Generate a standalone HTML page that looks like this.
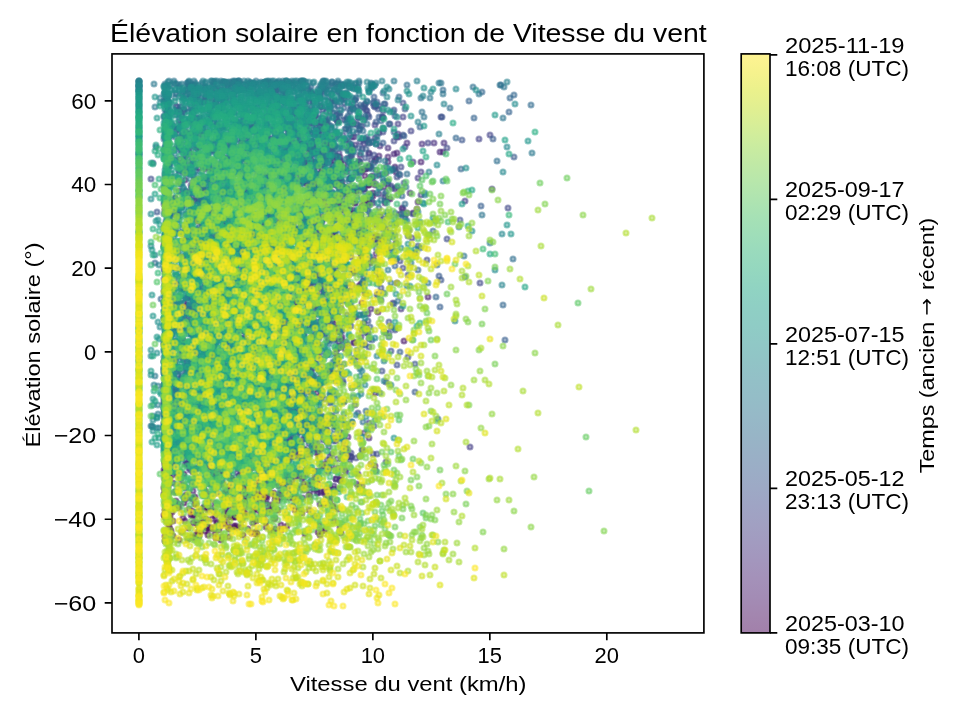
<!DOCTYPE html>
<html><head><meta charset="utf-8"><style>
html,body{margin:0;padding:0;background:#fff;overflow:hidden}
svg{display:block;will-change:transform}
text{font-family:"Liberation Sans",sans-serif;fill:#000}
#sc circle{r:2.5px}
</style></head><body>
<svg width="960" height="720" viewBox="0 0 960 720">
<defs><linearGradient id="cbg" x1="0" y1="1" x2="0" y2="0"><stop offset="0.0000" stop-color="#a280aa"/><stop offset="0.0312" stop-color="#a386af"/><stop offset="0.0625" stop-color="#a38cb5"/><stop offset="0.0938" stop-color="#a491b9"/><stop offset="0.1250" stop-color="#a396bd"/><stop offset="0.1562" stop-color="#a29bc0"/><stop offset="0.1875" stop-color="#a1a0c2"/><stop offset="0.2188" stop-color="#9fa4c4"/><stop offset="0.2500" stop-color="#9da9c5"/><stop offset="0.2812" stop-color="#9badc6"/><stop offset="0.3125" stop-color="#99b1c6"/><stop offset="0.3438" stop-color="#97b5c6"/><stop offset="0.3750" stop-color="#96b9c7"/><stop offset="0.4062" stop-color="#94bdc7"/><stop offset="0.4375" stop-color="#93c0c7"/><stop offset="0.4688" stop-color="#91c4c6"/><stop offset="0.5000" stop-color="#90c8c6"/><stop offset="0.5312" stop-color="#8fccc5"/><stop offset="0.5625" stop-color="#8fcfc4"/><stop offset="0.5938" stop-color="#90d3c2"/><stop offset="0.6250" stop-color="#94d7bf"/><stop offset="0.6562" stop-color="#99dabd"/><stop offset="0.6875" stop-color="#9fdeb9"/><stop offset="0.7188" stop-color="#a6e1b5"/><stop offset="0.7500" stop-color="#afe4b0"/><stop offset="0.7812" stop-color="#b8e7ab"/><stop offset="0.8125" stop-color="#c1e9a5"/><stop offset="0.8438" stop-color="#cbec9f"/><stop offset="0.8750" stop-color="#d6ee98"/><stop offset="0.9062" stop-color="#e1ef91"/><stop offset="0.9375" stop-color="#ebf18c"/><stop offset="0.9688" stop-color="#f6f28d"/><stop offset="1.0000" stop-color="#fef392"/></linearGradient><clipPath id="axc"><rect x="112.0" y="53.9" width="591.90" height="579.00"/></clipPath></defs>
<rect width="960" height="720" fill="#fff"/>
<g id="sc" clip-path="url(#axc)" fill-opacity="0.5" stroke-opacity="0.5" stroke-width="2.1">
<g fill="#450457" stroke="#450457"><circle cx="207" cy="204"/><circle cx="183" cy="247"/><circle cx="206" cy="258"/><circle cx="266" cy="496"/><circle cx="255" cy="519"/><circle cx="200" cy="532"/><circle cx="196" cy="535"/><circle cx="179" cy="540"/><circle cx="170" cy="541"/><circle cx="165" cy="541"/><circle cx="173" cy="536"/><circle cx="215" cy="534"/><circle cx="205" cy="531"/><circle cx="169" cy="520"/><circle cx="169" cy="516"/><circle cx="172" cy="512"/><circle cx="184" cy="474"/><circle cx="238" cy="468"/><circle cx="315" cy="275"/><circle cx="363" cy="269"/><circle cx="370" cy="263"/><circle cx="362" cy="257"/><circle cx="333" cy="236"/><circle cx="368" cy="205"/><circle cx="355" cy="203"/><circle cx="323" cy="241"/><circle cx="304" cy="484"/><circle cx="314" cy="489"/><circle cx="319" cy="525"/><circle cx="322" cy="531"/><circle cx="341" cy="533"/><circle cx="320" cy="535"/><circle cx="188" cy="539"/><circle cx="221" cy="540"/><circle cx="216" cy="538"/><circle cx="192" cy="537"/><circle cx="182" cy="532"/><circle cx="203" cy="519"/><circle cx="263" cy="500"/><circle cx="298" cy="305"/><circle cx="240" cy="225"/><circle cx="362" cy="206"/><circle cx="317" cy="393"/><circle cx="165" cy="465"/><circle cx="164" cy="488"/><circle cx="164" cy="494"/><circle cx="184" cy="503"/><circle cx="204" cy="508"/><circle cx="210" cy="529"/><circle cx="229" cy="537"/><circle cx="194" cy="538"/><circle cx="222" cy="537"/><circle cx="208" cy="535"/><circle cx="237" cy="528"/><circle cx="232" cy="517"/><circle cx="303" cy="477"/><circle cx="318" cy="344"/><circle cx="307" cy="297"/><circle cx="239" cy="249"/><circle cx="265" cy="224"/><circle cx="356" cy="191"/><circle cx="343" cy="193"/><circle cx="362" cy="272"/><circle cx="361" cy="284"/><circle cx="350" cy="291"/><circle cx="312" cy="324"/><circle cx="295" cy="446"/><circle cx="178" cy="507"/><circle cx="192" cy="511"/><circle cx="194" cy="515"/><circle cx="206" cy="519"/><circle cx="198" cy="525"/><circle cx="213" cy="528"/><circle cx="243" cy="535"/><circle cx="165" cy="536"/><circle cx="199" cy="536"/><circle cx="171" cy="531"/><circle cx="170" cy="529"/><circle cx="169" cy="526"/><circle cx="169" cy="523"/><circle cx="164" cy="515"/><circle cx="195" cy="497"/><circle cx="182" cy="289"/></g>
<g fill="#460a5d" stroke="#460a5d"><circle cx="191" cy="200"/><circle cx="175" cy="198"/><circle cx="204" cy="190"/><circle cx="328" cy="496"/><circle cx="330" cy="501"/><circle cx="257" cy="510"/><circle cx="232" cy="517"/><circle cx="275" cy="529"/><circle cx="271" cy="531"/><circle cx="256" cy="534"/><circle cx="257" cy="534"/><circle cx="305" cy="534"/><circle cx="252" cy="533"/><circle cx="198" cy="532"/><circle cx="200" cy="514"/><circle cx="164" cy="404"/><circle cx="202" cy="328"/><circle cx="299" cy="212"/><circle cx="347" cy="208"/><circle cx="344" cy="192"/><circle cx="347" cy="188"/><circle cx="373" cy="196"/><circle cx="369" cy="199"/><circle cx="340" cy="205"/><circle cx="317" cy="213"/><circle cx="186" cy="495"/><circle cx="255" cy="508"/><circle cx="266" cy="522"/><circle cx="241" cy="527"/><circle cx="248" cy="529"/><circle cx="256" cy="532"/><circle cx="318" cy="532"/><circle cx="325" cy="530"/><circle cx="314" cy="516"/><circle cx="334" cy="489"/><circle cx="262" cy="472"/><circle cx="183" cy="340"/><circle cx="178" cy="214"/><circle cx="165" cy="210"/><circle cx="193" cy="472"/><circle cx="230" cy="478"/><circle cx="266" cy="483"/><circle cx="235" cy="507"/><circle cx="252" cy="514"/><circle cx="256" cy="521"/><circle cx="340" cy="527"/><circle cx="281" cy="530"/><circle cx="273" cy="531"/><circle cx="287" cy="526"/><circle cx="334" cy="521"/><circle cx="278" cy="510"/><circle cx="245" cy="502"/><circle cx="245" cy="497"/><circle cx="289" cy="482"/><circle cx="319" cy="421"/><circle cx="315" cy="232"/><circle cx="335" cy="185"/><circle cx="369" cy="185"/><circle cx="344" cy="187"/><circle cx="364" cy="189"/><circle cx="354" cy="191"/><circle cx="373" cy="193"/><circle cx="390" cy="199"/><circle cx="350" cy="210"/><circle cx="314" cy="306"/><circle cx="306" cy="471"/><circle cx="267" cy="497"/><circle cx="271" cy="505"/><circle cx="266" cy="527"/><circle cx="216" cy="529"/><circle cx="219" cy="530"/><circle cx="229" cy="529"/><circle cx="281" cy="525"/><circle cx="173" cy="464"/><circle cx="332" cy="392"/></g>
<g fill="#471063" stroke="#471063"><circle cx="228" cy="217"/><circle cx="225" cy="222"/><circle cx="361" cy="254"/><circle cx="374" cy="260"/><circle cx="378" cy="312"/><circle cx="279" cy="486"/><circle cx="228" cy="500"/><circle cx="195" cy="504"/><circle cx="191" cy="515"/><circle cx="183" cy="518"/><circle cx="196" cy="522"/><circle cx="220" cy="526"/><circle cx="209" cy="527"/><circle cx="207" cy="528"/><circle cx="234" cy="528"/><circle cx="229" cy="528"/><circle cx="207" cy="527"/><circle cx="188" cy="528"/><circle cx="253" cy="523"/><circle cx="261" cy="514"/><circle cx="182" cy="450"/><circle cx="183" cy="257"/><circle cx="164" cy="245"/><circle cx="342" cy="182"/><circle cx="307" cy="184"/><circle cx="353" cy="271"/><circle cx="380" cy="278"/><circle cx="244" cy="331"/><circle cx="307" cy="469"/><circle cx="336" cy="479"/><circle cx="285" cy="489"/><circle cx="281" cy="494"/><circle cx="293" cy="498"/><circle cx="273" cy="506"/><circle cx="264" cy="513"/><circle cx="173" cy="521"/><circle cx="228" cy="524"/><circle cx="234" cy="526"/><circle cx="236" cy="526"/><circle cx="203" cy="523"/><circle cx="185" cy="521"/><circle cx="165" cy="516"/><circle cx="166" cy="513"/><circle cx="176" cy="501"/><circle cx="206" cy="492"/><circle cx="173" cy="483"/><circle cx="165" cy="472"/><circle cx="333" cy="320"/><circle cx="345" cy="261"/><circle cx="396" cy="243"/><circle cx="363" cy="238"/><circle cx="362" cy="232"/><circle cx="353" cy="222"/><circle cx="330" cy="212"/><circle cx="368" cy="185"/><circle cx="186" cy="240"/><circle cx="362" cy="303"/><circle cx="258" cy="478"/><circle cx="283" cy="483"/><circle cx="244" cy="501"/><circle cx="273" cy="508"/><circle cx="235" cy="517"/><circle cx="193" cy="523"/><circle cx="198" cy="524"/><circle cx="220" cy="524"/><circle cx="224" cy="524"/><circle cx="203" cy="525"/><circle cx="200" cy="523"/><circle cx="264" cy="519"/><circle cx="235" cy="517"/><circle cx="214" cy="511"/><circle cx="208" cy="508"/><circle cx="196" cy="504"/><circle cx="292" cy="495"/><circle cx="230" cy="486"/><circle cx="322" cy="282"/><circle cx="337" cy="288"/><circle cx="321" cy="449"/><circle cx="375" cy="466"/><circle cx="341" cy="477"/><circle cx="324" cy="491"/><circle cx="296" cy="500"/><circle cx="309" cy="510"/><circle cx="227" cy="518"/><circle cx="242" cy="520"/><circle cx="217" cy="522"/><circle cx="217" cy="523"/><circle cx="302" cy="513"/><circle cx="293" cy="506"/><circle cx="280" cy="498"/><circle cx="297" cy="304"/></g>
<g fill="#481668" stroke="#481668"><circle cx="218" cy="224"/><circle cx="366" cy="203"/><circle cx="317" cy="256"/><circle cx="345" cy="287"/><circle cx="287" cy="321"/><circle cx="217" cy="470"/><circle cx="284" cy="494"/><circle cx="224" cy="514"/><circle cx="212" cy="519"/><circle cx="167" cy="521"/><circle cx="201" cy="514"/><circle cx="275" cy="496"/><circle cx="320" cy="378"/><circle cx="317" cy="191"/><circle cx="375" cy="185"/><circle cx="365" cy="176"/><circle cx="351" cy="178"/><circle cx="195" cy="201"/><circle cx="198" cy="220"/><circle cx="216" cy="237"/><circle cx="404" cy="341"/><circle cx="196" cy="469"/><circle cx="274" cy="519"/><circle cx="275" cy="518"/><circle cx="226" cy="509"/><circle cx="291" cy="476"/><circle cx="259" cy="471"/><circle cx="285" cy="328"/><circle cx="369" cy="201"/><circle cx="200" cy="230"/><circle cx="297" cy="292"/><circle cx="368" cy="333"/><circle cx="329" cy="340"/><circle cx="341" cy="347"/><circle cx="344" cy="433"/><circle cx="300" cy="457"/><circle cx="223" cy="473"/><circle cx="229" cy="487"/><circle cx="176" cy="492"/><circle cx="165" cy="503"/><circle cx="189" cy="509"/><circle cx="170" cy="516"/><circle cx="165" cy="517"/><circle cx="169" cy="518"/><circle cx="204" cy="489"/><circle cx="377" cy="236"/><circle cx="335" cy="219"/><circle cx="350" cy="179"/><circle cx="262" cy="175"/><circle cx="307" cy="218"/><circle cx="302" cy="223"/><circle cx="307" cy="284"/><circle cx="338" cy="332"/><circle cx="341" cy="339"/><circle cx="331" cy="373"/><circle cx="324" cy="504"/><circle cx="254" cy="509"/><circle cx="233" cy="513"/><circle cx="245" cy="516"/><circle cx="215" cy="516"/><circle cx="193" cy="516"/><circle cx="227" cy="515"/><circle cx="252" cy="513"/><circle cx="200" cy="511"/><circle cx="209" cy="499"/><circle cx="168" cy="492"/><circle cx="168" cy="487"/><circle cx="194" cy="468"/></g>
<g fill="#481b6d" stroke="#481b6d"><circle cx="362" cy="228"/><circle cx="385" cy="203"/><circle cx="418" cy="202"/><circle cx="348" cy="283"/><circle cx="164" cy="470"/><circle cx="165" cy="510"/><circle cx="232" cy="490"/><circle cx="298" cy="476"/><circle cx="314" cy="471"/><circle cx="375" cy="393"/><circle cx="428" cy="297"/><circle cx="397" cy="283"/><circle cx="318" cy="185"/><circle cx="362" cy="171"/><circle cx="310" cy="184"/><circle cx="315" cy="188"/><circle cx="196" cy="221"/><circle cx="180" cy="269"/><circle cx="283" cy="323"/><circle cx="317" cy="453"/><circle cx="320" cy="504"/><circle cx="333" cy="506"/><circle cx="301" cy="510"/><circle cx="270" cy="511"/><circle cx="235" cy="512"/><circle cx="267" cy="513"/><circle cx="245" cy="513"/><circle cx="197" cy="512"/><circle cx="208" cy="510"/><circle cx="248" cy="492"/><circle cx="242" cy="488"/><circle cx="210" cy="470"/><circle cx="164" cy="385"/><circle cx="321" cy="288"/><circle cx="233" cy="243"/><circle cx="208" cy="167"/><circle cx="207" cy="167"/><circle cx="199" cy="168"/><circle cx="185" cy="180"/><circle cx="344" cy="209"/><circle cx="400" cy="214"/><circle cx="384" cy="237"/><circle cx="361" cy="249"/><circle cx="328" cy="288"/><circle cx="251" cy="468"/><circle cx="333" cy="507"/><circle cx="338" cy="509"/><circle cx="276" cy="510"/><circle cx="243" cy="511"/><circle cx="225" cy="510"/><circle cx="241" cy="508"/><circle cx="251" cy="506"/><circle cx="192" cy="498"/><circle cx="231" cy="487"/><circle cx="232" cy="478"/><circle cx="224" cy="473"/><circle cx="164" cy="370"/><circle cx="379" cy="175"/><circle cx="396" cy="172"/><circle cx="395" cy="167"/><circle cx="369" cy="166"/><circle cx="333" cy="165"/><circle cx="314" cy="181"/><circle cx="413" cy="213"/><circle cx="202" cy="224"/><circle cx="324" cy="293"/><circle cx="183" cy="342"/><circle cx="232" cy="480"/><circle cx="263" cy="492"/><circle cx="268" cy="510"/><circle cx="299" cy="510"/><circle cx="295" cy="510"/><circle cx="266" cy="504"/><circle cx="260" cy="502"/><circle cx="317" cy="489"/><circle cx="308" cy="485"/></g>
<g fill="#482071" stroke="#482071"><circle cx="326" cy="206"/><circle cx="384" cy="187"/><circle cx="308" cy="201"/><circle cx="322" cy="217"/><circle cx="307" cy="240"/><circle cx="330" cy="266"/><circle cx="287" cy="341"/><circle cx="268" cy="460"/><circle cx="193" cy="491"/><circle cx="175" cy="504"/><circle cx="170" cy="505"/><circle cx="166" cy="508"/><circle cx="211" cy="508"/><circle cx="179" cy="508"/><circle cx="204" cy="507"/><circle cx="235" cy="505"/><circle cx="295" cy="494"/><circle cx="266" cy="483"/><circle cx="286" cy="475"/><circle cx="293" cy="449"/><circle cx="309" cy="400"/><circle cx="335" cy="325"/><circle cx="192" cy="251"/><circle cx="176" cy="232"/><circle cx="365" cy="169"/><circle cx="357" cy="164"/><circle cx="421" cy="162"/><circle cx="388" cy="162"/><circle cx="340" cy="162"/><circle cx="370" cy="167"/><circle cx="366" cy="169"/><circle cx="347" cy="172"/><circle cx="215" cy="353"/><circle cx="175" cy="459"/><circle cx="234" cy="493"/><circle cx="178" cy="504"/><circle cx="245" cy="507"/><circle cx="229" cy="506"/><circle cx="169" cy="493"/><circle cx="267" cy="468"/><circle cx="260" cy="463"/><circle cx="267" cy="372"/><circle cx="315" cy="180"/><circle cx="229" cy="244"/><circle cx="174" cy="290"/><circle cx="335" cy="339"/><circle cx="262" cy="373"/><circle cx="223" cy="472"/><circle cx="223" cy="484"/><circle cx="211" cy="494"/><circle cx="169" cy="504"/><circle cx="215" cy="503"/><circle cx="185" cy="499"/><circle cx="184" cy="497"/><circle cx="284" cy="480"/><circle cx="214" cy="476"/><circle cx="164" cy="440"/><circle cx="324" cy="201"/><circle cx="376" cy="159"/><circle cx="375" cy="161"/><circle cx="339" cy="188"/><circle cx="385" cy="197"/><circle cx="402" cy="208"/><circle cx="407" cy="213"/><circle cx="266" cy="225"/><circle cx="184" cy="303"/><circle cx="259" cy="462"/><circle cx="168" cy="475"/><circle cx="280" cy="493"/><circle cx="260" cy="495"/><circle cx="285" cy="497"/><circle cx="240" cy="502"/><circle cx="208" cy="503"/><circle cx="256" cy="500"/><circle cx="224" cy="493"/><circle cx="317" cy="355"/><circle cx="337" cy="349"/><circle cx="339" cy="342"/></g>
<g fill="#482576" stroke="#482576"><circle cx="368" cy="314"/><circle cx="365" cy="293"/><circle cx="359" cy="286"/><circle cx="364" cy="253"/><circle cx="344" cy="164"/><circle cx="326" cy="158"/><circle cx="226" cy="158"/><circle cx="315" cy="174"/><circle cx="343" cy="187"/><circle cx="364" cy="201"/><circle cx="332" cy="295"/><circle cx="371" cy="309"/><circle cx="362" cy="330"/><circle cx="328" cy="337"/><circle cx="354" cy="343"/><circle cx="337" cy="364"/><circle cx="330" cy="371"/><circle cx="188" cy="498"/><circle cx="193" cy="499"/><circle cx="266" cy="501"/><circle cx="278" cy="501"/><circle cx="238" cy="500"/><circle cx="226" cy="494"/><circle cx="186" cy="488"/><circle cx="195" cy="485"/><circle cx="229" cy="473"/><circle cx="335" cy="232"/><circle cx="308" cy="165"/><circle cx="307" cy="163"/><circle cx="340" cy="157"/><circle cx="334" cy="161"/><circle cx="386" cy="173"/><circle cx="371" cy="177"/><circle cx="341" cy="185"/><circle cx="199" cy="281"/><circle cx="192" cy="308"/><circle cx="354" cy="342"/><circle cx="337" cy="356"/><circle cx="311" cy="370"/><circle cx="242" cy="494"/><circle cx="257" cy="496"/><circle cx="253" cy="499"/><circle cx="275" cy="500"/><circle cx="330" cy="497"/><circle cx="309" cy="495"/><circle cx="321" cy="492"/><circle cx="240" cy="475"/><circle cx="217" cy="467"/><circle cx="201" cy="191"/><circle cx="360" cy="155"/><circle cx="379" cy="156"/><circle cx="324" cy="165"/><circle cx="374" cy="240"/><circle cx="310" cy="286"/><circle cx="364" cy="328"/><circle cx="176" cy="448"/><circle cx="213" cy="475"/><circle cx="260" cy="482"/><circle cx="324" cy="493"/><circle cx="310" cy="497"/><circle cx="303" cy="498"/><circle cx="289" cy="498"/><circle cx="298" cy="498"/><circle cx="326" cy="495"/><circle cx="309" cy="485"/><circle cx="292" cy="481"/><circle cx="280" cy="456"/><circle cx="196" cy="445"/><circle cx="240" cy="269"/><circle cx="373" cy="176"/><circle cx="388" cy="157"/><circle cx="394" cy="154"/><circle cx="397" cy="153"/><circle cx="443" cy="152"/><circle cx="440" cy="152"/><circle cx="369" cy="153"/><circle cx="359" cy="161"/><circle cx="352" cy="164"/><circle cx="361" cy="170"/><circle cx="361" cy="214"/><circle cx="335" cy="327"/><circle cx="200" cy="461"/><circle cx="259" cy="484"/><circle cx="287" cy="487"/><circle cx="217" cy="493"/><circle cx="251" cy="497"/><circle cx="233" cy="496"/><circle cx="274" cy="493"/><circle cx="288" cy="476"/><circle cx="322" cy="464"/><circle cx="299" cy="454"/><circle cx="317" cy="449"/></g>
<g fill="#472a7a" stroke="#472a7a"><circle cx="376" cy="254"/><circle cx="342" cy="204"/><circle cx="335" cy="199"/><circle cx="180" cy="159"/><circle cx="179" cy="191"/><circle cx="187" cy="305"/><circle cx="257" cy="495"/><circle cx="237" cy="494"/><circle cx="244" cy="495"/><circle cx="250" cy="494"/><circle cx="286" cy="490"/><circle cx="302" cy="487"/><circle cx="341" cy="481"/><circle cx="319" cy="478"/><circle cx="297" cy="471"/><circle cx="332" cy="466"/><circle cx="351" cy="457"/><circle cx="346" cy="448"/><circle cx="348" cy="437"/><circle cx="266" cy="227"/><circle cx="165" cy="154"/><circle cx="213" cy="151"/><circle cx="309" cy="149"/><circle cx="293" cy="158"/><circle cx="225" cy="168"/><circle cx="293" cy="176"/><circle cx="337" cy="206"/><circle cx="192" cy="318"/><circle cx="319" cy="454"/><circle cx="283" cy="459"/><circle cx="357" cy="484"/><circle cx="362" cy="486"/><circle cx="310" cy="492"/><circle cx="271" cy="493"/><circle cx="318" cy="493"/><circle cx="317" cy="493"/><circle cx="253" cy="490"/><circle cx="256" cy="486"/><circle cx="222" cy="480"/><circle cx="316" cy="306"/><circle cx="342" cy="292"/><circle cx="327" cy="152"/><circle cx="364" cy="189"/><circle cx="375" cy="236"/><circle cx="320" cy="276"/><circle cx="299" cy="415"/><circle cx="369" cy="438"/><circle cx="264" cy="473"/><circle cx="260" cy="480"/><circle cx="232" cy="482"/><circle cx="247" cy="485"/><circle cx="226" cy="491"/><circle cx="233" cy="492"/><circle cx="175" cy="492"/><circle cx="165" cy="492"/><circle cx="244" cy="489"/><circle cx="271" cy="486"/><circle cx="272" cy="481"/><circle cx="273" cy="478"/><circle cx="268" cy="475"/><circle cx="200" cy="467"/><circle cx="190" cy="463"/><circle cx="187" cy="311"/><circle cx="314" cy="236"/><circle cx="320" cy="174"/><circle cx="189" cy="149"/><circle cx="285" cy="146"/><circle cx="333" cy="169"/><circle cx="322" cy="173"/><circle cx="358" cy="188"/><circle cx="410" cy="193"/><circle cx="351" cy="222"/><circle cx="355" cy="228"/><circle cx="330" cy="235"/><circle cx="379" cy="275"/><circle cx="344" cy="288"/><circle cx="306" cy="302"/><circle cx="328" cy="323"/><circle cx="305" cy="330"/><circle cx="342" cy="337"/><circle cx="358" cy="357"/><circle cx="313" cy="377"/><circle cx="316" cy="483"/><circle cx="329" cy="489"/><circle cx="258" cy="490"/><circle cx="288" cy="491"/><circle cx="304" cy="490"/><circle cx="170" cy="477"/></g>
<g fill="#472f7d" stroke="#472f7d"><circle cx="298" cy="296"/><circle cx="379" cy="242"/><circle cx="357" cy="235"/><circle cx="386" cy="229"/><circle cx="380" cy="216"/><circle cx="353" cy="210"/><circle cx="283" cy="187"/><circle cx="303" cy="182"/><circle cx="301" cy="157"/><circle cx="324" cy="145"/><circle cx="227" cy="144"/><circle cx="241" cy="146"/><circle cx="282" cy="157"/><circle cx="165" cy="203"/><circle cx="274" cy="247"/><circle cx="358" cy="474"/><circle cx="340" cy="480"/><circle cx="318" cy="484"/><circle cx="334" cy="486"/><circle cx="330" cy="488"/><circle cx="340" cy="489"/><circle cx="297" cy="488"/><circle cx="216" cy="478"/><circle cx="173" cy="475"/><circle cx="315" cy="363"/><circle cx="248" cy="329"/><circle cx="300" cy="176"/><circle cx="300" cy="156"/><circle cx="388" cy="148"/><circle cx="422" cy="144"/><circle cx="434" cy="143"/><circle cx="407" cy="143"/><circle cx="444" cy="143"/><circle cx="380" cy="146"/><circle cx="352" cy="147"/><circle cx="309" cy="152"/><circle cx="247" cy="191"/><circle cx="223" cy="220"/><circle cx="310" cy="454"/><circle cx="300" cy="458"/><circle cx="323" cy="466"/><circle cx="277" cy="483"/><circle cx="293" cy="487"/><circle cx="291" cy="487"/><circle cx="196" cy="459"/><circle cx="279" cy="328"/><circle cx="287" cy="321"/><circle cx="198" cy="307"/><circle cx="366" cy="252"/><circle cx="333" cy="239"/><circle cx="354" cy="213"/><circle cx="302" cy="207"/><circle cx="340" cy="179"/><circle cx="331" cy="170"/><circle cx="196" cy="148"/><circle cx="369" cy="143"/><circle cx="388" cy="184"/><circle cx="350" cy="190"/><circle cx="336" cy="279"/><circle cx="301" cy="393"/><circle cx="364" cy="433"/><circle cx="335" cy="438"/><circle cx="288" cy="461"/><circle cx="295" cy="477"/><circle cx="302" cy="479"/><circle cx="311" cy="481"/><circle cx="242" cy="484"/><circle cx="261" cy="486"/><circle cx="237" cy="486"/><circle cx="246" cy="486"/><circle cx="359" cy="486"/><circle cx="220" cy="485"/><circle cx="257" cy="484"/><circle cx="218" cy="482"/><circle cx="224" cy="475"/><circle cx="165" cy="469"/><circle cx="189" cy="461"/><circle cx="325" cy="327"/><circle cx="322" cy="320"/><circle cx="331" cy="278"/><circle cx="318" cy="271"/><circle cx="227" cy="225"/><circle cx="369" cy="168"/><circle cx="182" cy="206"/><circle cx="333" cy="212"/><circle cx="197" cy="244"/><circle cx="315" cy="264"/><circle cx="309" cy="326"/><circle cx="213" cy="470"/><circle cx="184" cy="485"/><circle cx="181" cy="485"/><circle cx="210" cy="484"/><circle cx="211" cy="484"/><circle cx="217" cy="476"/><circle cx="327" cy="464"/></g>
<g fill="#463480" stroke="#463480"><circle cx="301" cy="223"/><circle cx="212" cy="172"/><circle cx="221" cy="167"/><circle cx="247" cy="162"/><circle cx="198" cy="148"/><circle cx="231" cy="143"/><circle cx="272" cy="139"/><circle cx="165" cy="177"/><circle cx="164" cy="187"/><circle cx="209" cy="211"/><circle cx="246" cy="482"/><circle cx="269" cy="483"/><circle cx="242" cy="483"/><circle cx="244" cy="338"/><circle cx="340" cy="331"/><circle cx="300" cy="324"/><circle cx="297" cy="303"/><circle cx="371" cy="215"/><circle cx="417" cy="209"/><circle cx="373" cy="203"/><circle cx="318" cy="170"/><circle cx="354" cy="137"/><circle cx="397" cy="137"/><circle cx="352" cy="137"/><circle cx="165" cy="297"/><circle cx="354" cy="310"/><circle cx="279" cy="331"/><circle cx="275" cy="464"/><circle cx="255" cy="467"/><circle cx="299" cy="473"/><circle cx="306" cy="475"/><circle cx="315" cy="479"/><circle cx="268" cy="480"/><circle cx="192" cy="482"/><circle cx="181" cy="479"/><circle cx="173" cy="464"/><circle cx="164" cy="343"/><circle cx="185" cy="316"/><circle cx="191" cy="202"/><circle cx="227" cy="190"/><circle cx="322" cy="169"/><circle cx="139" cy="155"/><circle cx="355" cy="145"/><circle cx="346" cy="140"/><circle cx="285" cy="152"/><circle cx="340" cy="197"/><circle cx="403" cy="209"/><circle cx="351" cy="268"/><circle cx="393" cy="303"/><circle cx="401" cy="309"/><circle cx="335" cy="316"/><circle cx="364" cy="323"/><circle cx="361" cy="337"/><circle cx="165" cy="480"/><circle cx="165" cy="478"/><circle cx="165" cy="472"/><circle cx="165" cy="463"/><circle cx="203" cy="321"/><circle cx="270" cy="246"/><circle cx="319" cy="200"/><circle cx="379" cy="194"/><circle cx="395" cy="189"/><circle cx="370" cy="167"/><circle cx="297" cy="154"/><circle cx="179" cy="134"/><circle cx="233" cy="144"/><circle cx="302" cy="163"/><circle cx="179" cy="369"/><circle cx="342" cy="437"/><circle cx="290" cy="467"/><circle cx="315" cy="477"/><circle cx="336" cy="479"/><circle cx="176" cy="473"/></g>
<g fill="#443983" stroke="#443983"><circle cx="164" cy="361"/><circle cx="183" cy="354"/><circle cx="339" cy="193"/><circle cx="366" cy="139"/><circle cx="398" cy="134"/><circle cx="165" cy="137"/><circle cx="339" cy="153"/><circle cx="413" cy="162"/><circle cx="421" cy="172"/><circle cx="421" cy="195"/><circle cx="364" cy="226"/><circle cx="378" cy="239"/><circle cx="364" cy="259"/><circle cx="353" cy="273"/><circle cx="325" cy="294"/><circle cx="176" cy="328"/><circle cx="165" cy="342"/><circle cx="263" cy="457"/><circle cx="196" cy="477"/><circle cx="206" cy="477"/><circle cx="262" cy="476"/><circle cx="291" cy="440"/><circle cx="337" cy="359"/><circle cx="164" cy="291"/><circle cx="165" cy="284"/><circle cx="206" cy="169"/><circle cx="180" cy="164"/><circle cx="207" cy="132"/><circle cx="289" cy="145"/><circle cx="337" cy="156"/><circle cx="341" cy="161"/><circle cx="269" cy="176"/><circle cx="405" cy="218"/><circle cx="320" cy="386"/><circle cx="237" cy="473"/><circle cx="217" cy="474"/><circle cx="239" cy="476"/><circle cx="243" cy="475"/><circle cx="297" cy="474"/><circle cx="293" cy="407"/><circle cx="295" cy="262"/><circle cx="280" cy="222"/><circle cx="355" cy="203"/><circle cx="323" cy="173"/><circle cx="348" cy="150"/><circle cx="289" cy="131"/><circle cx="319" cy="130"/><circle cx="307" cy="160"/><circle cx="373" cy="181"/><circle cx="397" cy="187"/><circle cx="388" cy="199"/><circle cx="352" cy="285"/><circle cx="254" cy="463"/><circle cx="212" cy="468"/><circle cx="345" cy="470"/><circle cx="289" cy="460"/><circle cx="319" cy="457"/><circle cx="265" cy="227"/><circle cx="298" cy="214"/><circle cx="492" cy="189"/><circle cx="303" cy="183"/><circle cx="418" cy="178"/><circle cx="203" cy="135"/><circle cx="165" cy="133"/><circle cx="240" cy="164"/><circle cx="200" cy="204"/><circle cx="197" cy="250"/><circle cx="204" cy="332"/><circle cx="202" cy="378"/><circle cx="273" cy="459"/><circle cx="242" cy="472"/><circle cx="376" cy="471"/><circle cx="208" cy="469"/></g>
<g fill="#433e85" stroke="#433e85"><circle cx="311" cy="393"/><circle cx="319" cy="356"/><circle cx="345" cy="349"/><circle cx="346" cy="342"/><circle cx="308" cy="308"/><circle cx="326" cy="302"/><circle cx="313" cy="194"/><circle cx="317" cy="176"/><circle cx="166" cy="197"/><circle cx="214" cy="209"/><circle cx="294" cy="222"/><circle cx="185" cy="249"/><circle cx="241" cy="338"/><circle cx="184" cy="452"/><circle cx="178" cy="461"/><circle cx="311" cy="470"/><circle cx="328" cy="472"/><circle cx="346" cy="472"/><circle cx="318" cy="471"/><circle cx="300" cy="469"/><circle cx="281" cy="457"/><circle cx="329" cy="447"/><circle cx="202" cy="380"/><circle cx="339" cy="266"/><circle cx="368" cy="245"/><circle cx="345" cy="238"/><circle cx="306" cy="225"/><circle cx="375" cy="138"/><circle cx="254" cy="127"/><circle cx="178" cy="215"/><circle cx="211" cy="221"/><circle cx="356" cy="317"/><circle cx="303" cy="439"/><circle cx="470" cy="447"/><circle cx="207" cy="464"/><circle cx="169" cy="466"/><circle cx="189" cy="468"/><circle cx="174" cy="469"/><circle cx="190" cy="470"/><circle cx="224" cy="470"/><circle cx="210" cy="469"/><circle cx="386" cy="333"/><circle cx="204" cy="327"/><circle cx="176" cy="306"/><circle cx="165" cy="292"/><circle cx="205" cy="285"/><circle cx="206" cy="278"/><circle cx="358" cy="237"/><circle cx="300" cy="180"/><circle cx="293" cy="174"/><circle cx="326" cy="163"/><circle cx="348" cy="158"/><circle cx="315" cy="153"/><circle cx="323" cy="148"/><circle cx="364" cy="144"/><circle cx="399" cy="137"/><circle cx="379" cy="133"/><circle cx="375" cy="125"/><circle cx="398" cy="124"/><circle cx="362" cy="126"/><circle cx="192" cy="188"/><circle cx="465" cy="201"/><circle cx="334" cy="234"/><circle cx="300" cy="247"/><circle cx="216" cy="343"/><circle cx="221" cy="467"/><circle cx="250" cy="469"/><circle cx="266" cy="468"/><circle cx="251" cy="460"/><circle cx="348" cy="345"/><circle cx="317" cy="325"/><circle cx="291" cy="291"/><circle cx="328" cy="284"/><circle cx="297" cy="270"/><circle cx="248" cy="190"/><circle cx="285" cy="178"/><circle cx="360" cy="162"/><circle cx="310" cy="124"/><circle cx="324" cy="125"/><circle cx="309" cy="200"/><circle cx="322" cy="219"/><circle cx="198" cy="288"/><circle cx="369" cy="423"/><circle cx="336" cy="441"/><circle cx="332" cy="454"/><circle cx="302" cy="457"/><circle cx="273" cy="465"/><circle cx="322" cy="467"/><circle cx="338" cy="468"/><circle cx="329" cy="468"/><circle cx="256" cy="456"/></g>
<g fill="#414287" stroke="#414287"><circle cx="281" cy="324"/><circle cx="325" cy="208"/><circle cx="234" cy="146"/><circle cx="312" cy="121"/><circle cx="325" cy="122"/><circle cx="253" cy="127"/><circle cx="191" cy="133"/><circle cx="192" cy="218"/><circle cx="210" cy="239"/><circle cx="178" cy="252"/><circle cx="235" cy="266"/><circle cx="173" cy="328"/><circle cx="183" cy="360"/><circle cx="186" cy="366"/><circle cx="164" cy="402"/><circle cx="187" cy="464"/><circle cx="236" cy="466"/><circle cx="170" cy="466"/><circle cx="296" cy="452"/><circle cx="304" cy="449"/><circle cx="232" cy="316"/><circle cx="309" cy="303"/><circle cx="354" cy="188"/><circle cx="338" cy="122"/><circle cx="390" cy="124"/><circle cx="411" cy="131"/><circle cx="490" cy="135"/><circle cx="479" cy="139"/><circle cx="428" cy="143"/><circle cx="405" cy="147"/><circle cx="336" cy="157"/><circle cx="314" cy="286"/><circle cx="311" cy="306"/><circle cx="301" cy="327"/><circle cx="293" cy="434"/><circle cx="240" cy="461"/><circle cx="187" cy="464"/><circle cx="200" cy="465"/><circle cx="176" cy="465"/><circle cx="209" cy="465"/><circle cx="204" cy="464"/><circle cx="185" cy="464"/><circle cx="263" cy="462"/><circle cx="250" cy="461"/><circle cx="289" cy="456"/><circle cx="175" cy="361"/><circle cx="193" cy="302"/><circle cx="339" cy="240"/><circle cx="331" cy="233"/><circle cx="327" cy="143"/><circle cx="362" cy="139"/><circle cx="343" cy="135"/><circle cx="336" cy="119"/><circle cx="318" cy="119"/><circle cx="321" cy="130"/><circle cx="244" cy="151"/><circle cx="191" cy="185"/><circle cx="296" cy="299"/><circle cx="164" cy="388"/><circle cx="371" cy="464"/><circle cx="386" cy="462"/><circle cx="342" cy="459"/><circle cx="308" cy="455"/><circle cx="252" cy="452"/><circle cx="297" cy="412"/><circle cx="323" cy="334"/><circle cx="279" cy="301"/><circle cx="412" cy="238"/><circle cx="376" cy="225"/><circle cx="315" cy="180"/><circle cx="351" cy="168"/><circle cx="231" cy="157"/><circle cx="327" cy="122"/><circle cx="403" cy="117"/><circle cx="382" cy="117"/><circle cx="358" cy="118"/><circle cx="246" cy="166"/><circle cx="165" cy="270"/><circle cx="186" cy="298"/><circle cx="315" cy="345"/><circle cx="315" cy="364"/><circle cx="313" cy="376"/><circle cx="386" cy="382"/><circle cx="303" cy="388"/><circle cx="303" cy="393"/><circle cx="175" cy="452"/><circle cx="165" cy="462"/><circle cx="165" cy="462"/><circle cx="186" cy="460"/></g>
<g fill="#3f4788" stroke="#3f4788"><circle cx="306" cy="340"/><circle cx="290" cy="320"/><circle cx="338" cy="313"/><circle cx="335" cy="306"/><circle cx="319" cy="279"/><circle cx="334" cy="272"/><circle cx="289" cy="258"/><circle cx="296" cy="237"/><circle cx="396" cy="224"/><circle cx="401" cy="167"/><circle cx="394" cy="141"/><circle cx="383" cy="132"/><circle cx="323" cy="118"/><circle cx="301" cy="215"/><circle cx="322" cy="222"/><circle cx="320" cy="235"/><circle cx="189" cy="297"/><circle cx="193" cy="324"/><circle cx="336" cy="381"/><circle cx="288" cy="398"/><circle cx="355" cy="405"/><circle cx="175" cy="388"/><circle cx="351" cy="257"/><circle cx="384" cy="236"/><circle cx="409" cy="230"/><circle cx="346" cy="223"/><circle cx="326" cy="177"/><circle cx="371" cy="160"/><circle cx="369" cy="154"/><circle cx="376" cy="144"/><circle cx="253" cy="124"/><circle cx="441" cy="117"/><circle cx="182" cy="116"/><circle cx="182" cy="124"/><circle cx="222" cy="127"/><circle cx="447" cy="148"/><circle cx="313" cy="170"/><circle cx="325" cy="182"/><circle cx="355" cy="188"/><circle cx="345" cy="194"/><circle cx="343" cy="214"/><circle cx="316" cy="228"/><circle cx="322" cy="234"/><circle cx="395" cy="330"/><circle cx="314" cy="368"/><circle cx="330" cy="374"/><circle cx="302" cy="397"/><circle cx="294" cy="412"/><circle cx="327" cy="430"/><circle cx="315" cy="447"/><circle cx="343" cy="454"/><circle cx="360" cy="456"/><circle cx="351" cy="457"/><circle cx="356" cy="458"/><circle cx="337" cy="459"/><circle cx="350" cy="460"/><circle cx="327" cy="460"/><circle cx="330" cy="460"/><circle cx="164" cy="369"/><circle cx="342" cy="331"/><circle cx="300" cy="325"/><circle cx="314" cy="311"/><circle cx="332" cy="304"/><circle cx="304" cy="277"/><circle cx="298" cy="229"/><circle cx="508" cy="208"/><circle cx="335" cy="202"/><circle cx="316" cy="164"/><circle cx="334" cy="159"/><circle cx="245" cy="134"/><circle cx="315" cy="115"/><circle cx="312" cy="152"/><circle cx="284" cy="163"/><circle cx="400" cy="261"/><circle cx="403" cy="268"/><circle cx="344" cy="289"/><circle cx="289" cy="342"/><circle cx="267" cy="373"/><circle cx="317" cy="443"/><circle cx="291" cy="446"/><circle cx="299" cy="451"/><circle cx="351" cy="453"/><circle cx="291" cy="457"/><circle cx="303" cy="459"/><circle cx="294" cy="457"/><circle cx="320" cy="457"/><circle cx="330" cy="456"/><circle cx="290" cy="452"/><circle cx="305" cy="450"/><circle cx="321" cy="447"/><circle cx="309" cy="444"/><circle cx="215" cy="356"/><circle cx="354" cy="317"/><circle cx="480" cy="283"/><circle cx="296" cy="276"/><circle cx="317" cy="255"/><circle cx="323" cy="228"/><circle cx="227" cy="188"/><circle cx="333" cy="152"/><circle cx="360" cy="142"/><circle cx="346" cy="129"/><circle cx="368" cy="115"/><circle cx="315" cy="116"/><circle cx="353" cy="124"/><circle cx="324" cy="128"/><circle cx="391" cy="186"/><circle cx="340" cy="199"/><circle cx="391" cy="233"/><circle cx="382" cy="240"/><circle cx="427" cy="260"/><circle cx="360" cy="288"/><circle cx="317" cy="295"/><circle cx="305" cy="439"/><circle cx="327" cy="442"/><circle cx="344" cy="447"/><circle cx="363" cy="450"/><circle cx="349" cy="455"/><circle cx="250" cy="457"/><circle cx="236" cy="458"/><circle cx="206" cy="457"/></g>
<g fill="#3e4c8a" stroke="#3e4c8a"><circle cx="296" cy="451"/><circle cx="300" cy="367"/><circle cx="313" cy="282"/><circle cx="332" cy="268"/><circle cx="328" cy="261"/><circle cx="348" cy="193"/><circle cx="297" cy="162"/><circle cx="349" cy="146"/><circle cx="250" cy="128"/><circle cx="383" cy="111"/><circle cx="367" cy="111"/><circle cx="247" cy="127"/><circle cx="151" cy="179"/><circle cx="186" cy="192"/><circle cx="192" cy="198"/><circle cx="303" cy="280"/><circle cx="323" cy="301"/><circle cx="316" cy="334"/><circle cx="164" cy="414"/><circle cx="164" cy="449"/><circle cx="169" cy="451"/><circle cx="183" cy="454"/><circle cx="203" cy="456"/><circle cx="175" cy="456"/><circle cx="169" cy="450"/><circle cx="181" cy="447"/><circle cx="191" cy="260"/><circle cx="447" cy="239"/><circle cx="202" cy="233"/><circle cx="225" cy="226"/><circle cx="300" cy="205"/><circle cx="371" cy="179"/><circle cx="289" cy="150"/><circle cx="300" cy="140"/><circle cx="319" cy="135"/><circle cx="338" cy="114"/><circle cx="366" cy="110"/><circle cx="311" cy="149"/><circle cx="306" cy="160"/><circle cx="313" cy="191"/><circle cx="315" cy="197"/><circle cx="271" cy="245"/><circle cx="165" cy="272"/><circle cx="164" cy="279"/><circle cx="165" cy="286"/><circle cx="330" cy="403"/><circle cx="358" cy="413"/><circle cx="335" cy="426"/><circle cx="267" cy="455"/><circle cx="187" cy="455"/><circle cx="262" cy="454"/><circle cx="233" cy="452"/><circle cx="286" cy="441"/><circle cx="299" cy="353"/><circle cx="320" cy="232"/><circle cx="374" cy="155"/><circle cx="362" cy="149"/><circle cx="296" cy="139"/><circle cx="308" cy="130"/><circle cx="242" cy="138"/><circle cx="211" cy="143"/><circle cx="254" cy="197"/><circle cx="173" cy="285"/><circle cx="408" cy="357"/><circle cx="291" cy="446"/><circle cx="342" cy="453"/><circle cx="377" cy="454"/><circle cx="373" cy="454"/><circle cx="286" cy="453"/><circle cx="297" cy="443"/><circle cx="293" cy="440"/><circle cx="325" cy="382"/><circle cx="317" cy="333"/><circle cx="313" cy="326"/><circle cx="355" cy="272"/><circle cx="401" cy="190"/><circle cx="227" cy="159"/><circle cx="315" cy="143"/><circle cx="285" cy="128"/><circle cx="394" cy="110"/><circle cx="383" cy="117"/><circle cx="344" cy="120"/><circle cx="357" cy="124"/><circle cx="316" cy="128"/><circle cx="331" cy="147"/><circle cx="397" cy="177"/><circle cx="241" cy="243"/><circle cx="210" cy="257"/><circle cx="323" cy="440"/><circle cx="345" cy="443"/><circle cx="218" cy="452"/><circle cx="294" cy="453"/><circle cx="238" cy="453"/></g>
<g fill="#3c508b" stroke="#3c508b"><circle cx="391" cy="351"/><circle cx="327" cy="278"/><circle cx="404" cy="183"/><circle cx="365" cy="158"/><circle cx="309" cy="147"/><circle cx="267" cy="137"/><circle cx="254" cy="132"/><circle cx="349" cy="163"/><circle cx="346" cy="169"/><circle cx="316" cy="222"/><circle cx="322" cy="236"/><circle cx="172" cy="297"/><circle cx="164" cy="311"/><circle cx="185" cy="449"/><circle cx="173" cy="450"/><circle cx="310" cy="451"/><circle cx="164" cy="385"/><circle cx="164" cy="325"/><circle cx="164" cy="318"/><circle cx="164" cy="305"/><circle cx="321" cy="222"/><circle cx="285" cy="152"/><circle cx="366" cy="141"/><circle cx="182" cy="136"/><circle cx="184" cy="110"/><circle cx="338" cy="106"/><circle cx="365" cy="105"/><circle cx="351" cy="106"/><circle cx="311" cy="110"/><circle cx="347" cy="118"/><circle cx="353" cy="122"/><circle cx="403" cy="135"/><circle cx="368" cy="140"/><circle cx="327" cy="145"/><circle cx="331" cy="151"/><circle cx="351" cy="157"/><circle cx="153" cy="163"/><circle cx="363" cy="169"/><circle cx="400" cy="175"/><circle cx="384" cy="181"/><circle cx="392" cy="188"/><circle cx="351" cy="201"/><circle cx="365" cy="207"/><circle cx="413" cy="214"/><circle cx="383" cy="221"/><circle cx="334" cy="228"/><circle cx="360" cy="235"/><circle cx="387" cy="249"/><circle cx="320" cy="303"/><circle cx="338" cy="373"/><circle cx="286" cy="443"/><circle cx="362" cy="450"/><circle cx="317" cy="450"/><circle cx="308" cy="451"/><circle cx="347" cy="449"/><circle cx="312" cy="449"/><circle cx="301" cy="442"/><circle cx="342" cy="283"/><circle cx="314" cy="270"/><circle cx="186" cy="214"/><circle cx="219" cy="201"/><circle cx="380" cy="188"/><circle cx="341" cy="169"/><circle cx="311" cy="156"/><circle cx="249" cy="151"/><circle cx="288" cy="130"/><circle cx="307" cy="125"/><circle cx="378" cy="109"/><circle cx="200" cy="134"/><circle cx="232" cy="156"/><circle cx="245" cy="168"/><circle cx="249" cy="193"/><circle cx="301" cy="227"/><circle cx="324" cy="262"/><circle cx="344" cy="269"/><circle cx="311" cy="296"/><circle cx="323" cy="303"/><circle cx="216" cy="449"/><circle cx="192" cy="449"/><circle cx="165" cy="448"/><circle cx="168" cy="448"/><circle cx="185" cy="367"/><circle cx="337" cy="289"/><circle cx="315" cy="255"/><circle cx="460" cy="220"/><circle cx="364" cy="108"/><circle cx="373" cy="103"/><circle cx="403" cy="103"/><circle cx="385" cy="104"/><circle cx="374" cy="106"/><circle cx="375" cy="107"/><circle cx="323" cy="110"/><circle cx="337" cy="120"/><circle cx="289" cy="124"/><circle cx="302" cy="144"/><circle cx="243" cy="193"/><circle cx="277" cy="220"/><circle cx="377" cy="268"/><circle cx="408" cy="275"/><circle cx="363" cy="281"/><circle cx="381" cy="288"/><circle cx="341" cy="308"/><circle cx="347" cy="315"/><circle cx="389" cy="322"/><circle cx="366" cy="328"/><circle cx="369" cy="347"/><circle cx="336" cy="353"/><circle cx="397" cy="365"/><circle cx="382" cy="371"/><circle cx="314" cy="387"/><circle cx="344" cy="402"/><circle cx="332" cy="416"/><circle cx="287" cy="448"/></g>
<g fill="#3a548c" stroke="#3a548c"><circle cx="286" cy="448"/><circle cx="172" cy="447"/><circle cx="321" cy="398"/><circle cx="310" cy="366"/><circle cx="278" cy="329"/><circle cx="317" cy="322"/><circle cx="337" cy="316"/><circle cx="207" cy="213"/><circle cx="198" cy="199"/><circle cx="352" cy="155"/><circle cx="349" cy="143"/><circle cx="331" cy="138"/><circle cx="327" cy="133"/><circle cx="383" cy="128"/><circle cx="319" cy="123"/><circle cx="330" cy="112"/><circle cx="305" cy="105"/><circle cx="321" cy="123"/><circle cx="314" cy="148"/><circle cx="311" cy="160"/><circle cx="304" cy="166"/><circle cx="157" cy="212"/><circle cx="176" cy="358"/><circle cx="321" cy="429"/><circle cx="305" cy="435"/><circle cx="329" cy="438"/><circle cx="286" cy="442"/><circle cx="285" cy="447"/><circle cx="267" cy="447"/><circle cx="312" cy="445"/><circle cx="290" cy="439"/><circle cx="245" cy="341"/><circle cx="178" cy="301"/><circle cx="377" cy="295"/><circle cx="178" cy="281"/><circle cx="324" cy="199"/><circle cx="287" cy="192"/><circle cx="248" cy="137"/><circle cx="297" cy="115"/><circle cx="176" cy="106"/><circle cx="164" cy="101"/><circle cx="208" cy="102"/><circle cx="197" cy="118"/><circle cx="241" cy="142"/><circle cx="186" cy="191"/><circle cx="189" cy="307"/><circle cx="198" cy="333"/><circle cx="165" cy="375"/><circle cx="176" cy="444"/><circle cx="290" cy="444"/><circle cx="293" cy="396"/><circle cx="343" cy="381"/><circle cx="415" cy="364"/><circle cx="327" cy="352"/><circle cx="301" cy="346"/><circle cx="389" cy="333"/><circle cx="391" cy="327"/><circle cx="368" cy="321"/><circle cx="378" cy="294"/><circle cx="441" cy="280"/><circle cx="415" cy="253"/><circle cx="418" cy="246"/><circle cx="360" cy="232"/><circle cx="335" cy="218"/><circle cx="369" cy="205"/><circle cx="335" cy="198"/><circle cx="313" cy="142"/><circle cx="308" cy="131"/><circle cx="326" cy="122"/><circle cx="369" cy="117"/><circle cx="362" cy="107"/><circle cx="177" cy="107"/><circle cx="442" cy="117"/><circle cx="165" cy="131"/><circle cx="191" cy="165"/><circle cx="179" cy="171"/><circle cx="352" cy="177"/><circle cx="308" cy="279"/><circle cx="321" cy="293"/><circle cx="305" cy="319"/><circle cx="351" cy="326"/><circle cx="331" cy="332"/><circle cx="319" cy="338"/><circle cx="301" cy="445"/><circle cx="178" cy="443"/><circle cx="178" cy="375"/><circle cx="322" cy="333"/><circle cx="332" cy="326"/><circle cx="321" cy="313"/><circle cx="381" cy="300"/><circle cx="312" cy="280"/><circle cx="396" cy="259"/><circle cx="280" cy="224"/><circle cx="192" cy="217"/><circle cx="179" cy="211"/><circle cx="164" cy="204"/><circle cx="168" cy="190"/><circle cx="181" cy="184"/><circle cx="208" cy="177"/><circle cx="196" cy="171"/><circle cx="188" cy="158"/><circle cx="209" cy="146"/><circle cx="242" cy="141"/><circle cx="199" cy="130"/><circle cx="359" cy="117"/><circle cx="313" cy="102"/><circle cx="332" cy="100"/><circle cx="377" cy="102"/><circle cx="344" cy="103"/><circle cx="379" cy="106"/><circle cx="405" cy="109"/><circle cx="364" cy="120"/><circle cx="319" cy="135"/><circle cx="462" cy="140"/><circle cx="313" cy="146"/><circle cx="376" cy="170"/><circle cx="368" cy="183"/><circle cx="253" cy="237"/><circle cx="313" cy="272"/><circle cx="243" cy="331"/><circle cx="258" cy="344"/><circle cx="165" cy="373"/></g>
<g fill="#38598c" stroke="#38598c"><circle cx="271" cy="443"/><circle cx="315" cy="442"/><circle cx="294" cy="440"/><circle cx="164" cy="424"/><circle cx="331" cy="279"/><circle cx="269" cy="177"/><circle cx="311" cy="108"/><circle cx="493" cy="139"/><circle cx="514" cy="157"/><circle cx="306" cy="182"/><circle cx="347" cy="189"/><circle cx="192" cy="250"/><circle cx="308" cy="305"/><circle cx="311" cy="372"/><circle cx="365" cy="378"/><circle cx="343" cy="383"/><circle cx="164" cy="434"/><circle cx="198" cy="251"/><circle cx="345" cy="237"/><circle cx="282" cy="189"/><circle cx="246" cy="139"/><circle cx="281" cy="134"/><circle cx="286" cy="124"/><circle cx="357" cy="107"/><circle cx="365" cy="104"/><circle cx="367" cy="102"/><circle cx="355" cy="100"/><circle cx="356" cy="98"/><circle cx="298" cy="97"/><circle cx="348" cy="97"/><circle cx="310" cy="102"/><circle cx="311" cy="123"/><circle cx="357" cy="133"/><circle cx="291" cy="139"/><circle cx="350" cy="150"/><circle cx="314" cy="162"/><circle cx="348" cy="195"/><circle cx="337" cy="208"/><circle cx="384" cy="215"/><circle cx="408" cy="236"/><circle cx="375" cy="243"/><circle cx="325" cy="304"/><circle cx="330" cy="366"/><circle cx="311" cy="392"/><circle cx="312" cy="402"/><circle cx="320" cy="406"/><circle cx="317" cy="414"/><circle cx="297" cy="435"/><circle cx="284" cy="437"/><circle cx="344" cy="442"/><circle cx="310" cy="436"/><circle cx="172" cy="398"/><circle cx="260" cy="388"/><circle cx="266" cy="367"/><circle cx="314" cy="337"/><circle cx="274" cy="250"/><circle cx="230" cy="236"/><circle cx="216" cy="229"/><circle cx="349" cy="202"/><circle cx="345" cy="188"/><circle cx="332" cy="182"/><circle cx="395" cy="169"/><circle cx="275" cy="133"/><circle cx="180" cy="110"/><circle cx="204" cy="101"/><circle cx="198" cy="96"/><circle cx="229" cy="96"/><circle cx="340" cy="113"/><circle cx="383" cy="118"/><circle cx="376" cy="122"/><circle cx="330" cy="228"/><circle cx="304" cy="249"/><circle cx="164" cy="303"/><circle cx="304" cy="335"/><circle cx="259" cy="348"/><circle cx="415" cy="392"/><circle cx="348" cy="427"/><circle cx="368" cy="430"/><circle cx="308" cy="438"/><circle cx="287" cy="310"/><circle cx="310" cy="284"/><circle cx="364" cy="277"/><circle cx="332" cy="270"/><circle cx="346" cy="236"/><circle cx="368" cy="229"/><circle cx="379" cy="208"/><circle cx="372" cy="201"/><circle cx="385" cy="194"/><circle cx="334" cy="181"/><circle cx="315" cy="162"/><circle cx="366" cy="149"/><circle cx="316" cy="132"/><circle cx="288" cy="127"/><circle cx="338" cy="122"/><circle cx="298" cy="100"/><circle cx="376" cy="105"/><circle cx="179" cy="121"/><circle cx="246" cy="126"/><circle cx="245" cy="143"/><circle cx="386" cy="167"/><circle cx="201" cy="200"/><circle cx="182" cy="207"/><circle cx="173" cy="214"/><circle cx="165" cy="269"/><circle cx="439" cy="276"/><circle cx="194" cy="303"/><circle cx="177" cy="328"/><circle cx="289" cy="409"/></g>
<g fill="#365d8d" stroke="#365d8d"><circle cx="296" cy="435"/><circle cx="311" cy="438"/><circle cx="333" cy="441"/><circle cx="240" cy="256"/><circle cx="254" cy="235"/><circle cx="317" cy="221"/><circle cx="165" cy="174"/><circle cx="192" cy="161"/><circle cx="383" cy="143"/><circle cx="175" cy="137"/><circle cx="394" cy="132"/><circle cx="348" cy="126"/><circle cx="297" cy="121"/><circle cx="379" cy="117"/><circle cx="332" cy="102"/><circle cx="374" cy="97"/><circle cx="282" cy="94"/><circle cx="320" cy="96"/><circle cx="352" cy="108"/><circle cx="255" cy="131"/><circle cx="275" cy="136"/><circle cx="240" cy="160"/><circle cx="224" cy="166"/><circle cx="213" cy="186"/><circle cx="198" cy="200"/><circle cx="191" cy="206"/><circle cx="268" cy="227"/><circle cx="301" cy="289"/><circle cx="352" cy="309"/><circle cx="330" cy="315"/><circle cx="350" cy="321"/><circle cx="224" cy="340"/><circle cx="400" cy="352"/><circle cx="181" cy="380"/><circle cx="292" cy="436"/><circle cx="177" cy="391"/><circle cx="196" cy="353"/><circle cx="308" cy="309"/><circle cx="300" cy="276"/><circle cx="392" cy="248"/><circle cx="307" cy="221"/><circle cx="336" cy="180"/><circle cx="337" cy="173"/><circle cx="309" cy="160"/><circle cx="319" cy="154"/><circle cx="359" cy="148"/><circle cx="372" cy="142"/><circle cx="404" cy="136"/><circle cx="349" cy="131"/><circle cx="331" cy="126"/><circle cx="395" cy="116"/><circle cx="326" cy="112"/><circle cx="344" cy="108"/><circle cx="353" cy="104"/><circle cx="211" cy="98"/><circle cx="268" cy="136"/><circle cx="311" cy="141"/><circle cx="314" cy="153"/><circle cx="481" cy="206"/><circle cx="186" cy="240"/><circle cx="202" cy="261"/><circle cx="306" cy="288"/><circle cx="334" cy="308"/><circle cx="364" cy="314"/><circle cx="370" cy="327"/><circle cx="366" cy="333"/><circle cx="369" cy="339"/><circle cx="223" cy="363"/><circle cx="292" cy="394"/><circle cx="271" cy="375"/><circle cx="339" cy="346"/><circle cx="372" cy="340"/><circle cx="314" cy="328"/><circle cx="312" cy="322"/><circle cx="176" cy="227"/><circle cx="181" cy="206"/><circle cx="341" cy="179"/><circle cx="327" cy="148"/><circle cx="357" cy="125"/><circle cx="346" cy="120"/><circle cx="336" cy="115"/><circle cx="321" cy="107"/><circle cx="182" cy="97"/><circle cx="169" cy="103"/><circle cx="184" cy="110"/><circle cx="176" cy="115"/><circle cx="251" cy="129"/><circle cx="279" cy="159"/><circle cx="308" cy="219"/><circle cx="350" cy="226"/><circle cx="222" cy="294"/><circle cx="440" cy="307"/><circle cx="179" cy="345"/><circle cx="164" cy="373"/><circle cx="164" cy="388"/><circle cx="374" cy="426"/><circle cx="336" cy="411"/><circle cx="305" cy="403"/><circle cx="169" cy="358"/><circle cx="195" cy="352"/><circle cx="505" cy="340"/><circle cx="348" cy="240"/><circle cx="354" cy="233"/><circle cx="320" cy="220"/><circle cx="325" cy="213"/><circle cx="332" cy="192"/><circle cx="292" cy="172"/><circle cx="287" cy="159"/><circle cx="176" cy="130"/><circle cx="192" cy="124"/><circle cx="350" cy="110"/><circle cx="321" cy="106"/><circle cx="205" cy="97"/><circle cx="177" cy="146"/><circle cx="250" cy="164"/><circle cx="326" cy="177"/><circle cx="376" cy="184"/><circle cx="360" cy="191"/><circle cx="317" cy="198"/><circle cx="335" cy="204"/><circle cx="349" cy="218"/><circle cx="316" cy="225"/><circle cx="303" cy="239"/><circle cx="337" cy="273"/><circle cx="198" cy="372"/><circle cx="181" cy="378"/><circle cx="164" cy="388"/></g>
<g fill="#34618d" stroke="#34618d"><circle cx="332" cy="423"/><circle cx="307" cy="418"/><circle cx="173" cy="384"/><circle cx="164" cy="345"/><circle cx="292" cy="301"/><circle cx="299" cy="219"/><circle cx="305" cy="205"/><circle cx="365" cy="192"/><circle cx="350" cy="178"/><circle cx="339" cy="159"/><circle cx="339" cy="135"/><circle cx="360" cy="129"/><circle cx="265" cy="119"/><circle cx="288" cy="106"/><circle cx="220" cy="102"/><circle cx="311" cy="92"/><circle cx="276" cy="91"/><circle cx="223" cy="105"/><circle cx="474" cy="118"/><circle cx="186" cy="170"/><circle cx="174" cy="177"/><circle cx="169" cy="218"/><circle cx="193" cy="231"/><circle cx="165" cy="245"/><circle cx="230" cy="344"/><circle cx="185" cy="372"/><circle cx="365" cy="345"/><circle cx="242" cy="339"/><circle cx="377" cy="267"/><circle cx="187" cy="253"/><circle cx="188" cy="239"/><circle cx="206" cy="232"/><circle cx="369" cy="219"/><circle cx="185" cy="165"/><circle cx="189" cy="152"/><circle cx="201" cy="146"/><circle cx="289" cy="129"/><circle cx="304" cy="123"/><circle cx="333" cy="113"/><circle cx="354" cy="109"/><circle cx="360" cy="105"/><circle cx="320" cy="98"/><circle cx="324" cy="92"/><circle cx="272" cy="90"/><circle cx="346" cy="93"/><circle cx="226" cy="98"/><circle cx="187" cy="108"/><circle cx="167" cy="112"/><circle cx="169" cy="117"/><circle cx="164" cy="139"/><circle cx="166" cy="144"/><circle cx="190" cy="170"/><circle cx="194" cy="176"/><circle cx="207" cy="183"/><circle cx="193" cy="265"/><circle cx="225" cy="285"/><circle cx="164" cy="362"/><circle cx="171" cy="344"/><circle cx="193" cy="338"/><circle cx="197" cy="332"/><circle cx="285" cy="313"/><circle cx="313" cy="266"/><circle cx="177" cy="246"/><circle cx="211" cy="184"/><circle cx="218" cy="164"/><circle cx="244" cy="158"/><circle cx="181" cy="151"/><circle cx="252" cy="139"/><circle cx="269" cy="128"/><circle cx="469" cy="101"/><circle cx="320" cy="95"/><circle cx="276" cy="94"/><circle cx="181" cy="107"/><circle cx="164" cy="116"/><circle cx="420" cy="127"/><circle cx="215" cy="150"/><circle cx="208" cy="156"/><circle cx="183" cy="163"/><circle cx="238" cy="169"/><circle cx="179" cy="182"/><circle cx="192" cy="189"/><circle cx="402" cy="196"/><circle cx="389" cy="216"/><circle cx="261" cy="223"/><circle cx="304" cy="230"/><circle cx="319" cy="237"/><circle cx="274" cy="244"/><circle cx="191" cy="298"/><circle cx="194" cy="324"/><circle cx="319" cy="370"/><circle cx="306" cy="376"/><circle cx="310" cy="381"/><circle cx="310" cy="390"/><circle cx="322" cy="395"/><circle cx="325" cy="399"/><circle cx="309" cy="414"/><circle cx="340" cy="432"/><circle cx="287" cy="435"/><circle cx="288" cy="435"/><circle cx="321" cy="433"/><circle cx="438" cy="419"/><circle cx="265" cy="396"/><circle cx="290" cy="377"/><circle cx="316" cy="313"/><circle cx="384" cy="293"/><circle cx="381" cy="280"/><circle cx="395" cy="266"/><circle cx="364" cy="259"/><circle cx="334" cy="239"/><circle cx="363" cy="232"/><circle cx="361" cy="225"/><circle cx="344" cy="204"/><circle cx="357" cy="197"/><circle cx="313" cy="190"/><circle cx="220" cy="170"/><circle cx="187" cy="164"/><circle cx="311" cy="145"/><circle cx="335" cy="139"/><circle cx="321" cy="122"/><circle cx="329" cy="117"/><circle cx="509" cy="112"/><circle cx="306" cy="108"/><circle cx="279" cy="97"/><circle cx="273" cy="92"/><circle cx="185" cy="137"/><circle cx="175" cy="149"/><circle cx="185" cy="156"/><circle cx="266" cy="216"/><circle cx="200" cy="278"/><circle cx="244" cy="304"/><circle cx="358" cy="385"/></g>
<g fill="#32658e" stroke="#32658e"><circle cx="271" cy="407"/><circle cx="297" cy="410"/><circle cx="161" cy="299"/><circle cx="239" cy="252"/><circle cx="433" cy="231"/><circle cx="229" cy="217"/><circle cx="197" cy="204"/><circle cx="203" cy="190"/><circle cx="200" cy="183"/><circle cx="184" cy="170"/><circle cx="193" cy="163"/><circle cx="231" cy="133"/><circle cx="348" cy="116"/><circle cx="350" cy="112"/><circle cx="278" cy="89"/><circle cx="279" cy="88"/><circle cx="312" cy="93"/><circle cx="225" cy="99"/><circle cx="216" cy="106"/><circle cx="178" cy="110"/><circle cx="182" cy="115"/><circle cx="212" cy="149"/><circle cx="184" cy="161"/><circle cx="228" cy="222"/><circle cx="209" cy="236"/><circle cx="370" cy="257"/><circle cx="307" cy="290"/><circle cx="436" cy="297"/><circle cx="394" cy="304"/><circle cx="328" cy="316"/><circle cx="298" cy="329"/><circle cx="304" cy="335"/><circle cx="343" cy="374"/><circle cx="322" cy="379"/><circle cx="172" cy="434"/><circle cx="165" cy="434"/><circle cx="176" cy="411"/><circle cx="389" cy="337"/><circle cx="302" cy="331"/><circle cx="347" cy="324"/><circle cx="503" cy="305"/><circle cx="300" cy="272"/><circle cx="317" cy="231"/><circle cx="307" cy="190"/><circle cx="300" cy="169"/><circle cx="186" cy="156"/><circle cx="181" cy="150"/><circle cx="179" cy="144"/><circle cx="199" cy="138"/><circle cx="186" cy="132"/><circle cx="174" cy="126"/><circle cx="211" cy="116"/><circle cx="196" cy="111"/><circle cx="383" cy="93"/><circle cx="356" cy="89"/><circle cx="325" cy="90"/><circle cx="514" cy="95"/><circle cx="510" cy="98"/><circle cx="335" cy="101"/><circle cx="351" cy="125"/><circle cx="359" cy="130"/><circle cx="353" cy="148"/><circle cx="322" cy="154"/><circle cx="367" cy="167"/><circle cx="265" cy="181"/><circle cx="331" cy="208"/><circle cx="271" cy="215"/><circle cx="298" cy="229"/><circle cx="155" cy="263"/><circle cx="418" cy="270"/><circle cx="228" cy="340"/><circle cx="255" cy="352"/><circle cx="326" cy="430"/><circle cx="301" cy="431"/><circle cx="176" cy="399"/><circle cx="182" cy="376"/><circle cx="194" cy="311"/><circle cx="187" cy="298"/><circle cx="172" cy="292"/><circle cx="271" cy="217"/><circle cx="461" cy="169"/><circle cx="170" cy="163"/><circle cx="194" cy="156"/><circle cx="351" cy="144"/><circle cx="456" cy="138"/><circle cx="360" cy="126"/><circle cx="381" cy="121"/><circle cx="340" cy="116"/><circle cx="321" cy="106"/><circle cx="374" cy="102"/><circle cx="372" cy="88"/><circle cx="358" cy="87"/><circle cx="311" cy="87"/><circle cx="307" cy="90"/><circle cx="338" cy="92"/><circle cx="313" cy="94"/><circle cx="335" cy="101"/><circle cx="319" cy="114"/><circle cx="301" cy="119"/><circle cx="228" cy="148"/><circle cx="192" cy="154"/><circle cx="195" cy="167"/><circle cx="342" cy="173"/><circle cx="201" cy="200"/><circle cx="277" cy="221"/><circle cx="182" cy="276"/><circle cx="183" cy="289"/><circle cx="263" cy="315"/><circle cx="165" cy="357"/><circle cx="172" cy="388"/><circle cx="164" cy="423"/><circle cx="165" cy="432"/><circle cx="165" cy="402"/><circle cx="178" cy="390"/><circle cx="376" cy="271"/><circle cx="204" cy="258"/><circle cx="238" cy="244"/><circle cx="333" cy="175"/><circle cx="343" cy="169"/><circle cx="285" cy="156"/><circle cx="332" cy="149"/><circle cx="367" cy="137"/><circle cx="308" cy="131"/><circle cx="316" cy="126"/><circle cx="326" cy="120"/><circle cx="274" cy="110"/><circle cx="482" cy="92"/><circle cx="326" cy="89"/><circle cx="324" cy="91"/><circle cx="342" cy="94"/><circle cx="399" cy="97"/><circle cx="355" cy="100"/><circle cx="384" cy="104"/><circle cx="290" cy="141"/><circle cx="351" cy="153"/><circle cx="329" cy="160"/><circle cx="371" cy="166"/><circle cx="360" cy="173"/><circle cx="298" cy="186"/><circle cx="272" cy="221"/><circle cx="199" cy="227"/><circle cx="183" cy="234"/><circle cx="376" cy="248"/><circle cx="164" cy="269"/><circle cx="224" cy="282"/></g>
<g fill="#30698e" stroke="#30698e"><circle cx="165" cy="383"/><circle cx="164" cy="411"/><circle cx="164" cy="428"/><circle cx="299" cy="432"/><circle cx="293" cy="432"/><circle cx="316" cy="431"/><circle cx="323" cy="429"/><circle cx="174" cy="394"/><circle cx="188" cy="370"/><circle cx="175" cy="364"/><circle cx="219" cy="353"/><circle cx="241" cy="271"/><circle cx="332" cy="230"/><circle cx="332" cy="209"/><circle cx="346" cy="202"/><circle cx="206" cy="189"/><circle cx="387" cy="182"/><circle cx="281" cy="162"/><circle cx="316" cy="155"/><circle cx="319" cy="149"/><circle cx="288" cy="143"/><circle cx="284" cy="137"/><circle cx="318" cy="131"/><circle cx="311" cy="94"/><circle cx="309" cy="89"/><circle cx="199" cy="93"/><circle cx="233" cy="96"/><circle cx="139" cy="100"/><circle cx="349" cy="123"/><circle cx="325" cy="129"/><circle cx="299" cy="134"/><circle cx="156" cy="147"/><circle cx="323" cy="166"/><circle cx="351" cy="179"/><circle cx="420" cy="248"/><circle cx="203" cy="288"/><circle cx="398" cy="301"/><circle cx="187" cy="372"/><circle cx="165" cy="382"/><circle cx="366" cy="411"/><circle cx="352" cy="422"/><circle cx="303" cy="424"/><circle cx="271" cy="412"/><circle cx="311" cy="389"/><circle cx="338" cy="379"/><circle cx="288" cy="374"/><circle cx="308" cy="369"/><circle cx="282" cy="323"/><circle cx="188" cy="243"/><circle cx="193" cy="236"/><circle cx="231" cy="223"/><circle cx="322" cy="188"/><circle cx="304" cy="168"/><circle cx="304" cy="155"/><circle cx="318" cy="136"/><circle cx="269" cy="131"/><circle cx="306" cy="119"/><circle cx="294" cy="114"/><circle cx="531" cy="105"/><circle cx="280" cy="101"/><circle cx="341" cy="97"/><circle cx="317" cy="94"/><circle cx="339" cy="91"/><circle cx="501" cy="85"/><circle cx="204" cy="90"/><circle cx="169" cy="95"/><circle cx="302" cy="123"/><circle cx="321" cy="128"/><circle cx="313" cy="134"/><circle cx="278" cy="140"/><circle cx="139" cy="140"/><circle cx="336" cy="146"/><circle cx="319" cy="152"/><circle cx="323" cy="159"/><circle cx="289" cy="165"/><circle cx="280" cy="179"/><circle cx="395" cy="213"/><circle cx="262" cy="261"/><circle cx="277" cy="268"/><circle cx="296" cy="281"/><circle cx="366" cy="294"/><circle cx="344" cy="301"/><circle cx="301" cy="361"/><circle cx="202" cy="395"/><circle cx="201" cy="407"/><circle cx="261" cy="388"/><circle cx="292" cy="384"/><circle cx="324" cy="352"/><circle cx="320" cy="347"/><circle cx="334" cy="341"/><circle cx="320" cy="335"/><circle cx="323" cy="329"/><circle cx="331" cy="323"/><circle cx="292" cy="304"/><circle cx="330" cy="264"/><circle cx="238" cy="243"/><circle cx="251" cy="236"/><circle cx="286" cy="222"/><circle cx="310" cy="155"/><circle cx="286" cy="136"/><circle cx="209" cy="114"/><circle cx="183" cy="92"/><circle cx="191" cy="95"/><circle cx="222" cy="99"/><circle cx="284" cy="103"/><circle cx="294" cy="122"/><circle cx="315" cy="139"/><circle cx="327" cy="146"/><circle cx="354" cy="152"/><circle cx="350" cy="158"/><circle cx="356" cy="171"/><circle cx="311" cy="178"/><circle cx="386" cy="192"/><circle cx="369" cy="212"/><circle cx="362" cy="219"/><circle cx="357" cy="233"/><circle cx="311" cy="254"/><circle cx="337" cy="267"/><circle cx="334" cy="274"/><circle cx="322" cy="281"/><circle cx="287" cy="300"/><circle cx="278" cy="326"/><circle cx="334" cy="430"/><circle cx="177" cy="401"/><circle cx="187" cy="363"/><circle cx="221" cy="322"/><circle cx="212" cy="316"/><circle cx="172" cy="303"/><circle cx="169" cy="277"/><circle cx="166" cy="270"/><circle cx="179" cy="257"/><circle cx="230" cy="229"/><circle cx="209" cy="208"/><circle cx="186" cy="174"/><circle cx="214" cy="161"/><circle cx="165" cy="148"/><circle cx="389" cy="124"/><circle cx="293" cy="109"/><circle cx="342" cy="100"/><circle cx="274" cy="96"/><circle cx="443" cy="90"/><circle cx="209" cy="88"/><circle cx="199" cy="85"/><circle cx="175" cy="84"/><circle cx="188" cy="85"/><circle cx="194" cy="85"/><circle cx="275" cy="87"/><circle cx="303" cy="91"/><circle cx="281" cy="98"/><circle cx="313" cy="102"/><circle cx="311" cy="133"/><circle cx="268" cy="139"/><circle cx="279" cy="145"/><circle cx="318" cy="164"/><circle cx="295" cy="184"/><circle cx="267" cy="212"/><circle cx="247" cy="246"/><circle cx="195" cy="306"/><circle cx="188" cy="313"/><circle cx="190" cy="319"/><circle cx="186" cy="331"/><circle cx="206" cy="343"/></g>
<g fill="#2e6d8e" stroke="#2e6d8e"><circle cx="164" cy="408"/><circle cx="164" cy="400"/><circle cx="191" cy="334"/><circle cx="183" cy="322"/><circle cx="224" cy="297"/><circle cx="257" cy="290"/><circle cx="238" cy="243"/><circle cx="203" cy="181"/><circle cx="407" cy="174"/><circle cx="226" cy="167"/><circle cx="224" cy="142"/><circle cx="242" cy="124"/><circle cx="249" cy="108"/><circle cx="214" cy="104"/><circle cx="198" cy="96"/><circle cx="139" cy="87"/><circle cx="329" cy="86"/><circle cx="341" cy="84"/><circle cx="224" cy="88"/><circle cx="166" cy="98"/><circle cx="365" cy="116"/><circle cx="247" cy="127"/><circle cx="335" cy="132"/><circle cx="265" cy="145"/><circle cx="205" cy="177"/><circle cx="231" cy="293"/><circle cx="207" cy="300"/><circle cx="180" cy="354"/><circle cx="325" cy="370"/><circle cx="329" cy="375"/><circle cx="316" cy="380"/><circle cx="315" cy="418"/><circle cx="347" cy="427"/><circle cx="175" cy="404"/><circle cx="184" cy="383"/><circle cx="173" cy="378"/><circle cx="276" cy="368"/><circle cx="210" cy="357"/><circle cx="191" cy="334"/><circle cx="177" cy="328"/><circle cx="185" cy="322"/><circle cx="170" cy="303"/><circle cx="181" cy="290"/><circle cx="465" cy="277"/><circle cx="232" cy="263"/><circle cx="242" cy="249"/><circle cx="405" cy="215"/><circle cx="298" cy="208"/><circle cx="385" cy="201"/><circle cx="497" cy="161"/><circle cx="317" cy="148"/><circle cx="312" cy="141"/><circle cx="276" cy="113"/><circle cx="330" cy="108"/><circle cx="288" cy="103"/><circle cx="206" cy="95"/><circle cx="342" cy="85"/><circle cx="331" cy="84"/><circle cx="337" cy="84"/><circle cx="349" cy="84"/><circle cx="307" cy="86"/><circle cx="350" cy="88"/><circle cx="139" cy="88"/><circle cx="332" cy="93"/><circle cx="279" cy="110"/><circle cx="283" cy="138"/><circle cx="297" cy="144"/><circle cx="374" cy="163"/><circle cx="393" cy="170"/><circle cx="330" cy="177"/><circle cx="334" cy="183"/><circle cx="348" cy="190"/><circle cx="346" cy="197"/><circle cx="405" cy="204"/><circle cx="356" cy="211"/><circle cx="285" cy="245"/><circle cx="291" cy="259"/><circle cx="215" cy="273"/><circle cx="265" cy="312"/><circle cx="283" cy="318"/><circle cx="259" cy="324"/><circle cx="284" cy="384"/><circle cx="299" cy="389"/><circle cx="287" cy="408"/><circle cx="329" cy="420"/><circle cx="363" cy="422"/><circle cx="346" cy="424"/><circle cx="336" cy="426"/><circle cx="318" cy="428"/><circle cx="324" cy="429"/><circle cx="283" cy="419"/><circle cx="259" cy="368"/><circle cx="286" cy="351"/><circle cx="226" cy="340"/><circle cx="282" cy="322"/><circle cx="236" cy="296"/><circle cx="174" cy="215"/><circle cx="166" cy="208"/><circle cx="175" cy="201"/><circle cx="185" cy="194"/><circle cx="200" cy="187"/><circle cx="166" cy="174"/><circle cx="169" cy="167"/><circle cx="167" cy="141"/><circle cx="365" cy="118"/><circle cx="450" cy="108"/><circle cx="196" cy="99"/><circle cx="186" cy="95"/><circle cx="216" cy="89"/><circle cx="473" cy="87"/><circle cx="407" cy="85"/><circle cx="254" cy="83"/><circle cx="165" cy="110"/><circle cx="218" cy="126"/><circle cx="200" cy="132"/><circle cx="210" cy="150"/><circle cx="267" cy="176"/><circle cx="246" cy="190"/><circle cx="207" cy="224"/><circle cx="513" cy="259"/><circle cx="437" cy="265"/><circle cx="222" cy="279"/><circle cx="198" cy="286"/><circle cx="214" cy="299"/><circle cx="189" cy="305"/><circle cx="252" cy="324"/><circle cx="243" cy="330"/><circle cx="338" cy="348"/><circle cx="329" cy="353"/><circle cx="321" cy="359"/><circle cx="344" cy="364"/><circle cx="291" cy="374"/><circle cx="352" cy="388"/><circle cx="380" cy="393"/><circle cx="353" cy="397"/><circle cx="344" cy="401"/><circle cx="285" cy="414"/><circle cx="322" cy="417"/><circle cx="159" cy="428"/><circle cx="174" cy="377"/><circle cx="362" cy="345"/><circle cx="282" cy="322"/><circle cx="315" cy="315"/><circle cx="329" cy="309"/><circle cx="270" cy="290"/><circle cx="210" cy="256"/><circle cx="257" cy="249"/><circle cx="188" cy="215"/><circle cx="230" cy="194"/><circle cx="192" cy="187"/><circle cx="209" cy="180"/><circle cx="399" cy="174"/><circle cx="342" cy="167"/><circle cx="197" cy="160"/><circle cx="190" cy="141"/><circle cx="184" cy="135"/><circle cx="349" cy="129"/><circle cx="213" cy="123"/><circle cx="286" cy="95"/><circle cx="215" cy="89"/><circle cx="189" cy="86"/><circle cx="222" cy="83"/><circle cx="355" cy="84"/><circle cx="247" cy="85"/><circle cx="250" cy="87"/><circle cx="205" cy="90"/><circle cx="176" cy="93"/><circle cx="207" cy="96"/><circle cx="226" cy="100"/><circle cx="363" cy="131"/><circle cx="305" cy="137"/><circle cx="325" cy="156"/><circle cx="317" cy="163"/><circle cx="392" cy="169"/><circle cx="327" cy="183"/><circle cx="327" cy="189"/><circle cx="371" cy="196"/><circle cx="368" cy="210"/><circle cx="374" cy="217"/><circle cx="391" cy="224"/><circle cx="336" cy="238"/><circle cx="389" cy="251"/><circle cx="275" cy="265"/><circle cx="273" cy="272"/><circle cx="335" cy="279"/><circle cx="329" cy="285"/><circle cx="304" cy="292"/><circle cx="319" cy="311"/><circle cx="326" cy="317"/><circle cx="342" cy="324"/></g>
<g fill="#2d718e" stroke="#2d718e"><circle cx="309" cy="330"/><circle cx="313" cy="336"/><circle cx="327" cy="342"/><circle cx="324" cy="347"/><circle cx="349" cy="353"/><circle cx="354" cy="358"/><circle cx="357" cy="364"/><circle cx="360" cy="369"/><circle cx="299" cy="379"/><circle cx="215" cy="345"/><circle cx="292" cy="328"/><circle cx="348" cy="242"/><circle cx="324" cy="228"/><circle cx="318" cy="214"/><circle cx="306" cy="180"/><circle cx="306" cy="173"/><circle cx="274" cy="167"/><circle cx="251" cy="154"/><circle cx="297" cy="135"/><circle cx="345" cy="129"/><circle cx="421" cy="98"/><circle cx="139" cy="98"/><circle cx="228" cy="83"/><circle cx="224" cy="82"/><circle cx="292" cy="83"/><circle cx="318" cy="89"/><circle cx="328" cy="119"/><circle cx="329" cy="125"/><circle cx="325" cy="137"/><circle cx="369" cy="143"/><circle cx="359" cy="162"/><circle cx="372" cy="169"/><circle cx="357" cy="176"/><circle cx="349" cy="182"/><circle cx="309" cy="189"/><circle cx="331" cy="203"/><circle cx="342" cy="210"/><circle cx="399" cy="217"/><circle cx="316" cy="224"/><circle cx="249" cy="251"/><circle cx="347" cy="265"/><circle cx="333" cy="271"/><circle cx="321" cy="278"/><circle cx="314" cy="298"/><circle cx="319" cy="304"/><circle cx="210" cy="358"/><circle cx="319" cy="383"/><circle cx="299" cy="388"/><circle cx="299" cy="392"/><circle cx="287" cy="410"/><circle cx="298" cy="395"/><circle cx="289" cy="386"/><circle cx="259" cy="351"/><circle cx="287" cy="345"/><circle cx="256" cy="321"/><circle cx="285" cy="309"/><circle cx="202" cy="242"/><circle cx="209" cy="235"/><circle cx="182" cy="228"/><circle cx="200" cy="221"/><circle cx="250" cy="194"/><circle cx="244" cy="187"/><circle cx="215" cy="180"/><circle cx="322" cy="154"/><circle cx="306" cy="147"/><circle cx="288" cy="135"/><circle cx="315" cy="123"/><circle cx="422" cy="112"/><circle cx="198" cy="91"/><circle cx="205" cy="88"/><circle cx="214" cy="86"/><circle cx="139" cy="86"/><circle cx="165" cy="84"/><circle cx="441" cy="83"/><circle cx="214" cy="82"/><circle cx="230" cy="82"/><circle cx="188" cy="83"/><circle cx="177" cy="84"/><circle cx="165" cy="86"/><circle cx="187" cy="89"/><circle cx="254" cy="92"/><circle cx="344" cy="99"/><circle cx="334" cy="104"/><circle cx="335" cy="109"/><circle cx="297" cy="119"/><circle cx="327" cy="136"/><circle cx="218" cy="149"/><circle cx="213" cy="169"/><circle cx="221" cy="182"/><circle cx="200" cy="202"/><circle cx="195" cy="237"/><circle cx="391" cy="258"/><circle cx="199" cy="278"/><circle cx="232" cy="284"/><circle cx="200" cy="347"/><circle cx="300" cy="413"/><circle cx="322" cy="416"/><circle cx="313" cy="418"/><circle cx="296" cy="420"/><circle cx="328" cy="422"/><circle cx="328" cy="424"/><circle cx="325" cy="425"/><circle cx="316" cy="427"/><circle cx="313" cy="428"/><circle cx="336" cy="427"/><circle cx="303" cy="418"/><circle cx="291" cy="382"/><circle cx="285" cy="351"/><circle cx="266" cy="345"/><circle cx="251" cy="339"/><circle cx="310" cy="315"/><circle cx="279" cy="309"/><circle cx="307" cy="289"/><circle cx="307" cy="283"/><circle cx="344" cy="276"/><circle cx="328" cy="269"/><circle cx="288" cy="262"/><circle cx="362" cy="249"/><circle cx="369" cy="242"/><circle cx="348" cy="235"/><circle cx="327" cy="228"/><circle cx="302" cy="221"/><circle cx="310" cy="214"/><circle cx="225" cy="200"/><circle cx="320" cy="187"/><circle cx="331" cy="180"/><circle cx="245" cy="135"/><circle cx="203" cy="129"/><circle cx="216" cy="102"/><circle cx="205" cy="98"/><circle cx="218" cy="88"/><circle cx="268" cy="82"/><circle cx="332" cy="82"/><circle cx="338" cy="83"/><circle cx="336" cy="84"/><circle cx="320" cy="86"/><circle cx="353" cy="88"/><circle cx="343" cy="95"/><circle cx="277" cy="103"/><circle cx="228" cy="168"/><circle cx="269" cy="175"/><circle cx="301" cy="188"/><circle cx="332" cy="202"/><circle cx="206" cy="216"/><circle cx="171" cy="230"/><circle cx="174" cy="237"/><circle cx="198" cy="244"/><circle cx="224" cy="284"/><circle cx="209" cy="304"/><circle cx="183" cy="310"/><circle cx="199" cy="335"/><circle cx="233" cy="346"/><circle cx="226" cy="363"/><circle cx="196" cy="368"/><circle cx="187" cy="373"/><circle cx="319" cy="422"/><circle cx="298" cy="420"/><circle cx="287" cy="406"/><circle cx="303" cy="402"/><circle cx="306" cy="399"/><circle cx="271" cy="395"/><circle cx="187" cy="377"/><circle cx="200" cy="356"/><circle cx="237" cy="345"/><circle cx="259" cy="289"/><circle cx="285" cy="276"/><circle cx="327" cy="262"/><circle cx="308" cy="249"/><circle cx="247" cy="187"/><circle cx="379" cy="160"/><circle cx="334" cy="153"/><circle cx="335" cy="147"/><circle cx="326" cy="141"/><circle cx="331" cy="135"/><circle cx="359" cy="117"/><circle cx="310" cy="112"/><circle cx="298" cy="107"/><circle cx="329" cy="102"/><circle cx="283" cy="91"/><circle cx="500" cy="85"/><circle cx="263" cy="83"/><circle cx="261" cy="82"/><circle cx="233" cy="82"/><circle cx="242" cy="84"/><circle cx="342" cy="86"/><circle cx="270" cy="88"/><circle cx="213" cy="99"/><circle cx="292" cy="113"/><circle cx="312" cy="118"/><circle cx="367" cy="124"/><circle cx="313" cy="130"/><circle cx="377" cy="136"/><circle cx="373" cy="142"/><circle cx="313" cy="148"/><circle cx="269" cy="155"/><circle cx="211" cy="188"/><circle cx="221" cy="195"/><circle cx="268" cy="216"/><circle cx="308" cy="243"/></g>
<g fill="#2b748e" stroke="#2b748e"><circle cx="307" cy="406"/><circle cx="294" cy="420"/><circle cx="281" cy="390"/><circle cx="287" cy="386"/><circle cx="320" cy="372"/><circle cx="335" cy="361"/><circle cx="299" cy="350"/><circle cx="283" cy="333"/><circle cx="335" cy="315"/><circle cx="338" cy="302"/><circle cx="361" cy="289"/><circle cx="391" cy="283"/><circle cx="315" cy="276"/><circle cx="335" cy="221"/><circle cx="275" cy="214"/><circle cx="311" cy="207"/><circle cx="220" cy="194"/><circle cx="183" cy="187"/><circle cx="257" cy="123"/><circle cx="424" cy="117"/><circle cx="297" cy="107"/><circle cx="306" cy="102"/><circle cx="342" cy="98"/><circle cx="341" cy="94"/><circle cx="334" cy="90"/><circle cx="335" cy="87"/><circle cx="277" cy="83"/><circle cx="266" cy="82"/><circle cx="323" cy="81"/><circle cx="301" cy="81"/><circle cx="332" cy="82"/><circle cx="371" cy="83"/><circle cx="344" cy="85"/><circle cx="302" cy="88"/><circle cx="266" cy="91"/><circle cx="267" cy="108"/><circle cx="503" cy="118"/><circle cx="172" cy="124"/><circle cx="178" cy="129"/><circle cx="187" cy="135"/><circle cx="178" cy="142"/><circle cx="226" cy="148"/><circle cx="365" cy="208"/><circle cx="174" cy="222"/><circle cx="197" cy="229"/><circle cx="236" cy="250"/><circle cx="322" cy="284"/><circle cx="319" cy="297"/><circle cx="188" cy="322"/><circle cx="299" cy="367"/><circle cx="330" cy="395"/><circle cx="287" cy="399"/><circle cx="291" cy="415"/><circle cx="185" cy="386"/><circle cx="196" cy="372"/><circle cx="245" cy="339"/><circle cx="328" cy="321"/><circle cx="321" cy="315"/><circle cx="313" cy="302"/><circle cx="319" cy="282"/><circle cx="318" cy="262"/><circle cx="286" cy="235"/><circle cx="298" cy="207"/><circle cx="275" cy="166"/><circle cx="323" cy="160"/><circle cx="276" cy="141"/><circle cx="294" cy="134"/><circle cx="443" cy="94"/><circle cx="244" cy="85"/><circle cx="265" cy="82"/><circle cx="256" cy="81"/><circle cx="225" cy="82"/><circle cx="228" cy="85"/><circle cx="211" cy="91"/><circle cx="164" cy="94"/><circle cx="187" cy="98"/><circle cx="195" cy="103"/><circle cx="167" cy="112"/><circle cx="195" cy="118"/><circle cx="184" cy="123"/><circle cx="194" cy="135"/><circle cx="205" cy="141"/><circle cx="179" cy="174"/><circle cx="317" cy="215"/><circle cx="308" cy="222"/><circle cx="383" cy="229"/><circle cx="353" cy="236"/><circle cx="356" cy="243"/><circle cx="332" cy="250"/><circle cx="290" cy="263"/><circle cx="311" cy="290"/><circle cx="227" cy="322"/><circle cx="194" cy="328"/><circle cx="165" cy="334"/><circle cx="195" cy="356"/><circle cx="178" cy="367"/><circle cx="177" cy="372"/><circle cx="178" cy="398"/><circle cx="290" cy="405"/><circle cx="293" cy="394"/><circle cx="332" cy="390"/><circle cx="294" cy="386"/><circle cx="325" cy="327"/><circle cx="359" cy="315"/><circle cx="302" cy="302"/><circle cx="242" cy="289"/><circle cx="165" cy="235"/><circle cx="166" cy="221"/><circle cx="189" cy="194"/><circle cx="406" cy="187"/><circle cx="195" cy="134"/><circle cx="173" cy="128"/><circle cx="198" cy="123"/><circle cx="265" cy="107"/><circle cx="139" cy="107"/><circle cx="176" cy="94"/><circle cx="179" cy="87"/><circle cx="170" cy="85"/><circle cx="359" cy="83"/><circle cx="189" cy="82"/><circle cx="169" cy="81"/><circle cx="174" cy="81"/><circle cx="223" cy="82"/><circle cx="251" cy="83"/><circle cx="213" cy="85"/><circle cx="479" cy="94"/><circle cx="139" cy="102"/><circle cx="194" cy="141"/><circle cx="203" cy="147"/><circle cx="175" cy="160"/><circle cx="166" cy="167"/><circle cx="190" cy="174"/><circle cx="217" cy="180"/><circle cx="482" cy="215"/><circle cx="311" cy="222"/><circle cx="296" cy="263"/><circle cx="293" cy="270"/><circle cx="318" cy="283"/><circle cx="305" cy="290"/><circle cx="289" cy="296"/><circle cx="254" cy="327"/><circle cx="210" cy="345"/><circle cx="205" cy="351"/><circle cx="285" cy="362"/><circle cx="279" cy="367"/><circle cx="293" cy="372"/><circle cx="296" cy="377"/><circle cx="151" cy="426"/><circle cx="313" cy="424"/><circle cx="333" cy="423"/><circle cx="330" cy="421"/><circle cx="290" cy="419"/><circle cx="175" cy="398"/><circle cx="179" cy="386"/><circle cx="165" cy="376"/><circle cx="164" cy="350"/><circle cx="170" cy="339"/><circle cx="187" cy="321"/><circle cx="184" cy="315"/><circle cx="276" cy="242"/><circle cx="214" cy="235"/><circle cx="407" cy="221"/><circle cx="381" cy="200"/><circle cx="326" cy="194"/><circle cx="329" cy="187"/><circle cx="309" cy="180"/><circle cx="355" cy="173"/><circle cx="332" cy="166"/><circle cx="254" cy="141"/><circle cx="180" cy="123"/><circle cx="238" cy="112"/><circle cx="277" cy="90"/><circle cx="504" cy="87"/><circle cx="239" cy="81"/><circle cx="239" cy="81"/><circle cx="232" cy="87"/><circle cx="221" cy="90"/><circle cx="175" cy="98"/><circle cx="184" cy="112"/><circle cx="266" cy="117"/><circle cx="293" cy="123"/><circle cx="296" cy="129"/><circle cx="266" cy="135"/><circle cx="213" cy="141"/><circle cx="217" cy="154"/><circle cx="139" cy="154"/><circle cx="226" cy="160"/><circle cx="206" cy="167"/><circle cx="190" cy="173"/><circle cx="202" cy="187"/><circle cx="214" cy="201"/><circle cx="170" cy="215"/><circle cx="205" cy="221"/><circle cx="165" cy="235"/><circle cx="388" cy="242"/><circle cx="464" cy="256"/></g>
<g fill="#2a788e" stroke="#2a788e"><circle cx="245" cy="283"/><circle cx="199" cy="309"/><circle cx="237" cy="333"/><circle cx="204" cy="350"/><circle cx="176" cy="356"/><circle cx="139" cy="361"/><circle cx="175" cy="390"/><circle cx="171" cy="394"/><circle cx="164" cy="398"/><circle cx="164" cy="414"/><circle cx="165" cy="417"/><circle cx="165" cy="412"/><circle cx="174" cy="405"/><circle cx="257" cy="386"/><circle cx="293" cy="366"/><circle cx="337" cy="361"/><circle cx="289" cy="339"/><circle cx="286" cy="327"/><circle cx="318" cy="308"/><circle cx="328" cy="302"/><circle cx="328" cy="296"/><circle cx="324" cy="289"/><circle cx="302" cy="283"/><circle cx="328" cy="262"/><circle cx="240" cy="256"/><circle cx="262" cy="221"/><circle cx="239" cy="207"/><circle cx="267" cy="173"/><circle cx="215" cy="147"/><circle cx="234" cy="141"/><circle cx="306" cy="128"/><circle cx="285" cy="117"/><circle cx="320" cy="102"/><circle cx="353" cy="98"/><circle cx="359" cy="94"/><circle cx="205" cy="87"/><circle cx="303" cy="85"/><circle cx="276" cy="83"/><circle cx="324" cy="81"/><circle cx="338" cy="81"/><circle cx="394" cy="81"/><circle cx="359" cy="81"/><circle cx="299" cy="83"/><circle cx="221" cy="87"/><circle cx="139" cy="90"/><circle cx="258" cy="94"/><circle cx="169" cy="102"/><circle cx="173" cy="134"/><circle cx="179" cy="141"/><circle cx="194" cy="147"/><circle cx="241" cy="173"/><circle cx="395" cy="235"/><circle cx="199" cy="249"/><circle cx="202" cy="256"/><circle cx="428" cy="283"/><circle cx="206" cy="302"/><circle cx="173" cy="308"/><circle cx="194" cy="321"/><circle cx="192" cy="333"/><circle cx="182" cy="339"/><circle cx="267" cy="376"/><circle cx="291" cy="381"/><circle cx="297" cy="390"/><circle cx="269" cy="390"/><circle cx="155" cy="376"/><circle cx="225" cy="366"/><circle cx="298" cy="350"/><circle cx="317" cy="345"/><circle cx="319" cy="333"/><circle cx="295" cy="327"/><circle cx="311" cy="309"/><circle cx="299" cy="302"/><circle cx="273" cy="276"/><circle cx="251" cy="235"/><circle cx="268" cy="221"/><circle cx="279" cy="214"/><circle cx="236" cy="201"/><circle cx="235" cy="187"/><circle cx="184" cy="173"/><circle cx="199" cy="153"/><circle cx="188" cy="147"/><circle cx="184" cy="141"/><circle cx="172" cy="135"/><circle cx="185" cy="129"/><circle cx="177" cy="112"/><circle cx="348" cy="102"/><circle cx="430" cy="98"/><circle cx="183" cy="90"/><circle cx="375" cy="85"/><circle cx="235" cy="81"/><circle cx="221" cy="81"/><circle cx="211" cy="81"/><circle cx="194" cy="81"/><circle cx="195" cy="83"/><circle cx="182" cy="84"/><circle cx="371" cy="87"/><circle cx="369" cy="90"/><circle cx="224" cy="102"/><circle cx="204" cy="106"/><circle cx="194" cy="112"/><circle cx="193" cy="117"/><circle cx="207" cy="134"/><circle cx="230" cy="140"/><circle cx="169" cy="147"/><circle cx="532" cy="153"/><circle cx="168" cy="166"/><circle cx="169" cy="193"/><circle cx="168" cy="200"/><circle cx="164" cy="228"/><circle cx="197" cy="242"/><circle cx="198" cy="302"/><circle cx="304" cy="327"/><circle cx="267" cy="344"/><circle cx="304" cy="366"/><circle cx="326" cy="371"/><circle cx="326" cy="376"/><circle cx="285" cy="381"/><circle cx="287" cy="405"/><circle cx="294" cy="394"/><circle cx="270" cy="386"/><circle cx="265" cy="309"/><circle cx="235" cy="289"/><circle cx="198" cy="283"/><circle cx="223" cy="276"/><circle cx="193" cy="263"/><circle cx="259" cy="235"/><circle cx="220" cy="228"/><circle cx="265" cy="215"/><circle cx="263" cy="187"/><circle cx="294" cy="180"/><circle cx="212" cy="167"/><circle cx="179" cy="147"/><circle cx="219" cy="129"/><circle cx="192" cy="112"/><circle cx="155" cy="107"/><circle cx="195" cy="98"/><circle cx="208" cy="94"/><circle cx="232" cy="90"/><circle cx="227" cy="87"/><circle cx="234" cy="85"/><circle cx="439" cy="83"/><circle cx="326" cy="81"/><circle cx="287" cy="81"/><circle cx="283" cy="81"/><circle cx="139" cy="81"/><circle cx="290" cy="82"/><circle cx="274" cy="84"/><circle cx="285" cy="93"/><circle cx="252" cy="111"/><circle cx="200" cy="117"/><circle cx="178" cy="128"/><circle cx="190" cy="134"/><circle cx="168" cy="140"/><circle cx="225" cy="147"/><circle cx="139" cy="153"/><circle cx="298" cy="173"/><circle cx="299" cy="180"/><circle cx="316" cy="186"/><circle cx="250" cy="200"/><circle cx="211" cy="214"/><circle cx="318" cy="255"/><circle cx="314" cy="275"/><circle cx="296" cy="282"/><circle cx="292" cy="289"/><circle cx="246" cy="333"/><circle cx="292" cy="339"/><circle cx="256" cy="390"/><circle cx="178" cy="405"/><circle cx="158" cy="386"/><circle cx="199" cy="376"/><circle cx="181" cy="367"/><circle cx="164" cy="351"/><circle cx="172" cy="333"/><circle cx="363" cy="315"/><circle cx="180" cy="309"/><circle cx="170" cy="302"/><circle cx="185" cy="296"/><circle cx="176" cy="276"/><circle cx="201" cy="201"/><circle cx="235" cy="194"/><circle cx="208" cy="180"/><circle cx="227" cy="167"/><circle cx="176" cy="160"/><circle cx="175" cy="154"/><circle cx="165" cy="147"/><circle cx="166" cy="135"/><circle cx="164" cy="117"/><circle cx="168" cy="112"/><circle cx="168" cy="107"/><circle cx="200" cy="102"/><circle cx="167" cy="98"/><circle cx="196" cy="94"/><circle cx="186" cy="90"/><circle cx="193" cy="85"/><circle cx="187" cy="83"/><circle cx="248" cy="81"/><circle cx="279" cy="81"/><circle cx="215" cy="81"/><circle cx="233" cy="81"/><circle cx="139" cy="81"/><circle cx="236" cy="82"/><circle cx="154" cy="84"/><circle cx="205" cy="87"/><circle cx="192" cy="90"/><circle cx="165" cy="93"/><circle cx="190" cy="97"/><circle cx="165" cy="101"/><circle cx="182" cy="106"/><circle cx="203" cy="111"/><circle cx="169" cy="117"/><circle cx="192" cy="122"/><circle cx="228" cy="128"/><circle cx="223" cy="134"/><circle cx="185" cy="146"/><circle cx="198" cy="153"/><circle cx="170" cy="166"/><circle cx="171" cy="173"/><circle cx="165" cy="193"/><circle cx="170" cy="207"/><circle cx="169" cy="214"/><circle cx="170" cy="221"/></g>
<g fill="#287c8e" stroke="#287c8e"><circle cx="277" cy="248"/><circle cx="211" cy="282"/><circle cx="206" cy="289"/><circle cx="226" cy="295"/><circle cx="264" cy="327"/><circle cx="294" cy="333"/><circle cx="286" cy="338"/><circle cx="284" cy="344"/><circle cx="326" cy="355"/><circle cx="288" cy="381"/><circle cx="190" cy="394"/><circle cx="230" cy="345"/><circle cx="240" cy="315"/><circle cx="195" cy="309"/><circle cx="216" cy="303"/><circle cx="180" cy="296"/><circle cx="188" cy="263"/><circle cx="189" cy="249"/><circle cx="181" cy="242"/><circle cx="209" cy="229"/><circle cx="193" cy="222"/><circle cx="220" cy="215"/><circle cx="248" cy="201"/><circle cx="221" cy="194"/><circle cx="220" cy="180"/><circle cx="246" cy="167"/><circle cx="301" cy="135"/><circle cx="255" cy="129"/><circle cx="288" cy="117"/><circle cx="327" cy="107"/><circle cx="304" cy="102"/><circle cx="308" cy="98"/><circle cx="320" cy="90"/><circle cx="139" cy="87"/><circle cx="372" cy="85"/><circle cx="238" cy="83"/><circle cx="301" cy="81"/><circle cx="304" cy="81"/><circle cx="139" cy="81"/><circle cx="292" cy="81"/><circle cx="278" cy="82"/><circle cx="326" cy="97"/><circle cx="367" cy="101"/><circle cx="189" cy="122"/><circle cx="203" cy="128"/><circle cx="218" cy="134"/><circle cx="377" cy="140"/><circle cx="249" cy="159"/><circle cx="271" cy="166"/><circle cx="242" cy="173"/><circle cx="293" cy="179"/><circle cx="307" cy="207"/><circle cx="402" cy="214"/><circle cx="253" cy="221"/><circle cx="218" cy="234"/><circle cx="274" cy="268"/><circle cx="240" cy="282"/><circle cx="300" cy="288"/><circle cx="329" cy="344"/><circle cx="272" cy="380"/><circle cx="158" cy="414"/><circle cx="165" cy="417"/><circle cx="170" cy="405"/><circle cx="179" cy="398"/><circle cx="197" cy="377"/><circle cx="173" cy="372"/><circle cx="193" cy="351"/><circle cx="214" cy="345"/><circle cx="224" cy="339"/><circle cx="232" cy="321"/><circle cx="230" cy="315"/><circle cx="229" cy="296"/><circle cx="200" cy="290"/><circle cx="269" cy="276"/><circle cx="411" cy="263"/><circle cx="319" cy="249"/><circle cx="268" cy="243"/><circle cx="299" cy="236"/><circle cx="353" cy="229"/><circle cx="332" cy="222"/><circle cx="302" cy="215"/><circle cx="321" cy="194"/><circle cx="260" cy="187"/><circle cx="443" cy="181"/><circle cx="242" cy="174"/><circle cx="222" cy="160"/><circle cx="229" cy="148"/><circle cx="191" cy="135"/><circle cx="199" cy="123"/><circle cx="160" cy="98"/><circle cx="217" cy="94"/><circle cx="283" cy="83"/><circle cx="297" cy="81"/><circle cx="238" cy="81"/><circle cx="272" cy="81"/><circle cx="306" cy="82"/><circle cx="249" cy="90"/><circle cx="310" cy="93"/><circle cx="328" cy="97"/><circle cx="305" cy="101"/><circle cx="306" cy="116"/><circle cx="307" cy="122"/><circle cx="294" cy="128"/><circle cx="246" cy="134"/><circle cx="288" cy="140"/><circle cx="287" cy="146"/><circle cx="228" cy="166"/><circle cx="220" cy="172"/><circle cx="223" cy="179"/><circle cx="203" cy="200"/><circle cx="164" cy="214"/><circle cx="170" cy="220"/><circle cx="164" cy="241"/><circle cx="187" cy="255"/><circle cx="203" cy="268"/><circle cx="222" cy="275"/><circle cx="197" cy="288"/><circle cx="170" cy="295"/><circle cx="177" cy="320"/><circle cx="220" cy="326"/><circle cx="227" cy="332"/><circle cx="192" cy="344"/><circle cx="180" cy="350"/><circle cx="207" cy="355"/><circle cx="173" cy="371"/><circle cx="187" cy="389"/><circle cx="165" cy="419"/><circle cx="344" cy="414"/><circle cx="306" cy="412"/><circle cx="293" cy="409"/><circle cx="306" cy="405"/><circle cx="332" cy="402"/><circle cx="298" cy="398"/><circle cx="305" cy="394"/><circle cx="300" cy="381"/><circle cx="269" cy="377"/><circle cx="278" cy="367"/><circle cx="298" cy="362"/><circle cx="316" cy="356"/><circle cx="305" cy="351"/><circle cx="307" cy="315"/><circle cx="323" cy="309"/><circle cx="351" cy="303"/><circle cx="341" cy="296"/><circle cx="333" cy="290"/><circle cx="300" cy="283"/><circle cx="388" cy="270"/><circle cx="333" cy="256"/><circle cx="261" cy="250"/><circle cx="295" cy="229"/><circle cx="350" cy="222"/><circle cx="361" cy="215"/><circle cx="361" cy="208"/><circle cx="361" cy="188"/><circle cx="388" cy="181"/><circle cx="381" cy="174"/><circle cx="350" cy="167"/><circle cx="385" cy="161"/><circle cx="323" cy="154"/><circle cx="338" cy="148"/><circle cx="301" cy="141"/><circle cx="290" cy="135"/><circle cx="203" cy="118"/><circle cx="189" cy="112"/><circle cx="193" cy="107"/><circle cx="205" cy="102"/><circle cx="238" cy="98"/><circle cx="182" cy="94"/><circle cx="187" cy="90"/><circle cx="194" cy="87"/><circle cx="180" cy="85"/><circle cx="205" cy="83"/><circle cx="189" cy="81"/><circle cx="267" cy="81"/><circle cx="217" cy="81"/><circle cx="213" cy="82"/><circle cx="238" cy="84"/><circle cx="139" cy="84"/><circle cx="240" cy="87"/><circle cx="244" cy="90"/><circle cx="139" cy="90"/><circle cx="216" cy="101"/><circle cx="191" cy="106"/><circle cx="192" cy="111"/><circle cx="205" cy="122"/><circle cx="202" cy="128"/><circle cx="252" cy="146"/><circle cx="209" cy="166"/><circle cx="214" cy="172"/><circle cx="190" cy="179"/><circle cx="166" cy="186"/><circle cx="190" cy="193"/><circle cx="190" cy="200"/><circle cx="264" cy="234"/><circle cx="294" cy="241"/><circle cx="312" cy="248"/><circle cx="274" cy="262"/><circle cx="327" cy="282"/><circle cx="361" cy="288"/><circle cx="340" cy="301"/><circle cx="352" cy="308"/><circle cx="280" cy="338"/><circle cx="221" cy="350"/><circle cx="179" cy="371"/><circle cx="206" cy="376"/><circle cx="178" cy="389"/><circle cx="269" cy="411"/><circle cx="181" cy="386"/><circle cx="215" cy="367"/><circle cx="186" cy="357"/><circle cx="226" cy="345"/><circle cx="272" cy="334"/><circle cx="236" cy="322"/><circle cx="242" cy="316"/><circle cx="197" cy="303"/><circle cx="228" cy="290"/><circle cx="180" cy="257"/><circle cx="490" cy="243"/><circle cx="199" cy="236"/><circle cx="249" cy="188"/><circle cx="226" cy="181"/><circle cx="247" cy="174"/><circle cx="299" cy="161"/><circle cx="302" cy="154"/><circle cx="343" cy="148"/><circle cx="307" cy="142"/><circle cx="272" cy="129"/><circle cx="271" cy="123"/><circle cx="191" cy="118"/><circle cx="393" cy="112"/><circle cx="195" cy="107"/><circle cx="284" cy="98"/><circle cx="284" cy="91"/><circle cx="282" cy="87"/><circle cx="235" cy="83"/><circle cx="225" cy="82"/><circle cx="244" cy="81"/><circle cx="269" cy="81"/><circle cx="283" cy="84"/><circle cx="231" cy="87"/><circle cx="247" cy="90"/><circle cx="258" cy="93"/><circle cx="272" cy="101"/><circle cx="357" cy="111"/><circle cx="297" cy="116"/><circle cx="238" cy="122"/><circle cx="223" cy="128"/><circle cx="249" cy="134"/><circle cx="218" cy="146"/><circle cx="211" cy="152"/><circle cx="204" cy="166"/><circle cx="213" cy="172"/><circle cx="195" cy="179"/><circle cx="198" cy="186"/><circle cx="209" cy="213"/></g>
<g fill="#27808e" stroke="#27808e"><circle cx="225" cy="227"/><circle cx="284" cy="248"/><circle cx="186" cy="261"/><circle cx="174" cy="268"/><circle cx="190" cy="275"/><circle cx="183" cy="288"/><circle cx="181" cy="326"/><circle cx="206" cy="332"/><circle cx="213" cy="338"/><circle cx="261" cy="350"/><circle cx="196" cy="371"/><circle cx="154" cy="385"/><circle cx="176" cy="393"/><circle cx="311" cy="423"/><circle cx="207" cy="316"/><circle cx="180" cy="284"/><circle cx="166" cy="277"/><circle cx="169" cy="270"/><circle cx="206" cy="243"/><circle cx="215" cy="236"/><circle cx="223" cy="229"/><circle cx="209" cy="216"/><circle cx="425" cy="195"/><circle cx="223" cy="188"/><circle cx="272" cy="174"/><circle cx="296" cy="168"/><circle cx="325" cy="161"/><circle cx="326" cy="155"/><circle cx="304" cy="142"/><circle cx="279" cy="136"/><circle cx="281" cy="130"/><circle cx="267" cy="124"/><circle cx="303" cy="118"/><circle cx="225" cy="103"/><circle cx="233" cy="98"/><circle cx="139" cy="91"/><circle cx="238" cy="88"/><circle cx="271" cy="83"/><circle cx="250" cy="82"/><circle cx="203" cy="81"/><circle cx="417" cy="81"/><circle cx="212" cy="81"/><circle cx="202" cy="83"/><circle cx="212" cy="87"/><circle cx="171" cy="90"/><circle cx="188" cy="93"/><circle cx="167" cy="97"/><circle cx="166" cy="101"/><circle cx="168" cy="106"/><circle cx="225" cy="111"/><circle cx="247" cy="122"/><circle cx="261" cy="128"/><circle cx="439" cy="134"/><circle cx="239" cy="140"/><circle cx="227" cy="146"/><circle cx="229" cy="152"/><circle cx="312" cy="165"/><circle cx="429" cy="172"/><circle cx="265" cy="193"/><circle cx="302" cy="206"/><circle cx="322" cy="220"/><circle cx="347" cy="227"/><circle cx="346" cy="234"/><circle cx="301" cy="241"/><circle cx="282" cy="248"/><circle cx="227" cy="255"/><circle cx="205" cy="268"/><circle cx="206" cy="275"/><circle cx="337" cy="282"/><circle cx="193" cy="301"/><circle cx="189" cy="308"/><circle cx="174" cy="314"/><circle cx="237" cy="332"/><circle cx="294" cy="338"/><circle cx="306" cy="360"/><circle cx="295" cy="366"/><circle cx="253" cy="385"/><circle cx="158" cy="405"/><circle cx="303" cy="419"/><circle cx="321" cy="421"/><circle cx="325" cy="427"/><circle cx="184" cy="402"/><circle cx="312" cy="377"/><circle cx="333" cy="372"/><circle cx="341" cy="367"/><circle cx="333" cy="362"/><circle cx="364" cy="357"/><circle cx="319" cy="351"/><circle cx="252" cy="340"/><circle cx="194" cy="328"/><circle cx="208" cy="322"/><circle cx="173" cy="316"/><circle cx="181" cy="303"/><circle cx="195" cy="297"/><circle cx="178" cy="284"/><circle cx="182" cy="277"/><circle cx="213" cy="271"/><circle cx="232" cy="257"/><circle cx="166" cy="223"/><circle cx="177" cy="216"/><circle cx="191" cy="209"/><circle cx="165" cy="202"/><circle cx="196" cy="195"/><circle cx="276" cy="161"/><circle cx="281" cy="155"/><circle cx="277" cy="148"/><circle cx="253" cy="142"/><circle cx="272" cy="130"/><circle cx="234" cy="113"/><circle cx="211" cy="108"/><circle cx="299" cy="99"/><circle cx="261" cy="95"/><circle cx="191" cy="88"/><circle cx="228" cy="85"/><circle cx="250" cy="83"/><circle cx="228" cy="82"/><circle cx="274" cy="81"/><circle cx="295" cy="81"/><circle cx="286" cy="81"/><circle cx="296" cy="84"/><circle cx="327" cy="87"/><circle cx="259" cy="90"/><circle cx="293" cy="101"/><circle cx="302" cy="106"/><circle cx="299" cy="111"/><circle cx="274" cy="128"/><circle cx="332" cy="140"/><circle cx="306" cy="146"/><circle cx="282" cy="152"/><circle cx="218" cy="193"/><circle cx="208" cy="199"/><circle cx="192" cy="213"/><circle cx="179" cy="220"/><circle cx="203" cy="227"/><circle cx="358" cy="234"/><circle cx="205" cy="241"/><circle cx="253" cy="255"/><circle cx="280" cy="268"/><circle cx="238" cy="282"/><circle cx="258" cy="314"/><circle cx="218" cy="326"/><circle cx="173" cy="350"/><circle cx="191" cy="360"/><circle cx="218" cy="389"/><circle cx="201" cy="394"/><circle cx="164" cy="417"/><circle cx="164" cy="427"/><circle cx="181" cy="423"/><circle cx="172" cy="420"/><circle cx="166" cy="418"/><circle cx="164" cy="373"/><circle cx="164" cy="368"/><circle cx="164" cy="357"/><circle cx="164" cy="340"/><circle cx="165" cy="335"/><circle cx="187" cy="329"/><circle cx="228" cy="316"/><circle cx="175" cy="297"/><circle cx="196" cy="291"/><circle cx="213" cy="284"/><circle cx="199" cy="278"/><circle cx="202" cy="271"/><circle cx="182" cy="264"/><circle cx="164" cy="257"/><circle cx="196" cy="251"/><circle cx="185" cy="244"/><circle cx="190" cy="230"/><circle cx="189" cy="223"/><circle cx="177" cy="209"/><circle cx="173" cy="202"/><circle cx="246" cy="195"/><circle cx="262" cy="182"/><circle cx="281" cy="175"/><circle cx="310" cy="168"/><circle cx="349" cy="162"/><circle cx="318" cy="142"/><circle cx="243" cy="124"/><circle cx="269" cy="113"/><circle cx="245" cy="103"/><circle cx="332" cy="95"/><circle cx="293" cy="91"/><circle cx="336" cy="88"/><circle cx="376" cy="83"/><circle cx="507" cy="82"/><circle cx="382" cy="81"/><circle cx="303" cy="81"/><circle cx="309" cy="82"/><circle cx="325" cy="85"/><circle cx="349" cy="87"/><circle cx="330" cy="90"/><circle cx="339" cy="93"/><circle cx="283" cy="97"/><circle cx="277" cy="101"/><circle cx="330" cy="106"/><circle cx="288" cy="111"/><circle cx="418" cy="122"/><circle cx="325" cy="134"/><circle cx="324" cy="140"/><circle cx="297" cy="152"/><circle cx="202" cy="172"/><circle cx="201" cy="179"/><circle cx="207" cy="186"/><circle cx="262" cy="199"/><circle cx="306" cy="206"/><circle cx="271" cy="220"/><circle cx="294" cy="227"/><circle cx="249" cy="234"/><circle cx="280" cy="241"/><circle cx="250" cy="248"/><circle cx="242" cy="255"/><circle cx="178" cy="268"/><circle cx="195" cy="308"/><circle cx="189" cy="314"/><circle cx="219" cy="338"/><circle cx="300" cy="350"/><circle cx="305" cy="355"/><circle cx="302" cy="371"/><circle cx="266" cy="394"/><circle cx="293" cy="398"/><circle cx="284" cy="414"/><circle cx="307" cy="419"/><circle cx="315" cy="421"/><circle cx="153" cy="427"/><circle cx="166" cy="415"/><circle cx="165" cy="413"/><circle cx="165" cy="399"/><circle cx="189" cy="368"/><circle cx="192" cy="363"/><circle cx="183" cy="357"/><circle cx="226" cy="341"/><circle cx="267" cy="329"/><circle cx="258" cy="323"/><circle cx="283" cy="310"/><circle cx="288" cy="278"/><circle cx="312" cy="271"/><circle cx="318" cy="264"/><circle cx="276" cy="244"/><circle cx="264" cy="196"/><circle cx="251" cy="189"/><circle cx="302" cy="175"/><circle cx="314" cy="169"/><circle cx="317" cy="162"/><circle cx="310" cy="155"/><circle cx="304" cy="149"/><circle cx="296" cy="143"/><circle cx="327" cy="130"/><circle cx="282" cy="119"/><circle cx="293" cy="104"/><circle cx="296" cy="99"/><circle cx="237" cy="95"/><circle cx="270" cy="91"/><circle cx="338" cy="88"/><circle cx="345" cy="86"/><circle cx="284" cy="84"/><circle cx="302" cy="82"/><circle cx="286" cy="81"/><circle cx="303" cy="81"/><circle cx="323" cy="82"/><circle cx="313" cy="83"/><circle cx="268" cy="85"/><circle cx="266" cy="87"/><circle cx="272" cy="93"/><circle cx="273" cy="97"/><circle cx="168" cy="111"/><circle cx="214" cy="122"/><circle cx="308" cy="140"/><circle cx="334" cy="146"/><circle cx="317" cy="152"/><circle cx="346" cy="159"/><circle cx="318" cy="165"/><circle cx="345" cy="179"/><circle cx="362" cy="186"/><circle cx="377" cy="193"/></g>
<g fill="#25838e" stroke="#25838e"><circle cx="328" cy="199"/><circle cx="308" cy="206"/><circle cx="272" cy="213"/><circle cx="251" cy="220"/><circle cx="459" cy="227"/><circle cx="362" cy="234"/><circle cx="258" cy="248"/><circle cx="311" cy="255"/><circle cx="298" cy="275"/><circle cx="234" cy="282"/><circle cx="240" cy="288"/><circle cx="254" cy="308"/><circle cx="309" cy="326"/><circle cx="340" cy="332"/><circle cx="308" cy="344"/><circle cx="297" cy="350"/><circle cx="297" cy="355"/><circle cx="307" cy="366"/><circle cx="295" cy="376"/><circle cx="275" cy="381"/><circle cx="309" cy="422"/><circle cx="153" cy="416"/><circle cx="251" cy="407"/><circle cx="267" cy="400"/><circle cx="296" cy="392"/><circle cx="304" cy="387"/><circle cx="282" cy="368"/><circle cx="286" cy="363"/><circle cx="301" cy="358"/><circle cx="313" cy="352"/><circle cx="296" cy="347"/><circle cx="311" cy="341"/><circle cx="325" cy="335"/><circle cx="340" cy="329"/><circle cx="300" cy="317"/><circle cx="299" cy="244"/><circle cx="343" cy="224"/><circle cx="273" cy="210"/><circle cx="291" cy="196"/><circle cx="261" cy="189"/><circle cx="218" cy="156"/><circle cx="333" cy="143"/><circle cx="228" cy="137"/><circle cx="216" cy="125"/><circle cx="246" cy="119"/><circle cx="269" cy="104"/><circle cx="260" cy="99"/><circle cx="294" cy="92"/><circle cx="323" cy="86"/><circle cx="345" cy="84"/><circle cx="356" cy="83"/><circle cx="367" cy="82"/><circle cx="139" cy="82"/><circle cx="347" cy="82"/><circle cx="139" cy="82"/><circle cx="326" cy="82"/><circle cx="263" cy="83"/><circle cx="272" cy="85"/><circle cx="139" cy="85"/><circle cx="244" cy="90"/><circle cx="190" cy="93"/><circle cx="200" cy="97"/><circle cx="186" cy="102"/><circle cx="211" cy="106"/><circle cx="307" cy="111"/><circle cx="298" cy="116"/><circle cx="315" cy="122"/><circle cx="331" cy="128"/><circle cx="294" cy="134"/><circle cx="332" cy="140"/><circle cx="288" cy="159"/><circle cx="353" cy="165"/><circle cx="359" cy="172"/><circle cx="351" cy="179"/><circle cx="312" cy="186"/><circle cx="333" cy="193"/><circle cx="317" cy="220"/><circle cx="350" cy="227"/><circle cx="339" cy="234"/><circle cx="368" cy="268"/><circle cx="322" cy="275"/><circle cx="333" cy="282"/><circle cx="317" cy="288"/><circle cx="351" cy="295"/><circle cx="291" cy="301"/><circle cx="180" cy="332"/><circle cx="195" cy="338"/><circle cx="182" cy="344"/><circle cx="223" cy="366"/><circle cx="207" cy="390"/><circle cx="228" cy="398"/><circle cx="246" cy="405"/><circle cx="305" cy="409"/><circle cx="165" cy="425"/><circle cx="164" cy="426"/><circle cx="172" cy="418"/><circle cx="169" cy="407"/><circle cx="200" cy="392"/><circle cx="248" cy="383"/><circle cx="191" cy="369"/><circle cx="189" cy="363"/><circle cx="172" cy="341"/><circle cx="176" cy="335"/><circle cx="184" cy="329"/><circle cx="202" cy="323"/><circle cx="237" cy="311"/><circle cx="265" cy="292"/><circle cx="502" cy="285"/><circle cx="310" cy="278"/><circle cx="281" cy="265"/><circle cx="313" cy="245"/><circle cx="317" cy="238"/><circle cx="276" cy="224"/><circle cx="278" cy="210"/><circle cx="266" cy="196"/><circle cx="269" cy="183"/><circle cx="219" cy="176"/><circle cx="218" cy="169"/><circle cx="207" cy="162"/><circle cx="199" cy="156"/><circle cx="216" cy="149"/><circle cx="353" cy="131"/><circle cx="349" cy="119"/><circle cx="314" cy="114"/><circle cx="353" cy="109"/><circle cx="376" cy="104"/><circle cx="398" cy="100"/><circle cx="423" cy="96"/><circle cx="431" cy="92"/><circle cx="389" cy="89"/><circle cx="352" cy="86"/><circle cx="321" cy="84"/><circle cx="294" cy="83"/><circle cx="265" cy="82"/><circle cx="223" cy="82"/><circle cx="168" cy="82"/><circle cx="174" cy="83"/><circle cx="196" cy="85"/><circle cx="254" cy="87"/><circle cx="289" cy="90"/><circle cx="246" cy="97"/><circle cx="192" cy="111"/><circle cx="210" cy="117"/><circle cx="218" cy="122"/><circle cx="228" cy="128"/><circle cx="217" cy="140"/><circle cx="236" cy="146"/><circle cx="250" cy="152"/><circle cx="243" cy="159"/><circle cx="220" cy="166"/><circle cx="194" cy="172"/><circle cx="216" cy="179"/><circle cx="228" cy="186"/><circle cx="193" cy="193"/><circle cx="205" cy="199"/><circle cx="224" cy="206"/><circle cx="188" cy="220"/><circle cx="166" cy="234"/><circle cx="179" cy="248"/><circle cx="155" cy="255"/><circle cx="165" cy="268"/><circle cx="177" cy="295"/><circle cx="177" cy="301"/><circle cx="248" cy="326"/><circle cx="283" cy="338"/><circle cx="310" cy="344"/><circle cx="327" cy="355"/><circle cx="384" cy="361"/><circle cx="330" cy="366"/><circle cx="362" cy="371"/><circle cx="360" cy="376"/><circle cx="384" cy="381"/><circle cx="391" cy="385"/><circle cx="374" cy="390"/><circle cx="361" cy="394"/><circle cx="336" cy="398"/><circle cx="316" cy="402"/><circle cx="297" cy="405"/><circle cx="283" cy="409"/><circle cx="314" cy="412"/><circle cx="330" cy="415"/><circle cx="303" cy="422"/><circle cx="303" cy="424"/><circle cx="292" cy="425"/><circle cx="152" cy="426"/><circle cx="303" cy="428"/><circle cx="314" cy="427"/><circle cx="175" cy="413"/><circle cx="273" cy="379"/><circle cx="257" cy="374"/><circle cx="257" cy="369"/><circle cx="317" cy="364"/><circle cx="307" cy="353"/><circle cx="315" cy="347"/><circle cx="302" cy="342"/><circle cx="227" cy="324"/><circle cx="277" cy="318"/><circle cx="281" cy="305"/><circle cx="225" cy="292"/><circle cx="210" cy="272"/><circle cx="159" cy="265"/><circle cx="230" cy="259"/><circle cx="312" cy="238"/><circle cx="285" cy="231"/><circle cx="292" cy="224"/><circle cx="332" cy="210"/><circle cx="423" cy="203"/><circle cx="308" cy="197"/><circle cx="311" cy="183"/><circle cx="277" cy="176"/><circle cx="328" cy="163"/><circle cx="330" cy="156"/><circle cx="139" cy="156"/><circle cx="313" cy="150"/><circle cx="304" cy="143"/><circle cx="337" cy="137"/><circle cx="316" cy="131"/><circle cx="262" cy="125"/><circle cx="218" cy="120"/><circle cx="255" cy="114"/><circle cx="281" cy="109"/><circle cx="444" cy="104"/><circle cx="317" cy="100"/><circle cx="318" cy="96"/><circle cx="327" cy="92"/><circle cx="301" cy="89"/><circle cx="264" cy="83"/><circle cx="314" cy="82"/><circle cx="349" cy="82"/><circle cx="351" cy="83"/><circle cx="372" cy="84"/><circle cx="322" cy="85"/><circle cx="296" cy="88"/><circle cx="282" cy="90"/><circle cx="319" cy="94"/><circle cx="300" cy="98"/><circle cx="302" cy="102"/><circle cx="293" cy="106"/><circle cx="243" cy="117"/><circle cx="256" cy="122"/><circle cx="265" cy="128"/><circle cx="281" cy="146"/><circle cx="361" cy="153"/><circle cx="292" cy="159"/><circle cx="279" cy="166"/><circle cx="251" cy="193"/><circle cx="244" cy="200"/><circle cx="301" cy="241"/><circle cx="291" cy="248"/><circle cx="245" cy="268"/><circle cx="249" cy="282"/><circle cx="266" cy="288"/><circle cx="250" cy="308"/><circle cx="194" cy="320"/><circle cx="236" cy="326"/><circle cx="270" cy="333"/><circle cx="301" cy="338"/><circle cx="344" cy="344"/><circle cx="357" cy="350"/><circle cx="377" cy="356"/><circle cx="337" cy="361"/><circle cx="322" cy="366"/><circle cx="293" cy="371"/><circle cx="297" cy="376"/><circle cx="221" cy="386"/><circle cx="179" cy="394"/><circle cx="181" cy="409"/><circle cx="189" cy="420"/><circle cx="191" cy="422"/><circle cx="257" cy="428"/><circle cx="232" cy="397"/><circle cx="293" cy="393"/><circle cx="272" cy="384"/><circle cx="186" cy="348"/><circle cx="208" cy="342"/><circle cx="185" cy="330"/><circle cx="185" cy="324"/><circle cx="180" cy="318"/><circle cx="183" cy="312"/><circle cx="210" cy="305"/><circle cx="407" cy="286"/><circle cx="226" cy="279"/><circle cx="203" cy="272"/><circle cx="363" cy="266"/><circle cx="312" cy="259"/><circle cx="248" cy="245"/><circle cx="204" cy="238"/><circle cx="210" cy="231"/><circle cx="229" cy="225"/><circle cx="253" cy="204"/><circle cx="245" cy="177"/><circle cx="274" cy="170"/><circle cx="303" cy="157"/><circle cx="294" cy="144"/><circle cx="348" cy="138"/><circle cx="261" cy="132"/><circle cx="241" cy="126"/><circle cx="243" cy="115"/><circle cx="210" cy="110"/><circle cx="233" cy="100"/><circle cx="211" cy="96"/><circle cx="233" cy="93"/><circle cx="186" cy="90"/><circle cx="208" cy="87"/><circle cx="238" cy="85"/><circle cx="226" cy="83"/><circle cx="217" cy="83"/><circle cx="206" cy="82"/><circle cx="234" cy="83"/><circle cx="280" cy="84"/><circle cx="293" cy="86"/><circle cx="287" cy="88"/><circle cx="227" cy="91"/><circle cx="301" cy="98"/><circle cx="340" cy="102"/><circle cx="330" cy="107"/><circle cx="292" cy="112"/><circle cx="302" cy="117"/><circle cx="311" cy="122"/><circle cx="295" cy="128"/><circle cx="265" cy="134"/><circle cx="297" cy="146"/></g>
<g fill="#24878e" stroke="#24878e"><circle cx="503" cy="172"/><circle cx="227" cy="179"/><circle cx="273" cy="193"/><circle cx="225" cy="200"/><circle cx="239" cy="207"/><circle cx="189" cy="234"/><circle cx="255" cy="241"/><circle cx="164" cy="262"/><circle cx="198" cy="268"/><circle cx="208" cy="275"/><circle cx="177" cy="288"/><circle cx="257" cy="295"/><circle cx="188" cy="327"/><circle cx="171" cy="333"/><circle cx="207" cy="350"/><circle cx="179" cy="356"/><circle cx="228" cy="366"/><circle cx="234" cy="381"/><circle cx="288" cy="390"/><circle cx="285" cy="395"/><circle cx="284" cy="399"/><circle cx="299" cy="406"/><circle cx="302" cy="409"/><circle cx="304" cy="412"/><circle cx="356" cy="415"/><circle cx="334" cy="418"/><circle cx="342" cy="420"/><circle cx="352" cy="422"/><circle cx="308" cy="424"/><circle cx="306" cy="427"/><circle cx="259" cy="428"/><circle cx="257" cy="411"/><circle cx="286" cy="405"/><circle cx="298" cy="401"/><circle cx="293" cy="393"/><circle cx="289" cy="389"/><circle cx="320" cy="384"/><circle cx="316" cy="379"/><circle cx="344" cy="375"/><circle cx="306" cy="370"/><circle cx="291" cy="364"/><circle cx="275" cy="359"/><circle cx="217" cy="354"/><circle cx="237" cy="348"/><circle cx="222" cy="336"/><circle cx="239" cy="330"/><circle cx="250" cy="324"/><circle cx="255" cy="318"/><circle cx="243" cy="252"/><circle cx="151" cy="246"/><circle cx="262" cy="239"/><circle cx="234" cy="225"/><circle cx="167" cy="218"/><circle cx="193" cy="211"/><circle cx="187" cy="204"/><circle cx="329" cy="190"/><circle cx="167" cy="177"/><circle cx="165" cy="170"/><circle cx="169" cy="164"/><circle cx="171" cy="157"/><circle cx="164" cy="151"/><circle cx="169" cy="138"/><circle cx="166" cy="132"/><circle cx="165" cy="126"/><circle cx="165" cy="121"/><circle cx="212" cy="115"/><circle cx="210" cy="110"/><circle cx="214" cy="105"/><circle cx="232" cy="101"/><circle cx="256" cy="97"/><circle cx="302" cy="93"/><circle cx="334" cy="90"/><circle cx="286" cy="87"/><circle cx="259" cy="83"/><circle cx="288" cy="83"/><circle cx="254" cy="83"/><circle cx="268" cy="86"/><circle cx="261" cy="88"/><circle cx="227" cy="91"/><circle cx="227" cy="94"/><circle cx="218" cy="98"/><circle cx="223" cy="102"/><circle cx="239" cy="122"/><circle cx="193" cy="128"/><circle cx="187" cy="134"/><circle cx="235" cy="140"/><circle cx="299" cy="153"/><circle cx="266" cy="159"/><circle cx="212" cy="173"/><circle cx="229" cy="179"/><circle cx="251" cy="186"/><circle cx="285" cy="193"/><circle cx="202" cy="207"/><circle cx="173" cy="227"/><circle cx="173" cy="234"/><circle cx="183" cy="241"/><circle cx="164" cy="248"/><circle cx="169" cy="262"/><circle cx="176" cy="275"/><circle cx="174" cy="289"/><circle cx="192" cy="295"/><circle cx="193" cy="314"/><circle cx="179" cy="321"/><circle cx="265" cy="345"/><circle cx="298" cy="361"/><circle cx="331" cy="367"/><circle cx="299" cy="372"/><circle cx="307" cy="377"/><circle cx="293" cy="381"/><circle cx="308" cy="386"/><circle cx="260" cy="391"/><circle cx="180" cy="418"/><circle cx="177" cy="421"/><circle cx="255" cy="427"/><circle cx="261" cy="429"/><circle cx="301" cy="429"/><circle cx="310" cy="428"/><circle cx="322" cy="425"/><circle cx="293" cy="424"/><circle cx="308" cy="422"/><circle cx="257" cy="408"/><circle cx="249" cy="405"/><circle cx="281" cy="401"/><circle cx="294" cy="397"/><circle cx="330" cy="393"/><circle cx="319" cy="389"/><circle cx="365" cy="385"/><circle cx="339" cy="380"/><circle cx="314" cy="375"/><circle cx="288" cy="370"/><circle cx="295" cy="360"/><circle cx="175" cy="348"/><circle cx="170" cy="337"/><circle cx="166" cy="331"/><circle cx="169" cy="300"/><circle cx="202" cy="293"/><circle cx="215" cy="286"/><circle cx="184" cy="280"/><circle cx="288" cy="266"/><circle cx="271" cy="253"/><circle cx="211" cy="239"/><circle cx="173" cy="232"/><circle cx="191" cy="225"/><circle cx="236" cy="218"/><circle cx="289" cy="211"/><circle cx="332" cy="198"/><circle cx="323" cy="191"/><circle cx="371" cy="177"/><circle cx="201" cy="145"/><circle cx="216" cy="138"/><circle cx="296" cy="132"/><circle cx="335" cy="127"/><circle cx="311" cy="116"/><circle cx="341" cy="110"/><circle cx="326" cy="106"/><circle cx="337" cy="101"/><circle cx="387" cy="97"/><circle cx="328" cy="93"/><circle cx="340" cy="90"/><circle cx="322" cy="88"/><circle cx="282" cy="86"/><circle cx="272" cy="84"/><circle cx="288" cy="83"/><circle cx="302" cy="83"/><circle cx="296" cy="84"/><circle cx="290" cy="85"/><circle cx="283" cy="86"/><circle cx="302" cy="88"/><circle cx="254" cy="95"/><circle cx="223" cy="98"/><circle cx="201" cy="103"/><circle cx="278" cy="117"/><circle cx="237" cy="134"/><circle cx="271" cy="140"/><circle cx="245" cy="147"/><circle cx="245" cy="159"/><circle cx="230" cy="166"/><circle cx="279" cy="173"/><circle cx="383" cy="179"/><circle cx="226" cy="193"/><circle cx="307" cy="200"/><circle cx="314" cy="214"/><circle cx="309" cy="221"/><circle cx="314" cy="228"/><circle cx="502" cy="234"/><circle cx="401" cy="248"/><circle cx="360" cy="275"/><circle cx="195" cy="282"/><circle cx="184" cy="289"/><circle cx="285" cy="308"/><circle cx="283" cy="315"/><circle cx="455" cy="321"/><circle cx="226" cy="351"/><circle cx="247" cy="356"/><circle cx="228" cy="367"/><circle cx="219" cy="372"/><circle cx="237" cy="377"/><circle cx="237" cy="382"/><circle cx="241" cy="403"/><circle cx="301" cy="407"/><circle cx="260" cy="410"/><circle cx="280" cy="413"/><circle cx="347" cy="425"/><circle cx="306" cy="426"/><circle cx="157" cy="418"/><circle cx="300" cy="409"/><circle cx="256" cy="385"/><circle cx="305" cy="380"/><circle cx="304" cy="375"/><circle cx="295" cy="370"/><circle cx="219" cy="360"/><circle cx="221" cy="354"/><circle cx="254" cy="349"/><circle cx="215" cy="343"/><circle cx="177" cy="331"/><circle cx="214" cy="325"/><circle cx="218" cy="319"/><circle cx="204" cy="313"/><circle cx="203" cy="306"/><circle cx="364" cy="287"/><circle cx="321" cy="280"/><circle cx="292" cy="274"/><circle cx="294" cy="267"/><circle cx="341" cy="253"/><circle cx="366" cy="239"/><circle cx="388" cy="233"/><circle cx="384" cy="226"/><circle cx="296" cy="212"/><circle cx="267" cy="191"/><circle cx="269" cy="184"/><circle cx="241" cy="178"/><circle cx="241" cy="171"/><circle cx="239" cy="164"/><circle cx="287" cy="145"/><circle cx="275" cy="139"/><circle cx="275" cy="133"/><circle cx="287" cy="127"/><circle cx="288" cy="121"/><circle cx="281" cy="116"/><circle cx="293" cy="111"/><circle cx="300" cy="106"/><circle cx="317" cy="102"/><circle cx="309" cy="98"/><circle cx="267" cy="94"/><circle cx="262" cy="88"/><circle cx="292" cy="86"/><circle cx="256" cy="85"/><circle cx="239" cy="84"/><circle cx="246" cy="83"/><circle cx="278" cy="84"/><circle cx="281" cy="85"/><circle cx="139" cy="85"/><circle cx="292" cy="87"/><circle cx="298" cy="89"/><circle cx="303" cy="92"/><circle cx="346" cy="95"/><circle cx="338" cy="99"/><circle cx="160" cy="103"/><circle cx="315" cy="107"/><circle cx="316" cy="112"/><circle cx="306" cy="117"/><circle cx="319" cy="129"/><circle cx="311" cy="134"/><circle cx="257" cy="141"/><circle cx="507" cy="147"/><circle cx="208" cy="153"/><circle cx="184" cy="160"/><circle cx="181" cy="166"/><circle cx="227" cy="173"/><circle cx="268" cy="186"/><circle cx="425" cy="193"/><circle cx="242" cy="228"/><circle cx="212" cy="255"/><circle cx="193" cy="276"/><circle cx="363" cy="282"/><circle cx="275" cy="289"/><circle cx="205" cy="302"/><circle cx="360" cy="315"/><circle cx="213" cy="321"/><circle cx="234" cy="327"/><circle cx="212" cy="333"/><circle cx="230" cy="339"/><circle cx="239" cy="345"/><circle cx="215" cy="351"/><circle cx="151" cy="356"/><circle cx="199" cy="367"/><circle cx="204" cy="372"/><circle cx="234" cy="382"/><circle cx="206" cy="391"/><circle cx="174" cy="430"/><circle cx="238" cy="398"/><circle cx="221" cy="390"/><circle cx="229" cy="376"/><circle cx="223" cy="371"/><circle cx="229" cy="366"/><circle cx="277" cy="360"/><circle cx="244" cy="355"/><circle cx="245" cy="344"/><circle cx="239" cy="338"/><circle cx="253" cy="319"/><circle cx="228" cy="294"/><circle cx="360" cy="287"/><circle cx="219" cy="281"/><circle cx="239" cy="274"/><circle cx="224" cy="267"/><circle cx="233" cy="260"/><circle cx="210" cy="233"/><circle cx="240" cy="226"/><circle cx="251" cy="219"/><circle cx="418" cy="212"/><circle cx="222" cy="185"/><circle cx="211" cy="145"/><circle cx="265" cy="139"/><circle cx="289" cy="133"/><circle cx="280" cy="127"/><circle cx="282" cy="122"/><circle cx="292" cy="111"/><circle cx="278" cy="107"/><circle cx="251" cy="98"/><circle cx="234" cy="94"/><circle cx="237" cy="91"/><circle cx="240" cy="89"/><circle cx="236" cy="87"/><circle cx="249" cy="85"/><circle cx="139" cy="85"/><circle cx="260" cy="84"/><circle cx="253" cy="84"/><circle cx="255" cy="84"/><circle cx="238" cy="85"/><circle cx="253" cy="87"/><circle cx="456" cy="89"/><circle cx="307" cy="92"/><circle cx="308" cy="95"/><circle cx="272" cy="99"/><circle cx="285" cy="103"/><circle cx="283" cy="108"/><circle cx="270" cy="113"/><circle cx="333" cy="118"/><circle cx="347" cy="123"/><circle cx="313" cy="129"/><circle cx="350" cy="135"/><circle cx="343" cy="141"/></g>
<g fill="#228b8d" stroke="#228b8d"><circle cx="341" cy="147"/><circle cx="285" cy="153"/><circle cx="301" cy="160"/><circle cx="303" cy="180"/><circle cx="267" cy="187"/><circle cx="270" cy="221"/><circle cx="253" cy="228"/><circle cx="214" cy="255"/><circle cx="180" cy="269"/><circle cx="186" cy="276"/><circle cx="219" cy="282"/><circle cx="276" cy="302"/><circle cx="285" cy="315"/><circle cx="314" cy="321"/><circle cx="160" cy="327"/><circle cx="249" cy="351"/><circle cx="309" cy="373"/><circle cx="333" cy="378"/><circle cx="322" cy="382"/><circle cx="288" cy="387"/><circle cx="286" cy="391"/><circle cx="302" cy="396"/><circle cx="311" cy="427"/><circle cx="309" cy="430"/><circle cx="304" cy="429"/><circle cx="261" cy="425"/><circle cx="225" cy="403"/><circle cx="177" cy="395"/><circle cx="199" cy="390"/><circle cx="203" cy="381"/><circle cx="199" cy="361"/><circle cx="185" cy="355"/><circle cx="167" cy="344"/><circle cx="375" cy="338"/><circle cx="174" cy="326"/><circle cx="174" cy="320"/><circle cx="183" cy="314"/><circle cx="179" cy="307"/><circle cx="176" cy="301"/><circle cx="166" cy="294"/><circle cx="308" cy="274"/><circle cx="304" cy="254"/><circle cx="317" cy="247"/><circle cx="303" cy="240"/><circle cx="257" cy="233"/><circle cx="275" cy="227"/><circle cx="158" cy="220"/><circle cx="244" cy="206"/><circle cx="151" cy="199"/><circle cx="286" cy="185"/><circle cx="294" cy="179"/><circle cx="327" cy="172"/><circle cx="437" cy="165"/><circle cx="256" cy="146"/><circle cx="246" cy="140"/><circle cx="214" cy="128"/><circle cx="209" cy="122"/><circle cx="333" cy="117"/><circle cx="202" cy="103"/><circle cx="169" cy="95"/><circle cx="369" cy="92"/><circle cx="198" cy="89"/><circle cx="192" cy="87"/><circle cx="216" cy="85"/><circle cx="265" cy="85"/><circle cx="282" cy="84"/><circle cx="252" cy="85"/><circle cx="244" cy="86"/><circle cx="239" cy="87"/><circle cx="241" cy="90"/><circle cx="234" cy="92"/><circle cx="166" cy="96"/><circle cx="193" cy="99"/><circle cx="164" cy="103"/><circle cx="199" cy="108"/><circle cx="172" cy="113"/><circle cx="179" cy="118"/><circle cx="205" cy="123"/><circle cx="253" cy="129"/><circle cx="228" cy="160"/><circle cx="271" cy="173"/><circle cx="252" cy="180"/><circle cx="219" cy="187"/><circle cx="203" cy="194"/><circle cx="185" cy="200"/><circle cx="347" cy="214"/><circle cx="304" cy="221"/><circle cx="321" cy="228"/><circle cx="323" cy="235"/><circle cx="415" cy="249"/><circle cx="369" cy="256"/><circle cx="344" cy="262"/><circle cx="300" cy="269"/><circle cx="302" cy="276"/><circle cx="294" cy="283"/><circle cx="292" cy="296"/><circle cx="331" cy="302"/><circle cx="333" cy="309"/><circle cx="332" cy="315"/><circle cx="320" cy="322"/><circle cx="395" cy="328"/><circle cx="318" cy="334"/><circle cx="308" cy="340"/><circle cx="302" cy="357"/><circle cx="300" cy="362"/><circle cx="283" cy="368"/><circle cx="260" cy="373"/><circle cx="284" cy="383"/><circle cx="250" cy="404"/><circle cx="277" cy="411"/><circle cx="174" cy="428"/><circle cx="175" cy="431"/><circle cx="169" cy="425"/><circle cx="179" cy="421"/><circle cx="176" cy="419"/><circle cx="166" cy="416"/><circle cx="165" cy="413"/><circle cx="212" cy="361"/><circle cx="187" cy="356"/><circle cx="214" cy="350"/><circle cx="268" cy="339"/><circle cx="227" cy="333"/><circle cx="275" cy="327"/><circle cx="301" cy="320"/><circle cx="314" cy="314"/><circle cx="277" cy="308"/><circle cx="306" cy="301"/><circle cx="306" cy="295"/><circle cx="336" cy="275"/><circle cx="308" cy="268"/><circle cx="302" cy="261"/><circle cx="266" cy="254"/><circle cx="232" cy="227"/><circle cx="221" cy="220"/><circle cx="216" cy="213"/><circle cx="237" cy="193"/><circle cx="282" cy="179"/><circle cx="288" cy="172"/><circle cx="233" cy="159"/><circle cx="259" cy="146"/><circle cx="246" cy="128"/><circle cx="250" cy="123"/><circle cx="258" cy="107"/><circle cx="282" cy="99"/><circle cx="270" cy="95"/><circle cx="319" cy="92"/><circle cx="297" cy="90"/><circle cx="300" cy="87"/><circle cx="285" cy="86"/><circle cx="139" cy="86"/><circle cx="276" cy="85"/><circle cx="265" cy="85"/><circle cx="304" cy="85"/><circle cx="274" cy="86"/><circle cx="257" cy="88"/><circle cx="231" cy="90"/><circle cx="139" cy="90"/><circle cx="242" cy="93"/><circle cx="291" cy="96"/><circle cx="515" cy="104"/><circle cx="316" cy="108"/><circle cx="359" cy="113"/><circle cx="322" cy="118"/><circle cx="291" cy="124"/><circle cx="258" cy="135"/><circle cx="320" cy="141"/><circle cx="294" cy="148"/><circle cx="299" cy="154"/><circle cx="317" cy="160"/><circle cx="299" cy="167"/><circle cx="334" cy="174"/><circle cx="330" cy="180"/><circle cx="363" cy="187"/><circle cx="331" cy="194"/><circle cx="151" cy="214"/><circle cx="283" cy="221"/><circle cx="232" cy="228"/><circle cx="203" cy="235"/><circle cx="192" cy="242"/><circle cx="205" cy="256"/><circle cx="246" cy="263"/><circle cx="495" cy="270"/><circle cx="225" cy="283"/><circle cx="207" cy="290"/><circle cx="217" cy="296"/><circle cx="193" cy="322"/><circle cx="172" cy="328"/><circle cx="210" cy="334"/><circle cx="218" cy="340"/><circle cx="196" cy="346"/><circle cx="192" cy="352"/><circle cx="188" cy="357"/><circle cx="191" cy="363"/><circle cx="291" cy="383"/><circle cx="318" cy="388"/><circle cx="333" cy="392"/><circle cx="338" cy="396"/><circle cx="320" cy="401"/><circle cx="292" cy="404"/><circle cx="335" cy="408"/><circle cx="319" cy="411"/><circle cx="292" cy="415"/><circle cx="323" cy="418"/><circle cx="153" cy="420"/><circle cx="261" cy="425"/><circle cx="157" cy="428"/><circle cx="280" cy="432"/><circle cx="289" cy="432"/><circle cx="307" cy="424"/><circle cx="316" cy="422"/><circle cx="323" cy="419"/><circle cx="280" cy="417"/><circle cx="293" cy="414"/><circle cx="275" cy="411"/><circle cx="210" cy="407"/><circle cx="164" cy="404"/><circle cx="187" cy="396"/><circle cx="247" cy="391"/><circle cx="173" cy="382"/><circle cx="196" cy="377"/><circle cx="188" cy="367"/><circle cx="185" cy="362"/><circle cx="202" cy="356"/><circle cx="224" cy="333"/><circle cx="209" cy="327"/><circle cx="165" cy="315"/><circle cx="203" cy="295"/><circle cx="239" cy="289"/><circle cx="284" cy="269"/><circle cx="274" cy="262"/><circle cx="289" cy="248"/><circle cx="213" cy="227"/><circle cx="222" cy="220"/><circle cx="219" cy="214"/><circle cx="209" cy="193"/><circle cx="218" cy="186"/><circle cx="261" cy="173"/><circle cx="280" cy="166"/><circle cx="287" cy="160"/><circle cx="292" cy="153"/><circle cx="267" cy="147"/><circle cx="316" cy="135"/><circle cx="139" cy="129"/><circle cx="243" cy="118"/><circle cx="271" cy="113"/><circle cx="245" cy="108"/><circle cx="217" cy="99"/><circle cx="217" cy="96"/><circle cx="182" cy="93"/><circle cx="175" cy="90"/><circle cx="368" cy="88"/><circle cx="168" cy="87"/><circle cx="168" cy="86"/><circle cx="167" cy="85"/><circle cx="164" cy="86"/><circle cx="164" cy="87"/><circle cx="250" cy="90"/><circle cx="259" cy="93"/><circle cx="280" cy="96"/><circle cx="292" cy="100"/><circle cx="255" cy="104"/><circle cx="219" cy="109"/><circle cx="240" cy="119"/><circle cx="279" cy="124"/><circle cx="292" cy="130"/><circle cx="276" cy="136"/><circle cx="258" cy="142"/><circle cx="269" cy="148"/><circle cx="299" cy="154"/><circle cx="292" cy="161"/><circle cx="335" cy="167"/><circle cx="321" cy="174"/><circle cx="327" cy="180"/><circle cx="310" cy="187"/><circle cx="370" cy="194"/><circle cx="296" cy="215"/><circle cx="259" cy="222"/><circle cx="293" cy="229"/><circle cx="300" cy="235"/><circle cx="282" cy="242"/><circle cx="308" cy="249"/><circle cx="344" cy="256"/><circle cx="328" cy="263"/><circle cx="284" cy="270"/><circle cx="285" cy="277"/><circle cx="239" cy="290"/><circle cx="212" cy="309"/><circle cx="197" cy="316"/><circle cx="166" cy="328"/><circle cx="188" cy="334"/><circle cx="253" cy="346"/><circle cx="282" cy="363"/><circle cx="199" cy="388"/><circle cx="215" cy="393"/><circle cx="198" cy="405"/><circle cx="183" cy="408"/><circle cx="173" cy="412"/><circle cx="257" cy="432"/><circle cx="318" cy="432"/><circle cx="301" cy="432"/><circle cx="261" cy="432"/><circle cx="283" cy="429"/><circle cx="344" cy="425"/><circle cx="336" cy="422"/><circle cx="375" cy="420"/><circle cx="366" cy="417"/><circle cx="318" cy="414"/><circle cx="318" cy="411"/><circle cx="307" cy="408"/><circle cx="281" cy="404"/><circle cx="211" cy="392"/><circle cx="200" cy="387"/><circle cx="203" cy="383"/><circle cx="289" cy="351"/><circle cx="291" cy="345"/><circle cx="315" cy="340"/><circle cx="270" cy="328"/><circle cx="324" cy="321"/><circle cx="327" cy="315"/><circle cx="283" cy="302"/><circle cx="232" cy="289"/><circle cx="219" cy="282"/><circle cx="184" cy="276"/><circle cx="200" cy="269"/><circle cx="196" cy="262"/><circle cx="242" cy="249"/><circle cx="435" cy="221"/><circle cx="337" cy="214"/><circle cx="295" cy="207"/><circle cx="243" cy="200"/><circle cx="228" cy="193"/><circle cx="244" cy="180"/><circle cx="236" cy="173"/><circle cx="188" cy="154"/><circle cx="166" cy="147"/><circle cx="215" cy="141"/><circle cx="225" cy="135"/><circle cx="384" cy="129"/><circle cx="198" cy="124"/><circle cx="229" cy="118"/><circle cx="256" cy="109"/><circle cx="281" cy="100"/><circle cx="305" cy="96"/><circle cx="346" cy="93"/><circle cx="359" cy="91"/><circle cx="354" cy="89"/><circle cx="387" cy="87"/><circle cx="374" cy="86"/><circle cx="341" cy="86"/><circle cx="373" cy="86"/><circle cx="350" cy="87"/><circle cx="358" cy="89"/><circle cx="384" cy="91"/><circle cx="347" cy="94"/><circle cx="320" cy="97"/><circle cx="324" cy="101"/><circle cx="329" cy="105"/><circle cx="139" cy="105"/><circle cx="291" cy="109"/><circle cx="274" cy="114"/></g>
<g fill="#218f8d" stroke="#218f8d"><circle cx="280" cy="124"/><circle cx="269" cy="130"/><circle cx="257" cy="136"/><circle cx="217" cy="142"/><circle cx="182" cy="148"/><circle cx="166" cy="154"/><circle cx="172" cy="161"/><circle cx="168" cy="167"/><circle cx="193" cy="174"/><circle cx="200" cy="181"/><circle cx="379" cy="188"/><circle cx="184" cy="194"/><circle cx="179" cy="201"/><circle cx="339" cy="208"/><circle cx="168" cy="215"/><circle cx="420" cy="222"/><circle cx="253" cy="229"/><circle cx="335" cy="243"/><circle cx="312" cy="250"/><circle cx="235" cy="256"/><circle cx="242" cy="263"/><circle cx="208" cy="270"/><circle cx="270" cy="290"/><circle cx="201" cy="316"/><circle cx="158" cy="322"/><circle cx="242" cy="329"/><circle cx="265" cy="341"/><circle cx="282" cy="347"/><circle cx="241" cy="352"/><circle cx="256" cy="358"/><circle cx="213" cy="363"/><circle cx="200" cy="369"/><circle cx="225" cy="379"/><circle cx="195" cy="393"/><circle cx="190" cy="416"/><circle cx="179" cy="433"/><circle cx="262" cy="433"/><circle cx="286" cy="432"/><circle cx="294" cy="431"/><circle cx="297" cy="430"/><circle cx="187" cy="429"/><circle cx="190" cy="425"/><circle cx="186" cy="423"/><circle cx="197" cy="421"/><circle cx="153" cy="405"/><circle cx="198" cy="401"/><circle cx="232" cy="397"/><circle cx="245" cy="388"/><circle cx="231" cy="378"/><circle cx="254" cy="368"/><circle cx="274" cy="363"/><circle cx="305" cy="357"/><circle cx="309" cy="352"/><circle cx="253" cy="340"/><circle cx="235" cy="334"/><circle cx="247" cy="328"/><circle cx="296" cy="316"/><circle cx="249" cy="303"/><circle cx="220" cy="296"/><circle cx="204" cy="290"/><circle cx="190" cy="283"/><circle cx="196" cy="263"/><circle cx="172" cy="242"/><circle cx="166" cy="235"/><circle cx="168" cy="221"/><circle cx="191" cy="215"/><circle cx="188" cy="208"/><circle cx="205" cy="201"/><circle cx="224" cy="194"/><circle cx="220" cy="187"/><circle cx="235" cy="174"/><circle cx="261" cy="142"/><circle cx="257" cy="136"/><circle cx="300" cy="130"/><circle cx="287" cy="124"/><circle cx="250" cy="119"/><circle cx="273" cy="114"/><circle cx="299" cy="109"/><circle cx="139" cy="109"/><circle cx="270" cy="105"/><circle cx="139" cy="105"/><circle cx="225" cy="101"/><circle cx="220" cy="97"/><circle cx="233" cy="94"/><circle cx="258" cy="91"/><circle cx="207" cy="89"/><circle cx="235" cy="88"/><circle cx="262" cy="87"/><circle cx="306" cy="86"/><circle cx="288" cy="87"/><circle cx="283" cy="88"/><circle cx="250" cy="89"/><circle cx="318" cy="91"/><circle cx="298" cy="94"/><circle cx="298" cy="97"/><circle cx="303" cy="101"/><circle cx="233" cy="105"/><circle cx="201" cy="110"/><circle cx="251" cy="114"/><circle cx="214" cy="119"/><circle cx="204" cy="125"/><circle cx="165" cy="130"/><circle cx="165" cy="136"/><circle cx="185" cy="142"/><circle cx="207" cy="155"/><circle cx="222" cy="161"/><circle cx="216" cy="168"/><circle cx="248" cy="181"/><circle cx="200" cy="195"/><circle cx="208" cy="202"/><circle cx="193" cy="208"/><circle cx="196" cy="215"/><circle cx="218" cy="222"/><circle cx="252" cy="229"/><circle cx="263" cy="236"/><circle cx="226" cy="243"/><circle cx="167" cy="250"/><circle cx="186" cy="264"/><circle cx="236" cy="270"/><circle cx="225" cy="277"/><circle cx="204" cy="284"/><circle cx="242" cy="291"/><circle cx="235" cy="304"/><circle cx="264" cy="323"/><circle cx="238" cy="329"/><circle cx="217" cy="341"/><circle cx="214" cy="347"/><circle cx="211" cy="369"/><circle cx="216" cy="389"/><circle cx="242" cy="393"/><circle cx="193" cy="398"/><circle cx="197" cy="406"/><circle cx="205" cy="409"/><circle cx="307" cy="432"/><circle cx="276" cy="433"/><circle cx="262" cy="426"/><circle cx="284" cy="409"/><circle cx="295" cy="405"/><circle cx="252" cy="397"/><circle cx="249" cy="393"/><circle cx="224" cy="384"/><circle cx="269" cy="369"/><circle cx="196" cy="358"/><circle cx="201" cy="352"/><circle cx="194" cy="346"/><circle cx="176" cy="341"/><circle cx="171" cy="335"/><circle cx="225" cy="329"/><circle cx="209" cy="316"/><circle cx="209" cy="310"/><circle cx="241" cy="277"/><circle cx="245" cy="270"/><circle cx="236" cy="256"/><circle cx="276" cy="250"/><circle cx="271" cy="243"/><circle cx="289" cy="229"/><circle cx="269" cy="222"/><circle cx="223" cy="215"/><circle cx="195" cy="208"/><circle cx="226" cy="201"/><circle cx="242" cy="194"/><circle cx="287" cy="181"/><circle cx="280" cy="174"/><circle cx="249" cy="155"/><circle cx="217" cy="148"/><circle cx="180" cy="142"/><circle cx="169" cy="136"/><circle cx="165" cy="125"/><circle cx="169" cy="120"/><circle cx="169" cy="114"/><circle cx="388" cy="110"/><circle cx="167" cy="105"/><circle cx="168" cy="101"/><circle cx="168" cy="98"/><circle cx="168" cy="94"/><circle cx="165" cy="92"/><circle cx="171" cy="90"/><circle cx="210" cy="88"/><circle cx="191" cy="87"/><circle cx="222" cy="87"/><circle cx="199" cy="87"/><circle cx="183" cy="88"/><circle cx="182" cy="90"/><circle cx="369" cy="92"/><circle cx="165" cy="95"/><circle cx="184" cy="98"/><circle cx="222" cy="101"/><circle cx="251" cy="106"/><circle cx="283" cy="110"/><circle cx="246" cy="115"/><circle cx="267" cy="125"/><circle cx="252" cy="131"/><circle cx="324" cy="137"/><circle cx="262" cy="143"/><circle cx="264" cy="149"/><circle cx="226" cy="155"/><circle cx="229" cy="162"/><circle cx="466" cy="168"/><circle cx="277" cy="181"/><circle cx="273" cy="209"/><circle cx="203" cy="236"/><circle cx="201" cy="243"/><circle cx="254" cy="250"/><circle cx="254" cy="257"/><circle cx="216" cy="271"/><circle cx="224" cy="277"/><circle cx="228" cy="284"/><circle cx="210" cy="291"/><circle cx="204" cy="297"/><circle cx="212" cy="304"/><circle cx="185" cy="323"/><circle cx="186" cy="329"/><circle cx="194" cy="335"/><circle cx="176" cy="341"/><circle cx="207" cy="347"/><circle cx="252" cy="353"/><circle cx="247" cy="364"/><circle cx="244" cy="375"/><circle cx="247" cy="389"/><circle cx="161" cy="394"/><circle cx="252" cy="398"/><circle cx="216" cy="406"/><circle cx="203" cy="410"/><circle cx="237" cy="417"/><circle cx="309" cy="430"/><circle cx="235" cy="422"/><circle cx="244" cy="409"/><circle cx="256" cy="398"/><circle cx="263" cy="389"/><circle cx="263" cy="384"/><circle cx="285" cy="374"/><circle cx="265" cy="369"/><circle cx="256" cy="364"/><circle cx="157" cy="353"/><circle cx="265" cy="341"/><circle cx="313" cy="335"/><circle cx="319" cy="329"/><circle cx="340" cy="323"/><circle cx="352" cy="317"/><circle cx="327" cy="310"/><circle cx="349" cy="304"/><circle cx="321" cy="297"/><circle cx="289" cy="291"/><circle cx="292" cy="284"/><circle cx="293" cy="277"/><circle cx="382" cy="250"/><circle cx="349" cy="243"/><circle cx="311" cy="236"/><circle cx="305" cy="229"/><circle cx="293" cy="222"/><circle cx="303" cy="216"/><circle cx="274" cy="195"/><circle cx="318" cy="188"/><circle cx="335" cy="181"/><circle cx="317" cy="175"/><circle cx="326" cy="168"/><circle cx="303" cy="162"/><circle cx="272" cy="149"/><circle cx="265" cy="137"/><circle cx="139" cy="137"/><circle cx="210" cy="125"/><circle cx="351" cy="120"/><circle cx="239" cy="115"/><circle cx="261" cy="106"/><circle cx="241" cy="98"/><circle cx="209" cy="92"/><circle cx="139" cy="92"/><circle cx="179" cy="90"/><circle cx="176" cy="89"/><circle cx="200" cy="88"/><circle cx="165" cy="88"/><circle cx="191" cy="88"/><circle cx="204" cy="89"/><circle cx="199" cy="90"/><circle cx="165" cy="93"/><circle cx="168" cy="95"/><circle cx="192" cy="98"/><circle cx="168" cy="102"/><circle cx="167" cy="106"/><circle cx="169" cy="110"/><circle cx="179" cy="115"/><circle cx="189" cy="120"/><circle cx="190" cy="126"/><circle cx="218" cy="137"/><circle cx="260" cy="143"/><circle cx="250" cy="149"/><circle cx="190" cy="168"/><circle cx="200" cy="175"/><circle cx="197" cy="182"/><circle cx="184" cy="189"/><circle cx="201" cy="195"/><circle cx="206" cy="202"/><circle cx="177" cy="209"/><circle cx="181" cy="216"/><circle cx="178" cy="223"/><circle cx="189" cy="230"/><circle cx="219" cy="237"/><circle cx="208" cy="264"/><circle cx="190" cy="271"/><circle cx="169" cy="278"/><circle cx="214" cy="285"/><circle cx="186" cy="291"/><circle cx="186" cy="298"/><circle cx="204" cy="304"/><circle cx="199" cy="311"/><circle cx="183" cy="317"/><circle cx="165" cy="324"/><circle cx="165" cy="330"/><circle cx="171" cy="336"/><circle cx="164" cy="342"/><circle cx="207" cy="354"/><circle cx="216" cy="359"/><circle cx="283" cy="370"/><circle cx="268" cy="385"/><circle cx="268" cy="390"/><circle cx="262" cy="394"/><circle cx="215" cy="407"/><circle cx="221" cy="410"/><circle cx="216" cy="414"/><circle cx="245" cy="417"/><circle cx="297" cy="425"/><circle cx="286" cy="429"/><circle cx="262" cy="434"/><circle cx="306" cy="434"/><circle cx="290" cy="433"/><circle cx="174" cy="422"/><circle cx="165" cy="420"/><circle cx="169" cy="417"/><circle cx="165" cy="410"/><circle cx="181" cy="406"/><circle cx="183" cy="403"/><circle cx="203" cy="398"/><circle cx="183" cy="394"/><circle cx="169" cy="385"/><circle cx="176" cy="380"/><circle cx="151" cy="375"/><circle cx="222" cy="365"/><circle cx="231" cy="359"/><circle cx="221" cy="353"/><circle cx="211" cy="348"/><circle cx="189" cy="342"/><circle cx="199" cy="336"/><circle cx="208" cy="330"/><circle cx="212" cy="323"/><circle cx="237" cy="285"/><circle cx="234" cy="278"/><circle cx="305" cy="237"/><circle cx="313" cy="230"/><circle cx="307" cy="223"/><circle cx="233" cy="216"/><circle cx="214" cy="209"/><circle cx="261" cy="202"/><circle cx="257" cy="196"/><circle cx="294" cy="175"/><circle cx="301" cy="162"/><circle cx="278" cy="156"/><circle cx="288" cy="149"/><circle cx="251" cy="143"/><circle cx="257" cy="137"/><circle cx="337" cy="132"/><circle cx="283" cy="121"/><circle cx="263" cy="116"/><circle cx="264" cy="111"/><circle cx="316" cy="106"/><circle cx="285" cy="102"/><circle cx="287" cy="99"/><circle cx="262" cy="96"/><circle cx="265" cy="93"/><circle cx="261" cy="91"/><circle cx="476" cy="90"/><circle cx="199" cy="89"/><circle cx="424" cy="88"/><circle cx="197" cy="89"/><circle cx="214" cy="90"/><circle cx="205" cy="91"/><circle cx="194" cy="93"/><circle cx="139" cy="93"/><circle cx="194" cy="96"/><circle cx="194" cy="99"/><circle cx="171" cy="103"/></g>
<g fill="#20928c" stroke="#20928c"><circle cx="234" cy="107"/><circle cx="254" cy="111"/><circle cx="411" cy="116"/><circle cx="209" cy="126"/><circle cx="231" cy="132"/><circle cx="234" cy="138"/><circle cx="249" cy="144"/><circle cx="291" cy="150"/><circle cx="275" cy="156"/><circle cx="328" cy="162"/><circle cx="356" cy="169"/><circle cx="376" cy="176"/><circle cx="367" cy="182"/><circle cx="350" cy="189"/><circle cx="328" cy="196"/><circle cx="332" cy="203"/><circle cx="336" cy="209"/><circle cx="288" cy="223"/><circle cx="334" cy="230"/><circle cx="353" cy="237"/><circle cx="352" cy="244"/><circle cx="321" cy="251"/><circle cx="330" cy="258"/><circle cx="298" cy="265"/><circle cx="309" cy="271"/><circle cx="295" cy="278"/><circle cx="342" cy="285"/><circle cx="265" cy="292"/><circle cx="241" cy="298"/><circle cx="209" cy="305"/><circle cx="250" cy="311"/><circle cx="280" cy="324"/><circle cx="288" cy="354"/><circle cx="269" cy="371"/><circle cx="195" cy="381"/><circle cx="213" cy="386"/><circle cx="196" cy="390"/><circle cx="169" cy="399"/><circle cx="204" cy="403"/><circle cx="255" cy="411"/><circle cx="255" cy="430"/><circle cx="287" cy="435"/><circle cx="290" cy="433"/><circle cx="305" cy="432"/><circle cx="312" cy="431"/><circle cx="299" cy="429"/><circle cx="257" cy="425"/><circle cx="181" cy="411"/><circle cx="173" cy="407"/><circle cx="192" cy="403"/><circle cx="240" cy="399"/><circle cx="235" cy="395"/><circle cx="178" cy="386"/><circle cx="171" cy="376"/><circle cx="208" cy="370"/><circle cx="203" cy="365"/><circle cx="239" cy="360"/><circle cx="275" cy="354"/><circle cx="231" cy="348"/><circle cx="290" cy="336"/><circle cx="294" cy="324"/><circle cx="264" cy="318"/><circle cx="268" cy="311"/><circle cx="263" cy="305"/><circle cx="274" cy="298"/><circle cx="298" cy="292"/><circle cx="336" cy="285"/><circle cx="336" cy="278"/><circle cx="324" cy="272"/><circle cx="363" cy="265"/><circle cx="397" cy="258"/><circle cx="395" cy="251"/><circle cx="408" cy="244"/><circle cx="393" cy="237"/><circle cx="352" cy="230"/><circle cx="368" cy="224"/><circle cx="354" cy="217"/><circle cx="307" cy="210"/><circle cx="378" cy="203"/><circle cx="244" cy="196"/><circle cx="295" cy="189"/><circle cx="268" cy="183"/><circle cx="256" cy="176"/><circle cx="178" cy="169"/><circle cx="184" cy="163"/><circle cx="197" cy="156"/><circle cx="184" cy="150"/><circle cx="188" cy="144"/><circle cx="196" cy="138"/><circle cx="139" cy="138"/><circle cx="216" cy="132"/><circle cx="191" cy="121"/><circle cx="235" cy="116"/><circle cx="311" cy="107"/><circle cx="348" cy="103"/><circle cx="325" cy="100"/><circle cx="300" cy="96"/><circle cx="253" cy="94"/><circle cx="295" cy="92"/><circle cx="239" cy="90"/><circle cx="242" cy="89"/><circle cx="433" cy="89"/><circle cx="358" cy="89"/><circle cx="252" cy="90"/><circle cx="247" cy="92"/><circle cx="409" cy="94"/><circle cx="220" cy="96"/><circle cx="241" cy="100"/><circle cx="261" cy="103"/><circle cx="272" cy="107"/><circle cx="282" cy="112"/><circle cx="290" cy="116"/><circle cx="293" cy="121"/><circle cx="295" cy="127"/><circle cx="139" cy="127"/><circle cx="300" cy="132"/><circle cx="311" cy="138"/><circle cx="291" cy="144"/><circle cx="258" cy="150"/><circle cx="222" cy="156"/><circle cx="246" cy="169"/><circle cx="210" cy="176"/><circle cx="182" cy="183"/><circle cx="208" cy="203"/><circle cx="196" cy="210"/><circle cx="197" cy="217"/><circle cx="208" cy="224"/><circle cx="472" cy="231"/><circle cx="269" cy="238"/><circle cx="235" cy="244"/><circle cx="201" cy="251"/><circle cx="341" cy="265"/><circle cx="175" cy="272"/><circle cx="210" cy="279"/><circle cx="217" cy="285"/><circle cx="209" cy="292"/><circle cx="226" cy="299"/><circle cx="217" cy="305"/><circle cx="202" cy="312"/><circle cx="165" cy="331"/><circle cx="182" cy="337"/><circle cx="171" cy="343"/><circle cx="166" cy="355"/><circle cx="180" cy="360"/><circle cx="278" cy="376"/><circle cx="326" cy="381"/><circle cx="311" cy="386"/><circle cx="285" cy="391"/><circle cx="226" cy="396"/><circle cx="201" cy="400"/><circle cx="190" cy="404"/><circle cx="187" cy="415"/><circle cx="211" cy="421"/><circle cx="284" cy="436"/><circle cx="271" cy="432"/><circle cx="264" cy="428"/><circle cx="233" cy="418"/><circle cx="198" cy="411"/><circle cx="164" cy="408"/><circle cx="191" cy="395"/><circle cx="190" cy="391"/><circle cx="204" cy="381"/><circle cx="164" cy="371"/><circle cx="170" cy="355"/><circle cx="186" cy="349"/><circle cx="243" cy="343"/><circle cx="267" cy="337"/><circle cx="231" cy="331"/><circle cx="175" cy="325"/><circle cx="164" cy="318"/><circle cx="180" cy="305"/><circle cx="213" cy="299"/><circle cx="227" cy="286"/><circle cx="263" cy="265"/><circle cx="204" cy="252"/><circle cx="243" cy="245"/><circle cx="218" cy="238"/><circle cx="220" cy="224"/><circle cx="210" cy="217"/><circle cx="232" cy="210"/><circle cx="291" cy="203"/><circle cx="329" cy="197"/><circle cx="314" cy="190"/><circle cx="322" cy="183"/><circle cx="332" cy="176"/><circle cx="332" cy="170"/><circle cx="321" cy="163"/><circle cx="331" cy="157"/><circle cx="348" cy="151"/><circle cx="350" cy="145"/><circle cx="344" cy="139"/><circle cx="325" cy="133"/><circle cx="295" cy="127"/><circle cx="266" cy="122"/><circle cx="313" cy="112"/><circle cx="272" cy="108"/><circle cx="231" cy="104"/><circle cx="256" cy="100"/><circle cx="268" cy="97"/><circle cx="213" cy="94"/><circle cx="200" cy="92"/><circle cx="222" cy="91"/><circle cx="194" cy="90"/><circle cx="238" cy="90"/><circle cx="243" cy="90"/><circle cx="237" cy="91"/><circle cx="268" cy="92"/><circle cx="263" cy="94"/><circle cx="261" cy="97"/><circle cx="255" cy="100"/><circle cx="247" cy="104"/><circle cx="223" cy="108"/><circle cx="271" cy="112"/><circle cx="397" cy="117"/><circle cx="247" cy="122"/><circle cx="225" cy="127"/><circle cx="236" cy="133"/><circle cx="340" cy="139"/><circle cx="376" cy="144"/><circle cx="256" cy="151"/><circle cx="256" cy="170"/><circle cx="280" cy="176"/><circle cx="251" cy="190"/><circle cx="283" cy="197"/><circle cx="298" cy="203"/><circle cx="306" cy="210"/><circle cx="257" cy="224"/><circle cx="298" cy="231"/><circle cx="284" cy="245"/><circle cx="288" cy="272"/><circle cx="328" cy="279"/><circle cx="253" cy="293"/><circle cx="227" cy="299"/><circle cx="243" cy="306"/><circle cx="206" cy="312"/><circle cx="236" cy="319"/><circle cx="222" cy="331"/><circle cx="235" cy="337"/><circle cx="197" cy="343"/><circle cx="253" cy="361"/><circle cx="230" cy="366"/><circle cx="239" cy="377"/><circle cx="267" cy="382"/><circle cx="279" cy="387"/><circle cx="275" cy="392"/><circle cx="238" cy="396"/><circle cx="199" cy="405"/><circle cx="240" cy="409"/><circle cx="193" cy="425"/><circle cx="183" cy="427"/><circle cx="165" cy="433"/><circle cx="209" cy="437"/><circle cx="262" cy="434"/><circle cx="254" cy="432"/><circle cx="153" cy="431"/><circle cx="292" cy="429"/><circle cx="281" cy="427"/><circle cx="252" cy="419"/><circle cx="234" cy="416"/><circle cx="269" cy="408"/><circle cx="295" cy="404"/><circle cx="257" cy="396"/><circle cx="283" cy="392"/><circle cx="267" cy="387"/><circle cx="276" cy="382"/><circle cx="272" cy="372"/><circle cx="253" cy="361"/><circle cx="294" cy="344"/><circle cx="311" cy="338"/><circle cx="310" cy="331"/><circle cx="288" cy="325"/><circle cx="282" cy="319"/><circle cx="237" cy="313"/><circle cx="256" cy="306"/><circle cx="325" cy="293"/><circle cx="333" cy="286"/><circle cx="323" cy="280"/><circle cx="333" cy="273"/><circle cx="307" cy="266"/><circle cx="249" cy="252"/><circle cx="252" cy="245"/><circle cx="260" cy="238"/><circle cx="293" cy="232"/><circle cx="309" cy="225"/><circle cx="327" cy="218"/><circle cx="348" cy="211"/><circle cx="314" cy="197"/><circle cx="355" cy="190"/><circle cx="341" cy="184"/><circle cx="322" cy="177"/><circle cx="326" cy="170"/><circle cx="295" cy="151"/><circle cx="262" cy="145"/><circle cx="298" cy="139"/><circle cx="329" cy="133"/><circle cx="246" cy="128"/><circle cx="139" cy="128"/><circle cx="236" cy="123"/><circle cx="284" cy="118"/><circle cx="246" cy="113"/><circle cx="234" cy="104"/><circle cx="199" cy="101"/><circle cx="248" cy="98"/><circle cx="254" cy="95"/><circle cx="288" cy="93"/><circle cx="314" cy="92"/><circle cx="290" cy="91"/><circle cx="271" cy="90"/><circle cx="267" cy="91"/><circle cx="260" cy="92"/><circle cx="272" cy="93"/><circle cx="311" cy="95"/><circle cx="139" cy="95"/><circle cx="262" cy="101"/><circle cx="295" cy="104"/><circle cx="329" cy="108"/><circle cx="139" cy="108"/><circle cx="308" cy="113"/><circle cx="293" cy="122"/><circle cx="331" cy="128"/><circle cx="336" cy="133"/><circle cx="329" cy="139"/><circle cx="343" cy="145"/><circle cx="353" cy="151"/><circle cx="338" cy="157"/><circle cx="345" cy="170"/><circle cx="339" cy="177"/><circle cx="328" cy="184"/><circle cx="343" cy="190"/><circle cx="370" cy="197"/><circle cx="319" cy="204"/><circle cx="317" cy="211"/><circle cx="272" cy="218"/><circle cx="256" cy="225"/><circle cx="233" cy="231"/><circle cx="205" cy="238"/><circle cx="222" cy="245"/><circle cx="216" cy="266"/><circle cx="199" cy="273"/><circle cx="198" cy="280"/><circle cx="410" cy="286"/><circle cx="189" cy="293"/><circle cx="182" cy="300"/><circle cx="204" cy="313"/><circle cx="205" cy="319"/><circle cx="246" cy="332"/><circle cx="251" cy="344"/><circle cx="151" cy="350"/><circle cx="175" cy="383"/><circle cx="169" cy="387"/><circle cx="190" cy="392"/><circle cx="215" cy="401"/><circle cx="238" cy="405"/><circle cx="220" cy="409"/><circle cx="219" cy="425"/><circle cx="194" cy="428"/><circle cx="179" cy="430"/><circle cx="185" cy="432"/><circle cx="206" cy="430"/><circle cx="203" cy="425"/><circle cx="190" cy="413"/><circle cx="195" cy="409"/><circle cx="206" cy="405"/><circle cx="229" cy="388"/><circle cx="265" cy="367"/><circle cx="201" cy="350"/><circle cx="183" cy="344"/><circle cx="194" cy="338"/><circle cx="139" cy="332"/><circle cx="211" cy="320"/><circle cx="217" cy="307"/><circle cx="194" cy="300"/><circle cx="192" cy="294"/><circle cx="214" cy="287"/><circle cx="243" cy="280"/><circle cx="231" cy="273"/><circle cx="173" cy="267"/><circle cx="165" cy="253"/><circle cx="170" cy="239"/><circle cx="139" cy="232"/><circle cx="351" cy="225"/><circle cx="169" cy="218"/><circle cx="175" cy="211"/><circle cx="191" cy="205"/><circle cx="208" cy="198"/><circle cx="206" cy="178"/><circle cx="390" cy="171"/><circle cx="242" cy="165"/><circle cx="245" cy="158"/><circle cx="255" cy="152"/><circle cx="307" cy="134"/><circle cx="232" cy="123"/><circle cx="200" cy="118"/><circle cx="231" cy="114"/><circle cx="229" cy="109"/><circle cx="213" cy="105"/><circle cx="240" cy="102"/><circle cx="184" cy="99"/><circle cx="224" cy="96"/><circle cx="205" cy="94"/><circle cx="194" cy="92"/><circle cx="165" cy="91"/><circle cx="139" cy="91"/><circle cx="407" cy="91"/><circle cx="225" cy="91"/><circle cx="223" cy="92"/><circle cx="214" cy="94"/></g>
<g fill="#1f968b" stroke="#1f968b"><circle cx="223" cy="96"/><circle cx="139" cy="96"/><circle cx="276" cy="98"/><circle cx="255" cy="101"/><circle cx="240" cy="105"/><circle cx="173" cy="109"/><circle cx="168" cy="113"/><circle cx="168" cy="118"/><circle cx="164" cy="123"/><circle cx="179" cy="128"/><circle cx="174" cy="134"/><circle cx="198" cy="140"/><circle cx="219" cy="146"/><circle cx="275" cy="152"/><circle cx="268" cy="164"/><circle cx="294" cy="171"/><circle cx="247" cy="177"/><circle cx="259" cy="184"/><circle cx="224" cy="191"/><circle cx="212" cy="198"/><circle cx="181" cy="204"/><circle cx="182" cy="211"/><circle cx="433" cy="218"/><circle cx="507" cy="225"/><circle cx="226" cy="246"/><circle cx="226" cy="253"/><circle cx="273" cy="266"/><circle cx="238" cy="280"/><circle cx="272" cy="293"/><circle cx="331" cy="300"/><circle cx="280" cy="320"/><circle cx="272" cy="326"/><circle cx="277" cy="338"/><circle cx="260" cy="356"/><circle cx="203" cy="367"/><circle cx="188" cy="373"/><circle cx="184" cy="378"/><circle cx="169" cy="383"/><circle cx="170" cy="393"/><circle cx="176" cy="397"/><circle cx="185" cy="402"/><circle cx="257" cy="417"/><circle cx="247" cy="423"/><circle cx="180" cy="438"/><circle cx="175" cy="436"/><circle cx="185" cy="430"/><circle cx="187" cy="428"/><circle cx="170" cy="426"/><circle cx="192" cy="423"/><circle cx="197" cy="413"/><circle cx="202" cy="410"/><circle cx="212" cy="406"/><circle cx="180" cy="402"/><circle cx="164" cy="393"/><circle cx="170" cy="388"/><circle cx="186" cy="383"/><circle cx="171" cy="378"/><circle cx="182" cy="368"/><circle cx="170" cy="356"/><circle cx="168" cy="351"/><circle cx="203" cy="345"/><circle cx="196" cy="339"/><circle cx="175" cy="333"/><circle cx="171" cy="326"/><circle cx="195" cy="320"/><circle cx="212" cy="314"/><circle cx="396" cy="294"/><circle cx="201" cy="253"/><circle cx="164" cy="247"/><circle cx="177" cy="233"/><circle cx="192" cy="226"/><circle cx="191" cy="219"/><circle cx="205" cy="212"/><circle cx="233" cy="205"/><circle cx="218" cy="198"/><circle cx="180" cy="192"/><circle cx="304" cy="178"/><circle cx="303" cy="172"/><circle cx="289" cy="159"/><circle cx="266" cy="153"/><circle cx="233" cy="146"/><circle cx="139" cy="146"/><circle cx="233" cy="140"/><circle cx="226" cy="135"/><circle cx="223" cy="129"/><circle cx="236" cy="124"/><circle cx="260" cy="119"/><circle cx="246" cy="114"/><circle cx="221" cy="110"/><circle cx="276" cy="102"/><circle cx="288" cy="99"/><circle cx="155" cy="97"/><circle cx="224" cy="95"/><circle cx="251" cy="93"/><circle cx="272" cy="92"/><circle cx="218" cy="92"/><circle cx="228" cy="92"/><circle cx="289" cy="93"/><circle cx="305" cy="94"/><circle cx="264" cy="97"/><circle cx="292" cy="99"/><circle cx="269" cy="102"/><circle cx="241" cy="110"/><circle cx="209" cy="114"/><circle cx="189" cy="119"/><circle cx="258" cy="124"/><circle cx="242" cy="134"/><circle cx="281" cy="140"/><circle cx="266" cy="146"/><circle cx="283" cy="152"/><circle cx="276" cy="158"/><circle cx="269" cy="165"/><circle cx="266" cy="171"/><circle cx="307" cy="178"/><circle cx="337" cy="185"/><circle cx="323" cy="191"/><circle cx="293" cy="198"/><circle cx="293" cy="226"/><circle cx="336" cy="239"/><circle cx="358" cy="246"/><circle cx="320" cy="260"/><circle cx="287" cy="274"/><circle cx="313" cy="281"/><circle cx="272" cy="287"/><circle cx="284" cy="294"/><circle cx="300" cy="314"/><circle cx="281" cy="320"/><circle cx="241" cy="327"/><circle cx="273" cy="333"/><circle cx="159" cy="339"/><circle cx="285" cy="345"/><circle cx="227" cy="351"/><circle cx="207" cy="357"/><circle cx="221" cy="362"/><circle cx="178" cy="368"/><circle cx="239" cy="379"/><circle cx="216" cy="384"/><circle cx="189" cy="389"/><circle cx="191" cy="393"/><circle cx="172" cy="411"/><circle cx="199" cy="414"/><circle cx="244" cy="429"/><circle cx="265" cy="439"/><circle cx="176" cy="436"/><circle cx="179" cy="435"/><circle cx="169" cy="431"/><circle cx="192" cy="429"/><circle cx="270" cy="424"/><circle cx="237" cy="421"/><circle cx="256" cy="418"/><circle cx="257" cy="414"/><circle cx="246" cy="411"/><circle cx="263" cy="407"/><circle cx="245" cy="403"/><circle cx="271" cy="398"/><circle cx="222" cy="394"/><circle cx="224" cy="389"/><circle cx="195" cy="384"/><circle cx="199" cy="379"/><circle cx="191" cy="374"/><circle cx="164" cy="363"/><circle cx="193" cy="357"/><circle cx="165" cy="351"/><circle cx="184" cy="345"/><circle cx="254" cy="321"/><circle cx="290" cy="308"/><circle cx="278" cy="288"/><circle cx="265" cy="268"/><circle cx="242" cy="254"/><circle cx="248" cy="247"/><circle cx="341" cy="226"/><circle cx="249" cy="213"/><circle cx="235" cy="206"/><circle cx="289" cy="185"/><circle cx="359" cy="179"/><circle cx="238" cy="159"/><circle cx="183" cy="153"/><circle cx="180" cy="147"/><circle cx="190" cy="135"/><circle cx="196" cy="130"/><circle cx="235" cy="125"/><circle cx="199" cy="120"/><circle cx="224" cy="115"/><circle cx="174" cy="111"/><circle cx="227" cy="103"/><circle cx="267" cy="97"/><circle cx="273" cy="95"/><circle cx="220" cy="94"/><circle cx="250" cy="93"/><circle cx="139" cy="93"/><circle cx="220" cy="93"/><circle cx="169" cy="93"/><circle cx="207" cy="95"/><circle cx="180" cy="97"/><circle cx="183" cy="100"/><circle cx="189" cy="103"/><circle cx="223" cy="106"/><circle cx="242" cy="110"/><circle cx="226" cy="115"/><circle cx="249" cy="119"/><circle cx="266" cy="124"/><circle cx="301" cy="130"/><circle cx="316" cy="135"/><circle cx="528" cy="141"/><circle cx="304" cy="147"/><circle cx="287" cy="153"/><circle cx="320" cy="159"/><circle cx="289" cy="165"/><circle cx="282" cy="172"/><circle cx="308" cy="178"/><circle cx="362" cy="185"/><circle cx="288" cy="192"/><circle cx="282" cy="199"/><circle cx="345" cy="205"/><circle cx="387" cy="212"/><circle cx="395" cy="219"/><circle cx="369" cy="233"/><circle cx="314" cy="240"/><circle cx="303" cy="254"/><circle cx="252" cy="261"/><circle cx="262" cy="267"/><circle cx="266" cy="274"/><circle cx="290" cy="281"/><circle cx="294" cy="288"/><circle cx="152" cy="295"/><circle cx="284" cy="301"/><circle cx="232" cy="314"/><circle cx="223" cy="321"/><circle cx="221" cy="327"/><circle cx="245" cy="340"/><circle cx="247" cy="346"/><circle cx="238" cy="352"/><circle cx="253" cy="357"/><circle cx="220" cy="369"/><circle cx="266" cy="389"/><circle cx="245" cy="403"/><circle cx="190" cy="407"/><circle cx="204" cy="411"/><circle cx="189" cy="415"/><circle cx="225" cy="422"/><circle cx="246" cy="430"/><circle cx="321" cy="434"/><circle cx="344" cy="436"/><circle cx="323" cy="437"/><circle cx="339" cy="438"/><circle cx="331" cy="439"/><circle cx="330" cy="440"/><circle cx="311" cy="440"/><circle cx="307" cy="439"/><circle cx="328" cy="438"/><circle cx="212" cy="427"/><circle cx="257" cy="425"/><circle cx="291" cy="422"/><circle cx="290" cy="418"/><circle cx="278" cy="415"/><circle cx="289" cy="411"/><circle cx="258" cy="403"/><circle cx="153" cy="399"/><circle cx="275" cy="394"/><circle cx="266" cy="390"/><circle cx="249" cy="385"/><circle cx="232" cy="380"/><circle cx="278" cy="364"/><circle cx="304" cy="352"/><circle cx="295" cy="346"/><circle cx="232" cy="340"/><circle cx="239" cy="328"/><circle cx="227" cy="321"/><circle cx="211" cy="315"/><circle cx="238" cy="309"/><circle cx="226" cy="302"/><circle cx="223" cy="295"/><circle cx="170" cy="289"/><circle cx="171" cy="282"/><circle cx="208" cy="275"/><circle cx="210" cy="268"/><circle cx="256" cy="255"/><circle cx="291" cy="248"/><circle cx="284" cy="241"/><circle cx="511" cy="234"/><circle cx="309" cy="227"/><circle cx="294" cy="220"/><circle cx="313" cy="213"/><circle cx="358" cy="200"/><circle cx="291" cy="193"/><circle cx="287" cy="179"/><circle cx="285" cy="173"/><circle cx="283" cy="166"/><circle cx="233" cy="160"/><circle cx="242" cy="154"/><circle cx="248" cy="148"/><circle cx="231" cy="142"/><circle cx="240" cy="131"/><circle cx="225" cy="125"/><circle cx="235" cy="120"/><circle cx="255" cy="116"/><circle cx="259" cy="111"/><circle cx="254" cy="107"/><circle cx="249" cy="104"/><circle cx="194" cy="101"/><circle cx="210" cy="96"/><circle cx="216" cy="95"/><circle cx="197" cy="94"/><circle cx="210" cy="93"/><circle cx="245" cy="94"/><circle cx="248" cy="95"/><circle cx="226" cy="96"/><circle cx="218" cy="98"/><circle cx="194" cy="101"/><circle cx="234" cy="104"/><circle cx="139" cy="104"/><circle cx="260" cy="107"/><circle cx="244" cy="111"/><circle cx="139" cy="111"/><circle cx="259" cy="115"/><circle cx="232" cy="120"/><circle cx="237" cy="125"/><circle cx="183" cy="130"/><circle cx="181" cy="136"/><circle cx="265" cy="153"/><circle cx="275" cy="160"/><circle cx="247" cy="166"/><circle cx="257" cy="172"/><circle cx="263" cy="186"/><circle cx="259" cy="192"/><circle cx="219" cy="199"/><circle cx="234" cy="220"/><circle cx="165" cy="234"/><circle cx="164" cy="247"/><circle cx="164" cy="261"/><circle cx="166" cy="268"/><circle cx="210" cy="275"/><circle cx="255" cy="282"/><circle cx="331" cy="295"/><circle cx="303" cy="302"/><circle cx="298" cy="308"/><circle cx="282" cy="315"/><circle cx="284" cy="334"/><circle cx="315" cy="340"/><circle cx="291" cy="358"/><circle cx="319" cy="369"/><circle cx="332" cy="375"/><circle cx="303" cy="380"/><circle cx="263" cy="385"/><circle cx="274" cy="390"/><circle cx="310" cy="399"/><circle cx="312" cy="404"/><circle cx="279" cy="408"/><circle cx="275" cy="412"/><circle cx="303" cy="416"/><circle cx="283" cy="419"/><circle cx="255" cy="423"/><circle cx="278" cy="431"/><circle cx="279" cy="433"/><circle cx="330" cy="435"/><circle cx="362" cy="437"/><circle cx="394" cy="438"/><circle cx="342" cy="439"/><circle cx="326" cy="440"/><circle cx="179" cy="441"/><circle cx="183" cy="439"/><circle cx="198" cy="435"/><circle cx="165" cy="431"/><circle cx="177" cy="428"/><circle cx="183" cy="425"/><circle cx="213" cy="422"/><circle cx="182" cy="419"/><circle cx="184" cy="416"/><circle cx="177" cy="412"/><circle cx="164" cy="408"/><circle cx="165" cy="400"/><circle cx="171" cy="385"/><circle cx="193" cy="370"/><circle cx="196" cy="364"/><circle cx="216" cy="359"/><circle cx="240" cy="353"/><circle cx="231" cy="341"/><circle cx="223" cy="335"/><circle cx="173" cy="322"/><circle cx="153" cy="316"/><circle cx="202" cy="309"/><circle cx="190" cy="303"/><circle cx="165" cy="283"/><circle cx="189" cy="276"/><circle cx="185" cy="269"/><circle cx="164" cy="262"/><circle cx="189" cy="255"/><circle cx="256" cy="228"/><circle cx="156" cy="221"/><circle cx="169" cy="207"/><circle cx="220" cy="200"/><circle cx="233" cy="193"/><circle cx="292" cy="180"/><circle cx="291" cy="174"/><circle cx="279" cy="167"/><circle cx="289" cy="161"/><circle cx="317" cy="155"/><circle cx="308" cy="148"/><circle cx="312" cy="143"/><circle cx="291" cy="137"/><circle cx="139" cy="137"/><circle cx="277" cy="131"/><circle cx="276" cy="126"/><circle cx="287" cy="121"/><circle cx="304" cy="116"/><circle cx="310" cy="112"/><circle cx="281" cy="108"/><circle cx="277" cy="105"/><circle cx="265" cy="102"/><circle cx="284" cy="99"/><circle cx="312" cy="97"/><circle cx="350" cy="96"/><circle cx="345" cy="95"/></g>
<g fill="#1f9a8a" stroke="#1f9a8a"><circle cx="343" cy="94"/><circle cx="332" cy="95"/><circle cx="348" cy="95"/><circle cx="139" cy="95"/><circle cx="314" cy="97"/><circle cx="320" cy="99"/><circle cx="302" cy="101"/><circle cx="269" cy="104"/><circle cx="303" cy="108"/><circle cx="390" cy="112"/><circle cx="265" cy="116"/><circle cx="252" cy="121"/><circle cx="396" cy="136"/><circle cx="270" cy="142"/><circle cx="298" cy="148"/><circle cx="272" cy="154"/><circle cx="295" cy="160"/><circle cx="288" cy="167"/><circle cx="315" cy="173"/><circle cx="304" cy="180"/><circle cx="214" cy="193"/><circle cx="215" cy="200"/><circle cx="220" cy="207"/><circle cx="201" cy="220"/><circle cx="210" cy="227"/><circle cx="197" cy="234"/><circle cx="165" cy="241"/><circle cx="191" cy="248"/><circle cx="182" cy="255"/><circle cx="165" cy="275"/><circle cx="188" cy="289"/><circle cx="204" cy="296"/><circle cx="211" cy="302"/><circle cx="247" cy="322"/><circle cx="262" cy="328"/><circle cx="236" cy="335"/><circle cx="253" cy="341"/><circle cx="267" cy="347"/><circle cx="254" cy="353"/><circle cx="206" cy="359"/><circle cx="174" cy="364"/><circle cx="166" cy="370"/><circle cx="174" cy="375"/><circle cx="176" cy="381"/><circle cx="216" cy="386"/><circle cx="194" cy="391"/><circle cx="197" cy="396"/><circle cx="166" cy="400"/><circle cx="165" cy="405"/><circle cx="178" cy="409"/><circle cx="172" cy="413"/><circle cx="218" cy="420"/><circle cx="267" cy="426"/><circle cx="270" cy="429"/><circle cx="264" cy="432"/><circle cx="259" cy="436"/><circle cx="271" cy="442"/><circle cx="284" cy="441"/><circle cx="201" cy="431"/><circle cx="228" cy="429"/><circle cx="182" cy="423"/><circle cx="157" cy="417"/><circle cx="280" cy="409"/><circle cx="289" cy="405"/><circle cx="289" cy="400"/><circle cx="358" cy="396"/><circle cx="322" cy="391"/><circle cx="242" cy="370"/><circle cx="220" cy="365"/><circle cx="228" cy="359"/><circle cx="270" cy="353"/><circle cx="247" cy="348"/><circle cx="268" cy="341"/><circle cx="259" cy="335"/><circle cx="252" cy="329"/><circle cx="195" cy="316"/><circle cx="175" cy="310"/><circle cx="166" cy="297"/><circle cx="168" cy="276"/><circle cx="230" cy="270"/><circle cx="175" cy="263"/><circle cx="190" cy="256"/><circle cx="223" cy="249"/><circle cx="232" cy="242"/><circle cx="238" cy="235"/><circle cx="235" cy="228"/><circle cx="167" cy="215"/><circle cx="166" cy="201"/><circle cx="200" cy="194"/><circle cx="172" cy="187"/><circle cx="230" cy="181"/><circle cx="238" cy="174"/><circle cx="237" cy="168"/><circle cx="238" cy="161"/><circle cx="208" cy="155"/><circle cx="403" cy="149"/><circle cx="193" cy="143"/><circle cx="185" cy="138"/><circle cx="182" cy="132"/><circle cx="171" cy="127"/><circle cx="170" cy="122"/><circle cx="166" cy="117"/><circle cx="215" cy="113"/><circle cx="139" cy="113"/><circle cx="206" cy="109"/><circle cx="276" cy="106"/><circle cx="233" cy="102"/><circle cx="283" cy="100"/><circle cx="280" cy="98"/><circle cx="222" cy="96"/><circle cx="233" cy="95"/><circle cx="231" cy="95"/><circle cx="240" cy="96"/><circle cx="228" cy="100"/><circle cx="247" cy="102"/><circle cx="216" cy="105"/><circle cx="220" cy="109"/><circle cx="232" cy="113"/><circle cx="203" cy="117"/><circle cx="257" cy="121"/><circle cx="424" cy="126"/><circle cx="262" cy="132"/><circle cx="195" cy="137"/><circle cx="202" cy="143"/><circle cx="281" cy="149"/><circle cx="293" cy="155"/><circle cx="271" cy="161"/><circle cx="252" cy="167"/><circle cx="384" cy="174"/><circle cx="241" cy="180"/><circle cx="258" cy="187"/><circle cx="243" cy="194"/><circle cx="227" cy="200"/><circle cx="228" cy="207"/><circle cx="317" cy="242"/><circle cx="312" cy="262"/><circle cx="280" cy="276"/><circle cx="231" cy="296"/><circle cx="230" cy="316"/><circle cx="270" cy="323"/><circle cx="245" cy="329"/><circle cx="217" cy="335"/><circle cx="273" cy="341"/><circle cx="218" cy="348"/><circle cx="218" cy="353"/><circle cx="199" cy="365"/><circle cx="186" cy="376"/><circle cx="178" cy="381"/><circle cx="192" cy="387"/><circle cx="225" cy="396"/><circle cx="254" cy="401"/><circle cx="280" cy="405"/><circle cx="208" cy="414"/><circle cx="214" cy="421"/><circle cx="189" cy="424"/><circle cx="198" cy="430"/><circle cx="165" cy="435"/><circle cx="164" cy="437"/><circle cx="164" cy="441"/><circle cx="200" cy="439"/><circle cx="159" cy="438"/><circle cx="198" cy="432"/><circle cx="234" cy="424"/><circle cx="262" cy="421"/><circle cx="222" cy="414"/><circle cx="165" cy="410"/><circle cx="227" cy="406"/><circle cx="233" cy="401"/><circle cx="206" cy="397"/><circle cx="196" cy="392"/><circle cx="226" cy="387"/><circle cx="237" cy="377"/><circle cx="151" cy="371"/><circle cx="231" cy="360"/><circle cx="210" cy="354"/><circle cx="194" cy="336"/><circle cx="175" cy="323"/><circle cx="165" cy="317"/><circle cx="165" cy="311"/><circle cx="168" cy="304"/><circle cx="168" cy="297"/><circle cx="165" cy="291"/><circle cx="168" cy="277"/><circle cx="169" cy="270"/><circle cx="166" cy="263"/><circle cx="392" cy="257"/><circle cx="176" cy="250"/><circle cx="173" cy="243"/><circle cx="186" cy="229"/><circle cx="191" cy="222"/><circle cx="198" cy="215"/><circle cx="181" cy="208"/><circle cx="227" cy="195"/><circle cx="233" cy="188"/><circle cx="245" cy="181"/><circle cx="248" cy="175"/><circle cx="252" cy="168"/><circle cx="139" cy="168"/><circle cx="216" cy="156"/><circle cx="246" cy="150"/><circle cx="246" cy="144"/><circle cx="363" cy="138"/><circle cx="258" cy="133"/><circle cx="286" cy="128"/><circle cx="241" cy="123"/><circle cx="254" cy="118"/><circle cx="281" cy="114"/><circle cx="306" cy="110"/><circle cx="139" cy="110"/><circle cx="322" cy="106"/><circle cx="328" cy="103"/><circle cx="139" cy="103"/><circle cx="270" cy="99"/><circle cx="139" cy="97"/><circle cx="267" cy="96"/><circle cx="276" cy="96"/><circle cx="242" cy="96"/><circle cx="210" cy="99"/><circle cx="182" cy="101"/><circle cx="198" cy="103"/><circle cx="249" cy="109"/><circle cx="279" cy="113"/><circle cx="351" cy="118"/><circle cx="302" cy="122"/><circle cx="287" cy="127"/><circle cx="281" cy="132"/><circle cx="304" cy="138"/><circle cx="333" cy="143"/><circle cx="327" cy="149"/><circle cx="332" cy="155"/><circle cx="388" cy="168"/><circle cx="323" cy="174"/><circle cx="258" cy="187"/><circle cx="215" cy="194"/><circle cx="211" cy="201"/><circle cx="231" cy="215"/><circle cx="294" cy="235"/><circle cx="264" cy="242"/><circle cx="260" cy="249"/><circle cx="327" cy="263"/><circle cx="367" cy="277"/><circle cx="377" cy="284"/><circle cx="335" cy="290"/><circle cx="309" cy="297"/><circle cx="321" cy="304"/><circle cx="279" cy="310"/><circle cx="303" cy="317"/><circle cx="314" cy="323"/><circle cx="349" cy="336"/><circle cx="300" cy="342"/><circle cx="267" cy="348"/><circle cx="286" cy="354"/><circle cx="255" cy="360"/><circle cx="283" cy="366"/><circle cx="285" cy="377"/><circle cx="300" cy="382"/><circle cx="297" cy="387"/><circle cx="271" cy="392"/><circle cx="247" cy="397"/><circle cx="244" cy="402"/><circle cx="190" cy="406"/><circle cx="183" cy="414"/><circle cx="185" cy="418"/><circle cx="227" cy="428"/><circle cx="172" cy="439"/><circle cx="274" cy="443"/><circle cx="295" cy="443"/><circle cx="270" cy="443"/><circle cx="257" cy="437"/><circle cx="251" cy="435"/><circle cx="208" cy="428"/><circle cx="203" cy="425"/><circle cx="240" cy="418"/><circle cx="263" cy="415"/><circle cx="284" cy="406"/><circle cx="317" cy="402"/><circle cx="286" cy="393"/><circle cx="306" cy="388"/><circle cx="311" cy="383"/><circle cx="302" cy="377"/><circle cx="305" cy="372"/><circle cx="333" cy="366"/><circle cx="352" cy="361"/><circle cx="331" cy="355"/><circle cx="325" cy="349"/><circle cx="293" cy="343"/><circle cx="157" cy="337"/><circle cx="298" cy="330"/><circle cx="365" cy="318"/><circle cx="336" cy="311"/><circle cx="330" cy="298"/><circle cx="331" cy="291"/><circle cx="338" cy="285"/><circle cx="302" cy="278"/><circle cx="297" cy="271"/><circle cx="322" cy="264"/><circle cx="152" cy="250"/><circle cx="343" cy="237"/><circle cx="301" cy="230"/><circle cx="233" cy="195"/><circle cx="258" cy="189"/><circle cx="243" cy="182"/><circle cx="334" cy="169"/><circle cx="204" cy="163"/><circle cx="174" cy="151"/><circle cx="193" cy="145"/><circle cx="213" cy="134"/><circle cx="220" cy="128"/><circle cx="220" cy="123"/><circle cx="185" cy="119"/><circle cx="495" cy="115"/><circle cx="225" cy="111"/><circle cx="253" cy="107"/><circle cx="278" cy="104"/><circle cx="285" cy="102"/><circle cx="315" cy="100"/><circle cx="319" cy="98"/><circle cx="334" cy="97"/><circle cx="363" cy="97"/><circle cx="307" cy="97"/><circle cx="290" cy="98"/><circle cx="285" cy="99"/><circle cx="283" cy="101"/><circle cx="238" cy="104"/><circle cx="220" cy="107"/><circle cx="194" cy="110"/><circle cx="230" cy="114"/><circle cx="157" cy="118"/><circle cx="230" cy="123"/><circle cx="213" cy="128"/><circle cx="210" cy="133"/><circle cx="220" cy="138"/><circle cx="275" cy="144"/><circle cx="280" cy="150"/><circle cx="260" cy="162"/><circle cx="270" cy="169"/><circle cx="313" cy="175"/><circle cx="294" cy="181"/><circle cx="233" cy="188"/><circle cx="398" cy="195"/><circle cx="185" cy="202"/><circle cx="169" cy="222"/><circle cx="203" cy="236"/><circle cx="217" cy="243"/><circle cx="238" cy="250"/><circle cx="265" cy="257"/><circle cx="233" cy="277"/><circle cx="257" cy="284"/><circle cx="242" cy="291"/><circle cx="230" cy="304"/><circle cx="219" cy="311"/><circle cx="210" cy="317"/><circle cx="179" cy="324"/><circle cx="304" cy="337"/><circle cx="247" cy="349"/><circle cx="233" cy="361"/><circle cx="237" cy="372"/><circle cx="216" cy="378"/><circle cx="276" cy="383"/><circle cx="278" cy="388"/><circle cx="219" cy="393"/><circle cx="226" cy="411"/><circle cx="255" cy="432"/><circle cx="255" cy="437"/><circle cx="269" cy="439"/><circle cx="290" cy="444"/><circle cx="261" cy="441"/><circle cx="278" cy="436"/><circle cx="183" cy="432"/><circle cx="178" cy="426"/><circle cx="191" cy="423"/><circle cx="217" cy="419"/><circle cx="255" cy="415"/><circle cx="221" cy="407"/><circle cx="267" cy="403"/><circle cx="224" cy="394"/><circle cx="206" cy="389"/><circle cx="170" cy="373"/><circle cx="164" cy="367"/><circle cx="166" cy="356"/><circle cx="166" cy="350"/><circle cx="205" cy="331"/><circle cx="164" cy="318"/><circle cx="170" cy="312"/><circle cx="165" cy="305"/><circle cx="194" cy="299"/><circle cx="328" cy="278"/><circle cx="364" cy="272"/><circle cx="349" cy="265"/><circle cx="301" cy="258"/><circle cx="310" cy="244"/><circle cx="310" cy="237"/><circle cx="286" cy="223"/><circle cx="282" cy="217"/><circle cx="275" cy="210"/><circle cx="266" cy="203"/><circle cx="261" cy="196"/><circle cx="339" cy="189"/><circle cx="241" cy="183"/><circle cx="287" cy="170"/><circle cx="296" cy="164"/><circle cx="265" cy="151"/><circle cx="263" cy="145"/><circle cx="318" cy="140"/><circle cx="276" cy="134"/><circle cx="303" cy="124"/><circle cx="320" cy="120"/><circle cx="313" cy="115"/><circle cx="284" cy="112"/></g>
<g fill="#1f9e89" stroke="#1f9e89"><circle cx="293" cy="103"/><circle cx="265" cy="101"/><circle cx="253" cy="99"/><circle cx="291" cy="98"/><circle cx="277" cy="98"/><circle cx="139" cy="98"/><circle cx="250" cy="99"/><circle cx="302" cy="100"/><circle cx="303" cy="102"/><circle cx="287" cy="105"/><circle cx="244" cy="108"/><circle cx="229" cy="111"/><circle cx="193" cy="115"/><circle cx="184" cy="119"/><circle cx="165" cy="129"/><circle cx="167" cy="134"/><circle cx="166" cy="139"/><circle cx="156" cy="145"/><circle cx="169" cy="151"/><circle cx="164" cy="157"/><circle cx="228" cy="163"/><circle cx="287" cy="176"/><circle cx="257" cy="189"/><circle cx="234" cy="195"/><circle cx="226" cy="202"/><circle cx="267" cy="209"/><circle cx="275" cy="216"/><circle cx="240" cy="230"/><circle cx="218" cy="244"/><circle cx="259" cy="250"/><circle cx="306" cy="264"/><circle cx="302" cy="271"/><circle cx="301" cy="278"/><circle cx="314" cy="292"/><circle cx="341" cy="298"/><circle cx="291" cy="305"/><circle cx="282" cy="312"/><circle cx="310" cy="318"/><circle cx="283" cy="331"/><circle cx="239" cy="337"/><circle cx="238" cy="356"/><circle cx="243" cy="367"/><circle cx="281" cy="373"/><circle cx="265" cy="378"/><circle cx="220" cy="384"/><circle cx="216" cy="389"/><circle cx="231" cy="394"/><circle cx="246" cy="399"/><circle cx="250" cy="403"/><circle cx="260" cy="408"/><circle cx="280" cy="424"/><circle cx="291" cy="427"/><circle cx="275" cy="433"/><circle cx="282" cy="435"/><circle cx="262" cy="438"/><circle cx="183" cy="441"/><circle cx="164" cy="445"/><circle cx="171" cy="445"/><circle cx="157" cy="445"/><circle cx="172" cy="442"/><circle cx="175" cy="441"/><circle cx="178" cy="437"/><circle cx="224" cy="432"/><circle cx="207" cy="430"/><circle cx="249" cy="427"/><circle cx="239" cy="423"/><circle cx="267" cy="420"/><circle cx="311" cy="416"/><circle cx="281" cy="412"/><circle cx="265" cy="408"/><circle cx="225" cy="394"/><circle cx="232" cy="389"/><circle cx="252" cy="384"/><circle cx="266" cy="379"/><circle cx="246" cy="374"/><circle cx="228" cy="368"/><circle cx="203" cy="356"/><circle cx="196" cy="350"/><circle cx="219" cy="344"/><circle cx="209" cy="338"/><circle cx="215" cy="332"/><circle cx="233" cy="326"/><circle cx="224" cy="319"/><circle cx="229" cy="313"/><circle cx="236" cy="306"/><circle cx="336" cy="299"/><circle cx="279" cy="286"/><circle cx="209" cy="272"/><circle cx="182" cy="265"/><circle cx="189" cy="259"/><circle cx="379" cy="252"/><circle cx="170" cy="238"/><circle cx="186" cy="231"/><circle cx="192" cy="224"/><circle cx="234" cy="217"/><circle cx="239" cy="197"/><circle cx="207" cy="184"/><circle cx="218" cy="171"/><circle cx="177" cy="164"/><circle cx="166" cy="158"/><circle cx="200" cy="146"/><circle cx="203" cy="141"/><circle cx="224" cy="135"/><circle cx="216" cy="130"/><circle cx="225" cy="121"/><circle cx="205" cy="116"/><circle cx="139" cy="116"/><circle cx="231" cy="112"/><circle cx="218" cy="109"/><circle cx="238" cy="104"/><circle cx="234" cy="102"/><circle cx="234" cy="100"/><circle cx="241" cy="99"/><circle cx="139" cy="99"/><circle cx="261" cy="99"/><circle cx="246" cy="100"/><circle cx="258" cy="101"/><circle cx="265" cy="103"/><circle cx="242" cy="106"/><circle cx="258" cy="112"/><circle cx="275" cy="116"/><circle cx="310" cy="120"/><circle cx="305" cy="125"/><circle cx="265" cy="129"/><circle cx="294" cy="135"/><circle cx="139" cy="135"/><circle cx="284" cy="140"/><circle cx="267" cy="152"/><circle cx="279" cy="158"/><circle cx="355" cy="164"/><circle cx="338" cy="170"/><circle cx="333" cy="176"/><circle cx="301" cy="183"/><circle cx="294" cy="190"/><circle cx="282" cy="196"/><circle cx="179" cy="217"/><circle cx="203" cy="223"/><circle cx="195" cy="230"/><circle cx="198" cy="237"/><circle cx="233" cy="244"/><circle cx="266" cy="265"/><circle cx="292" cy="272"/><circle cx="313" cy="279"/><circle cx="332" cy="286"/><circle cx="273" cy="292"/><circle cx="234" cy="306"/><circle cx="233" cy="312"/><circle cx="227" cy="319"/><circle cx="231" cy="325"/><circle cx="234" cy="332"/><circle cx="237" cy="338"/><circle cx="249" cy="350"/><circle cx="276" cy="356"/><circle cx="278" cy="362"/><circle cx="205" cy="374"/><circle cx="229" cy="379"/><circle cx="235" cy="385"/><circle cx="233" cy="390"/><circle cx="215" cy="395"/><circle cx="167" cy="409"/><circle cx="176" cy="417"/><circle cx="198" cy="421"/><circle cx="215" cy="424"/><circle cx="210" cy="428"/><circle cx="212" cy="431"/><circle cx="258" cy="442"/><circle cx="297" cy="440"/><circle cx="252" cy="436"/><circle cx="266" cy="433"/><circle cx="249" cy="431"/><circle cx="284" cy="428"/><circle cx="287" cy="424"/><circle cx="276" cy="417"/><circle cx="219" cy="405"/><circle cx="286" cy="400"/><circle cx="255" cy="395"/><circle cx="281" cy="390"/><circle cx="307" cy="385"/><circle cx="281" cy="380"/><circle cx="278" cy="374"/><circle cx="288" cy="369"/><circle cx="288" cy="363"/><circle cx="299" cy="357"/><circle cx="267" cy="351"/><circle cx="304" cy="345"/><circle cx="256" cy="339"/><circle cx="254" cy="333"/><circle cx="252" cy="320"/><circle cx="254" cy="313"/><circle cx="217" cy="307"/><circle cx="224" cy="300"/><circle cx="226" cy="293"/><circle cx="231" cy="287"/><circle cx="180" cy="273"/><circle cx="190" cy="266"/><circle cx="171" cy="225"/><circle cx="213" cy="218"/><circle cx="188" cy="211"/><circle cx="462" cy="204"/><circle cx="169" cy="198"/><circle cx="169" cy="191"/><circle cx="178" cy="184"/><circle cx="220" cy="178"/><circle cx="221" cy="165"/><circle cx="194" cy="159"/><circle cx="266" cy="153"/><circle cx="139" cy="153"/><circle cx="263" cy="147"/><circle cx="221" cy="141"/><circle cx="216" cy="136"/><circle cx="139" cy="136"/><circle cx="210" cy="131"/><circle cx="180" cy="126"/><circle cx="235" cy="121"/><circle cx="139" cy="121"/><circle cx="226" cy="117"/><circle cx="216" cy="113"/><circle cx="263" cy="110"/><circle cx="287" cy="107"/><circle cx="242" cy="104"/><circle cx="283" cy="101"/><circle cx="255" cy="100"/><circle cx="235" cy="100"/><circle cx="190" cy="100"/><circle cx="175" cy="101"/><circle cx="186" cy="102"/><circle cx="184" cy="107"/><circle cx="202" cy="110"/><circle cx="207" cy="113"/><circle cx="225" cy="121"/><circle cx="206" cy="130"/><circle cx="222" cy="135"/><circle cx="207" cy="141"/><circle cx="139" cy="152"/><circle cx="261" cy="158"/><circle cx="271" cy="164"/><circle cx="250" cy="171"/><circle cx="227" cy="184"/><circle cx="225" cy="190"/><circle cx="253" cy="197"/><circle cx="424" cy="204"/><circle cx="266" cy="210"/><circle cx="301" cy="217"/><circle cx="139" cy="231"/><circle cx="248" cy="238"/><circle cx="273" cy="245"/><circle cx="295" cy="259"/><circle cx="318" cy="266"/><circle cx="279" cy="273"/><circle cx="268" cy="286"/><circle cx="246" cy="293"/><circle cx="234" cy="300"/><circle cx="278" cy="306"/><circle cx="268" cy="320"/><circle cx="208" cy="326"/><circle cx="251" cy="333"/><circle cx="259" cy="345"/><circle cx="267" cy="357"/><circle cx="269" cy="363"/><circle cx="244" cy="369"/><circle cx="205" cy="375"/><circle cx="229" cy="385"/><circle cx="217" cy="391"/><circle cx="193" cy="396"/><circle cx="214" cy="401"/><circle cx="205" cy="405"/><circle cx="204" cy="414"/><circle cx="219" cy="418"/><circle cx="209" cy="422"/><circle cx="198" cy="429"/><circle cx="174" cy="440"/><circle cx="170" cy="442"/><circle cx="164" cy="446"/><circle cx="164" cy="447"/><circle cx="171" cy="447"/><circle cx="176" cy="447"/><circle cx="268" cy="434"/><circle cx="294" cy="432"/><circle cx="299" cy="429"/><circle cx="281" cy="425"/><circle cx="241" cy="418"/><circle cx="223" cy="405"/><circle cx="174" cy="401"/><circle cx="197" cy="396"/><circle cx="183" cy="391"/><circle cx="221" cy="381"/><circle cx="238" cy="370"/><circle cx="238" cy="364"/><circle cx="266" cy="352"/><circle cx="288" cy="346"/><circle cx="234" cy="333"/><circle cx="216" cy="327"/><circle cx="274" cy="314"/><circle cx="259" cy="307"/><circle cx="268" cy="301"/><circle cx="219" cy="294"/><circle cx="229" cy="287"/><circle cx="265" cy="281"/><circle cx="310" cy="267"/><circle cx="307" cy="260"/><circle cx="246" cy="253"/><circle cx="281" cy="246"/><circle cx="308" cy="225"/><circle cx="197" cy="205"/><circle cx="175" cy="198"/><circle cx="169" cy="185"/><circle cx="178" cy="178"/><circle cx="228" cy="172"/><circle cx="196" cy="166"/><circle cx="239" cy="160"/><circle cx="221" cy="148"/><circle cx="178" cy="142"/><circle cx="219" cy="137"/><circle cx="218" cy="132"/><circle cx="239" cy="127"/><circle cx="291" cy="118"/><circle cx="280" cy="114"/><circle cx="289" cy="111"/><circle cx="302" cy="105"/><circle cx="315" cy="102"/><circle cx="301" cy="101"/><circle cx="139" cy="101"/><circle cx="299" cy="101"/><circle cx="235" cy="101"/><circle cx="234" cy="102"/><circle cx="352" cy="103"/><circle cx="244" cy="105"/><circle cx="254" cy="108"/><circle cx="314" cy="111"/><circle cx="297" cy="126"/><circle cx="316" cy="131"/><circle cx="323" cy="147"/><circle cx="312" cy="153"/><circle cx="300" cy="159"/><circle cx="316" cy="165"/><circle cx="340" cy="172"/><circle cx="314" cy="178"/><circle cx="333" cy="184"/><circle cx="311" cy="191"/><circle cx="274" cy="198"/><circle cx="295" cy="204"/><circle cx="320" cy="211"/><circle cx="317" cy="218"/><circle cx="160" cy="225"/><circle cx="209" cy="232"/><circle cx="210" cy="239"/><circle cx="202" cy="253"/><circle cx="245" cy="280"/><circle cx="262" cy="287"/><circle cx="252" cy="294"/><circle cx="258" cy="307"/><circle cx="244" cy="314"/><circle cx="256" cy="320"/><circle cx="232" cy="327"/><circle cx="280" cy="340"/><circle cx="200" cy="352"/><circle cx="173" cy="358"/><circle cx="236" cy="370"/><circle cx="225" cy="375"/><circle cx="217" cy="386"/><circle cx="264" cy="397"/><circle cx="292" cy="401"/><circle cx="289" cy="406"/><circle cx="283" cy="411"/><circle cx="293" cy="415"/><circle cx="274" cy="419"/><circle cx="265" cy="423"/><circle cx="225" cy="426"/><circle cx="194" cy="430"/><circle cx="199" cy="438"/><circle cx="199" cy="443"/><circle cx="225" cy="447"/><circle cx="180" cy="442"/><circle cx="164" cy="440"/><circle cx="169" cy="435"/><circle cx="189" cy="433"/><circle cx="178" cy="423"/><circle cx="169" cy="415"/><circle cx="185" cy="411"/><circle cx="209" cy="406"/><circle cx="199" cy="402"/><circle cx="232" cy="392"/><circle cx="252" cy="387"/><circle cx="264" cy="381"/><circle cx="225" cy="376"/><circle cx="193" cy="365"/><circle cx="199" cy="359"/><circle cx="185" cy="353"/><circle cx="179" cy="347"/><circle cx="166" cy="340"/><circle cx="169" cy="321"/><circle cx="164" cy="295"/><circle cx="256" cy="288"/><circle cx="215" cy="281"/><circle cx="185" cy="274"/><circle cx="182" cy="261"/><circle cx="165" cy="240"/><circle cx="181" cy="233"/><circle cx="230" cy="226"/><circle cx="213" cy="219"/><circle cx="196" cy="212"/><circle cx="203" cy="206"/><circle cx="215" cy="199"/><circle cx="193" cy="192"/><circle cx="215" cy="186"/><circle cx="187" cy="173"/><circle cx="189" cy="167"/><circle cx="169" cy="154"/><circle cx="166" cy="138"/><circle cx="180" cy="128"/><circle cx="208" cy="123"/></g>
<g fill="#1fa187" stroke="#1fa187"><circle cx="226" cy="119"/><circle cx="188" cy="115"/><circle cx="214" cy="112"/><circle cx="209" cy="109"/><circle cx="222" cy="106"/><circle cx="209" cy="104"/><circle cx="262" cy="103"/><circle cx="289" cy="102"/><circle cx="257" cy="102"/><circle cx="250" cy="102"/><circle cx="274" cy="103"/><circle cx="294" cy="104"/><circle cx="305" cy="106"/><circle cx="301" cy="112"/><circle cx="308" cy="115"/><circle cx="275" cy="123"/><circle cx="246" cy="127"/><circle cx="263" cy="132"/><circle cx="292" cy="137"/><circle cx="275" cy="148"/><circle cx="285" cy="154"/><circle cx="249" cy="160"/><circle cx="235" cy="166"/><circle cx="213" cy="179"/><circle cx="248" cy="185"/><circle cx="183" cy="198"/><circle cx="271" cy="226"/><circle cx="297" cy="233"/><circle cx="266" cy="240"/><circle cx="221" cy="253"/><circle cx="214" cy="260"/><circle cx="228" cy="281"/><circle cx="273" cy="288"/><circle cx="282" cy="295"/><circle cx="299" cy="301"/><circle cx="329" cy="308"/><circle cx="320" cy="315"/><circle cx="308" cy="321"/><circle cx="314" cy="328"/><circle cx="285" cy="334"/><circle cx="278" cy="341"/><circle cx="315" cy="353"/><circle cx="299" cy="359"/><circle cx="282" cy="365"/><circle cx="255" cy="371"/><circle cx="266" cy="376"/><circle cx="256" cy="392"/><circle cx="219" cy="397"/><circle cx="212" cy="402"/><circle cx="215" cy="412"/><circle cx="205" cy="420"/><circle cx="207" cy="424"/><circle cx="201" cy="427"/><circle cx="192" cy="434"/><circle cx="186" cy="437"/><circle cx="259" cy="444"/><circle cx="299" cy="445"/><circle cx="277" cy="447"/><circle cx="242" cy="448"/><circle cx="227" cy="449"/><circle cx="185" cy="447"/><circle cx="174" cy="446"/><circle cx="211" cy="443"/><circle cx="211" cy="439"/><circle cx="184" cy="433"/><circle cx="201" cy="430"/><circle cx="215" cy="427"/><circle cx="212" cy="412"/><circle cx="212" cy="407"/><circle cx="219" cy="403"/><circle cx="187" cy="398"/><circle cx="186" cy="382"/><circle cx="208" cy="377"/><circle cx="229" cy="371"/><circle cx="276" cy="365"/><circle cx="282" cy="360"/><circle cx="235" cy="354"/><circle cx="177" cy="347"/><circle cx="206" cy="341"/><circle cx="208" cy="329"/><circle cx="395" cy="322"/><circle cx="199" cy="316"/><circle cx="181" cy="309"/><circle cx="164" cy="302"/><circle cx="179" cy="296"/><circle cx="217" cy="282"/><circle cx="193" cy="275"/><circle cx="244" cy="268"/><circle cx="220" cy="261"/><circle cx="204" cy="248"/><circle cx="199" cy="241"/><circle cx="264" cy="213"/><circle cx="238" cy="186"/><circle cx="238" cy="167"/><circle cx="263" cy="161"/><circle cx="239" cy="155"/><circle cx="235" cy="149"/><circle cx="267" cy="133"/><circle cx="394" cy="129"/><circle cx="275" cy="124"/><circle cx="273" cy="120"/><circle cx="272" cy="116"/><circle cx="247" cy="113"/><circle cx="196" cy="105"/><circle cx="226" cy="104"/><circle cx="235" cy="103"/><circle cx="206" cy="103"/><circle cx="290" cy="104"/><circle cx="264" cy="105"/><circle cx="246" cy="107"/><circle cx="303" cy="110"/><circle cx="286" cy="113"/><circle cx="139" cy="113"/><circle cx="303" cy="120"/><circle cx="303" cy="128"/><circle cx="335" cy="133"/><circle cx="360" cy="138"/><circle cx="334" cy="143"/><circle cx="326" cy="149"/><circle cx="289" cy="180"/><circle cx="229" cy="193"/><circle cx="170" cy="206"/><circle cx="165" cy="213"/><circle cx="224" cy="220"/><circle cx="228" cy="226"/><circle cx="297" cy="240"/><circle cx="328" cy="247"/><circle cx="348" cy="254"/><circle cx="324" cy="275"/><circle cx="306" cy="282"/><circle cx="314" cy="289"/><circle cx="309" cy="295"/><circle cx="269" cy="302"/><circle cx="290" cy="309"/><circle cx="247" cy="322"/><circle cx="219" cy="329"/><circle cx="212" cy="335"/><circle cx="178" cy="341"/><circle cx="194" cy="348"/><circle cx="233" cy="354"/><circle cx="219" cy="366"/><circle cx="262" cy="377"/><circle cx="283" cy="383"/><circle cx="268" cy="388"/><circle cx="266" cy="393"/><circle cx="287" cy="403"/><circle cx="313" cy="408"/><circle cx="265" cy="412"/><circle cx="301" cy="417"/><circle cx="286" cy="425"/><circle cx="263" cy="443"/><circle cx="299" cy="445"/><circle cx="267" cy="446"/><circle cx="285" cy="448"/><circle cx="174" cy="448"/><circle cx="242" cy="444"/><circle cx="243" cy="434"/><circle cx="251" cy="421"/><circle cx="262" cy="413"/><circle cx="259" cy="399"/><circle cx="245" cy="383"/><circle cx="259" cy="378"/><circle cx="224" cy="372"/><circle cx="225" cy="360"/><circle cx="209" cy="354"/><circle cx="169" cy="348"/><circle cx="197" cy="336"/><circle cx="231" cy="323"/><circle cx="235" cy="316"/><circle cx="202" cy="303"/><circle cx="197" cy="296"/><circle cx="197" cy="290"/><circle cx="220" cy="283"/><circle cx="240" cy="276"/><circle cx="267" cy="269"/><circle cx="213" cy="262"/><circle cx="393" cy="255"/><circle cx="229" cy="248"/><circle cx="240" cy="241"/><circle cx="284" cy="234"/><circle cx="314" cy="228"/><circle cx="333" cy="221"/><circle cx="338" cy="214"/><circle cx="321" cy="207"/><circle cx="340" cy="200"/><circle cx="336" cy="194"/><circle cx="328" cy="187"/><circle cx="327" cy="181"/><circle cx="330" cy="174"/><circle cx="339" cy="168"/><circle cx="351" cy="162"/><circle cx="301" cy="150"/><circle cx="248" cy="145"/><circle cx="217" cy="139"/><circle cx="232" cy="130"/><circle cx="207" cy="121"/><circle cx="220" cy="117"/><circle cx="165" cy="108"/><circle cx="210" cy="105"/><circle cx="191" cy="104"/><circle cx="169" cy="104"/><circle cx="164" cy="105"/><circle cx="160" cy="106"/><circle cx="238" cy="108"/><circle cx="213" cy="114"/><circle cx="265" cy="125"/><circle cx="196" cy="144"/><circle cx="272" cy="150"/><circle cx="281" cy="156"/><circle cx="253" cy="168"/><circle cx="247" cy="180"/><circle cx="227" cy="187"/><circle cx="249" cy="193"/><circle cx="286" cy="200"/><circle cx="245" cy="207"/><circle cx="244" cy="241"/><circle cx="231" cy="248"/><circle cx="278" cy="255"/><circle cx="272" cy="262"/><circle cx="193" cy="269"/><circle cx="169" cy="283"/><circle cx="170" cy="296"/><circle cx="203" cy="316"/><circle cx="212" cy="336"/><circle cx="223" cy="342"/><circle cx="210" cy="348"/><circle cx="234" cy="355"/><circle cx="256" cy="361"/><circle cx="228" cy="367"/><circle cx="201" cy="372"/><circle cx="196" cy="378"/><circle cx="207" cy="384"/><circle cx="273" cy="399"/><circle cx="246" cy="404"/><circle cx="244" cy="413"/><circle cx="227" cy="418"/><circle cx="202" cy="422"/><circle cx="164" cy="436"/><circle cx="166" cy="439"/><circle cx="165" cy="444"/><circle cx="170" cy="446"/><circle cx="286" cy="451"/><circle cx="306" cy="451"/><circle cx="288" cy="451"/><circle cx="327" cy="451"/><circle cx="284" cy="451"/><circle cx="295" cy="449"/><circle cx="255" cy="447"/><circle cx="295" cy="445"/><circle cx="208" cy="435"/><circle cx="281" cy="426"/><circle cx="261" cy="418"/><circle cx="235" cy="413"/><circle cx="254" cy="404"/><circle cx="269" cy="400"/><circle cx="279" cy="395"/><circle cx="251" cy="384"/><circle cx="232" cy="367"/><circle cx="242" cy="355"/><circle cx="234" cy="349"/><circle cx="244" cy="330"/><circle cx="254" cy="324"/><circle cx="302" cy="317"/><circle cx="262" cy="310"/><circle cx="256" cy="304"/><circle cx="234" cy="290"/><circle cx="369" cy="283"/><circle cx="236" cy="277"/><circle cx="270" cy="270"/><circle cx="278" cy="249"/><circle cx="261" cy="228"/><circle cx="252" cy="215"/><circle cx="283" cy="208"/><circle cx="284" cy="201"/><circle cx="278" cy="195"/><circle cx="329" cy="188"/><circle cx="276" cy="169"/><circle cx="139" cy="169"/><circle cx="278" cy="163"/><circle cx="291" cy="157"/><circle cx="505" cy="140"/><circle cx="207" cy="135"/><circle cx="172" cy="126"/><circle cx="169" cy="122"/><circle cx="171" cy="118"/><circle cx="174" cy="115"/><circle cx="171" cy="112"/><circle cx="198" cy="109"/><circle cx="201" cy="108"/><circle cx="236" cy="106"/><circle cx="252" cy="105"/><circle cx="238" cy="106"/><circle cx="139" cy="106"/><circle cx="406" cy="107"/><circle cx="230" cy="109"/><circle cx="179" cy="112"/><circle cx="227" cy="115"/><circle cx="182" cy="118"/><circle cx="209" cy="122"/><circle cx="175" cy="135"/><circle cx="139" cy="135"/><circle cx="423" cy="151"/><circle cx="271" cy="157"/><circle cx="227" cy="163"/><circle cx="221" cy="169"/><circle cx="211" cy="175"/><circle cx="247" cy="181"/><circle cx="155" cy="194"/><circle cx="237" cy="201"/><circle cx="265" cy="208"/><circle cx="243" cy="214"/><circle cx="275" cy="242"/><circle cx="305" cy="249"/><circle cx="258" cy="263"/><circle cx="241" cy="283"/><circle cx="262" cy="290"/><circle cx="241" cy="297"/><circle cx="223" cy="304"/><circle cx="222" cy="311"/><circle cx="215" cy="317"/><circle cx="242" cy="324"/><circle cx="219" cy="330"/><circle cx="227" cy="337"/><circle cx="233" cy="343"/><circle cx="196" cy="362"/><circle cx="233" cy="368"/><circle cx="222" cy="373"/><circle cx="248" cy="379"/><circle cx="189" cy="390"/><circle cx="169" cy="400"/><circle cx="194" cy="405"/><circle cx="222" cy="410"/><circle cx="238" cy="414"/><circle cx="305" cy="434"/><circle cx="250" cy="437"/><circle cx="230" cy="440"/><circle cx="231" cy="442"/><circle cx="180" cy="445"/><circle cx="273" cy="448"/><circle cx="234" cy="450"/><circle cx="286" cy="452"/><circle cx="235" cy="452"/><circle cx="213" cy="448"/><circle cx="152" cy="442"/><circle cx="166" cy="436"/><circle cx="169" cy="433"/><circle cx="223" cy="430"/><circle cx="232" cy="427"/><circle cx="231" cy="423"/><circle cx="208" cy="419"/><circle cx="193" cy="414"/><circle cx="227" cy="410"/><circle cx="236" cy="405"/><circle cx="278" cy="395"/><circle cx="279" cy="385"/><circle cx="230" cy="374"/><circle cx="175" cy="356"/><circle cx="190" cy="350"/><circle cx="165" cy="344"/><circle cx="166" cy="324"/><circle cx="179" cy="318"/><circle cx="164" cy="311"/><circle cx="172" cy="291"/><circle cx="193" cy="277"/><circle cx="202" cy="270"/><circle cx="195" cy="264"/><circle cx="166" cy="257"/><circle cx="243" cy="243"/><circle cx="257" cy="236"/><circle cx="253" cy="222"/><circle cx="288" cy="215"/><circle cx="288" cy="209"/><circle cx="249" cy="202"/><circle cx="212" cy="189"/><circle cx="232" cy="182"/><circle cx="181" cy="170"/><circle cx="193" cy="164"/><circle cx="203" cy="158"/><circle cx="188" cy="152"/><circle cx="166" cy="141"/><circle cx="139" cy="141"/></g>
<g fill="#21a585" stroke="#21a585"><circle cx="169" cy="136"/><circle cx="165" cy="131"/><circle cx="167" cy="127"/><circle cx="175" cy="123"/><circle cx="139" cy="119"/><circle cx="165" cy="116"/><circle cx="233" cy="113"/><circle cx="267" cy="111"/><circle cx="252" cy="109"/><circle cx="263" cy="107"/><circle cx="278" cy="106"/><circle cx="275" cy="106"/><circle cx="276" cy="106"/><circle cx="272" cy="107"/><circle cx="236" cy="109"/><circle cx="241" cy="113"/><circle cx="226" cy="116"/><circle cx="167" cy="127"/><circle cx="164" cy="136"/><circle cx="168" cy="146"/><circle cx="167" cy="152"/><circle cx="176" cy="163"/><circle cx="172" cy="170"/><circle cx="176" cy="176"/><circle cx="219" cy="189"/><circle cx="208" cy="195"/><circle cx="254" cy="202"/><circle cx="272" cy="209"/><circle cx="240" cy="215"/><circle cx="228" cy="222"/><circle cx="211" cy="229"/><circle cx="262" cy="243"/><circle cx="233" cy="250"/><circle cx="253" cy="270"/><circle cx="249" cy="284"/><circle cx="238" cy="291"/><circle cx="274" cy="298"/><circle cx="274" cy="305"/><circle cx="302" cy="311"/><circle cx="278" cy="325"/><circle cx="300" cy="331"/><circle cx="311" cy="338"/><circle cx="328" cy="350"/><circle cx="341" cy="356"/><circle cx="307" cy="363"/><circle cx="349" cy="374"/><circle cx="322" cy="380"/><circle cx="355" cy="386"/><circle cx="335" cy="391"/><circle cx="314" cy="401"/><circle cx="294" cy="406"/><circle cx="311" cy="411"/><circle cx="302" cy="416"/><circle cx="279" cy="420"/><circle cx="255" cy="424"/><circle cx="244" cy="428"/><circle cx="236" cy="431"/><circle cx="265" cy="446"/><circle cx="199" cy="451"/><circle cx="215" cy="452"/><circle cx="252" cy="451"/><circle cx="241" cy="449"/><circle cx="230" cy="445"/><circle cx="219" cy="443"/><circle cx="155" cy="438"/><circle cx="189" cy="434"/><circle cx="208" cy="431"/><circle cx="225" cy="420"/><circle cx="155" cy="401"/><circle cx="243" cy="396"/><circle cx="204" cy="391"/><circle cx="217" cy="386"/><circle cx="248" cy="380"/><circle cx="241" cy="369"/><circle cx="295" cy="357"/><circle cx="257" cy="344"/><circle cx="277" cy="338"/><circle cx="292" cy="325"/><circle cx="328" cy="305"/><circle cx="346" cy="292"/><circle cx="345" cy="285"/><circle cx="299" cy="278"/><circle cx="347" cy="264"/><circle cx="389" cy="237"/><circle cx="344" cy="230"/><circle cx="361" cy="223"/><circle cx="390" cy="216"/><circle cx="358" cy="209"/><circle cx="279" cy="203"/><circle cx="276" cy="196"/><circle cx="274" cy="190"/><circle cx="280" cy="183"/><circle cx="271" cy="177"/><circle cx="301" cy="159"/><circle cx="300" cy="153"/><circle cx="293" cy="147"/><circle cx="318" cy="142"/><circle cx="321" cy="137"/><circle cx="340" cy="132"/><circle cx="326" cy="128"/><circle cx="281" cy="124"/><circle cx="139" cy="124"/><circle cx="313" cy="120"/><circle cx="288" cy="117"/><circle cx="277" cy="114"/><circle cx="258" cy="112"/><circle cx="257" cy="110"/><circle cx="240" cy="108"/><circle cx="229" cy="108"/><circle cx="208" cy="107"/><circle cx="209" cy="107"/><circle cx="218" cy="108"/><circle cx="195" cy="112"/><circle cx="139" cy="112"/><circle cx="192" cy="114"/><circle cx="213" cy="117"/><circle cx="207" cy="120"/><circle cx="230" cy="124"/><circle cx="221" cy="142"/><circle cx="254" cy="147"/><circle cx="294" cy="159"/><circle cx="299" cy="164"/><circle cx="333" cy="177"/><circle cx="368" cy="183"/><circle cx="318" cy="203"/><circle cx="242" cy="223"/><circle cx="193" cy="237"/><circle cx="191" cy="244"/><circle cx="198" cy="271"/><circle cx="192" cy="278"/><circle cx="229" cy="292"/><circle cx="249" cy="299"/><circle cx="255" cy="312"/><circle cx="268" cy="319"/><circle cx="239" cy="326"/><circle cx="256" cy="332"/><circle cx="209" cy="339"/><circle cx="200" cy="345"/><circle cx="231" cy="351"/><circle cx="227" cy="357"/><circle cx="181" cy="364"/><circle cx="195" cy="375"/><circle cx="160" cy="392"/><circle cx="222" cy="397"/><circle cx="262" cy="417"/><circle cx="199" cy="425"/><circle cx="201" cy="439"/><circle cx="185" cy="442"/><circle cx="187" cy="449"/><circle cx="227" cy="452"/><circle cx="268" cy="455"/><circle cx="188" cy="454"/><circle cx="197" cy="452"/><circle cx="228" cy="448"/><circle cx="184" cy="435"/><circle cx="253" cy="416"/><circle cx="221" cy="412"/><circle cx="221" cy="407"/><circle cx="222" cy="402"/><circle cx="259" cy="397"/><circle cx="230" cy="392"/><circle cx="230" cy="387"/><circle cx="218" cy="381"/><circle cx="223" cy="370"/><circle cx="277" cy="351"/><circle cx="279" cy="345"/><circle cx="384" cy="332"/><circle cx="417" cy="326"/><circle cx="355" cy="313"/><circle cx="403" cy="306"/><circle cx="349" cy="299"/><circle cx="343" cy="293"/><circle cx="365" cy="272"/><circle cx="344" cy="265"/><circle cx="313" cy="251"/><circle cx="308" cy="231"/><circle cx="286" cy="224"/><circle cx="292" cy="210"/><circle cx="264" cy="204"/><circle cx="472" cy="190"/><circle cx="264" cy="178"/><circle cx="301" cy="171"/><circle cx="290" cy="165"/><circle cx="400" cy="159"/><circle cx="509" cy="154"/><circle cx="274" cy="148"/><circle cx="274" cy="143"/><circle cx="287" cy="138"/><circle cx="337" cy="133"/><circle cx="323" cy="121"/><circle cx="291" cy="118"/><circle cx="301" cy="115"/><circle cx="316" cy="111"/><circle cx="300" cy="109"/><circle cx="225" cy="109"/><circle cx="272" cy="108"/><circle cx="383" cy="109"/><circle cx="204" cy="109"/><circle cx="215" cy="111"/><circle cx="260" cy="115"/><circle cx="289" cy="118"/><circle cx="309" cy="121"/><circle cx="297" cy="125"/><circle cx="266" cy="129"/><circle cx="225" cy="133"/><circle cx="249" cy="148"/><circle cx="285" cy="165"/><circle cx="280" cy="171"/><circle cx="248" cy="178"/><circle cx="258" cy="190"/><circle cx="261" cy="197"/><circle cx="324" cy="210"/><circle cx="292" cy="217"/><circle cx="272" cy="231"/><circle cx="288" cy="238"/><circle cx="294" cy="265"/><circle cx="250" cy="286"/><circle cx="244" cy="300"/><circle cx="234" cy="340"/><circle cx="180" cy="346"/><circle cx="188" cy="352"/><circle cx="202" cy="358"/><circle cx="194" cy="364"/><circle cx="244" cy="382"/><circle cx="249" cy="393"/><circle cx="301" cy="408"/><circle cx="294" cy="413"/><circle cx="334" cy="418"/><circle cx="274" cy="422"/><circle cx="273" cy="426"/><circle cx="277" cy="434"/><circle cx="248" cy="437"/><circle cx="215" cy="443"/><circle cx="214" cy="446"/><circle cx="221" cy="452"/><circle cx="228" cy="453"/><circle cx="247" cy="456"/><circle cx="169" cy="445"/><circle cx="171" cy="440"/><circle cx="179" cy="437"/><circle cx="200" cy="426"/><circle cx="212" cy="413"/><circle cx="230" cy="408"/><circle cx="232" cy="403"/><circle cx="258" cy="398"/><circle cx="258" cy="382"/><circle cx="232" cy="376"/><circle cx="269" cy="370"/><circle cx="256" cy="346"/><circle cx="262" cy="340"/><circle cx="268" cy="333"/><circle cx="270" cy="327"/><circle cx="322" cy="320"/><circle cx="279" cy="307"/><circle cx="286" cy="293"/><circle cx="179" cy="259"/><circle cx="187" cy="231"/><circle cx="183" cy="225"/><circle cx="234" cy="218"/><circle cx="199" cy="211"/><circle cx="216" cy="204"/><circle cx="209" cy="191"/><circle cx="194" cy="185"/><circle cx="296" cy="172"/><circle cx="270" cy="166"/><circle cx="275" cy="155"/><circle cx="139" cy="144"/><circle cx="205" cy="134"/><circle cx="193" cy="130"/><circle cx="184" cy="126"/><circle cx="209" cy="122"/><circle cx="194" cy="119"/><circle cx="358" cy="116"/><circle cx="200" cy="112"/><circle cx="233" cy="111"/><circle cx="301" cy="110"/><circle cx="267" cy="110"/><circle cx="283" cy="111"/><circle cx="297" cy="112"/><circle cx="300" cy="114"/><circle cx="275" cy="116"/><circle cx="261" cy="122"/><circle cx="280" cy="130"/><circle cx="234" cy="134"/><circle cx="207" cy="139"/><circle cx="276" cy="149"/><circle cx="329" cy="155"/><circle cx="310" cy="161"/><circle cx="248" cy="172"/><circle cx="313" cy="179"/><circle cx="278" cy="191"/><circle cx="279" cy="198"/><circle cx="287" cy="205"/><circle cx="395" cy="225"/><circle cx="366" cy="232"/><circle cx="352" cy="239"/><circle cx="348" cy="245"/><circle cx="360" cy="252"/><circle cx="301" cy="266"/><circle cx="269" cy="280"/><circle cx="525" cy="287"/><circle cx="249" cy="294"/><circle cx="232" cy="301"/><circle cx="279" cy="307"/><circle cx="295" cy="314"/><circle cx="319" cy="327"/><circle cx="293" cy="334"/><circle cx="335" cy="347"/><circle cx="324" cy="359"/><circle cx="341" cy="371"/><circle cx="322" cy="383"/><circle cx="307" cy="389"/><circle cx="208" cy="405"/><circle cx="218" cy="409"/><circle cx="218" cy="414"/><circle cx="222" cy="431"/><circle cx="170" cy="438"/><circle cx="188" cy="441"/><circle cx="200" cy="444"/><circle cx="207" cy="449"/><circle cx="213" cy="451"/><circle cx="229" cy="453"/><circle cx="221" cy="455"/><circle cx="231" cy="456"/><circle cx="230" cy="456"/><circle cx="244" cy="455"/><circle cx="245" cy="450"/><circle cx="273" cy="448"/><circle cx="286" cy="444"/><circle cx="309" cy="441"/><circle cx="271" cy="438"/><circle cx="271" cy="434"/><circle cx="239" cy="431"/><circle cx="237" cy="427"/><circle cx="226" cy="423"/><circle cx="272" cy="409"/><circle cx="319" cy="404"/><circle cx="236" cy="388"/><circle cx="213" cy="383"/><circle cx="225" cy="377"/><circle cx="213" cy="365"/><circle cx="242" cy="353"/><circle cx="249" cy="347"/><circle cx="303" cy="341"/><circle cx="349" cy="334"/><circle cx="364" cy="328"/><circle cx="291" cy="321"/><circle cx="290" cy="314"/><circle cx="282" cy="308"/><circle cx="260" cy="294"/><circle cx="251" cy="287"/><circle cx="200" cy="280"/><circle cx="201" cy="273"/><circle cx="214" cy="267"/><circle cx="203" cy="253"/><circle cx="190" cy="239"/><circle cx="171" cy="232"/><circle cx="206" cy="212"/><circle cx="216" cy="205"/><circle cx="165" cy="192"/><circle cx="170" cy="186"/><circle cx="170" cy="179"/><circle cx="165" cy="173"/><circle cx="203" cy="167"/></g>
<g fill="#23a983" stroke="#23a983"><circle cx="217" cy="156"/><circle cx="240" cy="150"/><circle cx="285" cy="145"/><circle cx="306" cy="140"/><circle cx="327" cy="135"/><circle cx="300" cy="123"/><circle cx="281" cy="120"/><circle cx="324" cy="115"/><circle cx="329" cy="113"/><circle cx="271" cy="111"/><circle cx="263" cy="112"/><circle cx="277" cy="113"/><circle cx="314" cy="115"/><circle cx="363" cy="120"/><circle cx="339" cy="123"/><circle cx="253" cy="131"/><circle cx="303" cy="145"/><circle cx="244" cy="156"/><circle cx="213" cy="162"/><circle cx="181" cy="167"/><circle cx="168" cy="173"/><circle cx="166" cy="180"/><circle cx="166" cy="186"/><circle cx="176" cy="192"/><circle cx="224" cy="206"/><circle cx="266" cy="212"/><circle cx="252" cy="219"/><circle cx="215" cy="226"/><circle cx="226" cy="233"/><circle cx="236" cy="240"/><circle cx="194" cy="281"/><circle cx="239" cy="288"/><circle cx="193" cy="295"/><circle cx="245" cy="302"/><circle cx="243" cy="315"/><circle cx="200" cy="322"/><circle cx="216" cy="328"/><circle cx="201" cy="335"/><circle cx="193" cy="341"/><circle cx="171" cy="348"/><circle cx="166" cy="354"/><circle cx="169" cy="360"/><circle cx="187" cy="367"/><circle cx="164" cy="378"/><circle cx="191" cy="384"/><circle cx="169" cy="390"/><circle cx="169" cy="395"/><circle cx="184" cy="400"/><circle cx="212" cy="406"/><circle cx="209" cy="411"/><circle cx="231" cy="420"/><circle cx="267" cy="424"/><circle cx="300" cy="428"/><circle cx="261" cy="436"/><circle cx="243" cy="439"/><circle cx="237" cy="443"/><circle cx="237" cy="448"/><circle cx="193" cy="454"/><circle cx="248" cy="457"/><circle cx="285" cy="458"/><circle cx="304" cy="458"/><circle cx="205" cy="456"/><circle cx="215" cy="453"/><circle cx="231" cy="450"/><circle cx="259" cy="445"/><circle cx="240" cy="435"/><circle cx="284" cy="419"/><circle cx="229" cy="410"/><circle cx="226" cy="395"/><circle cx="186" cy="384"/><circle cx="175" cy="366"/><circle cx="167" cy="354"/><circle cx="164" cy="348"/><circle cx="168" cy="328"/><circle cx="165" cy="322"/><circle cx="167" cy="315"/><circle cx="202" cy="308"/><circle cx="239" cy="295"/><circle cx="270" cy="288"/><circle cx="243" cy="260"/><circle cx="490" cy="254"/><circle cx="166" cy="247"/><circle cx="165" cy="226"/><circle cx="168" cy="213"/><circle cx="209" cy="193"/><circle cx="219" cy="186"/><circle cx="197" cy="180"/><circle cx="191" cy="174"/><circle cx="226" cy="162"/><circle cx="155" cy="151"/><circle cx="220" cy="146"/><circle cx="224" cy="141"/><circle cx="196" cy="132"/><circle cx="224" cy="124"/><circle cx="139" cy="124"/><circle cx="191" cy="118"/><circle cx="261" cy="116"/><circle cx="139" cy="116"/><circle cx="298" cy="113"/><circle cx="359" cy="112"/><circle cx="139" cy="112"/><circle cx="275" cy="112"/><circle cx="254" cy="114"/><circle cx="297" cy="119"/><circle cx="250" cy="132"/><circle cx="242" cy="137"/><circle cx="189" cy="146"/><circle cx="195" cy="151"/><circle cx="426" cy="157"/><circle cx="209" cy="163"/><circle cx="247" cy="168"/><circle cx="226" cy="174"/><circle cx="275" cy="181"/><circle cx="286" cy="187"/><circle cx="252" cy="193"/><circle cx="230" cy="200"/><circle cx="213" cy="207"/><circle cx="233" cy="213"/><circle cx="200" cy="220"/><circle cx="175" cy="234"/><circle cx="194" cy="240"/><circle cx="200" cy="247"/><circle cx="187" cy="254"/><circle cx="195" cy="275"/><circle cx="209" cy="289"/><circle cx="174" cy="309"/><circle cx="420" cy="323"/><circle cx="165" cy="336"/><circle cx="176" cy="342"/><circle cx="237" cy="361"/><circle cx="234" cy="374"/><circle cx="256" cy="385"/><circle cx="249" cy="391"/><circle cx="245" cy="396"/><circle cx="239" cy="402"/><circle cx="249" cy="412"/><circle cx="225" cy="425"/><circle cx="219" cy="430"/><circle cx="275" cy="441"/><circle cx="259" cy="447"/><circle cx="279" cy="452"/><circle cx="192" cy="459"/><circle cx="176" cy="459"/><circle cx="195" cy="459"/><circle cx="200" cy="457"/><circle cx="222" cy="451"/><circle cx="225" cy="448"/><circle cx="235" cy="446"/><circle cx="206" cy="433"/><circle cx="165" cy="425"/><circle cx="204" cy="411"/><circle cx="186" cy="406"/><circle cx="201" cy="401"/><circle cx="216" cy="396"/><circle cx="212" cy="390"/><circle cx="220" cy="385"/><circle cx="254" cy="379"/><circle cx="296" cy="373"/><circle cx="256" cy="361"/><circle cx="259" cy="349"/><circle cx="237" cy="342"/><circle cx="216" cy="336"/><circle cx="244" cy="329"/><circle cx="226" cy="316"/><circle cx="204" cy="309"/><circle cx="207" cy="296"/><circle cx="212" cy="289"/><circle cx="262" cy="282"/><circle cx="250" cy="268"/><circle cx="250" cy="254"/><circle cx="239" cy="234"/><circle cx="243" cy="227"/><circle cx="262" cy="220"/><circle cx="234" cy="213"/><circle cx="313" cy="200"/><circle cx="271" cy="194"/><circle cx="288" cy="187"/><circle cx="271" cy="181"/><circle cx="309" cy="175"/><circle cx="290" cy="169"/><circle cx="151" cy="163"/><circle cx="308" cy="157"/><circle cx="316" cy="152"/><circle cx="299" cy="147"/><circle cx="169" cy="133"/><circle cx="169" cy="129"/><circle cx="184" cy="122"/><circle cx="254" cy="117"/><circle cx="240" cy="115"/><circle cx="219" cy="114"/><circle cx="218" cy="113"/><circle cx="231" cy="113"/><circle cx="286" cy="113"/><circle cx="268" cy="117"/><circle cx="139" cy="117"/><circle cx="273" cy="123"/><circle cx="371" cy="133"/><circle cx="343" cy="138"/><circle cx="153" cy="164"/><circle cx="326" cy="170"/><circle cx="271" cy="182"/><circle cx="237" cy="188"/><circle cx="238" cy="194"/><circle cx="277" cy="201"/><circle cx="282" cy="208"/><circle cx="233" cy="214"/><circle cx="188" cy="235"/><circle cx="216" cy="241"/><circle cx="236" cy="248"/><circle cx="237" cy="262"/><circle cx="228" cy="276"/><circle cx="199" cy="283"/><circle cx="344" cy="290"/><circle cx="228" cy="297"/><circle cx="219" cy="304"/><circle cx="267" cy="324"/><circle cx="252" cy="330"/><circle cx="268" cy="337"/><circle cx="243" cy="356"/><circle cx="232" cy="369"/><circle cx="191" cy="375"/><circle cx="225" cy="381"/><circle cx="199" cy="386"/><circle cx="169" cy="403"/><circle cx="170" cy="418"/><circle cx="206" cy="422"/><circle cx="164" cy="427"/><circle cx="166" cy="435"/><circle cx="174" cy="438"/><circle cx="239" cy="451"/><circle cx="193" cy="455"/><circle cx="196" cy="457"/><circle cx="242" cy="459"/><circle cx="229" cy="461"/><circle cx="238" cy="460"/><circle cx="175" cy="456"/><circle cx="164" cy="452"/><circle cx="169" cy="447"/><circle cx="165" cy="444"/><circle cx="165" cy="441"/><circle cx="192" cy="434"/><circle cx="171" cy="426"/><circle cx="221" cy="417"/><circle cx="230" cy="407"/><circle cx="154" cy="391"/><circle cx="279" cy="386"/><circle cx="256" cy="380"/><circle cx="247" cy="374"/><circle cx="209" cy="368"/><circle cx="209" cy="362"/><circle cx="153" cy="356"/><circle cx="205" cy="337"/><circle cx="320" cy="310"/><circle cx="302" cy="283"/><circle cx="291" cy="269"/><circle cx="153" cy="255"/><circle cx="326" cy="241"/><circle cx="429" cy="235"/><circle cx="418" cy="228"/><circle cx="405" cy="221"/><circle cx="356" cy="214"/><circle cx="329" cy="195"/><circle cx="284" cy="182"/><circle cx="259" cy="170"/><circle cx="260" cy="164"/><circle cx="409" cy="158"/><circle cx="319" cy="148"/><circle cx="139" cy="148"/><circle cx="290" cy="138"/><circle cx="261" cy="134"/><circle cx="240" cy="130"/><circle cx="453" cy="123"/><circle cx="276" cy="121"/><circle cx="139" cy="121"/><circle cx="271" cy="118"/><circle cx="217" cy="115"/><circle cx="139" cy="115"/><circle cx="221" cy="115"/><circle cx="223" cy="114"/><circle cx="245" cy="115"/><circle cx="230" cy="115"/><circle cx="254" cy="117"/><circle cx="265" cy="119"/><circle cx="251" cy="121"/><circle cx="261" cy="124"/><circle cx="239" cy="127"/><circle cx="139" cy="127"/><circle cx="377" cy="131"/><circle cx="139" cy="131"/><circle cx="329" cy="139"/><circle cx="284" cy="144"/><circle cx="324" cy="149"/><circle cx="224" cy="159"/><circle cx="226" cy="165"/><circle cx="234" cy="171"/><circle cx="222" cy="177"/><circle cx="230" cy="183"/><circle cx="235" cy="195"/><circle cx="236" cy="202"/><circle cx="244" cy="215"/><circle cx="204" cy="222"/><circle cx="221" cy="229"/><circle cx="183" cy="249"/><circle cx="207" cy="263"/><circle cx="190" cy="270"/><circle cx="248" cy="277"/><circle cx="287" cy="284"/><circle cx="283" cy="291"/><circle cx="261" cy="298"/><circle cx="298" cy="311"/><circle cx="283" cy="318"/><circle cx="273" cy="325"/><circle cx="276" cy="345"/><circle cx="222" cy="357"/><circle cx="213" cy="370"/><circle cx="217" cy="387"/><circle cx="227" cy="393"/><circle cx="236" cy="399"/><circle cx="209" cy="404"/><circle cx="203" cy="409"/><circle cx="232" cy="414"/><circle cx="188" cy="419"/><circle cx="207" cy="440"/><circle cx="195" cy="443"/><circle cx="194" cy="446"/><circle cx="206" cy="452"/><circle cx="239" cy="456"/><circle cx="219" cy="459"/><circle cx="239" cy="462"/><circle cx="233" cy="461"/><circle cx="247" cy="459"/><circle cx="250" cy="457"/><circle cx="189" cy="455"/><circle cx="192" cy="453"/><circle cx="164" cy="451"/><circle cx="175" cy="448"/><circle cx="191" cy="445"/><circle cx="193" cy="442"/><circle cx="224" cy="427"/><circle cx="229" cy="422"/><circle cx="205" cy="408"/><circle cx="200" cy="398"/><circle cx="233" cy="392"/><circle cx="225" cy="381"/><circle cx="212" cy="369"/><circle cx="218" cy="363"/><circle cx="223" cy="357"/><circle cx="227" cy="350"/><circle cx="262" cy="331"/><circle cx="260" cy="318"/><circle cx="258" cy="311"/><circle cx="225" cy="304"/><circle cx="214" cy="297"/><circle cx="252" cy="290"/><circle cx="230" cy="263"/><circle cx="196" cy="256"/><circle cx="220" cy="249"/><circle cx="220" cy="242"/><circle cx="220" cy="235"/><circle cx="217" cy="229"/><circle cx="215" cy="222"/><circle cx="187" cy="215"/><circle cx="195" cy="208"/></g>
<g fill="#26ad81" stroke="#26ad81"><circle cx="171" cy="177"/><circle cx="139" cy="165"/><circle cx="164" cy="159"/><circle cx="164" cy="154"/><circle cx="186" cy="149"/><circle cx="196" cy="139"/><circle cx="237" cy="135"/><circle cx="261" cy="131"/><circle cx="272" cy="128"/><circle cx="232" cy="118"/><circle cx="215" cy="117"/><circle cx="248" cy="116"/><circle cx="221" cy="116"/><circle cx="225" cy="117"/><circle cx="139" cy="117"/><circle cx="251" cy="118"/><circle cx="222" cy="120"/><circle cx="203" cy="122"/><circle cx="186" cy="125"/><circle cx="214" cy="128"/><circle cx="239" cy="132"/><circle cx="228" cy="136"/><circle cx="210" cy="140"/><circle cx="234" cy="145"/><circle cx="262" cy="150"/><circle cx="158" cy="155"/><circle cx="349" cy="172"/><circle cx="352" cy="178"/><circle cx="318" cy="210"/><circle cx="236" cy="223"/><circle cx="236" cy="230"/><circle cx="226" cy="237"/><circle cx="175" cy="257"/><circle cx="168" cy="264"/><circle cx="187" cy="271"/><circle cx="209" cy="285"/><circle cx="166" cy="292"/><circle cx="165" cy="306"/><circle cx="176" cy="319"/><circle cx="190" cy="326"/><circle cx="278" cy="346"/><circle cx="248" cy="352"/><circle cx="235" cy="358"/><circle cx="236" cy="365"/><circle cx="220" cy="377"/><circle cx="188" cy="383"/><circle cx="210" cy="394"/><circle cx="219" cy="400"/><circle cx="235" cy="405"/><circle cx="193" cy="415"/><circle cx="166" cy="420"/><circle cx="169" cy="429"/><circle cx="169" cy="437"/><circle cx="169" cy="441"/><circle cx="203" cy="447"/><circle cx="234" cy="450"/><circle cx="228" cy="453"/><circle cx="193" cy="459"/><circle cx="205" cy="461"/><circle cx="243" cy="462"/><circle cx="300" cy="463"/><circle cx="280" cy="463"/><circle cx="264" cy="463"/><circle cx="269" cy="461"/><circle cx="217" cy="459"/><circle cx="212" cy="458"/><circle cx="226" cy="456"/><circle cx="166" cy="449"/><circle cx="166" cy="446"/><circle cx="208" cy="443"/><circle cx="299" cy="428"/><circle cx="287" cy="423"/><circle cx="295" cy="414"/><circle cx="239" cy="409"/><circle cx="232" cy="382"/><circle cx="239" cy="376"/><circle cx="202" cy="370"/><circle cx="218" cy="364"/><circle cx="194" cy="357"/><circle cx="164" cy="345"/><circle cx="169" cy="338"/><circle cx="164" cy="325"/><circle cx="165" cy="312"/><circle cx="168" cy="277"/><circle cx="267" cy="264"/><circle cx="214" cy="243"/><circle cx="237" cy="223"/><circle cx="221" cy="209"/><circle cx="252" cy="184"/><circle cx="258" cy="178"/><circle cx="260" cy="172"/><circle cx="267" cy="166"/><circle cx="297" cy="150"/><circle cx="274" cy="145"/><circle cx="259" cy="140"/><circle cx="250" cy="136"/><circle cx="535" cy="132"/><circle cx="272" cy="121"/><circle cx="251" cy="118"/><circle cx="247" cy="117"/><circle cx="278" cy="117"/><circle cx="217" cy="117"/><circle cx="235" cy="119"/><circle cx="353" cy="123"/><circle cx="292" cy="133"/><circle cx="243" cy="146"/><circle cx="241" cy="151"/><circle cx="139" cy="151"/><circle cx="250" cy="161"/><circle cx="226" cy="167"/><circle cx="250" cy="173"/><circle cx="249" cy="179"/><circle cx="271" cy="191"/><circle cx="231" cy="198"/><circle cx="230" cy="204"/><circle cx="231" cy="217"/><circle cx="267" cy="231"/><circle cx="294" cy="245"/><circle cx="292" cy="251"/><circle cx="190" cy="293"/><circle cx="168" cy="300"/><circle cx="169" cy="314"/><circle cx="168" cy="327"/><circle cx="184" cy="353"/><circle cx="167" cy="366"/><circle cx="210" cy="372"/><circle cx="257" cy="378"/><circle cx="274" cy="390"/><circle cx="313" cy="395"/><circle cx="270" cy="406"/><circle cx="235" cy="416"/><circle cx="260" cy="421"/><circle cx="158" cy="434"/><circle cx="198" cy="446"/><circle cx="190" cy="449"/><circle cx="179" cy="454"/><circle cx="180" cy="457"/><circle cx="177" cy="459"/><circle cx="205" cy="462"/><circle cx="272" cy="465"/><circle cx="255" cy="464"/><circle cx="218" cy="462"/><circle cx="182" cy="459"/><circle cx="169" cy="457"/><circle cx="165" cy="455"/><circle cx="185" cy="450"/><circle cx="182" cy="447"/><circle cx="213" cy="444"/><circle cx="215" cy="441"/><circle cx="213" cy="437"/><circle cx="214" cy="420"/><circle cx="248" cy="415"/><circle cx="249" cy="400"/><circle cx="207" cy="394"/><circle cx="242" cy="388"/><circle cx="271" cy="383"/><circle cx="193" cy="371"/><circle cx="208" cy="352"/><circle cx="223" cy="346"/><circle cx="259" cy="339"/><circle cx="267" cy="333"/><circle cx="205" cy="326"/><circle cx="204" cy="319"/><circle cx="260" cy="299"/><circle cx="310" cy="292"/><circle cx="249" cy="264"/><circle cx="268" cy="251"/><circle cx="259" cy="244"/><circle cx="223" cy="230"/><circle cx="216" cy="223"/><circle cx="206" cy="217"/><circle cx="174" cy="204"/><circle cx="168" cy="197"/><circle cx="164" cy="185"/><circle cx="179" cy="178"/><circle cx="191" cy="167"/><circle cx="174" cy="161"/><circle cx="259" cy="151"/><circle cx="262" cy="146"/><circle cx="308" cy="137"/><circle cx="306" cy="133"/><circle cx="139" cy="133"/><circle cx="284" cy="127"/><circle cx="139" cy="119"/><circle cx="253" cy="118"/><circle cx="139" cy="118"/><circle cx="268" cy="118"/><circle cx="139" cy="118"/><circle cx="259" cy="121"/><circle cx="315" cy="122"/><circle cx="308" cy="128"/><circle cx="254" cy="131"/><circle cx="188" cy="138"/><circle cx="188" cy="143"/><circle cx="259" cy="157"/><circle cx="305" cy="168"/><circle cx="283" cy="174"/><circle cx="263" cy="180"/><circle cx="291" cy="186"/><circle cx="252" cy="192"/><circle cx="262" cy="199"/><circle cx="269" cy="205"/><circle cx="219" cy="212"/><circle cx="229" cy="225"/><circle cx="302" cy="232"/><circle cx="236" cy="266"/><circle cx="243" cy="273"/><circle cx="197" cy="287"/><circle cx="182" cy="294"/><circle cx="232" cy="308"/><circle cx="212" cy="315"/><circle cx="139" cy="328"/><circle cx="179" cy="335"/><circle cx="201" cy="341"/><circle cx="184" cy="348"/><circle cx="170" cy="354"/><circle cx="174" cy="367"/><circle cx="218" cy="397"/><circle cx="221" cy="402"/><circle cx="254" cy="407"/><circle cx="280" cy="422"/><circle cx="255" cy="431"/><circle cx="296" cy="440"/><circle cx="312" cy="447"/><circle cx="344" cy="453"/><circle cx="282" cy="462"/><circle cx="292" cy="463"/><circle cx="295" cy="464"/><circle cx="240" cy="465"/><circle cx="260" cy="466"/><circle cx="254" cy="466"/><circle cx="178" cy="462"/><circle cx="171" cy="460"/><circle cx="188" cy="457"/><circle cx="200" cy="454"/><circle cx="182" cy="449"/><circle cx="185" cy="445"/><circle cx="243" cy="442"/><circle cx="215" cy="438"/><circle cx="222" cy="434"/><circle cx="218" cy="426"/><circle cx="250" cy="411"/><circle cx="248" cy="401"/><circle cx="240" cy="389"/><circle cx="250" cy="366"/><circle cx="228" cy="359"/><circle cx="216" cy="353"/><circle cx="215" cy="340"/><circle cx="208" cy="333"/><circle cx="195" cy="327"/><circle cx="211" cy="313"/><circle cx="222" cy="307"/><circle cx="204" cy="300"/><circle cx="244" cy="286"/><circle cx="225" cy="272"/><circle cx="253" cy="258"/><circle cx="203" cy="245"/><circle cx="216" cy="224"/><circle cx="199" cy="211"/><circle cx="249" cy="198"/><circle cx="279" cy="192"/><circle cx="159" cy="179"/><circle cx="274" cy="174"/><circle cx="229" cy="168"/><circle cx="139" cy="162"/><circle cx="229" cy="152"/><circle cx="223" cy="143"/><circle cx="194" cy="138"/><circle cx="199" cy="131"/><circle cx="383" cy="128"/><circle cx="211" cy="125"/><circle cx="166" cy="122"/><circle cx="227" cy="120"/><circle cx="384" cy="119"/><circle cx="246" cy="121"/><circle cx="139" cy="122"/><circle cx="227" cy="124"/><circle cx="139" cy="126"/><circle cx="261" cy="129"/><circle cx="270" cy="132"/><circle cx="260" cy="136"/><circle cx="266" cy="144"/><circle cx="241" cy="148"/><circle cx="278" cy="153"/><circle cx="255" cy="158"/><circle cx="222" cy="164"/><circle cx="246" cy="169"/><circle cx="212" cy="175"/><circle cx="199" cy="181"/><circle cx="254" cy="193"/><circle cx="283" cy="200"/><circle cx="270" cy="206"/><circle cx="256" cy="213"/><circle cx="272" cy="220"/><circle cx="468" cy="226"/><circle cx="225" cy="240"/><circle cx="227" cy="247"/><circle cx="210" cy="254"/><circle cx="189" cy="267"/><circle cx="257" cy="281"/><circle cx="216" cy="288"/><circle cx="250" cy="295"/><circle cx="330" cy="302"/><circle cx="241" cy="322"/><circle cx="260" cy="329"/><circle cx="246" cy="349"/><circle cx="261" cy="355"/><circle cx="295" cy="386"/><circle cx="252" cy="398"/><circle cx="196" cy="419"/><circle cx="206" cy="424"/><circle cx="201" cy="433"/><circle cx="193" cy="437"/><circle cx="168" cy="445"/><circle cx="166" cy="454"/><circle cx="172" cy="467"/><circle cx="191" cy="467"/><circle cx="213" cy="467"/><circle cx="253" cy="466"/><circle cx="209" cy="463"/><circle cx="220" cy="462"/><circle cx="186" cy="455"/><circle cx="203" cy="450"/><circle cx="227" cy="443"/><circle cx="229" cy="435"/><circle cx="189" cy="431"/><circle cx="220" cy="427"/><circle cx="193" cy="417"/><circle cx="212" cy="412"/><circle cx="193" cy="407"/><circle cx="178" cy="396"/><circle cx="164" cy="385"/><circle cx="166" cy="373"/><circle cx="201" cy="347"/><circle cx="200" cy="341"/><circle cx="215" cy="328"/><circle cx="190" cy="314"/><circle cx="230" cy="307"/><circle cx="262" cy="294"/><circle cx="326" cy="280"/><circle cx="304" cy="273"/><circle cx="248" cy="266"/><circle cx="215" cy="259"/></g>
<g fill="#2ab07f" stroke="#2ab07f"><circle cx="276" cy="212"/><circle cx="269" cy="205"/><circle cx="238" cy="199"/><circle cx="280" cy="186"/><circle cx="323" cy="180"/><circle cx="329" cy="174"/><circle cx="311" cy="169"/><circle cx="337" cy="163"/><circle cx="291" cy="153"/><circle cx="294" cy="148"/><circle cx="311" cy="144"/><circle cx="278" cy="127"/><circle cx="279" cy="121"/><circle cx="278" cy="127"/><circle cx="160" cy="130"/><circle cx="139" cy="133"/><circle cx="291" cy="150"/><circle cx="262" cy="155"/><circle cx="251" cy="160"/><circle cx="266" cy="165"/><circle cx="165" cy="176"/><circle cx="219" cy="182"/><circle cx="183" cy="195"/><circle cx="191" cy="201"/><circle cx="166" cy="207"/><circle cx="165" cy="227"/><circle cx="180" cy="241"/><circle cx="182" cy="262"/><circle cx="374" cy="269"/><circle cx="175" cy="275"/><circle cx="178" cy="289"/><circle cx="220" cy="303"/><circle cx="237" cy="317"/><circle cx="264" cy="330"/><circle cx="236" cy="337"/><circle cx="273" cy="350"/><circle cx="257" cy="375"/><circle cx="298" cy="387"/><circle cx="139" cy="387"/><circle cx="297" cy="393"/><circle cx="268" cy="404"/><circle cx="192" cy="456"/><circle cx="215" cy="458"/><circle cx="210" cy="461"/><circle cx="249" cy="463"/><circle cx="243" cy="464"/><circle cx="224" cy="467"/><circle cx="200" cy="468"/><circle cx="256" cy="468"/><circle cx="239" cy="468"/><circle cx="234" cy="466"/><circle cx="245" cy="464"/><circle cx="248" cy="463"/><circle cx="220" cy="461"/><circle cx="283" cy="457"/><circle cx="201" cy="448"/><circle cx="190" cy="444"/><circle cx="202" cy="440"/><circle cx="241" cy="436"/><circle cx="292" cy="423"/><circle cx="317" cy="413"/><circle cx="250" cy="391"/><circle cx="234" cy="386"/><circle cx="222" cy="361"/><circle cx="167" cy="342"/><circle cx="198" cy="308"/><circle cx="217" cy="294"/><circle cx="235" cy="288"/><circle cx="219" cy="274"/><circle cx="169" cy="260"/><circle cx="166" cy="246"/><circle cx="175" cy="226"/><circle cx="197" cy="213"/><circle cx="174" cy="206"/><circle cx="174" cy="187"/><circle cx="166" cy="170"/><circle cx="164" cy="159"/><circle cx="169" cy="154"/><circle cx="233" cy="130"/><circle cx="232" cy="128"/><circle cx="188" cy="124"/><circle cx="169" cy="123"/><circle cx="166" cy="122"/><circle cx="201" cy="123"/><circle cx="196" cy="125"/><circle cx="194" cy="129"/><circle cx="245" cy="131"/><circle cx="231" cy="135"/><circle cx="264" cy="138"/><circle cx="240" cy="166"/><circle cx="274" cy="172"/><circle cx="252" cy="190"/><circle cx="139" cy="190"/><circle cx="301" cy="202"/><circle cx="314" cy="209"/><circle cx="153" cy="229"/><circle cx="315" cy="242"/><circle cx="296" cy="249"/><circle cx="270" cy="256"/><circle cx="283" cy="270"/><circle cx="313" cy="277"/><circle cx="274" cy="284"/><circle cx="288" cy="290"/><circle cx="287" cy="318"/><circle cx="267" cy="325"/><circle cx="249" cy="331"/><circle cx="194" cy="345"/><circle cx="230" cy="364"/><circle cx="206" cy="370"/><circle cx="184" cy="377"/><circle cx="214" cy="394"/><circle cx="275" cy="400"/><circle cx="253" cy="411"/><circle cx="199" cy="421"/><circle cx="212" cy="426"/><circle cx="235" cy="431"/><circle cx="218" cy="435"/><circle cx="227" cy="440"/><circle cx="215" cy="447"/><circle cx="203" cy="469"/><circle cx="223" cy="470"/><circle cx="194" cy="469"/><circle cx="245" cy="466"/><circle cx="210" cy="455"/><circle cx="267" cy="449"/><circle cx="219" cy="442"/><circle cx="208" cy="438"/><circle cx="209" cy="433"/><circle cx="218" cy="398"/><circle cx="214" cy="374"/><circle cx="256" cy="368"/><circle cx="251" cy="362"/><circle cx="302" cy="336"/><circle cx="301" cy="329"/><circle cx="296" cy="323"/><circle cx="309" cy="309"/><circle cx="319" cy="302"/><circle cx="244" cy="288"/><circle cx="235" cy="268"/><circle cx="171" cy="247"/><circle cx="200" cy="234"/><circle cx="223" cy="227"/><circle cx="207" cy="207"/><circle cx="194" cy="188"/><circle cx="202" cy="182"/><circle cx="192" cy="171"/><circle cx="139" cy="171"/><circle cx="208" cy="165"/><circle cx="203" cy="160"/><circle cx="165" cy="150"/><circle cx="212" cy="146"/><circle cx="209" cy="135"/><circle cx="171" cy="132"/><circle cx="200" cy="129"/><circle cx="194" cy="125"/><circle cx="196" cy="124"/><circle cx="200" cy="125"/><circle cx="229" cy="128"/><circle cx="139" cy="130"/><circle cx="209" cy="133"/><circle cx="229" cy="136"/><circle cx="262" cy="140"/><circle cx="139" cy="140"/><circle cx="183" cy="179"/><circle cx="171" cy="185"/><circle cx="164" cy="197"/><circle cx="223" cy="210"/><circle cx="242" cy="243"/><circle cx="225" cy="250"/><circle cx="296" cy="264"/><circle cx="290" cy="278"/><circle cx="304" cy="285"/><circle cx="240" cy="305"/><circle cx="235" cy="312"/><circle cx="294" cy="339"/><circle cx="310" cy="346"/><circle cx="302" cy="352"/><circle cx="288" cy="359"/><circle cx="302" cy="365"/><circle cx="277" cy="372"/><circle cx="281" cy="378"/><circle cx="237" cy="384"/><circle cx="237" cy="390"/><circle cx="234" cy="401"/><circle cx="224" cy="423"/><circle cx="224" cy="445"/><circle cx="175" cy="455"/><circle cx="171" cy="461"/><circle cx="170" cy="469"/><circle cx="169" cy="470"/><circle cx="165" cy="456"/><circle cx="174" cy="453"/><circle cx="188" cy="446"/><circle cx="183" cy="439"/><circle cx="177" cy="434"/><circle cx="202" cy="415"/><circle cx="186" cy="410"/><circle cx="168" cy="405"/><circle cx="168" cy="387"/><circle cx="166" cy="375"/><circle cx="264" cy="350"/><circle cx="256" cy="337"/><circle cx="284" cy="330"/><circle cx="292" cy="323"/><circle cx="307" cy="317"/><circle cx="348" cy="303"/><circle cx="285" cy="289"/><circle cx="255" cy="275"/><circle cx="235" cy="269"/><circle cx="236" cy="255"/><circle cx="306" cy="228"/><circle cx="342" cy="221"/><circle cx="294" cy="214"/><circle cx="287" cy="202"/><circle cx="294" cy="195"/><circle cx="289" cy="177"/><circle cx="307" cy="172"/><circle cx="256" cy="161"/><circle cx="268" cy="156"/><circle cx="270" cy="143"/><circle cx="282" cy="136"/><circle cx="238" cy="128"/><circle cx="235" cy="126"/><circle cx="219" cy="125"/><circle cx="185" cy="125"/><circle cx="139" cy="125"/><circle cx="326" cy="126"/><circle cx="256" cy="127"/><circle cx="256" cy="129"/><circle cx="215" cy="149"/><circle cx="202" cy="154"/><circle cx="238" cy="163"/><circle cx="209" cy="174"/><circle cx="255" cy="180"/><circle cx="256" cy="186"/><circle cx="160" cy="198"/><circle cx="159" cy="231"/><circle cx="223" cy="244"/><circle cx="229" cy="258"/><circle cx="243" cy="272"/><circle cx="184" cy="286"/><circle cx="189" cy="293"/><circle cx="219" cy="300"/><circle cx="204" cy="327"/><circle cx="413" cy="340"/><circle cx="168" cy="347"/><circle cx="191" cy="354"/><circle cx="205" cy="360"/><circle cx="174" cy="367"/><circle cx="165" cy="379"/><circle cx="165" cy="385"/><circle cx="169" cy="391"/><circle cx="216" cy="424"/><circle cx="185" cy="433"/><circle cx="164" cy="446"/><circle cx="168" cy="453"/><circle cx="166" cy="472"/><circle cx="181" cy="472"/><circle cx="169" cy="472"/><circle cx="197" cy="465"/><circle cx="234" cy="460"/><circle cx="232" cy="455"/><circle cx="251" cy="451"/><circle cx="220" cy="448"/><circle cx="247" cy="444"/><circle cx="265" cy="440"/><circle cx="294" cy="431"/><circle cx="275" cy="416"/><circle cx="280" cy="400"/><circle cx="282" cy="382"/><circle cx="274" cy="370"/><circle cx="294" cy="364"/><circle cx="294" cy="351"/><circle cx="257" cy="344"/><circle cx="226" cy="331"/><circle cx="276" cy="311"/><circle cx="261" cy="304"/><circle cx="246" cy="297"/><circle cx="224" cy="283"/><circle cx="210" cy="262"/></g>
<g fill="#2fb47c" stroke="#2fb47c"><circle cx="236" cy="209"/><circle cx="235" cy="203"/><circle cx="215" cy="190"/><circle cx="232" cy="178"/><circle cx="229" cy="173"/><circle cx="177" cy="167"/><circle cx="184" cy="153"/><circle cx="166" cy="144"/><circle cx="168" cy="140"/><circle cx="167" cy="137"/><circle cx="169" cy="132"/><circle cx="166" cy="128"/><circle cx="199" cy="127"/><circle cx="164" cy="126"/><circle cx="167" cy="131"/><circle cx="252" cy="142"/><circle cx="226" cy="150"/><circle cx="248" cy="160"/><circle cx="310" cy="165"/><circle cx="341" cy="176"/><circle cx="344" cy="187"/><circle cx="342" cy="193"/><circle cx="221" cy="225"/><circle cx="226" cy="232"/><circle cx="246" cy="273"/><circle cx="227" cy="280"/><circle cx="221" cy="287"/><circle cx="291" cy="301"/><circle cx="267" cy="308"/><circle cx="287" cy="315"/><circle cx="345" cy="321"/><circle cx="316" cy="328"/><circle cx="226" cy="355"/><circle cx="220" cy="361"/><circle cx="166" cy="386"/><circle cx="195" cy="410"/><circle cx="220" cy="420"/><circle cx="191" cy="430"/><circle cx="189" cy="435"/><circle cx="252" cy="464"/><circle cx="320" cy="471"/><circle cx="302" cy="473"/><circle cx="284" cy="474"/><circle cx="293" cy="474"/><circle cx="299" cy="471"/><circle cx="327" cy="470"/><circle cx="306" cy="464"/><circle cx="283" cy="456"/><circle cx="266" cy="449"/><circle cx="273" cy="417"/><circle cx="257" cy="407"/><circle cx="260" cy="401"/><circle cx="255" cy="389"/><circle cx="139" cy="389"/><circle cx="230" cy="383"/><circle cx="252" cy="371"/><circle cx="139" cy="371"/><circle cx="233" cy="352"/><circle cx="216" cy="332"/><circle cx="202" cy="312"/><circle cx="253" cy="305"/><circle cx="251" cy="298"/><circle cx="261" cy="291"/><circle cx="273" cy="284"/><circle cx="248" cy="270"/><circle cx="172" cy="223"/><circle cx="222" cy="216"/><circle cx="240" cy="210"/><circle cx="468" cy="191"/><circle cx="198" cy="158"/><circle cx="139" cy="158"/><circle cx="231" cy="154"/><circle cx="159" cy="149"/><circle cx="199" cy="145"/><circle cx="240" cy="135"/><circle cx="290" cy="133"/><circle cx="139" cy="131"/><circle cx="324" cy="129"/><circle cx="300" cy="128"/><circle cx="289" cy="128"/><circle cx="254" cy="130"/><circle cx="303" cy="132"/><circle cx="300" cy="134"/><circle cx="283" cy="137"/><circle cx="234" cy="140"/><circle cx="207" cy="144"/><circle cx="211" cy="147"/><circle cx="180" cy="156"/><circle cx="168" cy="171"/><circle cx="166" cy="183"/><circle cx="168" cy="195"/><circle cx="164" cy="201"/><circle cx="176" cy="207"/><circle cx="139" cy="213"/><circle cx="176" cy="254"/><circle cx="167" cy="274"/><circle cx="169" cy="281"/><circle cx="206" cy="295"/><circle cx="168" cy="302"/><circle cx="179" cy="316"/><circle cx="197" cy="323"/><circle cx="207" cy="329"/><circle cx="191" cy="356"/><circle cx="166" cy="375"/><circle cx="165" cy="388"/><circle cx="190" cy="400"/><circle cx="230" cy="416"/><circle cx="215" cy="422"/><circle cx="247" cy="432"/><circle cx="239" cy="436"/><circle cx="246" cy="441"/><circle cx="220" cy="449"/><circle cx="281" cy="453"/><circle cx="246" cy="460"/><circle cx="276" cy="463"/><circle cx="297" cy="465"/><circle cx="275" cy="468"/><circle cx="310" cy="470"/><circle cx="332" cy="471"/><circle cx="246" cy="473"/><circle cx="266" cy="474"/><circle cx="249" cy="474"/><circle cx="286" cy="472"/><circle cx="305" cy="471"/><circle cx="293" cy="469"/><circle cx="351" cy="468"/><circle cx="344" cy="465"/><circle cx="232" cy="460"/><circle cx="240" cy="457"/><circle cx="259" cy="454"/><circle cx="248" cy="446"/><circle cx="225" cy="442"/><circle cx="203" cy="433"/><circle cx="249" cy="428"/><circle cx="255" cy="413"/><circle cx="280" cy="402"/><circle cx="347" cy="372"/><circle cx="314" cy="366"/><circle cx="273" cy="353"/><circle cx="256" cy="346"/><circle cx="254" cy="326"/><circle cx="228" cy="312"/><circle cx="252" cy="306"/><circle cx="267" cy="299"/><circle cx="261" cy="292"/><circle cx="294" cy="285"/><circle cx="275" cy="271"/><circle cx="303" cy="257"/><circle cx="298" cy="251"/><circle cx="301" cy="224"/><circle cx="272" cy="211"/><circle cx="248" cy="204"/><circle cx="258" cy="198"/><circle cx="262" cy="192"/><circle cx="243" cy="186"/><circle cx="225" cy="180"/><circle cx="139" cy="155"/><circle cx="225" cy="150"/><circle cx="224" cy="146"/><circle cx="202" cy="143"/><circle cx="246" cy="134"/><circle cx="237" cy="132"/><circle cx="267" cy="131"/><circle cx="304" cy="130"/><circle cx="280" cy="129"/><circle cx="245" cy="129"/><circle cx="208" cy="133"/><circle cx="225" cy="138"/><circle cx="202" cy="141"/><circle cx="209" cy="145"/><circle cx="207" cy="149"/><circle cx="139" cy="149"/><circle cx="169" cy="158"/><circle cx="166" cy="162"/><circle cx="139" cy="162"/><circle cx="166" cy="167"/><circle cx="212" cy="184"/><circle cx="212" cy="190"/><circle cx="139" cy="190"/><circle cx="214" cy="196"/><circle cx="219" cy="202"/><circle cx="289" cy="215"/><circle cx="291" cy="228"/><circle cx="262" cy="234"/><circle cx="266" cy="248"/><circle cx="271" cy="255"/><circle cx="269" cy="269"/><circle cx="279" cy="296"/><circle cx="262" cy="303"/><circle cx="301" cy="331"/><circle cx="324" cy="344"/><circle cx="273" cy="351"/><circle cx="286" cy="357"/><circle cx="255" cy="370"/><circle cx="244" cy="377"/><circle cx="282" cy="383"/><circle cx="222" cy="428"/><circle cx="221" cy="442"/><circle cx="247" cy="446"/><circle cx="240" cy="454"/><circle cx="320" cy="464"/><circle cx="311" cy="467"/><circle cx="226" cy="469"/><circle cx="227" cy="474"/><circle cx="202" cy="475"/><circle cx="264" cy="476"/><circle cx="281" cy="477"/><circle cx="338" cy="472"/><circle cx="309" cy="471"/><circle cx="296" cy="469"/><circle cx="286" cy="467"/><circle cx="256" cy="443"/><circle cx="280" cy="425"/><circle cx="287" cy="419"/><circle cx="340" cy="403"/><circle cx="279" cy="385"/><circle cx="303" cy="373"/><circle cx="291" cy="367"/><circle cx="267" cy="360"/><circle cx="231" cy="354"/><circle cx="265" cy="334"/><circle cx="220" cy="327"/><circle cx="242" cy="300"/><circle cx="282" cy="286"/><circle cx="283" cy="279"/><circle cx="267" cy="272"/><circle cx="176" cy="251"/><circle cx="164" cy="199"/><circle cx="197" cy="193"/><circle cx="212" cy="187"/><circle cx="170" cy="181"/><circle cx="253" cy="165"/><circle cx="236" cy="161"/><circle cx="236" cy="152"/><circle cx="182" cy="148"/><circle cx="168" cy="144"/><circle cx="243" cy="138"/><circle cx="217" cy="136"/><circle cx="189" cy="132"/><circle cx="234" cy="130"/><circle cx="208" cy="133"/><circle cx="190" cy="140"/><circle cx="170" cy="143"/><circle cx="173" cy="146"/><circle cx="233" cy="154"/><circle cx="302" cy="169"/><circle cx="322" cy="180"/><circle cx="291" cy="185"/><circle cx="303" cy="191"/><circle cx="316" cy="203"/><circle cx="304" cy="210"/><circle cx="308" cy="216"/><circle cx="285" cy="229"/><circle cx="151" cy="242"/><circle cx="261" cy="284"/><circle cx="287" cy="304"/><circle cx="260" cy="318"/><circle cx="262" cy="325"/><circle cx="265" cy="332"/><circle cx="255" cy="339"/><circle cx="211" cy="384"/><circle cx="209" cy="396"/><circle cx="268" cy="402"/><circle cx="256" cy="408"/><circle cx="255" cy="424"/><circle cx="256" cy="434"/><circle cx="243" cy="465"/><circle cx="247" cy="470"/><circle cx="296" cy="474"/><circle cx="254" cy="478"/><circle cx="181" cy="478"/><circle cx="211" cy="478"/><circle cx="180" cy="477"/><circle cx="174" cy="472"/><circle cx="196" cy="470"/><circle cx="176" cy="468"/><circle cx="201" cy="465"/><circle cx="218" cy="463"/><circle cx="249" cy="449"/><circle cx="245" cy="435"/><circle cx="243" cy="431"/><circle cx="261" cy="404"/><circle cx="285" cy="380"/><circle cx="291" cy="367"/><circle cx="139" cy="328"/><circle cx="263" cy="321"/><circle cx="338" cy="307"/><circle cx="336" cy="300"/></g>
<g fill="#35b779" stroke="#35b779"><circle cx="158" cy="273"/><circle cx="287" cy="239"/><circle cx="259" cy="232"/><circle cx="265" cy="219"/><circle cx="281" cy="182"/><circle cx="244" cy="167"/><circle cx="139" cy="167"/><circle cx="233" cy="157"/><circle cx="188" cy="145"/><circle cx="178" cy="142"/><circle cx="168" cy="137"/><circle cx="190" cy="135"/><circle cx="170" cy="132"/><circle cx="139" cy="132"/><circle cx="184" cy="132"/><circle cx="232" cy="132"/><circle cx="139" cy="132"/><circle cx="276" cy="132"/><circle cx="267" cy="134"/><circle cx="265" cy="139"/><circle cx="280" cy="141"/><circle cx="276" cy="152"/><circle cx="139" cy="160"/><circle cx="257" cy="181"/><circle cx="272" cy="187"/><circle cx="295" cy="211"/><circle cx="256" cy="224"/><circle cx="240" cy="264"/><circle cx="262" cy="278"/><circle cx="246" cy="320"/><circle cx="228" cy="326"/><circle cx="269" cy="333"/><circle cx="291" cy="353"/><circle cx="285" cy="366"/><circle cx="323" cy="373"/><circle cx="320" cy="379"/><circle cx="298" cy="385"/><circle cx="257" cy="392"/><circle cx="229" cy="398"/><circle cx="250" cy="415"/><circle cx="269" cy="420"/><circle cx="233" cy="426"/><circle cx="243" cy="431"/><circle cx="275" cy="440"/><circle cx="289" cy="449"/><circle cx="224" cy="457"/><circle cx="238" cy="461"/><circle cx="278" cy="464"/><circle cx="283" cy="467"/><circle cx="273" cy="472"/><circle cx="232" cy="474"/><circle cx="216" cy="478"/><circle cx="237" cy="479"/><circle cx="308" cy="479"/><circle cx="277" cy="475"/><circle cx="261" cy="472"/><circle cx="265" cy="467"/><circle cx="222" cy="457"/><circle cx="227" cy="446"/><circle cx="252" cy="437"/><circle cx="264" cy="432"/><circle cx="272" cy="427"/><circle cx="253" cy="422"/><circle cx="233" cy="416"/><circle cx="227" cy="405"/><circle cx="203" cy="387"/><circle cx="185" cy="381"/><circle cx="165" cy="368"/><circle cx="165" cy="362"/><circle cx="180" cy="349"/><circle cx="188" cy="342"/><circle cx="292" cy="322"/><circle cx="265" cy="315"/><circle cx="213" cy="281"/><circle cx="220" cy="274"/><circle cx="176" cy="260"/><circle cx="161" cy="253"/><circle cx="241" cy="233"/><circle cx="254" cy="214"/><circle cx="207" cy="207"/><circle cx="247" cy="201"/><circle cx="222" cy="184"/><circle cx="233" cy="178"/><circle cx="207" cy="154"/><circle cx="224" cy="147"/><circle cx="253" cy="141"/><circle cx="215" cy="133"/><circle cx="332" cy="136"/><circle cx="304" cy="138"/><circle cx="297" cy="146"/><circle cx="240" cy="153"/><circle cx="253" cy="157"/><circle cx="263" cy="162"/><circle cx="338" cy="167"/><circle cx="249" cy="177"/><circle cx="233" cy="188"/><circle cx="199" cy="194"/><circle cx="139" cy="194"/><circle cx="181" cy="206"/><circle cx="193" cy="225"/><circle cx="166" cy="232"/><circle cx="164" cy="238"/><circle cx="351" cy="252"/><circle cx="218" cy="259"/><circle cx="151" cy="265"/><circle cx="223" cy="272"/><circle cx="243" cy="279"/><circle cx="233" cy="300"/><circle cx="265" cy="328"/><circle cx="189" cy="341"/><circle cx="204" cy="348"/><circle cx="139" cy="405"/><circle cx="271" cy="416"/><circle cx="206" cy="442"/><circle cx="272" cy="451"/><circle cx="226" cy="455"/><circle cx="213" cy="465"/><circle cx="231" cy="471"/><circle cx="218" cy="475"/><circle cx="217" cy="481"/><circle cx="166" cy="481"/><circle cx="215" cy="480"/><circle cx="181" cy="476"/><circle cx="177" cy="465"/><circle cx="191" cy="459"/><circle cx="245" cy="442"/><circle cx="267" cy="428"/><circle cx="180" cy="412"/><circle cx="253" cy="369"/><circle cx="273" cy="343"/><circle cx="297" cy="336"/><circle cx="248" cy="323"/><circle cx="273" cy="302"/><circle cx="265" cy="295"/><circle cx="223" cy="275"/><circle cx="333" cy="214"/><circle cx="245" cy="196"/><circle cx="279" cy="190"/><circle cx="311" cy="174"/><circle cx="296" cy="164"/><circle cx="261" cy="159"/><circle cx="231" cy="151"/><circle cx="253" cy="138"/><circle cx="232" cy="135"/><circle cx="226" cy="135"/><circle cx="248" cy="135"/><circle cx="257" cy="137"/><circle cx="286" cy="141"/><circle cx="296" cy="144"/><circle cx="304" cy="147"/><circle cx="298" cy="155"/><circle cx="285" cy="159"/><circle cx="256" cy="163"/><circle cx="252" cy="168"/><circle cx="251" cy="173"/><circle cx="262" cy="178"/><circle cx="250" cy="207"/><circle cx="246" cy="214"/><circle cx="139" cy="233"/><circle cx="251" cy="246"/><circle cx="231" cy="253"/><circle cx="213" cy="267"/><circle cx="182" cy="281"/><circle cx="164" cy="287"/><circle cx="206" cy="308"/><circle cx="225" cy="315"/><circle cx="220" cy="336"/><circle cx="188" cy="343"/><circle cx="245" cy="369"/><circle cx="252" cy="376"/><circle cx="270" cy="382"/><circle cx="263" cy="388"/><circle cx="286" cy="394"/><circle cx="276" cy="400"/><circle cx="275" cy="406"/><circle cx="283" cy="412"/><circle cx="238" cy="423"/><circle cx="287" cy="434"/><circle cx="273" cy="438"/><circle cx="263" cy="443"/><circle cx="300" cy="448"/><circle cx="260" cy="452"/><circle cx="329" cy="464"/><circle cx="312" cy="467"/><circle cx="281" cy="470"/><circle cx="317" cy="472"/><circle cx="318" cy="475"/><circle cx="288" cy="479"/><circle cx="272" cy="480"/><circle cx="263" cy="482"/><circle cx="270" cy="482"/><circle cx="249" cy="478"/><circle cx="271" cy="474"/><circle cx="332" cy="463"/><circle cx="319" cy="460"/><circle cx="312" cy="452"/><circle cx="266" cy="444"/><circle cx="230" cy="439"/><circle cx="246" cy="424"/><circle cx="223" cy="413"/><circle cx="243" cy="395"/><circle cx="213" cy="389"/><circle cx="190" cy="383"/><circle cx="198" cy="377"/><circle cx="242" cy="364"/><circle cx="283" cy="337"/><circle cx="240" cy="324"/><circle cx="251" cy="303"/><circle cx="258" cy="255"/><circle cx="224" cy="248"/><circle cx="217" cy="241"/><circle cx="228" cy="228"/><circle cx="239" cy="222"/><circle cx="387" cy="203"/><circle cx="222" cy="197"/><circle cx="202" cy="175"/><circle cx="223" cy="165"/><circle cx="233" cy="161"/><circle cx="204" cy="156"/><circle cx="238" cy="153"/><circle cx="202" cy="149"/><circle cx="213" cy="136"/><circle cx="204" cy="137"/><circle cx="201" cy="137"/><circle cx="221" cy="143"/><circle cx="275" cy="146"/><circle cx="222" cy="156"/><circle cx="223" cy="174"/><circle cx="297" cy="185"/><circle cx="305" cy="191"/><circle cx="259" cy="196"/><circle cx="284" cy="202"/><circle cx="509" cy="215"/><circle cx="234" cy="221"/><circle cx="243" cy="228"/><circle cx="179" cy="241"/><circle cx="175" cy="248"/><circle cx="195" cy="268"/><circle cx="166" cy="275"/><circle cx="166" cy="282"/><circle cx="198" cy="296"/><circle cx="166" cy="310"/><circle cx="181" cy="337"/><circle cx="192" cy="377"/><circle cx="191" cy="383"/><circle cx="181" cy="396"/><circle cx="166" cy="402"/><circle cx="168" cy="430"/><circle cx="166" cy="435"/><circle cx="208" cy="449"/><circle cx="207" cy="454"/><circle cx="190" cy="465"/><circle cx="173" cy="471"/><circle cx="214" cy="484"/><circle cx="188" cy="484"/><circle cx="188" cy="478"/><circle cx="193" cy="471"/><circle cx="235" cy="468"/><circle cx="227" cy="461"/><circle cx="215" cy="457"/><circle cx="201" cy="453"/><circle cx="248" cy="440"/><circle cx="221" cy="435"/><circle cx="215" cy="430"/><circle cx="214" cy="414"/><circle cx="234" cy="408"/><circle cx="177" cy="384"/><circle cx="206" cy="365"/><circle cx="288" cy="358"/><circle cx="309" cy="352"/><circle cx="298" cy="345"/><circle cx="263" cy="331"/></g>
<g fill="#3bbb75" stroke="#3bbb75"><circle cx="258" cy="311"/><circle cx="253" cy="304"/><circle cx="272" cy="297"/><circle cx="207" cy="283"/><circle cx="261" cy="276"/><circle cx="217" cy="269"/><circle cx="238" cy="263"/><circle cx="263" cy="256"/><circle cx="483" cy="249"/><circle cx="275" cy="236"/><circle cx="270" cy="223"/><circle cx="164" cy="181"/><circle cx="168" cy="158"/><circle cx="164" cy="150"/><circle cx="180" cy="145"/><circle cx="185" cy="142"/><circle cx="178" cy="140"/><circle cx="180" cy="139"/><circle cx="213" cy="138"/><circle cx="265" cy="138"/><circle cx="273" cy="140"/><circle cx="280" cy="142"/><circle cx="242" cy="144"/><circle cx="246" cy="147"/><circle cx="233" cy="150"/><circle cx="292" cy="154"/><circle cx="257" cy="158"/><circle cx="302" cy="171"/><circle cx="398" cy="186"/><circle cx="397" cy="204"/><circle cx="309" cy="216"/><circle cx="267" cy="223"/><circle cx="259" cy="229"/><circle cx="279" cy="256"/><circle cx="259" cy="269"/><circle cx="275" cy="276"/><circle cx="284" cy="297"/><circle cx="242" cy="318"/><circle cx="222" cy="325"/><circle cx="178" cy="345"/><circle cx="165" cy="359"/><circle cx="182" cy="391"/><circle cx="164" cy="397"/><circle cx="190" cy="403"/><circle cx="197" cy="415"/><circle cx="203" cy="451"/><circle cx="255" cy="475"/><circle cx="228" cy="478"/><circle cx="187" cy="480"/><circle cx="165" cy="484"/><circle cx="194" cy="485"/><circle cx="198" cy="484"/><circle cx="232" cy="482"/><circle cx="169" cy="479"/><circle cx="180" cy="472"/><circle cx="187" cy="466"/><circle cx="217" cy="462"/><circle cx="253" cy="455"/><circle cx="218" cy="436"/><circle cx="202" cy="421"/><circle cx="224" cy="415"/><circle cx="236" cy="397"/><circle cx="247" cy="391"/><circle cx="242" cy="379"/><circle cx="230" cy="372"/><circle cx="249" cy="366"/><circle cx="216" cy="359"/><circle cx="252" cy="352"/><circle cx="212" cy="346"/><circle cx="196" cy="325"/><circle cx="175" cy="312"/><circle cx="179" cy="298"/><circle cx="262" cy="257"/><circle cx="298" cy="237"/><circle cx="225" cy="217"/><circle cx="167" cy="199"/><circle cx="168" cy="193"/><circle cx="192" cy="188"/><circle cx="167" cy="159"/><circle cx="169" cy="155"/><circle cx="168" cy="152"/><circle cx="210" cy="149"/><circle cx="262" cy="140"/><circle cx="227" cy="139"/><circle cx="288" cy="139"/><circle cx="232" cy="139"/><circle cx="229" cy="140"/><circle cx="169" cy="146"/><circle cx="167" cy="155"/><circle cx="179" cy="168"/><circle cx="217" cy="172"/><circle cx="352" cy="193"/><circle cx="217" cy="218"/><circle cx="232" cy="237"/><circle cx="186" cy="244"/><circle cx="183" cy="264"/><circle cx="247" cy="278"/><circle cx="304" cy="326"/><circle cx="139" cy="333"/><circle cx="280" cy="346"/><circle cx="310" cy="373"/><circle cx="326" cy="380"/><circle cx="301" cy="386"/><circle cx="315" cy="398"/><circle cx="273" cy="404"/><circle cx="271" cy="422"/><circle cx="233" cy="433"/><circle cx="296" cy="438"/><circle cx="279" cy="443"/><circle cx="250" cy="464"/><circle cx="202" cy="471"/><circle cx="167" cy="477"/><circle cx="194" cy="479"/><circle cx="183" cy="486"/><circle cx="221" cy="483"/><circle cx="203" cy="480"/><circle cx="224" cy="476"/><circle cx="226" cy="467"/><circle cx="177" cy="460"/><circle cx="228" cy="447"/><circle cx="194" cy="437"/><circle cx="183" cy="432"/><circle cx="172" cy="422"/><circle cx="198" cy="416"/><circle cx="240" cy="398"/><circle cx="306" cy="386"/><circle cx="241" cy="360"/><circle cx="139" cy="360"/><circle cx="241" cy="347"/><circle cx="278" cy="326"/><circle cx="270" cy="319"/><circle cx="297" cy="313"/><circle cx="273" cy="306"/><circle cx="264" cy="299"/><circle cx="289" cy="285"/><circle cx="261" cy="271"/><circle cx="223" cy="264"/><circle cx="193" cy="244"/><circle cx="213" cy="231"/><circle cx="247" cy="218"/><circle cx="272" cy="206"/><circle cx="257" cy="200"/><circle cx="257" cy="178"/><circle cx="221" cy="173"/><circle cx="197" cy="164"/><circle cx="234" cy="160"/><circle cx="242" cy="156"/><circle cx="303" cy="150"/><circle cx="255" cy="145"/><circle cx="139" cy="142"/><circle cx="274" cy="141"/><circle cx="294" cy="141"/><circle cx="318" cy="141"/><circle cx="276" cy="142"/><circle cx="222" cy="143"/><circle cx="173" cy="150"/><circle cx="201" cy="153"/><circle cx="168" cy="160"/><circle cx="166" cy="165"/><circle cx="261" cy="184"/><circle cx="288" cy="195"/><circle cx="269" cy="225"/><circle cx="239" cy="232"/><circle cx="251" cy="245"/><circle cx="273" cy="272"/><circle cx="236" cy="300"/><circle cx="238" cy="307"/><circle cx="198" cy="320"/><circle cx="185" cy="334"/><circle cx="168" cy="355"/><circle cx="170" cy="361"/><circle cx="180" cy="368"/><circle cx="243" cy="387"/><circle cx="235" cy="394"/><circle cx="265" cy="412"/><circle cx="251" cy="418"/><circle cx="287" cy="423"/><circle cx="275" cy="429"/><circle cx="266" cy="434"/><circle cx="242" cy="439"/><circle cx="193" cy="449"/><circle cx="258" cy="458"/><circle cx="214" cy="462"/><circle cx="203" cy="466"/><circle cx="215" cy="470"/><circle cx="211" cy="473"/><circle cx="184" cy="476"/><circle cx="199" cy="481"/><circle cx="170" cy="483"/><circle cx="185" cy="487"/><circle cx="213" cy="488"/><circle cx="315" cy="488"/><circle cx="288" cy="483"/><circle cx="291" cy="477"/><circle cx="351" cy="475"/><circle cx="322" cy="472"/><circle cx="278" cy="468"/><circle cx="289" cy="465"/><circle cx="287" cy="457"/><circle cx="246" cy="453"/><circle cx="266" cy="448"/><circle cx="209" cy="417"/><circle cx="206" cy="411"/><circle cx="169" cy="393"/><circle cx="166" cy="381"/><circle cx="168" cy="361"/><circle cx="165" cy="354"/><circle cx="166" cy="348"/><circle cx="193" cy="320"/><circle cx="235" cy="300"/><circle cx="190" cy="293"/><circle cx="180" cy="279"/><circle cx="207" cy="259"/><circle cx="230" cy="252"/><circle cx="252" cy="239"/><circle cx="263" cy="219"/><circle cx="251" cy="213"/><circle cx="271" cy="201"/><circle cx="139" cy="195"/><circle cx="293" cy="190"/><circle cx="282" cy="185"/><circle cx="231" cy="175"/><circle cx="249" cy="170"/><circle cx="207" cy="166"/><circle cx="189" cy="158"/><circle cx="139" cy="158"/><circle cx="200" cy="154"/><circle cx="346" cy="146"/><circle cx="319" cy="145"/><circle cx="139" cy="145"/><circle cx="282" cy="142"/><circle cx="285" cy="142"/><circle cx="341" cy="142"/><circle cx="139" cy="142"/><circle cx="325" cy="143"/><circle cx="139" cy="143"/><circle cx="196" cy="155"/><circle cx="237" cy="166"/><circle cx="259" cy="180"/><circle cx="309" cy="196"/><circle cx="274" cy="220"/><circle cx="270" cy="233"/><circle cx="260" cy="253"/><circle cx="261" cy="260"/><circle cx="252" cy="267"/><circle cx="206" cy="287"/><circle cx="301" cy="294"/><circle cx="278" cy="301"/><circle cx="221" cy="315"/><circle cx="198" cy="322"/><circle cx="211" cy="329"/><circle cx="224" cy="342"/><circle cx="244" cy="349"/><circle cx="271" cy="369"/><circle cx="276" cy="407"/><circle cx="194" cy="419"/><circle cx="177" cy="436"/><circle cx="257" cy="446"/><circle cx="179" cy="455"/><circle cx="200" cy="464"/><circle cx="167" cy="474"/><circle cx="197" cy="480"/><circle cx="177" cy="488"/><circle cx="182" cy="489"/><circle cx="168" cy="490"/><circle cx="215" cy="489"/><circle cx="272" cy="483"/><circle cx="225" cy="476"/><circle cx="210" cy="473"/><circle cx="234" cy="466"/><circle cx="226" cy="462"/><circle cx="190" cy="458"/><circle cx="211" cy="454"/><circle cx="198" cy="449"/><circle cx="189" cy="440"/><circle cx="169" cy="429"/><circle cx="227" cy="424"/><circle cx="226" cy="418"/><circle cx="251" cy="406"/><circle cx="232" cy="400"/><circle cx="197" cy="388"/><circle cx="168" cy="382"/><circle cx="171" cy="369"/><circle cx="208" cy="362"/><circle cx="251" cy="355"/><circle cx="211" cy="349"/></g>
<g fill="#42be71" stroke="#42be71"><circle cx="256" cy="328"/><circle cx="279" cy="294"/><circle cx="266" cy="287"/><circle cx="315" cy="280"/><circle cx="292" cy="273"/><circle cx="276" cy="259"/><circle cx="308" cy="253"/><circle cx="323" cy="240"/><circle cx="307" cy="214"/><circle cx="349" cy="208"/><circle cx="349" cy="202"/><circle cx="365" cy="197"/><circle cx="355" cy="186"/><circle cx="321" cy="181"/><circle cx="201" cy="163"/><circle cx="165" cy="159"/><circle cx="165" cy="150"/><circle cx="167" cy="148"/><circle cx="139" cy="145"/><circle cx="168" cy="144"/><circle cx="169" cy="143"/><circle cx="169" cy="144"/><circle cx="167" cy="144"/><circle cx="200" cy="145"/><circle cx="205" cy="148"/><circle cx="236" cy="151"/><circle cx="254" cy="153"/><circle cx="254" cy="156"/><circle cx="219" cy="160"/><circle cx="199" cy="164"/><circle cx="215" cy="168"/><circle cx="230" cy="172"/><circle cx="204" cy="177"/><circle cx="241" cy="182"/><circle cx="256" cy="192"/><circle cx="272" cy="209"/><circle cx="186" cy="216"/><circle cx="175" cy="222"/><circle cx="187" cy="235"/><circle cx="221" cy="261"/><circle cx="207" cy="268"/><circle cx="187" cy="282"/><circle cx="249" cy="288"/><circle cx="266" cy="309"/><circle cx="275" cy="323"/><circle cx="253" cy="337"/><circle cx="272" cy="357"/><circle cx="262" cy="403"/><circle cx="228" cy="432"/><circle cx="299" cy="461"/><circle cx="209" cy="482"/><circle cx="206" cy="484"/><circle cx="266" cy="486"/><circle cx="263" cy="488"/><circle cx="280" cy="489"/><circle cx="204" cy="490"/><circle cx="200" cy="488"/><circle cx="244" cy="483"/><circle cx="222" cy="480"/><circle cx="203" cy="474"/><circle cx="245" cy="451"/><circle cx="236" cy="441"/><circle cx="196" cy="401"/><circle cx="168" cy="382"/><circle cx="166" cy="376"/><circle cx="169" cy="369"/><circle cx="199" cy="343"/><circle cx="166" cy="315"/><circle cx="165" cy="301"/><circle cx="180" cy="295"/><circle cx="166" cy="267"/><circle cx="495" cy="254"/><circle cx="216" cy="247"/><circle cx="223" cy="240"/><circle cx="206" cy="234"/><circle cx="214" cy="215"/><circle cx="286" cy="209"/><circle cx="218" cy="203"/><circle cx="280" cy="172"/><circle cx="285" cy="168"/><circle cx="288" cy="157"/><circle cx="306" cy="154"/><circle cx="139" cy="151"/><circle cx="205" cy="148"/><circle cx="220" cy="146"/><circle cx="332" cy="145"/><circle cx="271" cy="146"/><circle cx="233" cy="148"/><circle cx="256" cy="152"/><circle cx="237" cy="158"/><circle cx="229" cy="174"/><circle cx="217" cy="188"/><circle cx="201" cy="194"/><circle cx="185" cy="199"/><circle cx="314" cy="217"/><circle cx="249" cy="223"/><circle cx="227" cy="236"/><circle cx="270" cy="283"/><circle cx="264" cy="290"/><circle cx="297" cy="297"/><circle cx="310" cy="311"/><circle cx="312" cy="318"/><circle cx="265" cy="331"/><circle cx="264" cy="365"/><circle cx="253" cy="372"/><circle cx="279" cy="379"/><circle cx="292" cy="392"/><circle cx="263" cy="398"/><circle cx="239" cy="404"/><circle cx="272" cy="416"/><circle cx="330" cy="439"/><circle cx="328" cy="444"/><circle cx="279" cy="449"/><circle cx="259" cy="458"/><circle cx="236" cy="463"/><circle cx="241" cy="467"/><circle cx="311" cy="488"/><circle cx="339" cy="492"/><circle cx="364" cy="493"/><circle cx="291" cy="492"/><circle cx="286" cy="489"/><circle cx="197" cy="484"/><circle cx="204" cy="481"/><circle cx="165" cy="476"/><circle cx="202" cy="469"/><circle cx="234" cy="437"/><circle cx="268" cy="426"/><circle cx="260" cy="414"/><circle cx="221" cy="402"/><circle cx="210" cy="390"/><circle cx="197" cy="383"/><circle cx="196" cy="377"/><circle cx="165" cy="337"/><circle cx="166" cy="330"/><circle cx="233" cy="302"/><circle cx="237" cy="295"/><circle cx="223" cy="289"/><circle cx="223" cy="275"/><circle cx="187" cy="261"/><circle cx="176" cy="241"/><circle cx="169" cy="229"/><circle cx="448" cy="222"/><circle cx="167" cy="216"/><circle cx="167" cy="204"/><circle cx="187" cy="193"/><circle cx="278" cy="183"/><circle cx="354" cy="174"/><circle cx="268" cy="158"/><circle cx="220" cy="151"/><circle cx="274" cy="149"/><circle cx="139" cy="148"/><circle cx="239" cy="147"/><circle cx="242" cy="147"/><circle cx="210" cy="147"/><circle cx="446" cy="154"/><circle cx="221" cy="156"/><circle cx="210" cy="159"/><circle cx="187" cy="163"/><circle cx="184" cy="167"/><circle cx="247" cy="175"/><circle cx="273" cy="180"/><circle cx="155" cy="185"/><circle cx="139" cy="195"/><circle cx="268" cy="201"/><circle cx="255" cy="206"/><circle cx="285" cy="212"/><circle cx="257" cy="244"/><circle cx="294" cy="250"/><circle cx="325" cy="264"/><circle cx="315" cy="271"/><circle cx="262" cy="277"/><circle cx="264" cy="291"/><circle cx="170" cy="319"/><circle cx="183" cy="340"/><circle cx="139" cy="347"/><circle cx="198" cy="367"/><circle cx="298" cy="399"/><circle cx="151" cy="406"/><circle cx="307" cy="418"/><circle cx="314" cy="423"/><circle cx="295" cy="429"/><circle cx="313" cy="435"/><circle cx="261" cy="440"/><circle cx="270" cy="450"/><circle cx="164" cy="460"/><circle cx="168" cy="464"/><circle cx="196" cy="476"/><circle cx="190" cy="479"/><circle cx="168" cy="487"/><circle cx="190" cy="489"/><circle cx="231" cy="493"/><circle cx="214" cy="494"/><circle cx="212" cy="494"/><circle cx="293" cy="493"/><circle cx="292" cy="487"/><circle cx="272" cy="485"/><circle cx="310" cy="483"/><circle cx="330" cy="477"/><circle cx="292" cy="474"/><circle cx="225" cy="462"/><circle cx="211" cy="453"/><circle cx="180" cy="448"/><circle cx="277" cy="415"/><circle cx="243" cy="409"/><circle cx="261" cy="397"/><circle cx="277" cy="378"/><circle cx="249" cy="371"/><circle cx="218" cy="351"/><circle cx="237" cy="345"/><circle cx="262" cy="338"/><circle cx="304" cy="331"/><circle cx="292" cy="324"/><circle cx="299" cy="317"/><circle cx="213" cy="242"/><circle cx="274" cy="236"/><circle cx="249" cy="230"/><circle cx="209" cy="217"/><circle cx="255" cy="205"/><circle cx="226" cy="200"/><circle cx="161" cy="189"/><circle cx="257" cy="184"/><circle cx="287" cy="179"/><circle cx="232" cy="163"/><circle cx="233" cy="160"/><circle cx="222" cy="154"/><circle cx="206" cy="150"/><circle cx="139" cy="149"/><circle cx="224" cy="148"/><circle cx="207" cy="149"/><circle cx="224" cy="151"/><circle cx="218" cy="155"/><circle cx="269" cy="158"/><circle cx="272" cy="161"/><circle cx="411" cy="164"/><circle cx="278" cy="191"/><circle cx="199" cy="214"/><circle cx="191" cy="220"/><circle cx="169" cy="226"/><circle cx="224" cy="265"/><circle cx="187" cy="286"/><circle cx="249" cy="293"/><circle cx="195" cy="306"/><circle cx="203" cy="320"/><circle cx="197" cy="341"/><circle cx="226" cy="355"/><circle cx="139" cy="362"/><circle cx="219" cy="375"/><circle cx="199" cy="381"/><circle cx="204" cy="388"/><circle cx="187" cy="394"/><circle cx="207" cy="401"/><circle cx="189" cy="407"/><circle cx="170" cy="413"/><circle cx="206" cy="425"/><circle cx="220" cy="431"/><circle cx="252" cy="447"/><circle cx="273" cy="452"/><circle cx="239" cy="457"/><circle cx="288" cy="466"/><circle cx="289" cy="470"/><circle cx="287" cy="474"/><circle cx="277" cy="477"/><circle cx="214" cy="486"/><circle cx="219" cy="491"/><circle cx="205" cy="496"/><circle cx="223" cy="496"/><circle cx="247" cy="495"/><circle cx="218" cy="487"/><circle cx="240" cy="481"/><circle cx="267" cy="478"/><circle cx="255" cy="475"/><circle cx="217" cy="467"/><circle cx="226" cy="463"/><circle cx="265" cy="459"/><circle cx="338" cy="428"/><circle cx="334" cy="422"/><circle cx="293" cy="417"/><circle cx="275" cy="404"/><circle cx="280" cy="398"/><circle cx="239" cy="385"/></g>
<g fill="#4ac16d" stroke="#4ac16d"><circle cx="327" cy="366"/><circle cx="308" cy="359"/><circle cx="302" cy="345"/><circle cx="308" cy="339"/><circle cx="332" cy="318"/><circle cx="407" cy="257"/><circle cx="410" cy="250"/><circle cx="363" cy="243"/><circle cx="262" cy="207"/><circle cx="269" cy="201"/><circle cx="346" cy="190"/><circle cx="426" cy="176"/><circle cx="384" cy="168"/><circle cx="355" cy="161"/><circle cx="288" cy="158"/><circle cx="244" cy="154"/><circle cx="240" cy="152"/><circle cx="352" cy="150"/><circle cx="324" cy="150"/><circle cx="261" cy="153"/><circle cx="139" cy="160"/><circle cx="290" cy="170"/><circle cx="337" cy="174"/><circle cx="324" cy="178"/><circle cx="278" cy="183"/><circle cx="260" cy="193"/><circle cx="250" cy="198"/><circle cx="139" cy="198"/><circle cx="313" cy="204"/><circle cx="341" cy="221"/><circle cx="327" cy="228"/><circle cx="359" cy="240"/><circle cx="335" cy="253"/><circle cx="358" cy="267"/><circle cx="324" cy="273"/><circle cx="342" cy="280"/><circle cx="337" cy="315"/><circle cx="343" cy="322"/><circle cx="205" cy="363"/><circle cx="235" cy="370"/><circle cx="167" cy="389"/><circle cx="169" cy="396"/><circle cx="168" cy="402"/><circle cx="181" cy="415"/><circle cx="169" cy="421"/><circle cx="165" cy="426"/><circle cx="170" cy="438"/><circle cx="214" cy="453"/><circle cx="277" cy="463"/><circle cx="231" cy="479"/><circle cx="238" cy="482"/><circle cx="211" cy="485"/><circle cx="189" cy="488"/><circle cx="204" cy="496"/><circle cx="193" cy="497"/><circle cx="212" cy="497"/><circle cx="182" cy="496"/><circle cx="204" cy="492"/><circle cx="204" cy="486"/><circle cx="211" cy="480"/><circle cx="284" cy="469"/><circle cx="210" cy="451"/><circle cx="220" cy="445"/><circle cx="187" cy="440"/><circle cx="164" cy="429"/><circle cx="177" cy="423"/><circle cx="212" cy="418"/><circle cx="189" cy="405"/><circle cx="194" cy="399"/><circle cx="203" cy="386"/><circle cx="194" cy="367"/><circle cx="167" cy="353"/><circle cx="139" cy="340"/><circle cx="275" cy="326"/><circle cx="221" cy="298"/><circle cx="242" cy="291"/><circle cx="188" cy="278"/><circle cx="207" cy="271"/><circle cx="290" cy="244"/><circle cx="202" cy="219"/><circle cx="254" cy="197"/><circle cx="242" cy="186"/><circle cx="294" cy="169"/><circle cx="254" cy="166"/><circle cx="213" cy="160"/><circle cx="168" cy="151"/><circle cx="241" cy="151"/><circle cx="232" cy="153"/><circle cx="247" cy="154"/><circle cx="320" cy="158"/><circle cx="139" cy="158"/><circle cx="262" cy="161"/><circle cx="281" cy="164"/><circle cx="233" cy="171"/><circle cx="220" cy="175"/><circle cx="290" cy="189"/><circle cx="281" cy="217"/><circle cx="164" cy="248"/><circle cx="190" cy="261"/><circle cx="164" cy="302"/><circle cx="260" cy="316"/><circle cx="253" cy="323"/><circle cx="259" cy="330"/><circle cx="370" cy="337"/><circle cx="239" cy="351"/><circle cx="237" cy="358"/><circle cx="222" cy="364"/><circle cx="218" cy="371"/><circle cx="267" cy="384"/><circle cx="271" cy="404"/><circle cx="172" cy="434"/><circle cx="254" cy="455"/><circle cx="201" cy="460"/><circle cx="241" cy="469"/><circle cx="250" cy="473"/><circle cx="256" cy="477"/><circle cx="276" cy="484"/><circle cx="252" cy="494"/><circle cx="225" cy="496"/><circle cx="239" cy="497"/><circle cx="191" cy="499"/><circle cx="188" cy="495"/><circle cx="233" cy="494"/><circle cx="244" cy="492"/><circle cx="258" cy="487"/><circle cx="243" cy="481"/><circle cx="262" cy="478"/><circle cx="356" cy="474"/><circle cx="269" cy="470"/><circle cx="283" cy="452"/><circle cx="266" cy="441"/><circle cx="285" cy="436"/><circle cx="314" cy="430"/><circle cx="286" cy="425"/><circle cx="341" cy="419"/><circle cx="312" cy="400"/><circle cx="290" cy="381"/><circle cx="257" cy="361"/><circle cx="209" cy="354"/><circle cx="212" cy="347"/><circle cx="326" cy="327"/><circle cx="274" cy="306"/><circle cx="254" cy="299"/><circle cx="338" cy="258"/><circle cx="279" cy="245"/><circle cx="272" cy="239"/><circle cx="167" cy="215"/><circle cx="168" cy="209"/><circle cx="177" cy="203"/><circle cx="213" cy="198"/><circle cx="242" cy="188"/><circle cx="319" cy="179"/><circle cx="344" cy="174"/><circle cx="295" cy="167"/><circle cx="276" cy="164"/><circle cx="272" cy="161"/><circle cx="192" cy="154"/><circle cx="218" cy="154"/><circle cx="272" cy="158"/><circle cx="241" cy="173"/><circle cx="220" cy="177"/><circle cx="235" cy="181"/><circle cx="213" cy="191"/><circle cx="229" cy="201"/><circle cx="139" cy="207"/><circle cx="191" cy="218"/><circle cx="168" cy="230"/><circle cx="196" cy="237"/><circle cx="188" cy="243"/><circle cx="209" cy="250"/><circle cx="240" cy="263"/><circle cx="348" cy="318"/><circle cx="309" cy="331"/><circle cx="333" cy="338"/><circle cx="273" cy="345"/><circle cx="261" cy="359"/><circle cx="235" cy="366"/><circle cx="190" cy="399"/><circle cx="174" cy="411"/><circle cx="367" cy="429"/><circle cx="232" cy="457"/><circle cx="261" cy="461"/><circle cx="319" cy="478"/><circle cx="353" cy="482"/><circle cx="324" cy="485"/><circle cx="340" cy="488"/><circle cx="334" cy="491"/><circle cx="333" cy="494"/><circle cx="347" cy="497"/><circle cx="337" cy="500"/><circle cx="302" cy="499"/><circle cx="299" cy="493"/><circle cx="284" cy="491"/><circle cx="272" cy="482"/><circle cx="283" cy="479"/><circle cx="257" cy="458"/><circle cx="257" cy="453"/><circle cx="282" cy="448"/><circle cx="327" cy="437"/><circle cx="278" cy="426"/><circle cx="263" cy="420"/><circle cx="200" cy="414"/><circle cx="164" cy="407"/><circle cx="170" cy="401"/><circle cx="193" cy="395"/><circle cx="155" cy="388"/><circle cx="166" cy="382"/><circle cx="214" cy="375"/><circle cx="215" cy="369"/><circle cx="205" cy="362"/><circle cx="178" cy="348"/><circle cx="244" cy="328"/><circle cx="223" cy="321"/><circle cx="354" cy="300"/><circle cx="262" cy="273"/><circle cx="238" cy="221"/><circle cx="188" cy="199"/><circle cx="201" cy="194"/><circle cx="242" cy="189"/><circle cx="170" cy="184"/><circle cx="262" cy="168"/><circle cx="232" cy="165"/><circle cx="238" cy="158"/><circle cx="260" cy="156"/><circle cx="252" cy="155"/><circle cx="183" cy="162"/><circle cx="309" cy="167"/><circle cx="298" cy="171"/><circle cx="253" cy="183"/><circle cx="249" cy="187"/><circle cx="215" cy="203"/><circle cx="217" cy="220"/><circle cx="236" cy="232"/><circle cx="302" cy="245"/><circle cx="286" cy="258"/><circle cx="336" cy="264"/><circle cx="339" cy="278"/><circle cx="276" cy="291"/><circle cx="317" cy="298"/><circle cx="325" cy="305"/><circle cx="324" cy="319"/><circle cx="335" cy="347"/><circle cx="269" cy="367"/><circle cx="306" cy="400"/><circle cx="303" cy="407"/><circle cx="314" cy="413"/><circle cx="267" cy="419"/><circle cx="234" cy="425"/><circle cx="234" cy="448"/><circle cx="183" cy="468"/><circle cx="176" cy="484"/><circle cx="214" cy="493"/><circle cx="222" cy="495"/><circle cx="241" cy="499"/><circle cx="310" cy="501"/><circle cx="323" cy="502"/><circle cx="361" cy="502"/><circle cx="329" cy="498"/><circle cx="315" cy="497"/><circle cx="277" cy="495"/><circle cx="318" cy="487"/><circle cx="329" cy="484"/><circle cx="338" cy="473"/><circle cx="272" cy="468"/><circle cx="274" cy="459"/><circle cx="239" cy="454"/><circle cx="168" cy="432"/><circle cx="173" cy="415"/></g>
<g fill="#52c569" stroke="#52c569"><circle cx="183" cy="389"/><circle cx="206" cy="369"/><circle cx="194" cy="363"/><circle cx="183" cy="335"/><circle cx="225" cy="308"/><circle cx="241" cy="301"/><circle cx="235" cy="294"/><circle cx="256" cy="280"/><circle cx="254" cy="254"/><circle cx="169" cy="241"/><circle cx="332" cy="195"/><circle cx="320" cy="190"/><circle cx="297" cy="181"/><circle cx="276" cy="177"/><circle cx="264" cy="167"/><circle cx="226" cy="164"/><circle cx="212" cy="159"/><circle cx="200" cy="157"/><circle cx="225" cy="159"/><circle cx="168" cy="163"/><circle cx="217" cy="172"/><circle cx="218" cy="194"/><circle cx="217" cy="204"/><circle cx="204" cy="210"/><circle cx="201" cy="215"/><circle cx="183" cy="221"/><circle cx="205" cy="227"/><circle cx="199" cy="246"/><circle cx="217" cy="272"/><circle cx="217" cy="279"/><circle cx="236" cy="293"/><circle cx="278" cy="307"/><circle cx="249" cy="314"/><circle cx="243" cy="327"/><circle cx="232" cy="334"/><circle cx="243" cy="341"/><circle cx="220" cy="348"/><circle cx="238" cy="369"/><circle cx="233" cy="375"/><circle cx="233" cy="402"/><circle cx="253" cy="408"/><circle cx="264" cy="421"/><circle cx="232" cy="432"/><circle cx="234" cy="438"/><circle cx="234" cy="444"/><circle cx="207" cy="455"/><circle cx="247" cy="460"/><circle cx="205" cy="469"/><circle cx="242" cy="478"/><circle cx="217" cy="482"/><circle cx="237" cy="489"/><circle cx="184" cy="499"/><circle cx="173" cy="502"/><circle cx="177" cy="503"/><circle cx="181" cy="504"/><circle cx="170" cy="502"/><circle cx="165" cy="498"/><circle cx="196" cy="482"/><circle cx="257" cy="465"/><circle cx="231" cy="460"/><circle cx="219" cy="455"/><circle cx="229" cy="445"/><circle cx="225" cy="439"/><circle cx="233" cy="434"/><circle cx="252" cy="428"/><circle cx="241" cy="422"/><circle cx="234" cy="410"/><circle cx="224" cy="403"/><circle cx="273" cy="384"/><circle cx="272" cy="377"/><circle cx="319" cy="370"/><circle cx="290" cy="329"/><circle cx="325" cy="309"/><circle cx="337" cy="302"/><circle cx="312" cy="295"/><circle cx="311" cy="275"/><circle cx="271" cy="255"/><circle cx="262" cy="248"/><circle cx="274" cy="230"/><circle cx="208" cy="224"/><circle cx="233" cy="182"/><circle cx="271" cy="171"/><circle cx="289" cy="163"/><circle cx="254" cy="159"/><circle cx="194" cy="158"/><circle cx="202" cy="157"/><circle cx="171" cy="158"/><circle cx="139" cy="159"/><circle cx="277" cy="161"/><circle cx="261" cy="174"/><circle cx="139" cy="178"/><circle cx="278" cy="182"/><circle cx="266" cy="191"/><circle cx="238" cy="195"/><circle cx="241" cy="211"/><circle cx="300" cy="217"/><circle cx="321" cy="223"/><circle cx="347" cy="229"/><circle cx="324" cy="254"/><circle cx="311" cy="261"/><circle cx="328" cy="267"/><circle cx="303" cy="274"/><circle cx="249" cy="281"/><circle cx="220" cy="287"/><circle cx="174" cy="294"/><circle cx="166" cy="301"/><circle cx="178" cy="308"/><circle cx="139" cy="329"/><circle cx="250" cy="343"/><circle cx="268" cy="384"/><circle cx="257" cy="390"/><circle cx="251" cy="410"/><circle cx="233" cy="422"/><circle cx="248" cy="466"/><circle cx="249" cy="475"/><circle cx="296" cy="493"/><circle cx="292" cy="496"/><circle cx="249" cy="501"/><circle cx="283" cy="502"/><circle cx="251" cy="504"/><circle cx="296" cy="505"/><circle cx="261" cy="505"/><circle cx="201" cy="493"/><circle cx="209" cy="479"/><circle cx="179" cy="471"/><circle cx="181" cy="466"/><circle cx="245" cy="451"/><circle cx="228" cy="435"/><circle cx="188" cy="423"/><circle cx="191" cy="385"/><circle cx="187" cy="378"/><circle cx="250" cy="365"/><circle cx="250" cy="358"/><circle cx="272" cy="351"/><circle cx="299" cy="344"/><circle cx="299" cy="337"/><circle cx="296" cy="323"/><circle cx="268" cy="317"/><circle cx="296" cy="310"/><circle cx="269" cy="303"/><circle cx="246" cy="289"/><circle cx="307" cy="269"/><circle cx="303" cy="262"/><circle cx="258" cy="219"/><circle cx="252" cy="213"/><circle cx="300" cy="208"/><circle cx="239" cy="202"/><circle cx="139" cy="197"/><circle cx="268" cy="193"/><circle cx="256" cy="188"/><circle cx="139" cy="180"/><circle cx="139" cy="176"/><circle cx="311" cy="172"/><circle cx="287" cy="169"/><circle cx="215" cy="164"/><circle cx="208" cy="162"/><circle cx="204" cy="161"/><circle cx="181" cy="160"/><circle cx="263" cy="159"/><circle cx="253" cy="160"/><circle cx="215" cy="162"/><circle cx="139" cy="164"/><circle cx="259" cy="167"/><circle cx="287" cy="169"/><circle cx="167" cy="179"/><circle cx="243" cy="188"/><circle cx="230" cy="192"/><circle cx="240" cy="219"/><circle cx="267" cy="224"/><circle cx="281" cy="230"/><circle cx="281" cy="236"/><circle cx="378" cy="269"/><circle cx="157" cy="282"/><circle cx="299" cy="289"/><circle cx="249" cy="296"/><circle cx="243" cy="310"/><circle cx="273" cy="344"/><circle cx="268" cy="351"/><circle cx="206" cy="378"/><circle cx="219" cy="385"/><circle cx="224" cy="392"/><circle cx="264" cy="405"/><circle cx="251" cy="436"/><circle cx="204" cy="447"/><circle cx="272" cy="468"/><circle cx="207" cy="477"/><circle cx="238" cy="481"/><circle cx="219" cy="485"/><circle cx="229" cy="492"/><circle cx="223" cy="498"/><circle cx="170" cy="500"/><circle cx="174" cy="502"/><circle cx="190" cy="505"/><circle cx="257" cy="507"/><circle cx="258" cy="506"/><circle cx="267" cy="505"/><circle cx="234" cy="503"/><circle cx="168" cy="499"/><circle cx="168" cy="484"/><circle cx="377" cy="472"/><circle cx="167" cy="418"/><circle cx="168" cy="412"/><circle cx="225" cy="399"/><circle cx="230" cy="392"/><circle cx="242" cy="386"/><circle cx="248" cy="379"/><circle cx="287" cy="366"/><circle cx="246" cy="359"/><circle cx="225" cy="352"/><circle cx="225" cy="338"/><circle cx="219" cy="317"/><circle cx="220" cy="304"/><circle cx="293" cy="290"/><circle cx="221" cy="257"/><circle cx="236" cy="209"/><circle cx="216" cy="199"/><circle cx="274" cy="189"/><circle cx="277" cy="185"/><circle cx="265" cy="181"/><circle cx="288" cy="177"/><circle cx="271" cy="171"/><circle cx="139" cy="164"/><circle cx="228" cy="162"/><circle cx="256" cy="161"/><circle cx="321" cy="161"/><circle cx="201" cy="164"/><circle cx="210" cy="171"/><circle cx="256" cy="177"/><circle cx="261" cy="181"/><circle cx="258" cy="185"/><circle cx="180" cy="204"/><circle cx="217" cy="209"/><circle cx="281" cy="226"/><circle cx="269" cy="232"/><circle cx="332" cy="244"/><circle cx="284" cy="251"/><circle cx="284" cy="257"/><circle cx="288" cy="264"/><circle cx="282" cy="284"/><circle cx="301" cy="297"/><circle cx="249" cy="311"/><circle cx="328" cy="332"/><circle cx="340" cy="339"/><circle cx="267" cy="366"/><circle cx="183" cy="380"/><circle cx="224" cy="393"/><circle cx="256" cy="413"/><circle cx="249" cy="437"/><circle cx="257" cy="449"/><circle cx="229" cy="464"/><circle cx="260" cy="469"/><circle cx="248" cy="483"/><circle cx="265" cy="487"/><circle cx="169" cy="504"/><circle cx="169" cy="507"/><circle cx="170" cy="508"/><circle cx="169" cy="501"/><circle cx="202" cy="496"/><circle cx="250" cy="486"/><circle cx="299" cy="482"/><circle cx="179" cy="431"/></g>
<g fill="#5ac864" stroke="#5ac864"><circle cx="185" cy="425"/><circle cx="237" cy="393"/><circle cx="196" cy="387"/><circle cx="212" cy="380"/><circle cx="239" cy="339"/><circle cx="173" cy="312"/><circle cx="177" cy="298"/><circle cx="166" cy="284"/><circle cx="204" cy="264"/><circle cx="224" cy="251"/><circle cx="418" cy="239"/><circle cx="245" cy="221"/><circle cx="268" cy="210"/><circle cx="272" cy="205"/><circle cx="296" cy="200"/><circle cx="319" cy="195"/><circle cx="324" cy="186"/><circle cx="139" cy="170"/><circle cx="362" cy="165"/><circle cx="339" cy="164"/><circle cx="339" cy="163"/><circle cx="139" cy="162"/><circle cx="268" cy="162"/><circle cx="247" cy="163"/><circle cx="260" cy="168"/><circle cx="280" cy="172"/><circle cx="272" cy="176"/><circle cx="260" cy="179"/><circle cx="219" cy="200"/><circle cx="235" cy="205"/><circle cx="204" cy="216"/><circle cx="177" cy="227"/><circle cx="171" cy="233"/><circle cx="165" cy="246"/><circle cx="164" cy="258"/><circle cx="182" cy="285"/><circle cx="214" cy="312"/><circle cx="205" cy="319"/><circle cx="170" cy="340"/><circle cx="164" cy="361"/><circle cx="207" cy="375"/><circle cx="224" cy="388"/><circle cx="195" cy="408"/><circle cx="169" cy="420"/><circle cx="169" cy="439"/><circle cx="223" cy="461"/><circle cx="245" cy="476"/><circle cx="248" cy="484"/><circle cx="173" cy="492"/><circle cx="164" cy="501"/><circle cx="276" cy="509"/><circle cx="238" cy="504"/><circle cx="217" cy="502"/><circle cx="212" cy="491"/><circle cx="218" cy="479"/><circle cx="303" cy="455"/><circle cx="251" cy="444"/><circle cx="256" cy="438"/><circle cx="299" cy="426"/><circle cx="399" cy="420"/><circle cx="264" cy="401"/><circle cx="284" cy="388"/><circle cx="304" cy="361"/><circle cx="293" cy="354"/><circle cx="326" cy="340"/><circle cx="169" cy="265"/><circle cx="167" cy="222"/><circle cx="218" cy="206"/><circle cx="272" cy="201"/><circle cx="139" cy="174"/><circle cx="286" cy="165"/><circle cx="139" cy="164"/><circle cx="411" cy="164"/><circle cx="367" cy="165"/><circle cx="356" cy="166"/><circle cx="352" cy="167"/><circle cx="306" cy="169"/><circle cx="285" cy="171"/><circle cx="238" cy="181"/><circle cx="256" cy="188"/><circle cx="256" cy="202"/><circle cx="252" cy="207"/><circle cx="260" cy="212"/><circle cx="259" cy="223"/><circle cx="266" cy="229"/><circle cx="274" cy="235"/><circle cx="246" cy="241"/><circle cx="266" cy="247"/><circle cx="199" cy="254"/><circle cx="165" cy="260"/><circle cx="348" cy="273"/><circle cx="202" cy="293"/><circle cx="251" cy="321"/><circle cx="347" cy="342"/><circle cx="326" cy="376"/><circle cx="305" cy="383"/><circle cx="292" cy="389"/><circle cx="351" cy="409"/><circle cx="151" cy="416"/><circle cx="227" cy="434"/><circle cx="226" cy="440"/><circle cx="391" cy="452"/><circle cx="165" cy="457"/><circle cx="229" cy="462"/><circle cx="254" cy="468"/><circle cx="252" cy="477"/><circle cx="233" cy="486"/><circle cx="268" cy="490"/><circle cx="337" cy="500"/><circle cx="228" cy="505"/><circle cx="196" cy="512"/><circle cx="241" cy="511"/><circle cx="183" cy="510"/><circle cx="226" cy="498"/><circle cx="260" cy="488"/><circle cx="276" cy="485"/><circle cx="281" cy="476"/><circle cx="281" cy="471"/><circle cx="263" cy="445"/><circle cx="250" cy="439"/><circle cx="199" cy="427"/><circle cx="168" cy="395"/><circle cx="169" cy="375"/><circle cx="166" cy="368"/><circle cx="169" cy="348"/><circle cx="252" cy="334"/><circle cx="258" cy="327"/><circle cx="258" cy="320"/><circle cx="139" cy="320"/><circle cx="302" cy="307"/><circle cx="320" cy="300"/><circle cx="336" cy="293"/><circle cx="213" cy="266"/><circle cx="215" cy="260"/><circle cx="279" cy="235"/><circle cx="364" cy="223"/><circle cx="374" cy="212"/><circle cx="335" cy="207"/><circle cx="277" cy="198"/><circle cx="139" cy="189"/><circle cx="433" cy="181"/><circle cx="385" cy="173"/><circle cx="377" cy="170"/><circle cx="380" cy="167"/><circle cx="342" cy="166"/><circle cx="319" cy="166"/><circle cx="287" cy="165"/><circle cx="238" cy="166"/><circle cx="219" cy="166"/><circle cx="203" cy="169"/><circle cx="298" cy="176"/><circle cx="139" cy="176"/><circle cx="406" cy="182"/><circle cx="420" cy="186"/><circle cx="363" cy="199"/><circle cx="377" cy="214"/><circle cx="282" cy="225"/><circle cx="258" cy="231"/><circle cx="280" cy="236"/><circle cx="356" cy="249"/><circle cx="314" cy="295"/><circle cx="242" cy="308"/><circle cx="255" cy="315"/><circle cx="242" cy="322"/><circle cx="232" cy="329"/><circle cx="262" cy="357"/><circle cx="224" cy="377"/><circle cx="245" cy="384"/><circle cx="300" cy="417"/><circle cx="280" cy="442"/><circle cx="279" cy="453"/><circle cx="251" cy="479"/><circle cx="261" cy="483"/><circle cx="234" cy="487"/><circle cx="237" cy="495"/><circle cx="208" cy="498"/><circle cx="217" cy="504"/><circle cx="224" cy="507"/><circle cx="236" cy="510"/><circle cx="221" cy="513"/><circle cx="252" cy="513"/><circle cx="423" cy="513"/><circle cx="231" cy="512"/><circle cx="208" cy="505"/><circle cx="205" cy="503"/><circle cx="233" cy="500"/><circle cx="224" cy="490"/><circle cx="216" cy="486"/><circle cx="217" cy="472"/><circle cx="232" cy="457"/><circle cx="210" cy="434"/><circle cx="255" cy="403"/><circle cx="262" cy="383"/><circle cx="263" cy="376"/><circle cx="225" cy="369"/><circle cx="189" cy="356"/><circle cx="167" cy="349"/><circle cx="139" cy="342"/><circle cx="170" cy="335"/><circle cx="230" cy="314"/><circle cx="231" cy="308"/><circle cx="263" cy="301"/><circle cx="251" cy="294"/><circle cx="213" cy="267"/><circle cx="168" cy="261"/><circle cx="244" cy="230"/><circle cx="251" cy="225"/><circle cx="166" cy="199"/><circle cx="199" cy="190"/><circle cx="213" cy="179"/><circle cx="139" cy="177"/><circle cx="266" cy="170"/><circle cx="139" cy="167"/><circle cx="342" cy="168"/><circle cx="371" cy="177"/><circle cx="422" cy="180"/><circle cx="383" cy="184"/><circle cx="304" cy="191"/><circle cx="180" cy="200"/><circle cx="246" cy="205"/><circle cx="226" cy="210"/><circle cx="257" cy="215"/><circle cx="222" cy="238"/><circle cx="360" cy="269"/><circle cx="284" cy="289"/><circle cx="307" cy="296"/><circle cx="578" cy="303"/><circle cx="241" cy="310"/><circle cx="139" cy="317"/><circle cx="296" cy="338"/><circle cx="294" cy="351"/><circle cx="139" cy="351"/><circle cx="276" cy="358"/><circle cx="246" cy="365"/><circle cx="377" cy="379"/><circle cx="236" cy="386"/><circle cx="238" cy="392"/><circle cx="221" cy="399"/><circle cx="279" cy="406"/><circle cx="319" cy="419"/><circle cx="196" cy="431"/><circle cx="235" cy="437"/><circle cx="274" cy="449"/><circle cx="207" cy="471"/><circle cx="244" cy="476"/><circle cx="283" cy="489"/><circle cx="284" cy="500"/><circle cx="214" cy="510"/><circle cx="286" cy="514"/><circle cx="269" cy="515"/><circle cx="273" cy="515"/><circle cx="230" cy="513"/><circle cx="168" cy="495"/><circle cx="165" cy="483"/><circle cx="181" cy="478"/><circle cx="160" cy="474"/><circle cx="168" cy="469"/></g>
<g fill="#63cb5f" stroke="#63cb5f"><circle cx="181" cy="453"/><circle cx="255" cy="429"/><circle cx="383" cy="417"/><circle cx="336" cy="410"/><circle cx="300" cy="404"/><circle cx="220" cy="384"/><circle cx="262" cy="364"/><circle cx="290" cy="357"/><circle cx="283" cy="350"/><circle cx="288" cy="343"/><circle cx="296" cy="336"/><circle cx="291" cy="329"/><circle cx="307" cy="322"/><circle cx="305" cy="315"/><circle cx="247" cy="308"/><circle cx="308" cy="302"/><circle cx="281" cy="288"/><circle cx="271" cy="275"/><circle cx="247" cy="237"/><circle cx="270" cy="226"/><circle cx="312" cy="215"/><circle cx="289" cy="205"/><circle cx="292" cy="200"/><circle cx="240" cy="181"/><circle cx="225" cy="173"/><circle cx="233" cy="172"/><circle cx="257" cy="169"/><circle cx="247" cy="169"/><circle cx="301" cy="169"/><circle cx="337" cy="170"/><circle cx="276" cy="171"/><circle cx="302" cy="174"/><circle cx="320" cy="182"/><circle cx="274" cy="185"/><circle cx="248" cy="202"/><circle cx="308" cy="212"/><circle cx="325" cy="217"/><circle cx="251" cy="228"/><circle cx="207" cy="240"/><circle cx="281" cy="252"/><circle cx="412" cy="258"/><circle cx="273" cy="264"/><circle cx="238" cy="284"/><circle cx="237" cy="325"/><circle cx="192" cy="332"/><circle cx="209" cy="346"/><circle cx="188" cy="380"/><circle cx="242" cy="394"/><circle cx="288" cy="401"/><circle cx="315" cy="407"/><circle cx="259" cy="420"/><circle cx="212" cy="433"/><circle cx="192" cy="439"/><circle cx="213" cy="445"/><circle cx="326" cy="451"/><circle cx="399" cy="456"/><circle cx="252" cy="462"/><circle cx="291" cy="467"/><circle cx="240" cy="477"/><circle cx="589" cy="491"/><circle cx="207" cy="502"/><circle cx="218" cy="505"/><circle cx="249" cy="508"/><circle cx="287" cy="515"/><circle cx="286" cy="516"/><circle cx="310" cy="516"/><circle cx="252" cy="516"/><circle cx="236" cy="515"/><circle cx="238" cy="512"/><circle cx="261" cy="510"/><circle cx="262" cy="508"/><circle cx="303" cy="503"/><circle cx="287" cy="500"/><circle cx="251" cy="492"/><circle cx="205" cy="484"/><circle cx="166" cy="475"/><circle cx="384" cy="465"/><circle cx="275" cy="454"/><circle cx="334" cy="448"/><circle cx="277" cy="430"/><circle cx="275" cy="424"/><circle cx="265" cy="418"/><circle cx="268" cy="411"/><circle cx="303" cy="385"/><circle cx="276" cy="371"/><circle cx="315" cy="365"/><circle cx="284" cy="358"/><circle cx="139" cy="351"/><circle cx="155" cy="344"/><circle cx="218" cy="330"/><circle cx="214" cy="309"/><circle cx="282" cy="296"/><circle cx="270" cy="276"/><circle cx="235" cy="263"/><circle cx="331" cy="211"/><circle cx="344" cy="206"/><circle cx="338" cy="201"/><circle cx="253" cy="186"/><circle cx="250" cy="179"/><circle cx="222" cy="177"/><circle cx="240" cy="175"/><circle cx="323" cy="172"/><circle cx="330" cy="171"/><circle cx="362" cy="170"/><circle cx="281" cy="170"/><circle cx="259" cy="171"/><circle cx="304" cy="171"/><circle cx="139" cy="172"/><circle cx="271" cy="181"/><circle cx="245" cy="184"/><circle cx="139" cy="191"/><circle cx="226" cy="213"/><circle cx="255" cy="218"/><circle cx="202" cy="229"/><circle cx="288" cy="235"/><circle cx="292" cy="253"/><circle cx="244" cy="260"/><circle cx="249" cy="266"/><circle cx="232" cy="273"/><circle cx="292" cy="306"/><circle cx="317" cy="334"/><circle cx="274" cy="341"/><circle cx="289" cy="347"/><circle cx="389" cy="354"/><circle cx="233" cy="382"/><circle cx="204" cy="402"/><circle cx="245" cy="415"/><circle cx="243" cy="422"/><circle cx="220" cy="428"/><circle cx="204" cy="434"/><circle cx="188" cy="440"/><circle cx="251" cy="446"/><circle cx="271" cy="452"/><circle cx="277" cy="458"/><circle cx="223" cy="469"/><circle cx="250" cy="474"/><circle cx="210" cy="479"/><circle cx="236" cy="484"/><circle cx="225" cy="488"/><circle cx="234" cy="492"/><circle cx="217" cy="503"/><circle cx="329" cy="509"/><circle cx="217" cy="514"/><circle cx="246" cy="517"/><circle cx="257" cy="518"/><circle cx="274" cy="517"/><circle cx="261" cy="516"/><circle cx="317" cy="513"/><circle cx="324" cy="509"/><circle cx="280" cy="507"/><circle cx="291" cy="504"/><circle cx="300" cy="498"/><circle cx="271" cy="486"/><circle cx="213" cy="466"/><circle cx="345" cy="461"/><circle cx="263" cy="455"/><circle cx="242" cy="449"/><circle cx="241" cy="444"/><circle cx="222" cy="438"/><circle cx="214" cy="431"/><circle cx="243" cy="425"/><circle cx="139" cy="425"/><circle cx="241" cy="412"/><circle cx="261" cy="406"/><circle cx="247" cy="372"/><circle cx="258" cy="365"/><circle cx="220" cy="352"/><circle cx="206" cy="345"/><circle cx="196" cy="331"/><circle cx="234" cy="310"/><circle cx="259" cy="304"/><circle cx="331" cy="297"/><circle cx="365" cy="290"/><circle cx="373" cy="283"/><circle cx="366" cy="264"/><circle cx="284" cy="251"/><circle cx="283" cy="239"/><circle cx="265" cy="234"/><circle cx="265" cy="228"/><circle cx="206" cy="212"/><circle cx="285" cy="194"/><circle cx="346" cy="190"/><circle cx="447" cy="181"/><circle cx="322" cy="175"/><circle cx="139" cy="173"/><circle cx="265" cy="172"/><circle cx="139" cy="172"/><circle cx="185" cy="173"/><circle cx="230" cy="176"/><circle cx="239" cy="177"/><circle cx="278" cy="196"/><circle cx="261" cy="201"/><circle cx="263" cy="205"/><circle cx="243" cy="210"/><circle cx="225" cy="215"/><circle cx="195" cy="231"/><circle cx="171" cy="243"/><circle cx="186" cy="249"/><circle cx="191" cy="281"/><circle cx="168" cy="301"/><circle cx="165" cy="308"/><circle cx="164" cy="314"/><circle cx="203" cy="328"/><circle cx="280" cy="349"/><circle cx="270" cy="363"/><circle cx="275" cy="383"/><circle cx="197" cy="397"/><circle cx="229" cy="410"/><circle cx="328" cy="417"/><circle cx="253" cy="448"/><circle cx="222" cy="454"/><circle cx="305" cy="476"/><circle cx="237" cy="494"/><circle cx="235" cy="502"/><circle cx="255" cy="505"/><circle cx="285" cy="508"/><circle cx="298" cy="515"/><circle cx="329" cy="517"/><circle cx="349" cy="518"/><circle cx="380" cy="520"/><circle cx="317" cy="520"/><circle cx="320" cy="515"/><circle cx="382" cy="511"/><circle cx="274" cy="506"/><circle cx="250" cy="491"/><circle cx="253" cy="482"/><circle cx="205" cy="472"/><circle cx="204" cy="467"/><circle cx="302" cy="445"/><circle cx="327" cy="439"/><circle cx="250" cy="426"/><circle cx="231" cy="420"/><circle cx="254" cy="407"/><circle cx="210" cy="400"/><circle cx="174" cy="380"/><circle cx="205" cy="366"/><circle cx="176" cy="353"/><circle cx="192" cy="332"/><circle cx="187" cy="325"/><circle cx="167" cy="318"/><circle cx="166" cy="311"/><circle cx="166" cy="305"/><circle cx="166" cy="298"/><circle cx="192" cy="291"/><circle cx="314" cy="241"/><circle cx="271" cy="235"/><circle cx="298" cy="209"/><circle cx="313" cy="200"/><circle cx="270" cy="192"/><circle cx="139" cy="192"/><circle cx="139" cy="174"/><circle cx="284" cy="173"/><circle cx="271" cy="175"/><circle cx="217" cy="177"/><circle cx="446" cy="179"/><circle cx="271" cy="184"/><circle cx="299" cy="194"/><circle cx="290" cy="207"/><circle cx="236" cy="244"/><circle cx="250" cy="276"/><circle cx="252" cy="289"/><circle cx="285" cy="309"/><circle cx="276" cy="316"/><circle cx="293" cy="323"/><circle cx="275" cy="330"/><circle cx="252" cy="337"/><circle cx="284" cy="343"/><circle cx="319" cy="350"/><circle cx="315" cy="357"/><circle cx="314" cy="364"/><circle cx="300" cy="371"/><circle cx="231" cy="412"/><circle cx="249" cy="418"/><circle cx="288" cy="431"/><circle cx="586" cy="437"/><circle cx="286" cy="450"/><circle cx="245" cy="467"/><circle cx="221" cy="477"/><circle cx="269" cy="487"/><circle cx="210" cy="491"/><circle cx="244" cy="503"/><circle cx="236" cy="507"/><circle cx="263" cy="519"/><circle cx="345" cy="521"/><circle cx="270" cy="521"/><circle cx="360" cy="519"/><circle cx="275" cy="515"/><circle cx="221" cy="504"/><circle cx="222" cy="497"/><circle cx="203" cy="488"/><circle cx="184" cy="484"/></g>
<g fill="#6ccd5a" stroke="#6ccd5a"><circle cx="280" cy="474"/><circle cx="264" cy="468"/><circle cx="193" cy="463"/><circle cx="243" cy="452"/><circle cx="204" cy="446"/><circle cx="228" cy="421"/><circle cx="244" cy="414"/><circle cx="353" cy="395"/><circle cx="313" cy="388"/><circle cx="239" cy="367"/><circle cx="243" cy="361"/><circle cx="202" cy="347"/><circle cx="212" cy="340"/><circle cx="239" cy="333"/><circle cx="270" cy="319"/><circle cx="366" cy="312"/><circle cx="258" cy="299"/><circle cx="340" cy="285"/><circle cx="229" cy="279"/><circle cx="233" cy="272"/><circle cx="237" cy="242"/><circle cx="214" cy="230"/><circle cx="236" cy="225"/><circle cx="306" cy="210"/><circle cx="330" cy="201"/><circle cx="139" cy="197"/><circle cx="389" cy="190"/><circle cx="404" cy="187"/><circle cx="567" cy="178"/><circle cx="248" cy="176"/><circle cx="274" cy="175"/><circle cx="254" cy="175"/><circle cx="232" cy="176"/><circle cx="172" cy="179"/><circle cx="194" cy="181"/><circle cx="540" cy="183"/><circle cx="241" cy="196"/><circle cx="228" cy="200"/><circle cx="232" cy="204"/><circle cx="261" cy="208"/><circle cx="242" cy="223"/><circle cx="234" cy="229"/><circle cx="224" cy="234"/><circle cx="248" cy="240"/><circle cx="247" cy="258"/><circle cx="455" cy="264"/><circle cx="251" cy="271"/><circle cx="262" cy="277"/><circle cx="207" cy="297"/><circle cx="205" cy="310"/><circle cx="247" cy="317"/><circle cx="246" cy="331"/><circle cx="239" cy="338"/><circle cx="195" cy="359"/><circle cx="165" cy="366"/><circle cx="190" cy="380"/><circle cx="166" cy="386"/><circle cx="168" cy="393"/><circle cx="165" cy="407"/><circle cx="165" cy="413"/><circle cx="194" cy="426"/><circle cx="227" cy="433"/><circle cx="216" cy="439"/><circle cx="166" cy="463"/><circle cx="167" cy="493"/><circle cx="381" cy="505"/><circle cx="269" cy="512"/><circle cx="342" cy="514"/><circle cx="333" cy="517"/><circle cx="310" cy="520"/><circle cx="316" cy="522"/><circle cx="339" cy="523"/><circle cx="298" cy="523"/><circle cx="322" cy="521"/><circle cx="232" cy="511"/><circle cx="219" cy="508"/><circle cx="225" cy="505"/><circle cx="197" cy="485"/><circle cx="388" cy="464"/><circle cx="413" cy="459"/><circle cx="167" cy="453"/><circle cx="165" cy="409"/><circle cx="199" cy="396"/><circle cx="237" cy="389"/><circle cx="299" cy="375"/><circle cx="326" cy="355"/><circle cx="312" cy="348"/><circle cx="316" cy="341"/><circle cx="296" cy="334"/><circle cx="326" cy="320"/><circle cx="427" cy="313"/><circle cx="285" cy="307"/><circle cx="300" cy="293"/><circle cx="362" cy="273"/><circle cx="304" cy="267"/><circle cx="317" cy="261"/><circle cx="299" cy="255"/><circle cx="263" cy="249"/><circle cx="298" cy="243"/><circle cx="393" cy="221"/><circle cx="373" cy="216"/><circle cx="393" cy="211"/><circle cx="320" cy="191"/><circle cx="274" cy="188"/><circle cx="251" cy="185"/><circle cx="179" cy="181"/><circle cx="389" cy="179"/><circle cx="139" cy="179"/><circle cx="237" cy="178"/><circle cx="310" cy="177"/><circle cx="334" cy="177"/><circle cx="359" cy="179"/><circle cx="353" cy="185"/><circle cx="430" cy="194"/><circle cx="392" cy="197"/><circle cx="314" cy="206"/><circle cx="287" cy="225"/><circle cx="278" cy="230"/><circle cx="241" cy="236"/><circle cx="182" cy="247"/><circle cx="250" cy="266"/><circle cx="245" cy="272"/><circle cx="205" cy="279"/><circle cx="168" cy="292"/><circle cx="153" cy="305"/><circle cx="224" cy="326"/><circle cx="431" cy="340"/><circle cx="328" cy="353"/><circle cx="260" cy="367"/><circle cx="378" cy="408"/><circle cx="397" cy="415"/><circle cx="437" cy="421"/><circle cx="345" cy="434"/><circle cx="394" cy="470"/><circle cx="314" cy="480"/><circle cx="348" cy="485"/><circle cx="362" cy="490"/><circle cx="300" cy="503"/><circle cx="266" cy="513"/><circle cx="340" cy="520"/><circle cx="361" cy="523"/><circle cx="360" cy="524"/><circle cx="381" cy="525"/><circle cx="364" cy="524"/><circle cx="372" cy="520"/><circle cx="426" cy="518"/><circle cx="383" cy="515"/><circle cx="362" cy="513"/><circle cx="329" cy="503"/><circle cx="253" cy="486"/><circle cx="220" cy="465"/><circle cx="320" cy="460"/><circle cx="314" cy="442"/><circle cx="268" cy="436"/><circle cx="287" cy="417"/><circle cx="227" cy="410"/><circle cx="278" cy="403"/><circle cx="248" cy="390"/><circle cx="216" cy="383"/><circle cx="211" cy="362"/><circle cx="177" cy="356"/><circle cx="198" cy="328"/><circle cx="211" cy="321"/><circle cx="250" cy="314"/><circle cx="204" cy="308"/><circle cx="201" cy="301"/><circle cx="447" cy="294"/><circle cx="282" cy="288"/><circle cx="331" cy="281"/><circle cx="324" cy="275"/><circle cx="328" cy="268"/><circle cx="336" cy="262"/><circle cx="408" cy="250"/><circle cx="396" cy="244"/><circle cx="287" cy="227"/><circle cx="286" cy="217"/><circle cx="189" cy="204"/><circle cx="170" cy="200"/><circle cx="389" cy="196"/><circle cx="168" cy="193"/><circle cx="168" cy="184"/><circle cx="139" cy="183"/><circle cx="165" cy="179"/><circle cx="198" cy="179"/><circle cx="139" cy="181"/><circle cx="170" cy="182"/><circle cx="203" cy="184"/><circle cx="139" cy="184"/><circle cx="193" cy="186"/><circle cx="196" cy="192"/><circle cx="204" cy="203"/><circle cx="235" cy="207"/><circle cx="242" cy="212"/><circle cx="320" cy="221"/><circle cx="290" cy="243"/><circle cx="229" cy="249"/><circle cx="219" cy="287"/><circle cx="227" cy="293"/><circle cx="270" cy="307"/><circle cx="318" cy="313"/><circle cx="233" cy="320"/><circle cx="268" cy="334"/><circle cx="202" cy="362"/><circle cx="240" cy="369"/><circle cx="277" cy="376"/><circle cx="238" cy="389"/><circle cx="208" cy="403"/><circle cx="180" cy="410"/><circle cx="243" cy="416"/><circle cx="192" cy="436"/><circle cx="166" cy="442"/><circle cx="401" cy="460"/><circle cx="165" cy="466"/><circle cx="167" cy="471"/><circle cx="296" cy="487"/><circle cx="139" cy="492"/><circle cx="285" cy="496"/><circle cx="356" cy="508"/><circle cx="312" cy="512"/><circle cx="331" cy="515"/><circle cx="297" cy="518"/><circle cx="320" cy="524"/><circle cx="274" cy="526"/><circle cx="375" cy="526"/><circle cx="343" cy="524"/><circle cx="325" cy="521"/><circle cx="328" cy="511"/><circle cx="262" cy="504"/><circle cx="256" cy="501"/><circle cx="283" cy="496"/><circle cx="329" cy="492"/><circle cx="299" cy="487"/><circle cx="323" cy="477"/><circle cx="373" cy="472"/><circle cx="279" cy="437"/><circle cx="276" cy="430"/><circle cx="234" cy="424"/><circle cx="200" cy="418"/><circle cx="251" cy="411"/><circle cx="285" cy="404"/><circle cx="277" cy="398"/><circle cx="322" cy="391"/><circle cx="356" cy="377"/><circle cx="316" cy="357"/><circle cx="309" cy="350"/><circle cx="329" cy="329"/><circle cx="322" cy="322"/><circle cx="261" cy="315"/><circle cx="252" cy="309"/><circle cx="267" cy="295"/><circle cx="272" cy="269"/><circle cx="323" cy="263"/><circle cx="312" cy="251"/><circle cx="372" cy="245"/><circle cx="384" cy="239"/><circle cx="386" cy="234"/><circle cx="326" cy="228"/><circle cx="245" cy="223"/><circle cx="343" cy="218"/><circle cx="222" cy="209"/><circle cx="314" cy="205"/><circle cx="355" cy="201"/><circle cx="412" cy="194"/><circle cx="320" cy="184"/><circle cx="318" cy="181"/><circle cx="139" cy="180"/><circle cx="369" cy="180"/><circle cx="367" cy="181"/><circle cx="432" cy="182"/><circle cx="375" cy="184"/><circle cx="326" cy="188"/><circle cx="139" cy="191"/><circle cx="321" cy="197"/><circle cx="370" cy="205"/><circle cx="407" cy="213"/><circle cx="342" cy="218"/><circle cx="344" cy="233"/><circle cx="320" cy="245"/><circle cx="335" cy="256"/><circle cx="251" cy="263"/><circle cx="281" cy="269"/><circle cx="346" cy="282"/><circle cx="292" cy="288"/><circle cx="295" cy="295"/><circle cx="314" cy="301"/><circle cx="186" cy="322"/><circle cx="257" cy="336"/><circle cx="243" cy="342"/><circle cx="292" cy="356"/><circle cx="187" cy="384"/><circle cx="166" cy="398"/><circle cx="192" cy="411"/><circle cx="196" cy="418"/><circle cx="195" cy="437"/><circle cx="167" cy="444"/><circle cx="200" cy="450"/><circle cx="170" cy="462"/><circle cx="166" cy="467"/><circle cx="209" cy="478"/><circle cx="329" cy="484"/><circle cx="175" cy="493"/><circle cx="166" cy="502"/><circle cx="165" cy="506"/><circle cx="196" cy="513"/><circle cx="168" cy="519"/><circle cx="166" cy="522"/><circle cx="218" cy="527"/><circle cx="184" cy="513"/><circle cx="201" cy="509"/><circle cx="209" cy="506"/></g>
<g fill="#75d054" stroke="#75d054"><circle cx="223" cy="502"/><circle cx="250" cy="498"/><circle cx="270" cy="493"/><circle cx="343" cy="489"/><circle cx="242" cy="456"/><circle cx="284" cy="444"/><circle cx="252" cy="438"/><circle cx="229" cy="432"/><circle cx="243" cy="419"/><circle cx="267" cy="405"/><circle cx="281" cy="399"/><circle cx="253" cy="392"/><circle cx="260" cy="371"/><circle cx="495" cy="364"/><circle cx="223" cy="357"/><circle cx="264" cy="351"/><circle cx="253" cy="337"/><circle cx="216" cy="323"/><circle cx="247" cy="316"/><circle cx="222" cy="310"/><circle cx="348" cy="296"/><circle cx="288" cy="290"/><circle cx="254" cy="283"/><circle cx="278" cy="270"/><circle cx="338" cy="258"/><circle cx="368" cy="252"/><circle cx="320" cy="246"/><circle cx="343" cy="230"/><circle cx="364" cy="225"/><circle cx="342" cy="220"/><circle cx="364" cy="206"/><circle cx="198" cy="195"/><circle cx="166" cy="192"/><circle cx="165" cy="190"/><circle cx="178" cy="183"/><circle cx="173" cy="182"/><circle cx="166" cy="182"/><circle cx="139" cy="182"/><circle cx="166" cy="182"/><circle cx="193" cy="183"/><circle cx="139" cy="186"/><circle cx="241" cy="192"/><circle cx="188" cy="199"/><circle cx="242" cy="202"/><circle cx="206" cy="206"/><circle cx="280" cy="210"/><circle cx="287" cy="220"/><circle cx="250" cy="225"/><circle cx="298" cy="252"/><circle cx="260" cy="264"/><circle cx="281" cy="283"/><circle cx="261" cy="296"/><circle cx="248" cy="303"/><circle cx="270" cy="310"/><circle cx="223" cy="323"/><circle cx="332" cy="330"/><circle cx="264" cy="337"/><circle cx="277" cy="344"/><circle cx="275" cy="351"/><circle cx="311" cy="358"/><circle cx="281" cy="372"/><circle cx="139" cy="379"/><circle cx="165" cy="392"/><circle cx="185" cy="406"/><circle cx="374" cy="413"/><circle cx="345" cy="432"/><circle cx="302" cy="451"/><circle cx="268" cy="457"/><circle cx="139" cy="475"/><circle cx="411" cy="480"/><circle cx="395" cy="485"/><circle cx="377" cy="495"/><circle cx="466" cy="504"/><circle cx="387" cy="508"/><circle cx="375" cy="512"/><circle cx="402" cy="518"/><circle cx="368" cy="521"/><circle cx="299" cy="525"/><circle cx="344" cy="527"/><circle cx="260" cy="528"/><circle cx="369" cy="529"/><circle cx="308" cy="529"/><circle cx="320" cy="528"/><circle cx="420" cy="527"/><circle cx="341" cy="524"/><circle cx="330" cy="522"/><circle cx="278" cy="520"/><circle cx="203" cy="517"/><circle cx="168" cy="507"/><circle cx="197" cy="503"/><circle cx="168" cy="495"/><circle cx="165" cy="490"/><circle cx="167" cy="469"/><circle cx="175" cy="451"/><circle cx="194" cy="445"/><circle cx="239" cy="439"/><circle cx="174" cy="406"/><circle cx="167" cy="400"/><circle cx="166" cy="393"/><circle cx="168" cy="386"/><circle cx="193" cy="358"/><circle cx="139" cy="358"/><circle cx="381" cy="345"/><circle cx="429" cy="331"/><circle cx="482" cy="324"/><circle cx="380" cy="297"/><circle cx="227" cy="278"/><circle cx="246" cy="259"/><circle cx="264" cy="247"/><circle cx="300" cy="242"/><circle cx="290" cy="236"/><circle cx="356" cy="226"/><circle cx="297" cy="221"/><circle cx="299" cy="204"/><circle cx="380" cy="186"/><circle cx="337" cy="184"/><circle cx="361" cy="184"/><circle cx="363" cy="183"/><circle cx="370" cy="183"/><circle cx="313" cy="184"/><circle cx="139" cy="184"/><circle cx="139" cy="184"/><circle cx="237" cy="186"/><circle cx="293" cy="187"/><circle cx="139" cy="187"/><circle cx="201" cy="194"/><circle cx="178" cy="197"/><circle cx="167" cy="204"/><circle cx="170" cy="208"/><circle cx="226" cy="212"/><circle cx="217" cy="221"/><circle cx="274" cy="226"/><circle cx="291" cy="231"/><circle cx="304" cy="237"/><circle cx="280" cy="242"/><circle cx="301" cy="260"/><circle cx="286" cy="266"/><circle cx="194" cy="272"/><circle cx="322" cy="298"/><circle cx="308" cy="304"/><circle cx="353" cy="311"/><circle cx="343" cy="318"/><circle cx="139" cy="318"/><circle cx="291" cy="338"/><circle cx="385" cy="359"/><circle cx="321" cy="373"/><circle cx="286" cy="380"/><circle cx="315" cy="387"/><circle cx="315" cy="401"/><circle cx="351" cy="407"/><circle cx="372" cy="414"/><circle cx="139" cy="427"/><circle cx="399" cy="440"/><circle cx="321" cy="447"/><circle cx="343" cy="465"/><circle cx="368" cy="482"/><circle cx="351" cy="492"/><circle cx="263" cy="513"/><circle cx="207" cy="520"/><circle cx="219" cy="525"/><circle cx="217" cy="529"/><circle cx="276" cy="531"/><circle cx="303" cy="531"/><circle cx="312" cy="530"/><circle cx="191" cy="521"/><circle cx="198" cy="519"/><circle cx="255" cy="516"/><circle cx="262" cy="512"/><circle cx="260" cy="509"/><circle cx="225" cy="486"/><circle cx="275" cy="476"/><circle cx="440" cy="470"/><circle cx="344" cy="464"/><circle cx="343" cy="458"/><circle cx="382" cy="452"/><circle cx="292" cy="427"/><circle cx="210" cy="414"/><circle cx="166" cy="394"/><circle cx="165" cy="380"/><circle cx="417" cy="373"/><circle cx="168" cy="359"/><circle cx="207" cy="346"/><circle cx="203" cy="339"/><circle cx="177" cy="325"/><circle cx="167" cy="318"/><circle cx="188" cy="312"/><circle cx="420" cy="298"/><circle cx="419" cy="292"/><circle cx="257" cy="285"/><circle cx="295" cy="279"/><circle cx="260" cy="272"/><circle cx="283" cy="266"/><circle cx="309" cy="260"/><circle cx="362" cy="254"/><circle cx="378" cy="237"/><circle cx="363" cy="232"/><circle cx="358" cy="227"/><circle cx="382" cy="222"/><circle cx="331" cy="218"/><circle cx="364" cy="209"/><circle cx="139" cy="209"/><circle cx="356" cy="198"/><circle cx="359" cy="193"/><circle cx="422" cy="191"/><circle cx="349" cy="187"/><circle cx="340" cy="186"/><circle cx="269" cy="185"/><circle cx="293" cy="185"/><circle cx="272" cy="186"/><circle cx="308" cy="187"/><circle cx="273" cy="189"/><circle cx="299" cy="191"/><circle cx="268" cy="199"/><circle cx="293" cy="210"/><circle cx="216" cy="214"/><circle cx="250" cy="218"/><circle cx="168" cy="223"/><circle cx="244" cy="244"/><circle cx="218" cy="249"/><circle cx="283" cy="261"/><circle cx="258" cy="280"/><circle cx="249" cy="286"/><circle cx="169" cy="306"/><circle cx="167" cy="313"/><circle cx="168" cy="319"/><circle cx="139" cy="347"/><circle cx="168" cy="354"/><circle cx="173" cy="368"/><circle cx="419" cy="375"/><circle cx="193" cy="382"/><circle cx="263" cy="395"/><circle cx="281" cy="409"/><circle cx="273" cy="416"/><circle cx="245" cy="422"/><circle cx="312" cy="429"/><circle cx="344" cy="435"/><circle cx="363" cy="442"/><circle cx="274" cy="454"/><circle cx="287" cy="466"/><circle cx="179" cy="478"/><circle cx="165" cy="488"/><circle cx="139" cy="488"/><circle cx="168" cy="503"/><circle cx="166" cy="507"/><circle cx="166" cy="518"/><circle cx="196" cy="522"/><circle cx="206" cy="524"/><circle cx="295" cy="530"/><circle cx="288" cy="532"/><circle cx="305" cy="532"/><circle cx="340" cy="532"/><circle cx="328" cy="514"/><circle cx="275" cy="510"/><circle cx="211" cy="497"/><circle cx="179" cy="492"/><circle cx="165" cy="477"/><circle cx="169" cy="460"/><circle cx="183" cy="447"/><circle cx="169" cy="422"/><circle cx="400" cy="415"/><circle cx="177" cy="402"/><circle cx="167" cy="388"/><circle cx="198" cy="381"/><circle cx="263" cy="374"/><circle cx="326" cy="367"/><circle cx="296" cy="360"/><circle cx="341" cy="347"/><circle cx="199" cy="340"/><circle cx="230" cy="333"/><circle cx="272" cy="313"/><circle cx="340" cy="286"/><circle cx="495" cy="267"/><circle cx="379" cy="261"/><circle cx="394" cy="255"/><circle cx="243" cy="239"/><circle cx="266" cy="233"/><circle cx="326" cy="228"/><circle cx="372" cy="215"/><circle cx="280" cy="207"/><circle cx="289" cy="200"/><circle cx="295" cy="197"/><circle cx="317" cy="194"/><circle cx="302" cy="190"/><circle cx="238" cy="189"/><circle cx="215" cy="187"/><circle cx="139" cy="187"/><circle cx="298" cy="187"/><circle cx="330" cy="187"/><circle cx="139" cy="187"/><circle cx="308" cy="195"/><circle cx="440" cy="204"/><circle cx="329" cy="207"/><circle cx="139" cy="215"/><circle cx="374" cy="220"/><circle cx="371" cy="224"/><circle cx="332" cy="229"/><circle cx="328" cy="234"/><circle cx="385" cy="245"/><circle cx="359" cy="251"/><circle cx="373" cy="263"/><circle cx="349" cy="275"/><circle cx="331" cy="281"/><circle cx="139" cy="294"/><circle cx="336" cy="307"/><circle cx="426" cy="321"/><circle cx="384" cy="328"/><circle cx="361" cy="341"/><circle cx="280" cy="355"/><circle cx="249" cy="362"/><circle cx="176" cy="383"/><circle cx="164" cy="390"/><circle cx="210" cy="397"/><circle cx="309" cy="404"/><circle cx="371" cy="430"/><circle cx="308" cy="437"/><circle cx="363" cy="443"/><circle cx="310" cy="456"/><circle cx="303" cy="490"/><circle cx="139" cy="490"/><circle cx="319" cy="500"/><circle cx="352" cy="505"/><circle cx="403" cy="509"/><circle cx="349" cy="513"/><circle cx="318" cy="517"/><circle cx="315" cy="526"/><circle cx="139" cy="534"/><circle cx="355" cy="534"/><circle cx="372" cy="534"/><circle cx="360" cy="533"/><circle cx="385" cy="529"/><circle cx="395" cy="527"/></g>
<g fill="#7fd34e" stroke="#7fd34e"><circle cx="431" cy="519"/><circle cx="426" cy="515"/><circle cx="389" cy="503"/><circle cx="446" cy="494"/><circle cx="239" cy="483"/><circle cx="272" cy="472"/><circle cx="350" cy="467"/><circle cx="361" cy="455"/><circle cx="337" cy="448"/><circle cx="222" cy="436"/><circle cx="267" cy="429"/><circle cx="226" cy="416"/><circle cx="165" cy="409"/><circle cx="164" cy="396"/><circle cx="205" cy="389"/><circle cx="358" cy="382"/><circle cx="199" cy="375"/><circle cx="201" cy="361"/><circle cx="261" cy="354"/><circle cx="260" cy="341"/><circle cx="380" cy="300"/><circle cx="385" cy="294"/><circle cx="423" cy="287"/><circle cx="488" cy="281"/><circle cx="381" cy="275"/><circle cx="339" cy="257"/><circle cx="382" cy="251"/><circle cx="327" cy="240"/><circle cx="226" cy="230"/><circle cx="313" cy="220"/><circle cx="307" cy="212"/><circle cx="286" cy="208"/><circle cx="295" cy="204"/><circle cx="276" cy="201"/><circle cx="303" cy="198"/><circle cx="170" cy="194"/><circle cx="168" cy="192"/><circle cx="196" cy="190"/><circle cx="164" cy="189"/><circle cx="197" cy="188"/><circle cx="284" cy="188"/><circle cx="297" cy="188"/><circle cx="297" cy="189"/><circle cx="280" cy="191"/><circle cx="441" cy="196"/><circle cx="433" cy="199"/><circle cx="429" cy="202"/><circle cx="389" cy="209"/><circle cx="310" cy="213"/><circle cx="348" cy="217"/><circle cx="441" cy="221"/><circle cx="301" cy="226"/><circle cx="310" cy="231"/><circle cx="324" cy="236"/><circle cx="328" cy="241"/><circle cx="320" cy="247"/><circle cx="307" cy="258"/><circle cx="290" cy="270"/><circle cx="393" cy="289"/><circle cx="294" cy="316"/><circle cx="277" cy="322"/><circle cx="389" cy="336"/><circle cx="310" cy="343"/><circle cx="319" cy="350"/><circle cx="397" cy="378"/><circle cx="344" cy="391"/><circle cx="139" cy="405"/><circle cx="263" cy="425"/><circle cx="218" cy="438"/><circle cx="362" cy="445"/><circle cx="169" cy="457"/><circle cx="290" cy="481"/><circle cx="376" cy="502"/><circle cx="411" cy="506"/><circle cx="432" cy="515"/><circle cx="139" cy="530"/><circle cx="483" cy="532"/><circle cx="389" cy="535"/><circle cx="391" cy="536"/><circle cx="390" cy="536"/><circle cx="290" cy="536"/><circle cx="422" cy="535"/><circle cx="358" cy="528"/><circle cx="435" cy="520"/><circle cx="353" cy="517"/><circle cx="412" cy="509"/><circle cx="382" cy="495"/><circle cx="294" cy="490"/><circle cx="348" cy="450"/><circle cx="291" cy="443"/><circle cx="294" cy="430"/><circle cx="291" cy="424"/><circle cx="340" cy="397"/><circle cx="396" cy="390"/><circle cx="428" cy="376"/><circle cx="416" cy="369"/><circle cx="348" cy="355"/><circle cx="339" cy="335"/><circle cx="333" cy="328"/><circle cx="350" cy="321"/><circle cx="426" cy="308"/><circle cx="274" cy="301"/><circle cx="301" cy="270"/><circle cx="224" cy="258"/><circle cx="278" cy="241"/><circle cx="318" cy="236"/><circle cx="250" cy="226"/><circle cx="172" cy="222"/><circle cx="327" cy="217"/><circle cx="194" cy="213"/><circle cx="200" cy="209"/><circle cx="257" cy="206"/><circle cx="320" cy="203"/><circle cx="351" cy="197"/><circle cx="206" cy="193"/><circle cx="223" cy="192"/><circle cx="165" cy="191"/><circle cx="139" cy="191"/><circle cx="176" cy="190"/><circle cx="165" cy="190"/><circle cx="492" cy="190"/><circle cx="164" cy="191"/><circle cx="166" cy="192"/><circle cx="181" cy="204"/><circle cx="204" cy="207"/><circle cx="286" cy="211"/><circle cx="317" cy="215"/><circle cx="356" cy="219"/><circle cx="364" cy="228"/><circle cx="388" cy="233"/><circle cx="300" cy="238"/><circle cx="318" cy="243"/><circle cx="336" cy="248"/><circle cx="386" cy="254"/><circle cx="279" cy="260"/><circle cx="299" cy="266"/><circle cx="222" cy="272"/><circle cx="297" cy="278"/><circle cx="335" cy="284"/><circle cx="326" cy="310"/><circle cx="371" cy="331"/><circle cx="331" cy="337"/><circle cx="316" cy="351"/><circle cx="324" cy="372"/><circle cx="262" cy="379"/><circle cx="250" cy="386"/><circle cx="209" cy="393"/><circle cx="169" cy="400"/><circle cx="215" cy="413"/><circle cx="181" cy="427"/><circle cx="243" cy="433"/><circle cx="266" cy="459"/><circle cx="374" cy="471"/><circle cx="417" cy="477"/><circle cx="347" cy="482"/><circle cx="244" cy="493"/><circle cx="234" cy="512"/><circle cx="203" cy="529"/><circle cx="224" cy="534"/><circle cx="279" cy="535"/><circle cx="263" cy="537"/><circle cx="199" cy="537"/><circle cx="198" cy="538"/><circle cx="283" cy="537"/><circle cx="350" cy="525"/><circle cx="272" cy="521"/><circle cx="335" cy="506"/><circle cx="391" cy="501"/><circle cx="369" cy="496"/><circle cx="419" cy="486"/><circle cx="372" cy="480"/><circle cx="394" cy="475"/><circle cx="385" cy="469"/><circle cx="361" cy="457"/><circle cx="320" cy="451"/><circle cx="256" cy="444"/><circle cx="279" cy="438"/><circle cx="325" cy="431"/><circle cx="337" cy="425"/><circle cx="431" cy="411"/><circle cx="469" cy="405"/><circle cx="335" cy="377"/><circle cx="139" cy="370"/><circle cx="435" cy="356"/><circle cx="479" cy="350"/><circle cx="468" cy="322"/><circle cx="485" cy="309"/><circle cx="370" cy="296"/><circle cx="327" cy="289"/><circle cx="139" cy="283"/><circle cx="285" cy="271"/><circle cx="339" cy="265"/><circle cx="248" cy="259"/><circle cx="257" cy="253"/><circle cx="338" cy="248"/><circle cx="371" cy="232"/><circle cx="319" cy="227"/><circle cx="363" cy="223"/><circle cx="452" cy="219"/><circle cx="445" cy="215"/><circle cx="376" cy="211"/><circle cx="545" cy="204"/><circle cx="419" cy="201"/><circle cx="469" cy="195"/><circle cx="463" cy="193"/><circle cx="464" cy="192"/><circle cx="400" cy="192"/><circle cx="402" cy="191"/><circle cx="349" cy="193"/><circle cx="310" cy="194"/><circle cx="302" cy="196"/><circle cx="279" cy="202"/><circle cx="296" cy="209"/><circle cx="312" cy="212"/><circle cx="284" cy="216"/><circle cx="279" cy="225"/><circle cx="277" cy="229"/><circle cx="248" cy="234"/><circle cx="234" cy="239"/><circle cx="253" cy="267"/><circle cx="224" cy="273"/><circle cx="290" cy="279"/><circle cx="319" cy="286"/><circle cx="271" cy="312"/><circle cx="264" cy="319"/><circle cx="399" cy="325"/><circle cx="318" cy="339"/><circle cx="139" cy="339"/><circle cx="262" cy="360"/><circle cx="263" cy="367"/><circle cx="279" cy="394"/><circle cx="372" cy="408"/><circle cx="167" cy="428"/><circle cx="168" cy="441"/><circle cx="167" cy="454"/><circle cx="165" cy="460"/><circle cx="169" cy="467"/><circle cx="164" cy="478"/><circle cx="165" cy="484"/><circle cx="166" cy="490"/><circle cx="252" cy="522"/><circle cx="225" cy="533"/><circle cx="275" cy="535"/><circle cx="282" cy="537"/><circle cx="283" cy="539"/><circle cx="336" cy="539"/><circle cx="359" cy="538"/><circle cx="309" cy="537"/><circle cx="604" cy="531"/><circle cx="326" cy="526"/><circle cx="313" cy="516"/><circle cx="252" cy="502"/><circle cx="139" cy="492"/><circle cx="353" cy="482"/><circle cx="302" cy="476"/><circle cx="366" cy="458"/><circle cx="334" cy="452"/><circle cx="429" cy="426"/><circle cx="299" cy="419"/><circle cx="344" cy="412"/><circle cx="306" cy="406"/><circle cx="289" cy="378"/><circle cx="377" cy="371"/><circle cx="235" cy="364"/><circle cx="139" cy="357"/><circle cx="414" cy="330"/><circle cx="269" cy="317"/><circle cx="218" cy="310"/><circle cx="206" cy="303"/><circle cx="196" cy="297"/><circle cx="212" cy="290"/><circle cx="209" cy="284"/><circle cx="275" cy="278"/><circle cx="234" cy="272"/><circle cx="264" cy="266"/><circle cx="285" cy="260"/><circle cx="333" cy="249"/><circle cx="342" cy="244"/><circle cx="324" cy="238"/><circle cx="314" cy="233"/><circle cx="351" cy="229"/><circle cx="461" cy="224"/><circle cx="396" cy="216"/><circle cx="360" cy="212"/><circle cx="139" cy="212"/><circle cx="324" cy="209"/><circle cx="338" cy="200"/><circle cx="367" cy="198"/><circle cx="319" cy="195"/><circle cx="297" cy="194"/><circle cx="240" cy="193"/><circle cx="139" cy="193"/><circle cx="284" cy="193"/><circle cx="369" cy="194"/><circle cx="324" cy="194"/><circle cx="259" cy="196"/><circle cx="268" cy="197"/><circle cx="139" cy="197"/><circle cx="314" cy="201"/><circle cx="315" cy="207"/><circle cx="336" cy="210"/><circle cx="433" cy="214"/><circle cx="439" cy="218"/><circle cx="437" cy="236"/><circle cx="367" cy="241"/><circle cx="247" cy="251"/><circle cx="233" cy="269"/><circle cx="212" cy="275"/><circle cx="183" cy="281"/><circle cx="282" cy="300"/><circle cx="205" cy="307"/><circle cx="214" cy="313"/><circle cx="218" cy="327"/><circle cx="166" cy="334"/><circle cx="271" cy="347"/><circle cx="305" cy="354"/><circle cx="372" cy="368"/><circle cx="242" cy="382"/><circle cx="330" cy="389"/><circle cx="369" cy="396"/><circle cx="387" cy="409"/><circle cx="372" cy="423"/><circle cx="316" cy="430"/><circle cx="202" cy="443"/><circle cx="343" cy="449"/><circle cx="164" cy="456"/><circle cx="244" cy="474"/><circle cx="201" cy="480"/><circle cx="164" cy="486"/><circle cx="467" cy="491"/><circle cx="164" cy="496"/><circle cx="173" cy="501"/><circle cx="166" cy="506"/><circle cx="168" cy="511"/><circle cx="229" cy="515"/><circle cx="346" cy="519"/><circle cx="352" cy="527"/><circle cx="297" cy="530"/><circle cx="293" cy="533"/><circle cx="139" cy="533"/><circle cx="335" cy="535"/><circle cx="354" cy="537"/><circle cx="370" cy="540"/><circle cx="245" cy="541"/><circle cx="255" cy="541"/><circle cx="262" cy="541"/><circle cx="194" cy="540"/></g>
<g fill="#89d548" stroke="#89d548"><circle cx="189" cy="538"/><circle cx="192" cy="535"/><circle cx="183" cy="533"/><circle cx="164" cy="530"/><circle cx="531" cy="527"/><circle cx="168" cy="521"/><circle cx="339" cy="508"/><circle cx="426" cy="499"/><circle cx="336" cy="471"/><circle cx="339" cy="465"/><circle cx="366" cy="453"/><circle cx="275" cy="446"/><circle cx="326" cy="440"/><circle cx="426" cy="427"/><circle cx="378" cy="420"/><circle cx="352" cy="400"/><circle cx="429" cy="393"/><circle cx="340" cy="386"/><circle cx="365" cy="379"/><circle cx="327" cy="372"/><circle cx="330" cy="365"/><circle cx="290" cy="352"/><circle cx="321" cy="345"/><circle cx="382" cy="338"/><circle cx="295" cy="331"/><circle cx="348" cy="324"/><circle cx="348" cy="304"/><circle cx="272" cy="298"/><circle cx="400" cy="285"/><circle cx="422" cy="279"/><circle cx="272" cy="267"/><circle cx="253" cy="261"/><circle cx="264" cy="256"/><circle cx="216" cy="245"/><circle cx="260" cy="240"/><circle cx="167" cy="230"/><circle cx="176" cy="226"/><circle cx="168" cy="221"/><circle cx="165" cy="214"/><circle cx="165" cy="210"/><circle cx="165" cy="207"/><circle cx="139" cy="204"/><circle cx="177" cy="202"/><circle cx="139" cy="198"/><circle cx="307" cy="196"/><circle cx="397" cy="195"/><circle cx="337" cy="195"/><circle cx="326" cy="195"/><circle cx="353" cy="196"/><circle cx="290" cy="199"/><circle cx="300" cy="201"/><circle cx="322" cy="203"/><circle cx="246" cy="209"/><circle cx="259" cy="212"/><circle cx="139" cy="212"/><circle cx="360" cy="216"/><circle cx="330" cy="224"/><circle cx="310" cy="233"/><circle cx="493" cy="242"/><circle cx="186" cy="248"/><circle cx="197" cy="253"/><circle cx="200" cy="259"/><circle cx="269" cy="264"/><circle cx="327" cy="276"/><circle cx="351" cy="282"/><circle cx="328" cy="295"/><circle cx="214" cy="302"/><circle cx="219" cy="315"/><circle cx="211" cy="321"/><circle cx="211" cy="328"/><circle cx="201" cy="335"/><circle cx="279" cy="342"/><circle cx="293" cy="349"/><circle cx="183" cy="356"/><circle cx="167" cy="369"/><circle cx="170" cy="376"/><circle cx="168" cy="390"/><circle cx="139" cy="390"/><circle cx="166" cy="404"/><circle cx="187" cy="411"/><circle cx="139" cy="411"/><circle cx="167" cy="418"/><circle cx="243" cy="424"/><circle cx="183" cy="431"/><circle cx="202" cy="444"/><circle cx="214" cy="451"/><circle cx="166" cy="457"/><circle cx="421" cy="463"/><circle cx="167" cy="470"/><circle cx="169" cy="481"/><circle cx="165" cy="487"/><circle cx="367" cy="493"/><circle cx="169" cy="498"/><circle cx="168" cy="503"/><circle cx="241" cy="521"/><circle cx="319" cy="528"/><circle cx="330" cy="531"/><circle cx="357" cy="534"/><circle cx="353" cy="539"/><circle cx="356" cy="540"/><circle cx="335" cy="541"/><circle cx="289" cy="543"/><circle cx="275" cy="542"/><circle cx="224" cy="540"/><circle cx="210" cy="536"/><circle cx="388" cy="534"/><circle cx="416" cy="532"/><circle cx="191" cy="529"/><circle cx="199" cy="526"/><circle cx="167" cy="505"/><circle cx="164" cy="495"/><circle cx="167" cy="489"/><circle cx="167" cy="484"/><circle cx="169" cy="472"/><circle cx="164" cy="460"/><circle cx="164" cy="454"/><circle cx="169" cy="441"/><circle cx="166" cy="434"/><circle cx="167" cy="414"/><circle cx="169" cy="408"/><circle cx="212" cy="401"/><circle cx="303" cy="387"/><circle cx="367" cy="366"/><circle cx="336" cy="359"/><circle cx="535" cy="353"/><circle cx="503" cy="346"/><circle cx="437" cy="339"/><circle cx="466" cy="319"/><circle cx="312" cy="306"/><circle cx="271" cy="293"/><circle cx="193" cy="286"/><circle cx="173" cy="280"/><circle cx="165" cy="274"/><circle cx="167" cy="268"/><circle cx="193" cy="257"/><circle cx="370" cy="246"/><circle cx="166" cy="241"/><circle cx="339" cy="227"/><circle cx="171" cy="223"/><circle cx="583" cy="215"/><circle cx="166" cy="212"/><circle cx="165" cy="206"/><circle cx="166" cy="203"/><circle cx="241" cy="201"/><circle cx="498" cy="200"/><circle cx="348" cy="198"/><circle cx="306" cy="197"/><circle cx="324" cy="196"/><circle cx="340" cy="196"/><circle cx="301" cy="197"/><circle cx="363" cy="198"/><circle cx="313" cy="199"/><circle cx="300" cy="201"/><circle cx="344" cy="202"/><circle cx="224" cy="205"/><circle cx="139" cy="205"/><circle cx="280" cy="210"/><circle cx="238" cy="214"/><circle cx="214" cy="217"/><circle cx="238" cy="221"/><circle cx="244" cy="229"/><circle cx="216" cy="244"/><circle cx="209" cy="249"/><circle cx="246" cy="260"/><circle cx="169" cy="266"/><circle cx="199" cy="272"/><circle cx="340" cy="278"/><circle cx="358" cy="290"/><circle cx="301" cy="297"/><circle cx="394" cy="310"/><circle cx="395" cy="316"/><circle cx="271" cy="343"/><circle cx="456" cy="350"/><circle cx="269" cy="357"/><circle cx="207" cy="371"/><circle cx="343" cy="385"/><circle cx="236" cy="392"/><circle cx="166" cy="405"/><circle cx="167" cy="412"/><circle cx="169" cy="419"/><circle cx="178" cy="426"/><circle cx="167" cy="433"/><circle cx="165" cy="439"/><circle cx="402" cy="459"/><circle cx="361" cy="465"/><circle cx="465" cy="471"/><circle cx="394" cy="483"/><circle cx="453" cy="494"/><circle cx="403" cy="505"/><circle cx="339" cy="523"/><circle cx="224" cy="538"/><circle cx="175" cy="540"/><circle cx="209" cy="543"/><circle cx="178" cy="544"/><circle cx="169" cy="544"/><circle cx="169" cy="543"/><circle cx="165" cy="541"/><circle cx="169" cy="538"/><circle cx="247" cy="530"/><circle cx="327" cy="527"/><circle cx="326" cy="524"/><circle cx="384" cy="520"/><circle cx="394" cy="515"/><circle cx="514" cy="511"/><circle cx="309" cy="496"/><circle cx="253" cy="491"/><circle cx="379" cy="479"/><circle cx="397" cy="473"/><circle cx="427" cy="467"/><circle cx="369" cy="449"/><circle cx="327" cy="436"/><circle cx="259" cy="422"/><circle cx="329" cy="415"/><circle cx="313" cy="402"/><circle cx="139" cy="374"/><circle cx="259" cy="360"/><circle cx="372" cy="347"/><circle cx="181" cy="333"/><circle cx="165" cy="326"/><circle cx="244" cy="313"/><circle cx="260" cy="307"/><circle cx="221" cy="300"/><circle cx="337" cy="275"/><circle cx="321" cy="269"/><circle cx="256" cy="264"/><circle cx="294" cy="258"/><circle cx="323" cy="247"/><circle cx="255" cy="242"/><circle cx="393" cy="233"/><circle cx="212" cy="224"/><circle cx="285" cy="220"/><circle cx="300" cy="216"/><circle cx="229" cy="213"/><circle cx="250" cy="210"/><circle cx="254" cy="207"/><circle cx="275" cy="205"/><circle cx="310" cy="203"/><circle cx="332" cy="201"/><circle cx="299" cy="198"/><circle cx="281" cy="198"/><circle cx="261" cy="198"/><circle cx="270" cy="198"/><circle cx="364" cy="199"/><circle cx="327" cy="201"/><circle cx="290" cy="202"/><circle cx="139" cy="202"/><circle cx="351" cy="204"/><circle cx="175" cy="206"/><circle cx="190" cy="212"/><circle cx="230" cy="215"/><circle cx="210" cy="219"/><circle cx="247" cy="223"/><circle cx="258" cy="227"/><circle cx="220" cy="236"/><circle cx="177" cy="246"/><circle cx="170" cy="256"/><circle cx="328" cy="262"/><circle cx="251" cy="267"/><circle cx="252" cy="279"/><circle cx="196" cy="285"/><circle cx="203" cy="298"/><circle cx="250" cy="305"/><circle cx="306" cy="311"/><circle cx="343" cy="318"/><circle cx="363" cy="324"/><circle cx="364" cy="331"/><circle cx="369" cy="338"/><circle cx="289" cy="345"/><circle cx="259" cy="352"/><circle cx="270" cy="358"/><circle cx="215" cy="372"/><circle cx="167" cy="386"/><circle cx="167" cy="400"/><circle cx="238" cy="407"/><circle cx="284" cy="421"/><circle cx="281" cy="434"/><circle cx="255" cy="460"/><circle cx="139" cy="466"/><circle cx="326" cy="473"/><circle cx="269" cy="490"/><circle cx="262" cy="501"/><circle cx="300" cy="511"/><circle cx="262" cy="520"/><circle cx="244" cy="528"/><circle cx="232" cy="532"/><circle cx="433" cy="535"/><circle cx="421" cy="538"/><circle cx="438" cy="542"/><circle cx="214" cy="544"/><circle cx="318" cy="546"/><circle cx="374" cy="544"/><circle cx="386" cy="543"/><circle cx="365" cy="540"/><circle cx="333" cy="537"/><circle cx="412" cy="535"/><circle cx="139" cy="535"/><circle cx="414" cy="532"/><circle cx="326" cy="525"/><circle cx="329" cy="517"/><circle cx="222" cy="512"/><circle cx="247" cy="507"/><circle cx="244" cy="502"/><circle cx="290" cy="469"/><circle cx="304" cy="462"/><circle cx="317" cy="437"/><circle cx="139" cy="423"/><circle cx="314" cy="416"/><circle cx="139" cy="416"/><circle cx="377" cy="403"/><circle cx="347" cy="396"/><circle cx="340" cy="382"/><circle cx="262" cy="348"/><circle cx="139" cy="348"/><circle cx="323" cy="327"/><circle cx="313" cy="314"/><circle cx="246" cy="308"/><circle cx="295" cy="289"/><circle cx="265" cy="282"/><circle cx="466" cy="276"/><circle cx="225" cy="271"/><circle cx="165" cy="259"/><circle cx="167" cy="254"/><circle cx="196" cy="248"/><circle cx="175" cy="243"/><circle cx="249" cy="234"/><circle cx="263" cy="230"/><circle cx="286" cy="225"/><circle cx="270" cy="221"/><circle cx="278" cy="215"/><circle cx="286" cy="211"/><circle cx="364" cy="209"/><circle cx="345" cy="206"/><circle cx="362" cy="204"/><circle cx="304" cy="203"/><circle cx="233" cy="201"/><circle cx="288" cy="200"/><circle cx="279" cy="200"/><circle cx="294" cy="199"/><circle cx="351" cy="200"/><circle cx="139" cy="200"/><circle cx="348" cy="200"/><circle cx="319" cy="201"/><circle cx="288" cy="204"/><circle cx="307" cy="206"/><circle cx="271" cy="211"/><circle cx="139" cy="211"/><circle cx="416" cy="214"/><circle cx="218" cy="220"/><circle cx="174" cy="224"/><circle cx="385" cy="233"/><circle cx="165" cy="242"/><circle cx="216" cy="252"/><circle cx="289" cy="263"/><circle cx="288" cy="269"/><circle cx="266" cy="275"/><circle cx="174" cy="287"/><circle cx="247" cy="293"/><circle cx="355" cy="300"/><circle cx="420" cy="306"/><circle cx="353" cy="312"/><circle cx="381" cy="319"/><circle cx="278" cy="332"/><circle cx="305" cy="367"/><circle cx="363" cy="381"/><circle cx="324" cy="408"/><circle cx="139" cy="408"/><circle cx="268" cy="415"/><circle cx="317" cy="442"/><circle cx="269" cy="455"/><circle cx="374" cy="462"/><circle cx="139" cy="503"/><circle cx="300" cy="508"/><circle cx="217" cy="526"/><circle cx="139" cy="536"/><circle cx="167" cy="539"/><circle cx="201" cy="542"/><circle cx="166" cy="544"/><circle cx="224" cy="545"/><circle cx="226" cy="546"/><circle cx="310" cy="547"/></g>
<g fill="#93d741" stroke="#93d741"><circle cx="346" cy="547"/><circle cx="263" cy="547"/><circle cx="252" cy="544"/><circle cx="291" cy="541"/><circle cx="259" cy="539"/><circle cx="352" cy="533"/><circle cx="374" cy="530"/><circle cx="330" cy="504"/><circle cx="358" cy="487"/><circle cx="350" cy="482"/><circle cx="194" cy="476"/><circle cx="265" cy="463"/><circle cx="195" cy="451"/><circle cx="169" cy="444"/><circle cx="195" cy="438"/><circle cx="192" cy="431"/><circle cx="239" cy="417"/><circle cx="139" cy="417"/><circle cx="231" cy="411"/><circle cx="332" cy="390"/><circle cx="421" cy="383"/><circle cx="310" cy="356"/><circle cx="139" cy="356"/><circle cx="359" cy="342"/><circle cx="298" cy="335"/><circle cx="332" cy="328"/><circle cx="383" cy="309"/><circle cx="165" cy="290"/><circle cx="165" cy="284"/><circle cx="166" cy="278"/><circle cx="166" cy="272"/><circle cx="409" cy="260"/><circle cx="169" cy="255"/><circle cx="210" cy="250"/><circle cx="236" cy="245"/><circle cx="428" cy="235"/><circle cx="434" cy="223"/><circle cx="256" cy="219"/><circle cx="359" cy="216"/><circle cx="168" cy="213"/><circle cx="278" cy="204"/><circle cx="274" cy="203"/><circle cx="270" cy="202"/><circle cx="319" cy="201"/><circle cx="139" cy="201"/><circle cx="333" cy="201"/><circle cx="139" cy="201"/><circle cx="313" cy="201"/><circle cx="284" cy="202"/><circle cx="308" cy="203"/><circle cx="270" cy="204"/><circle cx="275" cy="205"/><circle cx="248" cy="210"/><circle cx="451" cy="212"/><circle cx="299" cy="215"/><circle cx="256" cy="218"/><circle cx="257" cy="226"/><circle cx="241" cy="230"/><circle cx="202" cy="234"/><circle cx="160" cy="239"/><circle cx="328" cy="244"/><circle cx="247" cy="254"/><circle cx="234" cy="259"/><circle cx="257" cy="265"/><circle cx="278" cy="270"/><circle cx="286" cy="276"/><circle cx="243" cy="282"/><circle cx="217" cy="288"/><circle cx="213" cy="295"/><circle cx="166" cy="301"/><circle cx="170" cy="307"/><circle cx="177" cy="314"/><circle cx="342" cy="321"/><circle cx="361" cy="327"/><circle cx="333" cy="334"/><circle cx="381" cy="354"/><circle cx="322" cy="361"/><circle cx="253" cy="375"/><circle cx="209" cy="382"/><circle cx="167" cy="389"/><circle cx="165" cy="396"/><circle cx="194" cy="410"/><circle cx="139" cy="410"/><circle cx="347" cy="430"/><circle cx="357" cy="437"/><circle cx="348" cy="444"/><circle cx="344" cy="469"/><circle cx="342" cy="482"/><circle cx="340" cy="487"/><circle cx="335" cy="499"/><circle cx="274" cy="504"/><circle cx="139" cy="509"/><circle cx="308" cy="519"/><circle cx="343" cy="528"/><circle cx="366" cy="531"/><circle cx="277" cy="535"/><circle cx="250" cy="545"/><circle cx="260" cy="547"/><circle cx="504" cy="549"/><circle cx="315" cy="549"/><circle cx="255" cy="546"/><circle cx="197" cy="543"/><circle cx="188" cy="540"/><circle cx="220" cy="538"/><circle cx="400" cy="535"/><circle cx="298" cy="519"/><circle cx="243" cy="505"/><circle cx="497" cy="500"/><circle cx="306" cy="489"/><circle cx="314" cy="483"/><circle cx="345" cy="477"/><circle cx="354" cy="471"/><circle cx="349" cy="465"/><circle cx="341" cy="458"/><circle cx="263" cy="452"/><circle cx="332" cy="425"/><circle cx="285" cy="412"/><circle cx="251" cy="405"/><circle cx="218" cy="398"/><circle cx="337" cy="377"/><circle cx="302" cy="370"/><circle cx="296" cy="343"/><circle cx="234" cy="336"/><circle cx="287" cy="329"/><circle cx="293" cy="316"/><circle cx="139" cy="316"/><circle cx="317" cy="303"/><circle cx="349" cy="291"/><circle cx="369" cy="279"/><circle cx="378" cy="267"/><circle cx="328" cy="256"/><circle cx="367" cy="246"/><circle cx="361" cy="241"/><circle cx="156" cy="237"/><circle cx="347" cy="228"/><circle cx="416" cy="224"/><circle cx="379" cy="221"/><circle cx="285" cy="217"/><circle cx="339" cy="214"/><circle cx="360" cy="209"/><circle cx="139" cy="207"/><circle cx="217" cy="206"/><circle cx="139" cy="206"/><circle cx="235" cy="203"/><circle cx="191" cy="203"/><circle cx="188" cy="203"/><circle cx="188" cy="203"/><circle cx="173" cy="203"/><circle cx="187" cy="204"/><circle cx="166" cy="205"/><circle cx="212" cy="207"/><circle cx="205" cy="209"/><circle cx="377" cy="220"/><circle cx="279" cy="232"/><circle cx="354" cy="236"/><circle cx="490" cy="240"/><circle cx="378" cy="245"/><circle cx="399" cy="250"/><circle cx="388" cy="255"/><circle cx="357" cy="278"/><circle cx="277" cy="284"/><circle cx="315" cy="290"/><circle cx="400" cy="296"/><circle cx="381" cy="302"/><circle cx="410" cy="309"/><circle cx="366" cy="329"/><circle cx="358" cy="335"/><circle cx="350" cy="349"/><circle cx="139" cy="370"/><circle cx="414" cy="376"/><circle cx="139" cy="376"/><circle cx="356" cy="383"/><circle cx="361" cy="390"/><circle cx="277" cy="404"/><circle cx="380" cy="425"/><circle cx="384" cy="432"/><circle cx="181" cy="458"/><circle cx="233" cy="464"/><circle cx="534" cy="477"/><circle cx="242" cy="489"/><circle cx="205" cy="495"/><circle cx="211" cy="500"/><circle cx="251" cy="506"/><circle cx="288" cy="511"/><circle cx="264" cy="521"/><circle cx="213" cy="529"/><circle cx="219" cy="533"/><circle cx="194" cy="540"/><circle cx="215" cy="545"/><circle cx="202" cy="547"/><circle cx="170" cy="550"/><circle cx="169" cy="551"/><circle cx="167" cy="551"/><circle cx="199" cy="544"/><circle cx="390" cy="542"/><circle cx="233" cy="539"/><circle cx="270" cy="536"/><circle cx="358" cy="511"/><circle cx="301" cy="506"/><circle cx="139" cy="506"/><circle cx="193" cy="484"/><circle cx="245" cy="478"/><circle cx="268" cy="459"/><circle cx="219" cy="446"/><circle cx="167" cy="440"/><circle cx="169" cy="419"/><circle cx="168" cy="406"/><circle cx="166" cy="392"/><circle cx="480" cy="371"/><circle cx="374" cy="364"/><circle cx="139" cy="364"/><circle cx="361" cy="358"/><circle cx="348" cy="351"/><circle cx="237" cy="317"/><circle cx="315" cy="304"/><circle cx="339" cy="292"/><circle cx="280" cy="274"/><circle cx="313" cy="268"/><circle cx="416" cy="257"/><circle cx="386" cy="252"/><circle cx="299" cy="242"/><circle cx="298" cy="238"/><circle cx="308" cy="234"/><circle cx="334" cy="229"/><circle cx="417" cy="222"/><circle cx="359" cy="219"/><circle cx="364" cy="216"/><circle cx="334" cy="213"/><circle cx="327" cy="211"/><circle cx="340" cy="209"/><circle cx="255" cy="207"/><circle cx="277" cy="206"/><circle cx="258" cy="205"/><circle cx="260" cy="204"/><circle cx="139" cy="204"/><circle cx="327" cy="204"/><circle cx="322" cy="205"/><circle cx="168" cy="209"/><circle cx="441" cy="211"/><circle cx="177" cy="216"/><circle cx="176" cy="218"/><circle cx="139" cy="222"/><circle cx="169" cy="225"/><circle cx="164" cy="229"/><circle cx="344" cy="233"/><circle cx="139" cy="233"/><circle cx="170" cy="237"/><circle cx="284" cy="247"/><circle cx="351" cy="252"/><circle cx="315" cy="257"/><circle cx="349" cy="268"/><circle cx="355" cy="273"/><circle cx="347" cy="279"/><circle cx="292" cy="298"/><circle cx="232" cy="304"/><circle cx="353" cy="317"/><circle cx="317" cy="350"/><circle cx="339" cy="357"/><circle cx="312" cy="364"/><circle cx="284" cy="371"/><circle cx="368" cy="378"/><circle cx="451" cy="385"/><circle cx="340" cy="392"/><circle cx="367" cy="426"/><circle cx="312" cy="433"/><circle cx="280" cy="440"/><circle cx="239" cy="446"/><circle cx="169" cy="472"/><circle cx="166" cy="502"/><circle cx="217" cy="507"/><circle cx="454" cy="512"/><circle cx="335" cy="517"/><circle cx="459" cy="522"/><circle cx="357" cy="527"/><circle cx="374" cy="535"/><circle cx="345" cy="538"/><circle cx="357" cy="541"/><circle cx="427" cy="544"/><circle cx="424" cy="548"/><circle cx="373" cy="550"/><circle cx="428" cy="551"/><circle cx="332" cy="552"/><circle cx="335" cy="552"/><circle cx="306" cy="552"/><circle cx="304" cy="551"/><circle cx="320" cy="550"/><circle cx="274" cy="549"/><circle cx="272" cy="546"/><circle cx="139" cy="538"/><circle cx="172" cy="534"/><circle cx="170" cy="530"/><circle cx="200" cy="526"/><circle cx="335" cy="513"/><circle cx="169" cy="497"/><circle cx="168" cy="491"/><circle cx="166" cy="485"/><circle cx="169" cy="479"/><circle cx="166" cy="473"/><circle cx="167" cy="467"/><circle cx="169" cy="454"/><circle cx="184" cy="447"/><circle cx="183" cy="434"/><circle cx="339" cy="427"/><circle cx="164" cy="421"/><circle cx="212" cy="407"/><circle cx="236" cy="393"/><circle cx="274" cy="372"/><circle cx="335" cy="352"/><circle cx="300" cy="345"/><circle cx="359" cy="338"/><circle cx="384" cy="332"/><circle cx="339" cy="325"/><circle cx="338" cy="318"/><circle cx="332" cy="306"/><circle cx="356" cy="293"/><circle cx="300" cy="287"/><circle cx="382" cy="264"/><circle cx="324" cy="253"/><circle cx="325" cy="249"/><circle cx="314" cy="239"/><circle cx="383" cy="235"/><circle cx="323" cy="231"/><circle cx="319" cy="227"/><circle cx="472" cy="223"/><circle cx="354" cy="215"/><circle cx="261" cy="212"/><circle cx="281" cy="210"/><circle cx="139" cy="209"/><circle cx="261" cy="207"/><circle cx="218" cy="207"/><circle cx="241" cy="207"/><circle cx="216" cy="207"/><circle cx="217" cy="209"/><circle cx="229" cy="210"/><circle cx="347" cy="212"/><circle cx="257" cy="215"/><circle cx="241" cy="217"/><circle cx="362" cy="220"/><circle cx="406" cy="227"/><circle cx="330" cy="231"/><circle cx="325" cy="235"/><circle cx="335" cy="239"/><circle cx="352" cy="244"/><circle cx="359" cy="248"/><circle cx="407" cy="253"/><circle cx="353" cy="264"/><circle cx="344" cy="269"/><circle cx="383" cy="275"/><circle cx="341" cy="281"/><circle cx="291" cy="287"/><circle cx="281" cy="299"/><circle cx="301" cy="305"/><circle cx="334" cy="312"/><circle cx="408" cy="318"/><circle cx="348" cy="325"/><circle cx="287" cy="331"/><circle cx="226" cy="338"/><circle cx="359" cy="365"/><circle cx="276" cy="372"/><circle cx="359" cy="386"/><circle cx="139" cy="386"/><circle cx="437" cy="393"/><circle cx="406" cy="400"/><circle cx="492" cy="414"/><circle cx="481" cy="428"/><circle cx="414" cy="441"/><circle cx="340" cy="454"/><circle cx="309" cy="461"/><circle cx="303" cy="467"/><circle cx="262" cy="480"/><circle cx="201" cy="514"/><circle cx="169" cy="519"/><circle cx="187" cy="524"/><circle cx="349" cy="532"/><circle cx="169" cy="536"/><circle cx="167" cy="543"/><circle cx="237" cy="548"/></g>
<g fill="#9dd93b" stroke="#9dd93b"><circle cx="234" cy="550"/><circle cx="264" cy="552"/><circle cx="338" cy="553"/><circle cx="429" cy="554"/><circle cx="364" cy="554"/><circle cx="139" cy="554"/><circle cx="242" cy="553"/><circle cx="371" cy="552"/><circle cx="444" cy="550"/><circle cx="348" cy="547"/><circle cx="304" cy="539"/><circle cx="343" cy="536"/><circle cx="339" cy="532"/><circle cx="299" cy="519"/><circle cx="354" cy="514"/><circle cx="276" cy="509"/><circle cx="389" cy="492"/><circle cx="394" cy="486"/><circle cx="396" cy="480"/><circle cx="343" cy="474"/><circle cx="387" cy="448"/><circle cx="339" cy="422"/><circle cx="305" cy="415"/><circle cx="323" cy="394"/><circle cx="474" cy="380"/><circle cx="211" cy="373"/><circle cx="357" cy="366"/><circle cx="310" cy="339"/><circle cx="291" cy="333"/><circle cx="264" cy="319"/><circle cx="212" cy="307"/><circle cx="408" cy="294"/><circle cx="139" cy="294"/><circle cx="318" cy="288"/><circle cx="250" cy="282"/><circle cx="237" cy="271"/><circle cx="228" cy="265"/><circle cx="223" cy="260"/><circle cx="257" cy="255"/><circle cx="333" cy="250"/><circle cx="390" cy="245"/><circle cx="332" cy="241"/><circle cx="469" cy="236"/><circle cx="451" cy="232"/><circle cx="408" cy="228"/><circle cx="438" cy="225"/><circle cx="453" cy="222"/><circle cx="454" cy="219"/><circle cx="419" cy="216"/><circle cx="380" cy="214"/><circle cx="389" cy="212"/><circle cx="288" cy="210"/><circle cx="252" cy="209"/><circle cx="208" cy="208"/><circle cx="207" cy="208"/><circle cx="227" cy="207"/><circle cx="249" cy="208"/><circle cx="269" cy="209"/><circle cx="538" cy="210"/><circle cx="226" cy="212"/><circle cx="261" cy="214"/><circle cx="201" cy="216"/><circle cx="295" cy="219"/><circle cx="310" cy="222"/><circle cx="260" cy="228"/><circle cx="222" cy="232"/><circle cx="218" cy="236"/><circle cx="225" cy="245"/><circle cx="259" cy="260"/><circle cx="217" cy="265"/><circle cx="361" cy="271"/><circle cx="253" cy="282"/><circle cx="415" cy="288"/><circle cx="304" cy="294"/><circle cx="359" cy="307"/><circle cx="325" cy="313"/><circle cx="327" cy="320"/><circle cx="419" cy="326"/><circle cx="365" cy="353"/><circle cx="139" cy="367"/><circle cx="400" cy="394"/><circle cx="139" cy="408"/><circle cx="380" cy="415"/><circle cx="261" cy="436"/><circle cx="386" cy="456"/><circle cx="334" cy="462"/><circle cx="350" cy="487"/><circle cx="360" cy="493"/><circle cx="437" cy="510"/><circle cx="414" cy="515"/><circle cx="376" cy="520"/><circle cx="423" cy="525"/><circle cx="387" cy="534"/><circle cx="378" cy="538"/><circle cx="336" cy="541"/><circle cx="293" cy="544"/><circle cx="350" cy="547"/><circle cx="302" cy="555"/><circle cx="229" cy="555"/><circle cx="289" cy="555"/><circle cx="453" cy="554"/><circle cx="406" cy="552"/><circle cx="378" cy="549"/><circle cx="368" cy="546"/><circle cx="305" cy="544"/><circle cx="379" cy="540"/><circle cx="308" cy="533"/><circle cx="187" cy="525"/><circle cx="221" cy="520"/><circle cx="167" cy="515"/><circle cx="139" cy="515"/><circle cx="188" cy="510"/><circle cx="164" cy="505"/><circle cx="167" cy="499"/><circle cx="250" cy="487"/><circle cx="236" cy="481"/><circle cx="294" cy="475"/><circle cx="230" cy="469"/><circle cx="167" cy="456"/><circle cx="361" cy="443"/><circle cx="203" cy="436"/><circle cx="289" cy="423"/><circle cx="436" cy="416"/><circle cx="185" cy="402"/><circle cx="431" cy="388"/><circle cx="330" cy="381"/><circle cx="263" cy="374"/><circle cx="291" cy="367"/><circle cx="323" cy="361"/><circle cx="357" cy="354"/><circle cx="316" cy="347"/><circle cx="287" cy="334"/><circle cx="274" cy="321"/><circle cx="139" cy="321"/><circle cx="456" cy="314"/><circle cx="275" cy="308"/><circle cx="275" cy="301"/><circle cx="591" cy="289"/><circle cx="252" cy="266"/><circle cx="248" cy="261"/><circle cx="227" cy="256"/><circle cx="214" cy="251"/><circle cx="202" cy="246"/><circle cx="211" cy="242"/><circle cx="336" cy="238"/><circle cx="360" cy="234"/><circle cx="353" cy="230"/><circle cx="391" cy="226"/><circle cx="336" cy="218"/><circle cx="139" cy="215"/><circle cx="227" cy="213"/><circle cx="203" cy="212"/><circle cx="256" cy="211"/><circle cx="139" cy="211"/><circle cx="316" cy="210"/><circle cx="230" cy="209"/><circle cx="417" cy="209"/><circle cx="139" cy="209"/><circle cx="208" cy="209"/><circle cx="174" cy="210"/><circle cx="346" cy="211"/><circle cx="202" cy="215"/><circle cx="190" cy="220"/><circle cx="167" cy="223"/><circle cx="209" cy="226"/><circle cx="193" cy="230"/><circle cx="172" cy="234"/><circle cx="165" cy="238"/><circle cx="165" cy="242"/><circle cx="168" cy="251"/><circle cx="367" cy="261"/><circle cx="169" cy="272"/><circle cx="167" cy="278"/><circle cx="168" cy="284"/><circle cx="166" cy="290"/><circle cx="139" cy="290"/><circle cx="337" cy="296"/><circle cx="224" cy="302"/><circle cx="165" cy="321"/><circle cx="204" cy="348"/><circle cx="260" cy="361"/><circle cx="274" cy="368"/><circle cx="139" cy="368"/><circle cx="233" cy="375"/><circle cx="257" cy="382"/><circle cx="168" cy="423"/><circle cx="165" cy="430"/><circle cx="139" cy="430"/><circle cx="168" cy="437"/><circle cx="169" cy="444"/><circle cx="335" cy="470"/><circle cx="345" cy="483"/><circle cx="352" cy="495"/><circle cx="310" cy="501"/><circle cx="199" cy="517"/><circle cx="384" cy="522"/><circle cx="166" cy="531"/><circle cx="166" cy="535"/><circle cx="170" cy="539"/><circle cx="457" cy="543"/><circle cx="169" cy="546"/><circle cx="393" cy="549"/><circle cx="264" cy="553"/><circle cx="165" cy="556"/><circle cx="222" cy="555"/><circle cx="239" cy="554"/><circle cx="274" cy="550"/><circle cx="273" cy="542"/><circle cx="321" cy="506"/><circle cx="509" cy="500"/><circle cx="351" cy="494"/><circle cx="381" cy="482"/><circle cx="224" cy="464"/><circle cx="345" cy="457"/><circle cx="398" cy="451"/><circle cx="432" cy="444"/><circle cx="268" cy="430"/><circle cx="338" cy="417"/><circle cx="245" cy="396"/><circle cx="285" cy="375"/><circle cx="182" cy="348"/><circle cx="213" cy="341"/><circle cx="202" cy="335"/><circle cx="221" cy="328"/><circle cx="210" cy="322"/><circle cx="290" cy="315"/><circle cx="139" cy="309"/><circle cx="372" cy="303"/><circle cx="287" cy="296"/><circle cx="225" cy="284"/><circle cx="312" cy="257"/><circle cx="349" cy="243"/><circle cx="430" cy="235"/><circle cx="223" cy="231"/><circle cx="292" cy="228"/><circle cx="356" cy="225"/><circle cx="299" cy="222"/><circle cx="324" cy="217"/><circle cx="329" cy="215"/><circle cx="307" cy="213"/><circle cx="264" cy="212"/><circle cx="306" cy="211"/><circle cx="312" cy="211"/><circle cx="227" cy="211"/><circle cx="382" cy="211"/><circle cx="199" cy="212"/><circle cx="240" cy="213"/><circle cx="287" cy="215"/><circle cx="139" cy="215"/><circle cx="261" cy="217"/><circle cx="249" cy="219"/><circle cx="286" cy="225"/><circle cx="406" cy="228"/><circle cx="168" cy="232"/><circle cx="194" cy="235"/><circle cx="269" cy="239"/><circle cx="398" cy="244"/><circle cx="184" cy="248"/><circle cx="218" cy="258"/><circle cx="362" cy="268"/><circle cx="214" cy="274"/><circle cx="285" cy="297"/><circle cx="319" cy="303"/><circle cx="307" cy="310"/><circle cx="303" cy="316"/><circle cx="366" cy="329"/><circle cx="297" cy="342"/><circle cx="242" cy="349"/><circle cx="295" cy="356"/><circle cx="421" cy="363"/><circle cx="192" cy="369"/><circle cx="244" cy="376"/><circle cx="327" cy="383"/><circle cx="356" cy="404"/><circle cx="212" cy="418"/><circle cx="248" cy="432"/><circle cx="254" cy="438"/><circle cx="280" cy="445"/><circle cx="305" cy="452"/><circle cx="332" cy="459"/><circle cx="319" cy="465"/><circle cx="279" cy="478"/><circle cx="305" cy="484"/><circle cx="289" cy="496"/><circle cx="362" cy="502"/><circle cx="332" cy="508"/><circle cx="393" cy="513"/><circle cx="377" cy="518"/><circle cx="383" cy="523"/><circle cx="349" cy="533"/><circle cx="423" cy="537"/><circle cx="420" cy="541"/><circle cx="280" cy="544"/><circle cx="226" cy="548"/><circle cx="234" cy="550"/><circle cx="285" cy="553"/><circle cx="424" cy="555"/><circle cx="235" cy="556"/><circle cx="170" cy="558"/><circle cx="176" cy="558"/><circle cx="263" cy="559"/><circle cx="302" cy="558"/><circle cx="264" cy="555"/><circle cx="271" cy="552"/><circle cx="308" cy="549"/><circle cx="385" cy="546"/><circle cx="331" cy="540"/><circle cx="139" cy="536"/><circle cx="297" cy="532"/><circle cx="252" cy="518"/><circle cx="251" cy="512"/><circle cx="251" cy="501"/><circle cx="284" cy="490"/><circle cx="316" cy="484"/><circle cx="400" cy="477"/><circle cx="280" cy="471"/><circle cx="210" cy="445"/><circle cx="165" cy="431"/><circle cx="166" cy="425"/><circle cx="166" cy="418"/><circle cx="165" cy="397"/><circle cx="164" cy="390"/><circle cx="166" cy="383"/><circle cx="167" cy="376"/><circle cx="202" cy="370"/><circle cx="249" cy="356"/><circle cx="251" cy="349"/><circle cx="201" cy="342"/><circle cx="139" cy="342"/><circle cx="164" cy="336"/><circle cx="242" cy="323"/><circle cx="280" cy="316"/><circle cx="342" cy="310"/><circle cx="457" cy="304"/><circle cx="139" cy="304"/><circle cx="242" cy="298"/><circle cx="277" cy="292"/><circle cx="510" cy="269"/><circle cx="181" cy="259"/><circle cx="274" cy="254"/><circle cx="215" cy="249"/><circle cx="229" cy="240"/><circle cx="389" cy="236"/><circle cx="223" cy="233"/><circle cx="249" cy="229"/><circle cx="249" cy="226"/><circle cx="404" cy="223"/><circle cx="245" cy="221"/><circle cx="200" cy="218"/><circle cx="168" cy="212"/><circle cx="169" cy="212"/><circle cx="214" cy="213"/><circle cx="260" cy="215"/><circle cx="280" cy="217"/><circle cx="328" cy="219"/><circle cx="139" cy="219"/><circle cx="198" cy="221"/><circle cx="320" cy="226"/><circle cx="343" cy="230"/><circle cx="436" cy="233"/><circle cx="284" cy="237"/><circle cx="257" cy="241"/><circle cx="191" cy="245"/><circle cx="256" cy="250"/><circle cx="259" cy="259"/><circle cx="385" cy="264"/><circle cx="363" cy="270"/><circle cx="411" cy="275"/><circle cx="451" cy="287"/><circle cx="427" cy="292"/><circle cx="348" cy="298"/><circle cx="349" cy="305"/><circle cx="342" cy="311"/><circle cx="291" cy="317"/><circle cx="290" cy="324"/><circle cx="326" cy="330"/><circle cx="351" cy="337"/><circle cx="258" cy="357"/><circle cx="345" cy="364"/><circle cx="427" cy="371"/><circle cx="330" cy="378"/><circle cx="268" cy="398"/><circle cx="233" cy="412"/><circle cx="278" cy="426"/><circle cx="328" cy="440"/><circle cx="321" cy="447"/><circle cx="334" cy="453"/><circle cx="398" cy="460"/><circle cx="456" cy="466"/><circle cx="383" cy="473"/><circle cx="489" cy="479"/><circle cx="359" cy="492"/><circle cx="326" cy="498"/><circle cx="276" cy="503"/><circle cx="344" cy="509"/><circle cx="272" cy="534"/><circle cx="290" cy="538"/></g>
<g fill="#a8db34" stroke="#a8db34"><circle cx="296" cy="552"/><circle cx="249" cy="556"/><circle cx="274" cy="558"/><circle cx="299" cy="560"/><circle cx="235" cy="560"/><circle cx="249" cy="559"/><circle cx="201" cy="558"/><circle cx="294" cy="553"/><circle cx="331" cy="551"/><circle cx="315" cy="545"/><circle cx="367" cy="537"/><circle cx="422" cy="529"/><circle cx="182" cy="524"/><circle cx="139" cy="524"/><circle cx="398" cy="508"/><circle cx="406" cy="503"/><circle cx="364" cy="491"/><circle cx="350" cy="485"/><circle cx="500" cy="479"/><circle cx="226" cy="466"/><circle cx="241" cy="439"/><circle cx="322" cy="426"/><circle cx="259" cy="419"/><circle cx="245" cy="405"/><circle cx="523" cy="391"/><circle cx="389" cy="384"/><circle cx="139" cy="384"/><circle cx="387" cy="377"/><circle cx="313" cy="364"/><circle cx="364" cy="357"/><circle cx="383" cy="350"/><circle cx="352" cy="337"/><circle cx="139" cy="330"/><circle cx="184" cy="324"/><circle cx="214" cy="311"/><circle cx="240" cy="305"/><circle cx="173" cy="299"/><circle cx="240" cy="275"/><circle cx="330" cy="270"/><circle cx="334" cy="265"/><circle cx="297" cy="260"/><circle cx="284" cy="255"/><circle cx="270" cy="250"/><circle cx="330" cy="246"/><circle cx="399" cy="242"/><circle cx="395" cy="238"/><circle cx="368" cy="234"/><circle cx="424" cy="231"/><circle cx="375" cy="227"/><circle cx="415" cy="225"/><circle cx="379" cy="222"/><circle cx="348" cy="220"/><circle cx="327" cy="218"/><circle cx="390" cy="216"/><circle cx="284" cy="214"/><circle cx="348" cy="214"/><circle cx="254" cy="215"/><circle cx="220" cy="217"/><circle cx="139" cy="218"/><circle cx="358" cy="220"/><circle cx="376" cy="222"/><circle cx="395" cy="225"/><circle cx="328" cy="231"/><circle cx="388" cy="235"/><circle cx="427" cy="242"/><circle cx="271" cy="251"/><circle cx="323" cy="256"/><circle cx="374" cy="261"/><circle cx="366" cy="266"/><circle cx="462" cy="271"/><circle cx="344" cy="277"/><circle cx="410" cy="288"/><circle cx="349" cy="294"/><circle cx="456" cy="300"/><circle cx="345" cy="312"/><circle cx="139" cy="312"/><circle cx="263" cy="319"/><circle cx="272" cy="325"/><circle cx="248" cy="332"/><circle cx="424" cy="345"/><circle cx="410" cy="365"/><circle cx="250" cy="372"/><circle cx="254" cy="379"/><circle cx="274" cy="386"/><circle cx="335" cy="393"/><circle cx="347" cy="400"/><circle cx="185" cy="421"/><circle cx="165" cy="427"/><circle cx="203" cy="434"/><circle cx="167" cy="448"/><circle cx="205" cy="455"/><circle cx="388" cy="461"/><circle cx="358" cy="468"/><circle cx="139" cy="468"/><circle cx="311" cy="474"/><circle cx="461" cy="481"/><circle cx="395" cy="487"/><circle cx="333" cy="493"/><circle cx="296" cy="499"/><circle cx="390" cy="511"/><circle cx="334" cy="540"/><circle cx="315" cy="544"/><circle cx="238" cy="551"/><circle cx="176" cy="554"/><circle cx="259" cy="556"/><circle cx="170" cy="558"/><circle cx="449" cy="560"/><circle cx="168" cy="561"/><circle cx="167" cy="561"/><circle cx="459" cy="562"/><circle cx="168" cy="561"/><circle cx="205" cy="560"/><circle cx="411" cy="552"/><circle cx="247" cy="546"/><circle cx="198" cy="542"/><circle cx="320" cy="534"/><circle cx="309" cy="530"/><circle cx="258" cy="520"/><circle cx="331" cy="515"/><circle cx="392" cy="509"/><circle cx="369" cy="492"/><circle cx="139" cy="486"/><circle cx="382" cy="480"/><circle cx="353" cy="473"/><circle cx="374" cy="467"/><circle cx="316" cy="447"/><circle cx="309" cy="440"/><circle cx="327" cy="433"/><circle cx="351" cy="427"/><circle cx="347" cy="420"/><circle cx="329" cy="399"/><circle cx="192" cy="392"/><circle cx="206" cy="385"/><circle cx="172" cy="365"/><circle cx="252" cy="358"/><circle cx="204" cy="345"/><circle cx="217" cy="331"/><circle cx="558" cy="325"/><circle cx="216" cy="312"/><circle cx="199" cy="300"/><circle cx="229" cy="294"/><circle cx="186" cy="288"/><circle cx="206" cy="282"/><circle cx="335" cy="261"/><circle cx="191" cy="252"/><circle cx="186" cy="247"/><circle cx="272" cy="243"/><circle cx="309" cy="235"/><circle cx="406" cy="229"/><circle cx="459" cy="226"/><circle cx="139" cy="226"/><circle cx="314" cy="221"/><circle cx="291" cy="219"/><circle cx="223" cy="218"/><circle cx="331" cy="217"/><circle cx="339" cy="215"/><circle cx="337" cy="215"/><circle cx="329" cy="215"/><circle cx="358" cy="217"/><circle cx="377" cy="218"/><circle cx="368" cy="220"/><circle cx="368" cy="222"/><circle cx="420" cy="224"/><circle cx="339" cy="227"/><circle cx="410" cy="230"/><circle cx="425" cy="233"/><circle cx="363" cy="236"/><circle cx="434" cy="240"/><circle cx="372" cy="244"/><circle cx="368" cy="248"/><circle cx="366" cy="253"/><circle cx="359" cy="262"/><circle cx="341" cy="267"/><circle cx="331" cy="273"/><circle cx="462" cy="278"/><circle cx="389" cy="289"/><circle cx="357" cy="295"/><circle cx="425" cy="307"/><circle cx="429" cy="320"/><circle cx="381" cy="326"/><circle cx="412" cy="340"/><circle cx="406" cy="360"/><circle cx="485" cy="380"/><circle cx="390" cy="387"/><circle cx="382" cy="394"/><circle cx="426" cy="401"/><circle cx="374" cy="415"/><circle cx="263" cy="429"/><circle cx="466" cy="442"/><circle cx="360" cy="456"/><circle cx="340" cy="469"/><circle cx="243" cy="482"/><circle cx="168" cy="488"/><circle cx="210" cy="512"/><circle cx="224" cy="517"/><circle cx="200" cy="528"/><circle cx="224" cy="537"/><circle cx="184" cy="541"/><circle cx="329" cy="545"/><circle cx="298" cy="552"/><circle cx="218" cy="555"/><circle cx="205" cy="558"/><circle cx="188" cy="560"/><circle cx="380" cy="561"/><circle cx="295" cy="562"/><circle cx="206" cy="563"/><circle cx="238" cy="562"/><circle cx="295" cy="561"/><circle cx="259" cy="554"/><circle cx="235" cy="551"/><circle cx="237" cy="547"/><circle cx="187" cy="536"/><circle cx="240" cy="531"/><circle cx="230" cy="521"/><circle cx="302" cy="516"/><circle cx="348" cy="511"/><circle cx="356" cy="499"/><circle cx="179" cy="493"/><circle cx="198" cy="455"/><circle cx="228" cy="448"/><circle cx="300" cy="441"/><circle cx="229" cy="428"/><circle cx="139" cy="428"/><circle cx="225" cy="414"/><circle cx="164" cy="379"/><circle cx="169" cy="373"/><circle cx="139" cy="373"/><circle cx="404" cy="366"/><circle cx="168" cy="359"/><circle cx="164" cy="339"/><circle cx="171" cy="326"/><circle cx="139" cy="326"/><circle cx="327" cy="320"/><circle cx="139" cy="307"/><circle cx="215" cy="301"/><circle cx="244" cy="295"/><circle cx="219" cy="278"/><circle cx="184" cy="273"/><circle cx="195" cy="267"/><circle cx="302" cy="257"/><circle cx="331" cy="253"/><circle cx="334" cy="244"/><circle cx="291" cy="240"/><circle cx="303" cy="237"/><circle cx="350" cy="233"/><circle cx="379" cy="227"/><circle cx="409" cy="225"/><circle cx="423" cy="223"/><circle cx="415" cy="221"/><circle cx="341" cy="218"/><circle cx="388" cy="217"/><circle cx="139" cy="217"/><circle cx="355" cy="217"/><circle cx="139" cy="218"/><circle cx="294" cy="219"/><circle cx="436" cy="220"/><circle cx="187" cy="221"/><circle cx="279" cy="228"/><circle cx="198" cy="231"/><circle cx="277" cy="234"/><circle cx="241" cy="238"/><circle cx="245" cy="241"/><circle cx="206" cy="250"/><circle cx="270" cy="259"/><circle cx="303" cy="264"/><circle cx="276" cy="269"/><circle cx="338" cy="274"/><circle cx="326" cy="285"/><circle cx="287" cy="303"/><circle cx="423" cy="309"/><circle cx="289" cy="315"/><circle cx="139" cy="315"/><circle cx="296" cy="321"/><circle cx="428" cy="328"/><circle cx="307" cy="348"/><circle cx="139" cy="348"/><circle cx="244" cy="361"/><circle cx="243" cy="382"/><circle cx="352" cy="388"/><circle cx="139" cy="388"/><circle cx="336" cy="402"/><circle cx="312" cy="409"/><circle cx="327" cy="416"/><circle cx="328" cy="423"/><circle cx="267" cy="437"/><circle cx="235" cy="444"/><circle cx="207" cy="457"/><circle cx="229" cy="470"/><circle cx="442" cy="483"/><circle cx="139" cy="490"/><circle cx="164" cy="496"/><circle cx="177" cy="508"/><circle cx="204" cy="513"/><circle cx="246" cy="519"/><circle cx="292" cy="524"/><circle cx="360" cy="529"/><circle cx="382" cy="534"/><circle cx="139" cy="539"/><circle cx="350" cy="547"/><circle cx="443" cy="554"/><circle cx="369" cy="557"/><circle cx="284" cy="559"/><circle cx="258" cy="561"/><circle cx="287" cy="563"/><circle cx="258" cy="564"/><circle cx="139" cy="563"/><circle cx="286" cy="561"/><circle cx="177" cy="557"/><circle cx="168" cy="555"/><circle cx="237" cy="552"/><circle cx="320" cy="545"/><circle cx="361" cy="541"/><circle cx="368" cy="537"/><circle cx="271" cy="532"/><circle cx="295" cy="523"/><circle cx="139" cy="523"/><circle cx="270" cy="512"/><circle cx="207" cy="475"/><circle cx="259" cy="469"/><circle cx="286" cy="462"/><circle cx="247" cy="442"/><circle cx="139" cy="429"/><circle cx="227" cy="422"/><circle cx="168" cy="408"/><circle cx="165" cy="401"/><circle cx="167" cy="380"/><circle cx="208" cy="374"/><circle cx="218" cy="360"/><circle cx="231" cy="340"/><circle cx="258" cy="333"/><circle cx="278" cy="327"/><circle cx="245" cy="321"/><circle cx="228" cy="314"/><circle cx="286" cy="302"/><circle cx="243" cy="296"/><circle cx="305" cy="285"/><circle cx="282" cy="279"/><circle cx="288" cy="274"/><circle cx="318" cy="269"/><circle cx="242" cy="264"/><circle cx="343" cy="259"/><circle cx="287" cy="254"/><circle cx="541" cy="246"/><circle cx="291" cy="242"/><circle cx="275" cy="238"/><circle cx="290" cy="235"/><circle cx="394" cy="229"/><circle cx="368" cy="226"/><circle cx="341" cy="224"/><circle cx="401" cy="222"/><circle cx="399" cy="221"/><circle cx="318" cy="219"/><circle cx="652" cy="218"/><circle cx="291" cy="219"/><circle cx="436" cy="219"/><circle cx="375" cy="220"/><circle cx="343" cy="221"/><circle cx="345" cy="223"/><circle cx="139" cy="225"/><circle cx="258" cy="227"/><circle cx="242" cy="230"/><circle cx="238" cy="233"/><circle cx="237" cy="236"/><circle cx="230" cy="239"/><circle cx="264" cy="243"/><circle cx="250" cy="247"/><circle cx="230" cy="251"/><circle cx="194" cy="256"/><circle cx="252" cy="275"/><circle cx="280" cy="281"/><circle cx="296" cy="286"/><circle cx="313" cy="292"/><circle cx="313" cy="298"/><circle cx="331" cy="304"/><circle cx="456" cy="316"/><circle cx="265" cy="323"/><circle cx="286" cy="336"/><circle cx="278" cy="342"/><circle cx="348" cy="349"/><circle cx="361" cy="356"/><circle cx="354" cy="362"/><circle cx="306" cy="369"/><circle cx="324" cy="376"/><circle cx="301" cy="397"/><circle cx="273" cy="404"/><circle cx="139" cy="404"/><circle cx="139" cy="411"/><circle cx="139" cy="431"/><circle cx="340" cy="445"/><circle cx="386" cy="472"/><circle cx="139" cy="472"/><circle cx="375" cy="478"/><circle cx="399" cy="503"/><circle cx="350" cy="509"/><circle cx="298" cy="515"/><circle cx="139" cy="515"/><circle cx="303" cy="520"/><circle cx="139" cy="520"/></g>
<g fill="#b2dd2d" stroke="#b2dd2d"><circle cx="412" cy="540"/><circle cx="279" cy="558"/><circle cx="310" cy="561"/><circle cx="323" cy="563"/><circle cx="310" cy="564"/><circle cx="261" cy="565"/><circle cx="252" cy="566"/><circle cx="229" cy="566"/><circle cx="230" cy="565"/><circle cx="211" cy="564"/><circle cx="190" cy="562"/><circle cx="228" cy="556"/><circle cx="240" cy="553"/><circle cx="174" cy="543"/><circle cx="230" cy="538"/><circle cx="242" cy="534"/><circle cx="268" cy="529"/><circle cx="333" cy="524"/><circle cx="290" cy="518"/><circle cx="355" cy="495"/><circle cx="213" cy="483"/><circle cx="255" cy="477"/><circle cx="260" cy="470"/><circle cx="292" cy="443"/><circle cx="322" cy="437"/><circle cx="636" cy="430"/><circle cx="396" cy="402"/><circle cx="462" cy="395"/><circle cx="463" cy="388"/><circle cx="333" cy="381"/><circle cx="174" cy="361"/><circle cx="167" cy="354"/><circle cx="481" cy="348"/><circle cx="167" cy="341"/><circle cx="166" cy="335"/><circle cx="172" cy="322"/><circle cx="195" cy="315"/><circle cx="247" cy="309"/><circle cx="221" cy="303"/><circle cx="238" cy="291"/><circle cx="221" cy="286"/><circle cx="171" cy="280"/><circle cx="184" cy="275"/><circle cx="182" cy="270"/><circle cx="248" cy="265"/><circle cx="266" cy="260"/><circle cx="208" cy="255"/><circle cx="223" cy="251"/><circle cx="209" cy="247"/><circle cx="254" cy="243"/><circle cx="282" cy="239"/><circle cx="369" cy="236"/><circle cx="626" cy="233"/><circle cx="139" cy="233"/><circle cx="280" cy="230"/><circle cx="311" cy="228"/><circle cx="382" cy="226"/><circle cx="371" cy="224"/><circle cx="139" cy="224"/><circle cx="331" cy="222"/><circle cx="357" cy="221"/><circle cx="139" cy="221"/><circle cx="347" cy="220"/><circle cx="386" cy="220"/><circle cx="370" cy="220"/><circle cx="340" cy="220"/><circle cx="243" cy="221"/><circle cx="268" cy="223"/><circle cx="287" cy="224"/><circle cx="139" cy="224"/><circle cx="253" cy="226"/><circle cx="335" cy="229"/><circle cx="349" cy="231"/><circle cx="331" cy="237"/><circle cx="310" cy="241"/><circle cx="309" cy="244"/><circle cx="306" cy="253"/><circle cx="381" cy="262"/><circle cx="339" cy="272"/><circle cx="411" cy="277"/><circle cx="469" cy="282"/><circle cx="424" cy="288"/><circle cx="358" cy="293"/><circle cx="342" cy="299"/><circle cx="364" cy="305"/><circle cx="377" cy="311"/><circle cx="337" cy="318"/><circle cx="337" cy="330"/><circle cx="281" cy="337"/><circle cx="302" cy="350"/><circle cx="398" cy="357"/><circle cx="435" cy="370"/><circle cx="139" cy="370"/><circle cx="432" cy="377"/><circle cx="489" cy="384"/><circle cx="444" cy="391"/><circle cx="374" cy="398"/><circle cx="467" cy="405"/><circle cx="348" cy="412"/><circle cx="377" cy="419"/><circle cx="139" cy="419"/><circle cx="346" cy="426"/><circle cx="338" cy="432"/><circle cx="286" cy="460"/><circle cx="235" cy="492"/><circle cx="405" cy="498"/><circle cx="174" cy="510"/><circle cx="462" cy="516"/><circle cx="328" cy="527"/><circle cx="349" cy="537"/><circle cx="445" cy="542"/><circle cx="318" cy="550"/><circle cx="293" cy="553"/><circle cx="349" cy="557"/><circle cx="292" cy="560"/><circle cx="320" cy="564"/><circle cx="239" cy="567"/><circle cx="330" cy="567"/><circle cx="343" cy="564"/><circle cx="192" cy="558"/><circle cx="196" cy="555"/><circle cx="475" cy="548"/><circle cx="139" cy="544"/><circle cx="337" cy="540"/><circle cx="351" cy="535"/><circle cx="340" cy="530"/><circle cx="358" cy="525"/><circle cx="262" cy="514"/><circle cx="176" cy="508"/><circle cx="228" cy="503"/><circle cx="371" cy="496"/><circle cx="227" cy="484"/><circle cx="490" cy="478"/><circle cx="311" cy="471"/><circle cx="325" cy="465"/><circle cx="431" cy="458"/><circle cx="219" cy="424"/><circle cx="361" cy="417"/><circle cx="327" cy="410"/><circle cx="346" cy="396"/><circle cx="372" cy="389"/><circle cx="314" cy="382"/><circle cx="374" cy="369"/><circle cx="291" cy="362"/><circle cx="265" cy="355"/><circle cx="259" cy="349"/><circle cx="139" cy="349"/><circle cx="320" cy="336"/><circle cx="346" cy="329"/><circle cx="379" cy="323"/><circle cx="313" cy="317"/><circle cx="272" cy="310"/><circle cx="255" cy="287"/><circle cx="275" cy="281"/><circle cx="291" cy="276"/><circle cx="304" cy="271"/><circle cx="230" cy="266"/><circle cx="234" cy="261"/><circle cx="181" cy="257"/><circle cx="172" cy="252"/><circle cx="349" cy="248"/><circle cx="167" cy="244"/><circle cx="183" cy="241"/><circle cx="234" cy="238"/><circle cx="469" cy="229"/><circle cx="185" cy="227"/><circle cx="359" cy="224"/><circle cx="208" cy="222"/><circle cx="139" cy="221"/><circle cx="388" cy="222"/><circle cx="427" cy="222"/><circle cx="430" cy="223"/><circle cx="385" cy="224"/><circle cx="139" cy="226"/><circle cx="328" cy="230"/><circle cx="378" cy="233"/><circle cx="328" cy="239"/><circle cx="292" cy="242"/><circle cx="304" cy="246"/><circle cx="334" cy="258"/><circle cx="357" cy="263"/><circle cx="320" cy="268"/><circle cx="380" cy="273"/><circle cx="375" cy="278"/><circle cx="284" cy="284"/><circle cx="275" cy="295"/><circle cx="241" cy="301"/><circle cx="174" cy="307"/><circle cx="192" cy="313"/><circle cx="139" cy="313"/><circle cx="221" cy="319"/><circle cx="177" cy="325"/><circle cx="238" cy="345"/><circle cx="362" cy="351"/><circle cx="439" cy="365"/><circle cx="419" cy="372"/><circle cx="445" cy="378"/><circle cx="139" cy="378"/><circle cx="538" cy="413"/><circle cx="227" cy="420"/><circle cx="139" cy="420"/><circle cx="192" cy="427"/><circle cx="227" cy="434"/><circle cx="169" cy="441"/><circle cx="261" cy="447"/><circle cx="139" cy="454"/><circle cx="311" cy="461"/><circle cx="366" cy="474"/><circle cx="139" cy="474"/><circle cx="366" cy="500"/><circle cx="309" cy="506"/><circle cx="289" cy="523"/><circle cx="331" cy="533"/><circle cx="309" cy="538"/><circle cx="240" cy="547"/><circle cx="358" cy="551"/><circle cx="242" cy="561"/><circle cx="243" cy="564"/><circle cx="298" cy="568"/><circle cx="330" cy="569"/><circle cx="309" cy="568"/><circle cx="363" cy="567"/><circle cx="425" cy="565"/><circle cx="418" cy="562"/><circle cx="269" cy="549"/><circle cx="296" cy="545"/><circle cx="241" cy="526"/><circle cx="343" cy="510"/><circle cx="252" cy="504"/><circle cx="232" cy="491"/><circle cx="362" cy="485"/><circle cx="413" cy="472"/><circle cx="220" cy="466"/><circle cx="293" cy="452"/><circle cx="258" cy="445"/><circle cx="280" cy="439"/><circle cx="139" cy="439"/><circle cx="348" cy="425"/><circle cx="285" cy="418"/><circle cx="311" cy="397"/><circle cx="261" cy="390"/><circle cx="178" cy="384"/><circle cx="209" cy="377"/><circle cx="215" cy="370"/><circle cx="185" cy="356"/><circle cx="184" cy="350"/><circle cx="171" cy="343"/><circle cx="166" cy="337"/><circle cx="190" cy="330"/><circle cx="230" cy="324"/><circle cx="175" cy="318"/><circle cx="266" cy="305"/><circle cx="272" cy="300"/><circle cx="240" cy="294"/><circle cx="221" cy="288"/><circle cx="139" cy="283"/><circle cx="234" cy="277"/><circle cx="306" cy="267"/><circle cx="379" cy="263"/><circle cx="346" cy="258"/><circle cx="406" cy="250"/><circle cx="422" cy="246"/><circle cx="430" cy="239"/><circle cx="427" cy="236"/><circle cx="330" cy="229"/><circle cx="380" cy="227"/><circle cx="429" cy="224"/><circle cx="398" cy="223"/><circle cx="354" cy="223"/><circle cx="280" cy="223"/><circle cx="249" cy="224"/><circle cx="293" cy="225"/><circle cx="217" cy="229"/><circle cx="139" cy="229"/><circle cx="408" cy="234"/><circle cx="399" cy="237"/><circle cx="387" cy="240"/><circle cx="301" cy="244"/><circle cx="476" cy="251"/><circle cx="438" cy="255"/><circle cx="364" cy="260"/><circle cx="321" cy="269"/><circle cx="321" cy="274"/><circle cx="520" cy="279"/><circle cx="304" cy="285"/><circle cx="343" cy="290"/><circle cx="294" cy="308"/><circle cx="223" cy="314"/><circle cx="343" cy="326"/><circle cx="287" cy="333"/><circle cx="346" cy="353"/><circle cx="139" cy="359"/><circle cx="337" cy="366"/><circle cx="339" cy="380"/><circle cx="406" cy="386"/><circle cx="263" cy="393"/><circle cx="139" cy="407"/><circle cx="242" cy="414"/><circle cx="236" cy="428"/><circle cx="346" cy="442"/><circle cx="518" cy="449"/><circle cx="139" cy="462"/><circle cx="358" cy="476"/><circle cx="294" cy="488"/><circle cx="384" cy="495"/><circle cx="234" cy="507"/><circle cx="281" cy="513"/><circle cx="293" cy="519"/><circle cx="331" cy="524"/><circle cx="443" cy="553"/><circle cx="254" cy="556"/><circle cx="347" cy="560"/><circle cx="307" cy="563"/><circle cx="221" cy="567"/><circle cx="338" cy="569"/><circle cx="245" cy="570"/><circle cx="408" cy="571"/><circle cx="186" cy="571"/><circle cx="169" cy="571"/><circle cx="169" cy="570"/><circle cx="169" cy="568"/><circle cx="139" cy="563"/><circle cx="329" cy="561"/><circle cx="294" cy="558"/><circle cx="419" cy="554"/><circle cx="241" cy="551"/><circle cx="169" cy="547"/><circle cx="287" cy="516"/><circle cx="207" cy="505"/><circle cx="217" cy="486"/><circle cx="273" cy="453"/><circle cx="198" cy="440"/><circle cx="139" cy="440"/><circle cx="357" cy="433"/><circle cx="139" cy="433"/><circle cx="269" cy="405"/><circle cx="282" cy="398"/><circle cx="305" cy="385"/><circle cx="292" cy="371"/><circle cx="167" cy="338"/><circle cx="322" cy="313"/><circle cx="298" cy="301"/><circle cx="339" cy="295"/><circle cx="304" cy="273"/><circle cx="409" cy="269"/><circle cx="365" cy="264"/><circle cx="337" cy="259"/><circle cx="460" cy="255"/><circle cx="288" cy="251"/><circle cx="316" cy="247"/><circle cx="277" cy="244"/><circle cx="342" cy="240"/><circle cx="187" cy="230"/><circle cx="164" cy="228"/><circle cx="166" cy="226"/><circle cx="175" cy="225"/><circle cx="167" cy="224"/><circle cx="168" cy="224"/><circle cx="139" cy="224"/><circle cx="165" cy="225"/><circle cx="185" cy="225"/><circle cx="212" cy="226"/><circle cx="230" cy="227"/><circle cx="246" cy="231"/><circle cx="283" cy="233"/><circle cx="325" cy="236"/><circle cx="348" cy="242"/><circle cx="351" cy="249"/><circle cx="468" cy="266"/><circle cx="343" cy="276"/><circle cx="424" cy="281"/><circle cx="139" cy="281"/><circle cx="403" cy="303"/><circle cx="387" cy="309"/><circle cx="412" cy="321"/><circle cx="398" cy="328"/><circle cx="271" cy="341"/><circle cx="315" cy="347"/><circle cx="309" cy="354"/><circle cx="311" cy="360"/><circle cx="297" cy="367"/><circle cx="165" cy="422"/><circle cx="139" cy="422"/><circle cx="383" cy="443"/><circle cx="272" cy="457"/><circle cx="169" cy="483"/><circle cx="139" cy="483"/><circle cx="166" cy="496"/><circle cx="168" cy="502"/><circle cx="169" cy="508"/><circle cx="168" cy="514"/><circle cx="164" cy="520"/></g>
<g fill="#bddf26" stroke="#bddf26"><circle cx="164" cy="531"/><circle cx="216" cy="536"/><circle cx="234" cy="546"/><circle cx="234" cy="550"/><circle cx="380" cy="561"/><circle cx="139" cy="561"/><circle cx="285" cy="564"/><circle cx="294" cy="567"/><circle cx="249" cy="569"/><circle cx="199" cy="570"/><circle cx="139" cy="570"/><circle cx="306" cy="572"/><circle cx="284" cy="572"/><circle cx="316" cy="571"/><circle cx="167" cy="559"/><circle cx="165" cy="552"/><circle cx="170" cy="548"/><circle cx="178" cy="529"/><circle cx="169" cy="523"/><circle cx="222" cy="518"/><circle cx="139" cy="518"/><circle cx="240" cy="506"/><circle cx="229" cy="500"/><circle cx="188" cy="494"/><circle cx="183" cy="487"/><circle cx="165" cy="481"/><circle cx="194" cy="461"/><circle cx="208" cy="454"/><circle cx="340" cy="447"/><circle cx="201" cy="441"/><circle cx="165" cy="427"/><circle cx="169" cy="420"/><circle cx="139" cy="420"/><circle cx="302" cy="399"/><circle cx="139" cy="379"/><circle cx="262" cy="365"/><circle cx="264" cy="358"/><circle cx="291" cy="326"/><circle cx="348" cy="320"/><circle cx="351" cy="314"/><circle cx="139" cy="314"/><circle cx="364" cy="308"/><circle cx="337" cy="296"/><circle cx="335" cy="291"/><circle cx="337" cy="285"/><circle cx="381" cy="280"/><circle cx="479" cy="275"/><circle cx="139" cy="275"/><circle cx="441" cy="261"/><circle cx="417" cy="252"/><circle cx="380" cy="248"/><circle cx="359" cy="245"/><circle cx="339" cy="239"/><circle cx="409" cy="236"/><circle cx="417" cy="234"/><circle cx="376" cy="231"/><circle cx="388" cy="230"/><circle cx="382" cy="228"/><circle cx="337" cy="226"/><circle cx="338" cy="226"/><circle cx="355" cy="226"/><circle cx="284" cy="228"/><circle cx="288" cy="229"/><circle cx="232" cy="235"/><circle cx="265" cy="237"/><circle cx="230" cy="240"/><circle cx="266" cy="243"/><circle cx="174" cy="254"/><circle cx="206" cy="263"/><circle cx="208" cy="267"/><circle cx="235" cy="272"/><circle cx="198" cy="293"/><circle cx="251" cy="299"/><circle cx="214" cy="305"/><circle cx="279" cy="317"/><circle cx="139" cy="323"/><circle cx="286" cy="329"/><circle cx="139" cy="335"/><circle cx="196" cy="342"/><circle cx="165" cy="348"/><circle cx="165" cy="362"/><circle cx="202" cy="382"/><circle cx="374" cy="389"/><circle cx="242" cy="417"/><circle cx="208" cy="430"/><circle cx="310" cy="437"/><circle cx="384" cy="444"/><circle cx="296" cy="458"/><circle cx="270" cy="478"/><circle cx="263" cy="485"/><circle cx="263" cy="491"/><circle cx="258" cy="497"/><circle cx="373" cy="504"/><circle cx="169" cy="510"/><circle cx="169" cy="516"/><circle cx="172" cy="521"/><circle cx="189" cy="527"/><circle cx="181" cy="532"/><circle cx="139" cy="559"/><circle cx="243" cy="563"/><circle cx="217" cy="568"/><circle cx="250" cy="573"/><circle cx="400" cy="573"/><circle cx="139" cy="573"/><circle cx="182" cy="560"/><circle cx="254" cy="557"/><circle cx="257" cy="553"/><circle cx="269" cy="549"/><circle cx="256" cy="540"/><circle cx="432" cy="535"/><circle cx="234" cy="530"/><circle cx="241" cy="519"/><circle cx="307" cy="501"/><circle cx="239" cy="488"/><circle cx="296" cy="482"/><circle cx="276" cy="475"/><circle cx="309" cy="469"/><circle cx="270" cy="455"/><circle cx="234" cy="448"/><circle cx="139" cy="448"/><circle cx="368" cy="435"/><circle cx="139" cy="435"/><circle cx="372" cy="428"/><circle cx="432" cy="421"/><circle cx="139" cy="414"/><circle cx="579" cy="387"/><circle cx="284" cy="380"/><circle cx="345" cy="373"/><circle cx="167" cy="353"/><circle cx="166" cy="340"/><circle cx="169" cy="333"/><circle cx="206" cy="321"/><circle cx="168" cy="315"/><circle cx="167" cy="303"/><circle cx="166" cy="297"/><circle cx="167" cy="292"/><circle cx="165" cy="286"/><circle cx="169" cy="276"/><circle cx="166" cy="271"/><circle cx="186" cy="266"/><circle cx="323" cy="246"/><circle cx="323" cy="243"/><circle cx="273" cy="240"/><circle cx="314" cy="237"/><circle cx="397" cy="231"/><circle cx="450" cy="230"/><circle cx="423" cy="229"/><circle cx="336" cy="228"/><circle cx="139" cy="228"/><circle cx="382" cy="227"/><circle cx="341" cy="228"/><circle cx="371" cy="228"/><circle cx="322" cy="230"/><circle cx="306" cy="232"/><circle cx="294" cy="234"/><circle cx="354" cy="241"/><circle cx="382" cy="245"/><circle cx="368" cy="248"/><circle cx="357" cy="252"/><circle cx="364" cy="255"/><circle cx="281" cy="260"/><circle cx="280" cy="264"/><circle cx="431" cy="269"/><circle cx="279" cy="273"/><circle cx="341" cy="278"/><circle cx="284" cy="283"/><circle cx="356" cy="289"/><circle cx="306" cy="294"/><circle cx="255" cy="300"/><circle cx="261" cy="306"/><circle cx="243" cy="318"/><circle cx="255" cy="324"/><circle cx="199" cy="330"/><circle cx="311" cy="337"/><circle cx="357" cy="343"/><circle cx="305" cy="350"/><circle cx="366" cy="376"/><circle cx="378" cy="390"/><circle cx="230" cy="404"/><circle cx="218" cy="418"/><circle cx="215" cy="432"/><circle cx="183" cy="445"/><circle cx="177" cy="459"/><circle cx="170" cy="479"/><circle cx="203" cy="486"/><circle cx="256" cy="492"/><circle cx="276" cy="499"/><circle cx="376" cy="505"/><circle cx="302" cy="511"/><circle cx="139" cy="511"/><circle cx="336" cy="523"/><circle cx="139" cy="523"/><circle cx="353" cy="528"/><circle cx="324" cy="534"/><circle cx="255" cy="544"/><circle cx="289" cy="553"/><circle cx="299" cy="561"/><circle cx="311" cy="564"/><circle cx="231" cy="567"/><circle cx="259" cy="569"/><circle cx="226" cy="572"/><circle cx="238" cy="574"/><circle cx="430" cy="575"/><circle cx="504" cy="575"/><circle cx="330" cy="571"/><circle cx="261" cy="565"/><circle cx="139" cy="558"/><circle cx="261" cy="550"/><circle cx="311" cy="526"/><circle cx="289" cy="520"/><circle cx="371" cy="508"/><circle cx="376" cy="502"/><circle cx="307" cy="470"/><circle cx="139" cy="443"/><circle cx="317" cy="436"/><circle cx="237" cy="429"/><circle cx="226" cy="422"/><circle cx="350" cy="415"/><circle cx="339" cy="408"/><circle cx="214" cy="401"/><circle cx="251" cy="388"/><circle cx="248" cy="374"/><circle cx="219" cy="367"/><circle cx="190" cy="354"/><circle cx="320" cy="335"/><circle cx="399" cy="328"/><circle cx="339" cy="322"/><circle cx="327" cy="316"/><circle cx="287" cy="310"/><circle cx="367" cy="304"/><circle cx="368" cy="293"/><circle cx="272" cy="282"/><circle cx="419" cy="277"/><circle cx="221" cy="268"/><circle cx="286" cy="259"/><circle cx="245" cy="255"/><circle cx="212" cy="251"/><circle cx="248" cy="244"/><circle cx="285" cy="241"/><circle cx="261" cy="234"/><circle cx="139" cy="234"/><circle cx="222" cy="233"/><circle cx="187" cy="231"/><circle cx="170" cy="230"/><circle cx="165" cy="229"/><circle cx="398" cy="229"/><circle cx="139" cy="229"/><circle cx="167" cy="230"/><circle cx="243" cy="231"/><circle cx="224" cy="233"/><circle cx="373" cy="235"/><circle cx="183" cy="240"/><circle cx="216" cy="246"/><circle cx="167" cy="249"/><circle cx="167" cy="253"/><circle cx="403" cy="257"/><circle cx="255" cy="265"/><circle cx="345" cy="275"/><circle cx="139" cy="275"/><circle cx="268" cy="296"/><circle cx="275" cy="313"/><circle cx="327" cy="319"/><circle cx="139" cy="325"/><circle cx="139" cy="331"/><circle cx="318" cy="351"/><circle cx="240" cy="357"/><circle cx="139" cy="364"/><circle cx="218" cy="378"/><circle cx="139" cy="391"/><circle cx="200" cy="398"/><circle cx="449" cy="405"/><circle cx="433" cy="412"/><circle cx="167" cy="426"/><circle cx="166" cy="440"/><circle cx="139" cy="446"/><circle cx="169" cy="467"/><circle cx="164" cy="474"/><circle cx="371" cy="480"/><circle cx="167" cy="493"/><circle cx="196" cy="500"/><circle cx="262" cy="506"/><circle cx="139" cy="506"/><circle cx="202" cy="524"/><circle cx="167" cy="530"/><circle cx="139" cy="530"/><circle cx="186" cy="535"/><circle cx="404" cy="545"/><circle cx="172" cy="550"/><circle cx="139" cy="554"/><circle cx="164" cy="558"/><circle cx="139" cy="558"/><circle cx="167" cy="562"/><circle cx="139" cy="576"/><circle cx="219" cy="574"/><circle cx="237" cy="572"/><circle cx="266" cy="566"/><circle cx="258" cy="563"/><circle cx="261" cy="560"/><circle cx="139" cy="556"/><circle cx="139" cy="552"/><circle cx="334" cy="542"/><circle cx="139" cy="542"/><circle cx="336" cy="537"/><circle cx="311" cy="521"/><circle cx="305" cy="509"/><circle cx="377" cy="503"/><circle cx="251" cy="484"/><circle cx="356" cy="471"/><circle cx="364" cy="450"/><circle cx="441" cy="423"/><circle cx="391" cy="416"/><circle cx="308" cy="409"/><circle cx="139" cy="409"/><circle cx="299" cy="402"/><circle cx="261" cy="375"/><circle cx="284" cy="368"/><circle cx="273" cy="362"/><circle cx="357" cy="355"/><circle cx="169" cy="336"/><circle cx="195" cy="323"/><circle cx="411" cy="317"/><circle cx="233" cy="311"/><circle cx="205" cy="300"/><circle cx="167" cy="294"/><circle cx="172" cy="289"/><circle cx="397" cy="283"/><circle cx="212" cy="278"/><circle cx="196" cy="274"/><circle cx="235" cy="264"/><circle cx="272" cy="260"/><circle cx="314" cy="256"/><circle cx="394" cy="246"/><circle cx="193" cy="243"/><circle cx="167" cy="240"/><circle cx="165" cy="238"/><circle cx="181" cy="234"/><circle cx="171" cy="233"/><circle cx="233" cy="231"/><circle cx="233" cy="230"/><circle cx="239" cy="230"/><circle cx="205" cy="230"/><circle cx="139" cy="230"/><circle cx="295" cy="231"/><circle cx="273" cy="232"/><circle cx="226" cy="235"/><circle cx="368" cy="237"/><circle cx="169" cy="239"/><circle cx="212" cy="247"/><circle cx="177" cy="251"/><circle cx="175" cy="267"/><circle cx="211" cy="271"/><circle cx="165" cy="281"/><circle cx="169" cy="286"/><circle cx="167" cy="291"/><circle cx="139" cy="303"/><circle cx="170" cy="308"/><circle cx="168" cy="314"/><circle cx="164" cy="320"/><circle cx="168" cy="326"/><circle cx="139" cy="326"/><circle cx="168" cy="333"/><circle cx="209" cy="339"/><circle cx="231" cy="352"/><circle cx="288" cy="365"/><circle cx="250" cy="392"/><circle cx="316" cy="399"/><circle cx="139" cy="413"/><circle cx="321" cy="420"/><circle cx="139" cy="448"/><circle cx="419" cy="461"/><circle cx="365" cy="481"/><circle cx="410" cy="488"/><circle cx="139" cy="495"/></g>
<g fill="#c8e020" stroke="#c8e020"><circle cx="369" cy="507"/><circle cx="139" cy="507"/><circle cx="358" cy="513"/><circle cx="139" cy="519"/><circle cx="371" cy="531"/><circle cx="410" cy="546"/><circle cx="336" cy="560"/><circle cx="325" cy="567"/><circle cx="139" cy="574"/><circle cx="293" cy="578"/><circle cx="296" cy="578"/><circle cx="296" cy="578"/><circle cx="374" cy="574"/><circle cx="353" cy="570"/><circle cx="375" cy="568"/><circle cx="324" cy="564"/><circle cx="269" cy="557"/><circle cx="300" cy="544"/><circle cx="284" cy="539"/><circle cx="254" cy="528"/><circle cx="139" cy="528"/><circle cx="394" cy="516"/><circle cx="229" cy="498"/><circle cx="363" cy="492"/><circle cx="178" cy="478"/><circle cx="168" cy="458"/><circle cx="222" cy="452"/><circle cx="139" cy="445"/><circle cx="165" cy="438"/><circle cx="178" cy="417"/><circle cx="166" cy="410"/><circle cx="184" cy="396"/><circle cx="208" cy="369"/><circle cx="232" cy="363"/><circle cx="190" cy="356"/><circle cx="297" cy="343"/><circle cx="284" cy="337"/><circle cx="375" cy="330"/><circle cx="168" cy="324"/><circle cx="339" cy="318"/><circle cx="139" cy="318"/><circle cx="165" cy="312"/><circle cx="206" cy="295"/><circle cx="359" cy="290"/><circle cx="167" cy="285"/><circle cx="139" cy="280"/><circle cx="251" cy="275"/><circle cx="222" cy="266"/><circle cx="197" cy="257"/><circle cx="201" cy="254"/><circle cx="170" cy="250"/><circle cx="139" cy="244"/><circle cx="330" cy="241"/><circle cx="268" cy="237"/><circle cx="248" cy="235"/><circle cx="353" cy="233"/><circle cx="271" cy="232"/><circle cx="406" cy="232"/><circle cx="324" cy="238"/><circle cx="426" cy="240"/><circle cx="248" cy="243"/><circle cx="334" cy="246"/><circle cx="316" cy="249"/><circle cx="286" cy="252"/><circle cx="319" cy="256"/><circle cx="426" cy="264"/><circle cx="343" cy="268"/><circle cx="308" cy="273"/><circle cx="277" cy="277"/><circle cx="304" cy="282"/><circle cx="544" cy="298"/><circle cx="341" cy="304"/><circle cx="351" cy="309"/><circle cx="300" cy="321"/><circle cx="276" cy="334"/><circle cx="437" cy="340"/><circle cx="411" cy="353"/><circle cx="208" cy="360"/><circle cx="337" cy="380"/><circle cx="272" cy="393"/><circle cx="260" cy="414"/><circle cx="272" cy="428"/><circle cx="271" cy="435"/><circle cx="404" cy="449"/><circle cx="316" cy="462"/><circle cx="275" cy="469"/><circle cx="139" cy="469"/><circle cx="282" cy="483"/><circle cx="298" cy="502"/><circle cx="239" cy="537"/><circle cx="139" cy="543"/><circle cx="169" cy="552"/><circle cx="168" cy="565"/><circle cx="220" cy="574"/><circle cx="370" cy="579"/><circle cx="298" cy="577"/><circle cx="247" cy="575"/><circle cx="139" cy="572"/><circle cx="193" cy="569"/><circle cx="397" cy="566"/><circle cx="169" cy="558"/><circle cx="190" cy="535"/><circle cx="264" cy="523"/><circle cx="393" cy="517"/><circle cx="196" cy="505"/><circle cx="239" cy="486"/><circle cx="270" cy="473"/><circle cx="283" cy="466"/><circle cx="264" cy="459"/><circle cx="359" cy="432"/><circle cx="320" cy="425"/><circle cx="333" cy="418"/><circle cx="342" cy="404"/><circle cx="214" cy="377"/><circle cx="288" cy="357"/><circle cx="383" cy="351"/><circle cx="270" cy="344"/><circle cx="139" cy="344"/><circle cx="333" cy="338"/><circle cx="292" cy="319"/><circle cx="298" cy="308"/><circle cx="482" cy="296"/><circle cx="139" cy="296"/><circle cx="139" cy="291"/><circle cx="353" cy="286"/><circle cx="270" cy="281"/><circle cx="139" cy="281"/><circle cx="203" cy="276"/><circle cx="283" cy="271"/><circle cx="396" cy="252"/><circle cx="383" cy="248"/><circle cx="345" cy="245"/><circle cx="274" cy="243"/><circle cx="287" cy="237"/><circle cx="173" cy="233"/><circle cx="167" cy="233"/><circle cx="181" cy="234"/><circle cx="231" cy="235"/><circle cx="240" cy="238"/><circle cx="316" cy="242"/><circle cx="220" cy="253"/><circle cx="220" cy="257"/><circle cx="337" cy="274"/><circle cx="139" cy="279"/><circle cx="271" cy="283"/><circle cx="317" cy="294"/><circle cx="420" cy="299"/><circle cx="390" cy="305"/><circle cx="426" cy="323"/><circle cx="382" cy="348"/><circle cx="392" cy="361"/><circle cx="419" cy="394"/><circle cx="238" cy="408"/><circle cx="165" cy="463"/><circle cx="360" cy="477"/><circle cx="139" cy="477"/><circle cx="168" cy="484"/><circle cx="222" cy="497"/><circle cx="169" cy="503"/><circle cx="165" cy="510"/><circle cx="167" cy="516"/><circle cx="139" cy="516"/><circle cx="139" cy="533"/><circle cx="348" cy="539"/><circle cx="378" cy="544"/><circle cx="262" cy="580"/><circle cx="221" cy="581"/><circle cx="172" cy="581"/><circle cx="214" cy="580"/><circle cx="165" cy="570"/><circle cx="435" cy="567"/><circle cx="330" cy="541"/><circle cx="139" cy="541"/><circle cx="203" cy="524"/><circle cx="241" cy="513"/><circle cx="224" cy="506"/><circle cx="234" cy="500"/><circle cx="139" cy="500"/><circle cx="203" cy="494"/><circle cx="139" cy="481"/><circle cx="139" cy="474"/><circle cx="166" cy="467"/><circle cx="166" cy="460"/><circle cx="192" cy="447"/><circle cx="199" cy="440"/><circle cx="177" cy="426"/><circle cx="220" cy="419"/><circle cx="305" cy="405"/><circle cx="331" cy="398"/><circle cx="318" cy="385"/><circle cx="139" cy="385"/><circle cx="288" cy="371"/><circle cx="268" cy="365"/><circle cx="139" cy="365"/><circle cx="379" cy="352"/><circle cx="421" cy="345"/><circle cx="414" cy="333"/><circle cx="390" cy="326"/><circle cx="352" cy="320"/><circle cx="224" cy="314"/><circle cx="312" cy="292"/><circle cx="384" cy="277"/><circle cx="139" cy="277"/><circle cx="139" cy="273"/><circle cx="218" cy="264"/><circle cx="245" cy="256"/><circle cx="212" cy="244"/><circle cx="210" cy="242"/><circle cx="196" cy="240"/><circle cx="244" cy="238"/><circle cx="265" cy="237"/><circle cx="259" cy="236"/><circle cx="226" cy="235"/><circle cx="139" cy="235"/><circle cx="252" cy="234"/><circle cx="242" cy="235"/><circle cx="348" cy="237"/><circle cx="139" cy="237"/><circle cx="342" cy="243"/><circle cx="362" cy="246"/><circle cx="139" cy="248"/><circle cx="354" cy="262"/><circle cx="166" cy="290"/><circle cx="165" cy="301"/><circle cx="139" cy="306"/><circle cx="174" cy="324"/><circle cx="230" cy="330"/><circle cx="210" cy="336"/><circle cx="248" cy="342"/><circle cx="212" cy="355"/><circle cx="268" cy="362"/><circle cx="261" cy="375"/><circle cx="377" cy="389"/><circle cx="289" cy="402"/><circle cx="275" cy="416"/><circle cx="236" cy="430"/><circle cx="370" cy="451"/><circle cx="139" cy="465"/><circle cx="264" cy="478"/><circle cx="178" cy="485"/><circle cx="165" cy="491"/><circle cx="185" cy="498"/><circle cx="225" cy="504"/><circle cx="167" cy="523"/><circle cx="200" cy="529"/><circle cx="257" cy="534"/><circle cx="321" cy="540"/><circle cx="298" cy="550"/><circle cx="278" cy="559"/><circle cx="315" cy="564"/><circle cx="322" cy="567"/><circle cx="180" cy="576"/><circle cx="381" cy="578"/><circle cx="196" cy="574"/><circle cx="243" cy="572"/><circle cx="313" cy="568"/><circle cx="262" cy="561"/><circle cx="139" cy="557"/><circle cx="221" cy="547"/><circle cx="273" cy="537"/><circle cx="165" cy="514"/><circle cx="139" cy="507"/><circle cx="165" cy="501"/><circle cx="204" cy="495"/><circle cx="216" cy="488"/><circle cx="139" cy="461"/><circle cx="277" cy="448"/><circle cx="254" cy="441"/><circle cx="273" cy="427"/><circle cx="331" cy="399"/><circle cx="392" cy="372"/><circle cx="351" cy="359"/><circle cx="360" cy="346"/><circle cx="414" cy="334"/><circle cx="270" cy="316"/><circle cx="293" cy="310"/><circle cx="222" cy="299"/><circle cx="285" cy="283"/><circle cx="274" cy="278"/><circle cx="287" cy="261"/><circle cx="295" cy="258"/><circle cx="346" cy="251"/><circle cx="346" cy="248"/><circle cx="139" cy="248"/><circle cx="139" cy="246"/><circle cx="364" cy="241"/><circle cx="362" cy="240"/><circle cx="418" cy="236"/><circle cx="139" cy="236"/><circle cx="351" cy="236"/><circle cx="139" cy="236"/><circle cx="139" cy="238"/><circle cx="139" cy="239"/><circle cx="251" cy="240"/><circle cx="228" cy="247"/><circle cx="268" cy="250"/><circle cx="295" cy="253"/><circle cx="327" cy="256"/><circle cx="407" cy="263"/><circle cx="414" cy="268"/><circle cx="379" cy="281"/><circle cx="418" cy="286"/><circle cx="333" cy="296"/><circle cx="139" cy="313"/><circle cx="454" cy="319"/><circle cx="169" cy="337"/><circle cx="139" cy="343"/><circle cx="139" cy="356"/><circle cx="166" cy="363"/><circle cx="165" cy="370"/><circle cx="429" cy="376"/><circle cx="166" cy="390"/><circle cx="325" cy="403"/><circle cx="139" cy="424"/><circle cx="252" cy="438"/><circle cx="139" cy="445"/><circle cx="139" cy="452"/><circle cx="373" cy="459"/><circle cx="307" cy="472"/></g>
<g fill="#d2e21b" stroke="#d2e21b"><circle cx="326" cy="486"/><circle cx="265" cy="492"/><circle cx="224" cy="505"/><circle cx="240" cy="518"/><circle cx="165" cy="530"/><circle cx="169" cy="541"/><circle cx="139" cy="541"/><circle cx="190" cy="546"/><circle cx="232" cy="561"/><circle cx="263" cy="580"/><circle cx="317" cy="583"/><circle cx="139" cy="583"/><circle cx="300" cy="584"/><circle cx="308" cy="584"/><circle cx="268" cy="583"/><circle cx="323" cy="581"/><circle cx="323" cy="570"/><circle cx="268" cy="566"/><circle cx="357" cy="558"/><circle cx="139" cy="558"/><circle cx="277" cy="543"/><circle cx="139" cy="538"/><circle cx="309" cy="521"/><circle cx="246" cy="515"/><circle cx="139" cy="502"/><circle cx="303" cy="462"/><circle cx="328" cy="442"/><circle cx="139" cy="442"/><circle cx="266" cy="435"/><circle cx="269" cy="414"/><circle cx="356" cy="400"/><circle cx="298" cy="387"/><circle cx="297" cy="380"/><circle cx="368" cy="354"/><circle cx="334" cy="335"/><circle cx="367" cy="329"/><circle cx="359" cy="323"/><circle cx="363" cy="289"/><circle cx="365" cy="284"/><circle cx="139" cy="284"/><circle cx="401" cy="275"/><circle cx="381" cy="271"/><circle cx="355" cy="263"/><circle cx="365" cy="259"/><circle cx="413" cy="256"/><circle cx="386" cy="252"/><circle cx="139" cy="247"/><circle cx="292" cy="240"/><circle cx="139" cy="238"/><circle cx="352" cy="238"/><circle cx="338" cy="237"/><circle cx="372" cy="239"/><circle cx="384" cy="240"/><circle cx="385" cy="246"/><circle cx="346" cy="248"/><circle cx="241" cy="261"/><circle cx="255" cy="265"/><circle cx="196" cy="273"/><circle cx="139" cy="278"/><circle cx="169" cy="287"/><circle cx="164" cy="292"/><circle cx="208" cy="308"/><circle cx="213" cy="314"/><circle cx="214" cy="320"/><circle cx="239" cy="326"/><circle cx="249" cy="332"/><circle cx="201" cy="338"/><circle cx="224" cy="345"/><circle cx="245" cy="357"/><circle cx="441" cy="371"/><circle cx="443" cy="377"/><circle cx="210" cy="384"/><circle cx="320" cy="411"/><circle cx="343" cy="418"/><circle cx="253" cy="425"/><circle cx="195" cy="439"/><circle cx="239" cy="453"/><circle cx="272" cy="460"/><circle cx="280" cy="467"/><circle cx="323" cy="480"/><circle cx="295" cy="500"/><circle cx="216" cy="513"/><circle cx="306" cy="531"/><circle cx="364" cy="542"/><circle cx="306" cy="548"/><circle cx="254" cy="562"/><circle cx="139" cy="562"/><circle cx="233" cy="566"/><circle cx="172" cy="570"/><circle cx="183" cy="573"/><circle cx="211" cy="577"/><circle cx="278" cy="579"/><circle cx="259" cy="581"/><circle cx="271" cy="585"/><circle cx="187" cy="584"/><circle cx="329" cy="577"/><circle cx="247" cy="574"/><circle cx="139" cy="574"/><circle cx="237" cy="545"/><circle cx="247" cy="539"/><circle cx="239" cy="534"/><circle cx="229" cy="528"/><circle cx="205" cy="516"/><circle cx="239" cy="503"/><circle cx="139" cy="503"/><circle cx="258" cy="497"/><circle cx="139" cy="484"/><circle cx="262" cy="477"/><circle cx="260" cy="470"/><circle cx="308" cy="457"/><circle cx="286" cy="450"/><circle cx="255" cy="443"/><circle cx="340" cy="436"/><circle cx="241" cy="429"/><circle cx="325" cy="422"/><circle cx="182" cy="395"/><circle cx="219" cy="368"/><circle cx="187" cy="348"/><circle cx="167" cy="336"/><circle cx="168" cy="291"/><circle cx="229" cy="272"/><circle cx="199" cy="268"/><circle cx="202" cy="264"/><circle cx="299" cy="254"/><circle cx="210" cy="248"/><circle cx="165" cy="244"/><circle cx="169" cy="240"/><circle cx="139" cy="240"/><circle cx="168" cy="239"/><circle cx="167" cy="239"/><circle cx="166" cy="239"/><circle cx="139" cy="239"/><circle cx="168" cy="240"/><circle cx="169" cy="243"/><circle cx="170" cy="245"/><circle cx="173" cy="250"/><circle cx="360" cy="259"/><circle cx="237" cy="262"/><circle cx="260" cy="266"/><circle cx="374" cy="274"/><circle cx="389" cy="279"/><circle cx="406" cy="283"/><circle cx="358" cy="288"/><circle cx="353" cy="293"/><circle cx="324" cy="304"/><circle cx="301" cy="365"/><circle cx="336" cy="372"/><circle cx="207" cy="385"/><circle cx="209" cy="392"/><circle cx="222" cy="405"/><circle cx="343" cy="426"/><circle cx="139" cy="433"/><circle cx="370" cy="474"/><circle cx="343" cy="481"/><circle cx="304" cy="488"/><circle cx="139" cy="514"/><circle cx="139" cy="526"/><circle cx="165" cy="532"/><circle cx="165" cy="538"/><circle cx="167" cy="554"/><circle cx="139" cy="554"/><circle cx="189" cy="571"/><circle cx="164" cy="575"/><circle cx="193" cy="580"/><circle cx="275" cy="583"/><circle cx="269" cy="584"/><circle cx="228" cy="586"/><circle cx="276" cy="586"/><circle cx="302" cy="586"/><circle cx="292" cy="569"/><circle cx="257" cy="565"/><circle cx="273" cy="560"/><circle cx="278" cy="556"/><circle cx="330" cy="551"/><circle cx="348" cy="546"/><circle cx="333" cy="540"/><circle cx="328" cy="535"/><circle cx="139" cy="535"/><circle cx="139" cy="529"/><circle cx="327" cy="523"/><circle cx="322" cy="511"/><circle cx="373" cy="504"/><circle cx="344" cy="491"/><circle cx="295" cy="485"/><circle cx="139" cy="478"/><circle cx="307" cy="464"/><circle cx="307" cy="451"/><circle cx="303" cy="416"/><circle cx="139" cy="416"/><circle cx="243" cy="375"/><circle cx="318" cy="369"/><circle cx="139" cy="369"/><circle cx="366" cy="362"/><circle cx="421" cy="356"/><circle cx="139" cy="356"/><circle cx="416" cy="349"/><circle cx="383" cy="343"/><circle cx="308" cy="319"/><circle cx="366" cy="297"/><circle cx="352" cy="292"/><circle cx="201" cy="258"/><circle cx="350" cy="247"/><circle cx="342" cy="245"/><circle cx="292" cy="241"/><circle cx="139" cy="241"/><circle cx="323" cy="240"/><circle cx="355" cy="240"/><circle cx="331" cy="246"/><circle cx="378" cy="251"/><circle cx="139" cy="257"/><circle cx="419" cy="260"/><circle cx="308" cy="280"/><circle cx="234" cy="311"/><circle cx="288" cy="353"/><circle cx="233" cy="359"/><circle cx="139" cy="386"/><circle cx="331" cy="400"/><circle cx="269" cy="413"/><circle cx="276" cy="420"/><circle cx="208" cy="448"/><circle cx="168" cy="455"/><circle cx="199" cy="475"/><circle cx="139" cy="489"/><circle cx="164" cy="496"/><circle cx="139" cy="496"/><circle cx="173" cy="509"/><circle cx="139" cy="509"/><circle cx="218" cy="515"/><circle cx="223" cy="521"/><circle cx="445" cy="550"/><circle cx="287" cy="555"/><circle cx="285" cy="569"/><circle cx="247" cy="572"/><circle cx="422" cy="576"/><circle cx="267" cy="588"/><circle cx="363" cy="586"/><circle cx="355" cy="585"/><circle cx="333" cy="583"/><circle cx="139" cy="580"/><circle cx="139" cy="577"/><circle cx="295" cy="574"/><circle cx="391" cy="570"/><circle cx="139" cy="566"/><circle cx="355" cy="552"/><circle cx="345" cy="541"/><circle cx="367" cy="512"/><circle cx="446" cy="499"/><circle cx="139" cy="499"/><circle cx="179" cy="492"/><circle cx="194" cy="472"/><circle cx="166" cy="465"/><circle cx="139" cy="459"/><circle cx="167" cy="452"/><circle cx="437" cy="431"/><circle cx="169" cy="383"/><circle cx="139" cy="383"/><circle cx="250" cy="357"/><circle cx="235" cy="350"/><circle cx="393" cy="344"/><circle cx="359" cy="332"/><circle cx="139" cy="332"/><circle cx="352" cy="309"/><circle cx="232" cy="283"/><circle cx="257" cy="279"/><circle cx="139" cy="279"/><circle cx="371" cy="274"/><circle cx="356" cy="259"/><circle cx="217" cy="253"/><circle cx="412" cy="244"/><circle cx="370" cy="242"/><circle cx="452" cy="242"/><circle cx="355" cy="241"/><circle cx="139" cy="241"/><circle cx="381" cy="242"/><circle cx="265" cy="244"/><circle cx="139" cy="244"/><circle cx="203" cy="248"/><circle cx="216" cy="250"/><circle cx="232" cy="252"/><circle cx="295" cy="258"/><circle cx="139" cy="258"/><circle cx="292" cy="268"/><circle cx="372" cy="277"/><circle cx="139" cy="281"/><circle cx="221" cy="291"/><circle cx="139" cy="291"/><circle cx="224" cy="306"/><circle cx="307" cy="323"/><circle cx="139" cy="323"/><circle cx="285" cy="329"/><circle cx="382" cy="354"/><circle cx="307" cy="367"/><circle cx="238" cy="374"/><circle cx="210" cy="380"/><circle cx="243" cy="414"/><circle cx="259" cy="421"/><circle cx="312" cy="428"/><circle cx="309" cy="435"/><circle cx="292" cy="456"/></g>
<g fill="#dde318" stroke="#dde318"><circle cx="220" cy="463"/><circle cx="139" cy="463"/><circle cx="166" cy="476"/><circle cx="167" cy="503"/><circle cx="139" cy="510"/><circle cx="165" cy="516"/><circle cx="139" cy="546"/><circle cx="167" cy="566"/><circle cx="139" cy="566"/><circle cx="169" cy="570"/><circle cx="139" cy="577"/><circle cx="350" cy="588"/><circle cx="474" cy="578"/><circle cx="271" cy="563"/><circle cx="296" cy="513"/><circle cx="139" cy="513"/><circle cx="341" cy="506"/><circle cx="335" cy="493"/><circle cx="344" cy="459"/><circle cx="139" cy="453"/><circle cx="336" cy="439"/><circle cx="182" cy="404"/><circle cx="211" cy="391"/><circle cx="232" cy="384"/><circle cx="139" cy="377"/><circle cx="164" cy="345"/><circle cx="166" cy="339"/><circle cx="167" cy="327"/><circle cx="168" cy="321"/><circle cx="168" cy="315"/><circle cx="166" cy="304"/><circle cx="218" cy="294"/><circle cx="185" cy="284"/><circle cx="314" cy="276"/><circle cx="292" cy="257"/><circle cx="314" cy="250"/><circle cx="298" cy="248"/><circle cx="282" cy="245"/><circle cx="139" cy="245"/><circle cx="206" cy="244"/><circle cx="201" cy="243"/><circle cx="139" cy="243"/><circle cx="214" cy="245"/><circle cx="169" cy="247"/><circle cx="168" cy="249"/><circle cx="139" cy="251"/><circle cx="335" cy="253"/><circle cx="139" cy="259"/><circle cx="166" cy="262"/><circle cx="166" cy="266"/><circle cx="168" cy="270"/><circle cx="168" cy="278"/><circle cx="193" cy="287"/><circle cx="209" cy="292"/><circle cx="214" cy="297"/><circle cx="234" cy="302"/><circle cx="170" cy="318"/><circle cx="264" cy="336"/><circle cx="288" cy="355"/><circle cx="311" cy="361"/><circle cx="336" cy="375"/><circle cx="311" cy="381"/><circle cx="300" cy="401"/><circle cx="139" cy="429"/><circle cx="335" cy="436"/><circle cx="139" cy="436"/><circle cx="139" cy="443"/><circle cx="239" cy="457"/><circle cx="139" cy="457"/><circle cx="258" cy="464"/><circle cx="139" cy="464"/><circle cx="264" cy="491"/><circle cx="139" cy="497"/><circle cx="252" cy="517"/><circle cx="285" cy="529"/><circle cx="204" cy="557"/><circle cx="223" cy="562"/><circle cx="267" cy="567"/><circle cx="240" cy="571"/><circle cx="301" cy="582"/><circle cx="308" cy="584"/><circle cx="197" cy="590"/><circle cx="197" cy="588"/><circle cx="139" cy="588"/><circle cx="248" cy="586"/><circle cx="272" cy="579"/><circle cx="331" cy="564"/><circle cx="206" cy="559"/><circle cx="256" cy="554"/><circle cx="299" cy="532"/><circle cx="347" cy="526"/><circle cx="262" cy="520"/><circle cx="139" cy="520"/><circle cx="139" cy="501"/><circle cx="273" cy="494"/><circle cx="253" cy="488"/><circle cx="287" cy="460"/><circle cx="407" cy="447"/><circle cx="398" cy="440"/><circle cx="485" cy="433"/><circle cx="446" cy="419"/><circle cx="370" cy="392"/><circle cx="351" cy="385"/><circle cx="139" cy="378"/><circle cx="139" cy="353"/><circle cx="348" cy="346"/><circle cx="297" cy="340"/><circle cx="257" cy="334"/><circle cx="349" cy="328"/><circle cx="283" cy="322"/><circle cx="334" cy="311"/><circle cx="139" cy="311"/><circle cx="259" cy="295"/><circle cx="252" cy="290"/><circle cx="251" cy="281"/><circle cx="244" cy="277"/><circle cx="254" cy="273"/><circle cx="357" cy="262"/><circle cx="345" cy="256"/><circle cx="139" cy="256"/><circle cx="206" cy="247"/><circle cx="139" cy="246"/><circle cx="226" cy="244"/><circle cx="307" cy="244"/><circle cx="316" cy="244"/><circle cx="300" cy="245"/><circle cx="345" cy="247"/><circle cx="262" cy="248"/><circle cx="302" cy="250"/><circle cx="245" cy="257"/><circle cx="228" cy="264"/><circle cx="257" cy="267"/><circle cx="329" cy="279"/><circle cx="306" cy="283"/><circle cx="139" cy="288"/><circle cx="304" cy="298"/><circle cx="256" cy="303"/><circle cx="354" cy="308"/><circle cx="139" cy="308"/><circle cx="272" cy="320"/><circle cx="298" cy="325"/><circle cx="262" cy="331"/><circle cx="317" cy="343"/><circle cx="334" cy="375"/><circle cx="139" cy="382"/><circle cx="224" cy="396"/><circle cx="233" cy="402"/><circle cx="332" cy="409"/><circle cx="204" cy="416"/><circle cx="267" cy="464"/><circle cx="326" cy="505"/><circle cx="139" cy="505"/><circle cx="314" cy="524"/><circle cx="365" cy="530"/><circle cx="405" cy="536"/><circle cx="433" cy="542"/><circle cx="400" cy="548"/><circle cx="139" cy="548"/><circle cx="392" cy="553"/><circle cx="166" cy="585"/><circle cx="167" cy="588"/><circle cx="288" cy="591"/><circle cx="287" cy="590"/><circle cx="139" cy="583"/><circle cx="261" cy="577"/><circle cx="257" cy="574"/><circle cx="268" cy="555"/><circle cx="139" cy="550"/><circle cx="170" cy="533"/><circle cx="213" cy="527"/><circle cx="169" cy="508"/><circle cx="207" cy="502"/><circle cx="283" cy="482"/><circle cx="139" cy="468"/><circle cx="330" cy="461"/><circle cx="301" cy="455"/><circle cx="236" cy="448"/><circle cx="264" cy="427"/><circle cx="284" cy="420"/><circle cx="368" cy="413"/><circle cx="341" cy="400"/><circle cx="329" cy="386"/><circle cx="309" cy="379"/><circle cx="139" cy="373"/><circle cx="294" cy="360"/><circle cx="253" cy="354"/><circle cx="254" cy="347"/><circle cx="139" cy="335"/><circle cx="238" cy="323"/><circle cx="269" cy="318"/><circle cx="238" cy="260"/><circle cx="274" cy="257"/><circle cx="283" cy="252"/><circle cx="278" cy="250"/><circle cx="330" cy="249"/><circle cx="267" cy="247"/><circle cx="348" cy="246"/><circle cx="139" cy="245"/><circle cx="338" cy="246"/><circle cx="341" cy="251"/><circle cx="409" cy="253"/><circle cx="322" cy="268"/><circle cx="200" cy="272"/><circle cx="257" cy="276"/><circle cx="307" cy="289"/><circle cx="208" cy="338"/><circle cx="278" cy="351"/><circle cx="280" cy="357"/><circle cx="278" cy="363"/><circle cx="301" cy="390"/><circle cx="139" cy="396"/><circle cx="327" cy="424"/><circle cx="318" cy="458"/><circle cx="387" cy="472"/><circle cx="254" cy="499"/><circle cx="139" cy="512"/><circle cx="139" cy="519"/><circle cx="340" cy="531"/><circle cx="262" cy="537"/><circle cx="269" cy="543"/><circle cx="280" cy="554"/><circle cx="355" cy="564"/><circle cx="350" cy="573"/><circle cx="338" cy="577"/><circle cx="139" cy="577"/><circle cx="327" cy="584"/><circle cx="139" cy="592"/><circle cx="327" cy="593"/><circle cx="229" cy="593"/><circle cx="171" cy="592"/><circle cx="183" cy="592"/><circle cx="139" cy="590"/><circle cx="370" cy="588"/><circle cx="440" cy="585"/><circle cx="253" cy="578"/><circle cx="206" cy="546"/><circle cx="200" cy="534"/><circle cx="317" cy="516"/><circle cx="389" cy="483"/><circle cx="139" cy="483"/><circle cx="328" cy="469"/><circle cx="323" cy="456"/><circle cx="280" cy="449"/><circle cx="139" cy="449"/><circle cx="424" cy="414"/><circle cx="188" cy="407"/><circle cx="139" cy="401"/><circle cx="206" cy="394"/><circle cx="344" cy="374"/><circle cx="322" cy="367"/><circle cx="339" cy="361"/><circle cx="265" cy="342"/><circle cx="248" cy="336"/><circle cx="277" cy="319"/><circle cx="299" cy="308"/><circle cx="375" cy="303"/><circle cx="369" cy="293"/><circle cx="390" cy="288"/><circle cx="379" cy="283"/><circle cx="375" cy="279"/><circle cx="308" cy="275"/><circle cx="329" cy="271"/><circle cx="363" cy="261"/><circle cx="330" cy="254"/><circle cx="344" cy="252"/><circle cx="365" cy="250"/><circle cx="344" cy="248"/><circle cx="340" cy="247"/><circle cx="315" cy="246"/><circle cx="338" cy="247"/><circle cx="389" cy="247"/><circle cx="139" cy="249"/><circle cx="283" cy="251"/><circle cx="266" cy="253"/><circle cx="347" cy="257"/><circle cx="310" cy="263"/><circle cx="301" cy="266"/><circle cx="357" cy="327"/><circle cx="295" cy="339"/><circle cx="139" cy="351"/><circle cx="281" cy="358"/><circle cx="217" cy="364"/><circle cx="234" cy="371"/><circle cx="251" cy="377"/><circle cx="308" cy="384"/><circle cx="139" cy="391"/><circle cx="321" cy="397"/><circle cx="291" cy="404"/><circle cx="139" cy="404"/><circle cx="301" cy="411"/><circle cx="307" cy="425"/><circle cx="139" cy="425"/><circle cx="328" cy="432"/></g>
<g fill="#e7e419" stroke="#e7e419"><circle cx="360" cy="439"/><circle cx="279" cy="480"/><circle cx="240" cy="507"/><circle cx="139" cy="507"/><circle cx="224" cy="526"/><circle cx="139" cy="526"/><circle cx="249" cy="532"/><circle cx="197" cy="550"/><circle cx="179" cy="555"/><circle cx="221" cy="560"/><circle cx="168" cy="565"/><circle cx="302" cy="582"/><circle cx="281" cy="585"/><circle cx="344" cy="592"/><circle cx="294" cy="593"/><circle cx="239" cy="594"/><circle cx="189" cy="593"/><circle cx="347" cy="589"/><circle cx="257" cy="583"/><circle cx="259" cy="580"/><circle cx="216" cy="558"/><circle cx="222" cy="552"/><circle cx="272" cy="547"/><circle cx="139" cy="547"/><circle cx="280" cy="529"/><circle cx="242" cy="510"/><circle cx="263" cy="497"/><circle cx="266" cy="477"/><circle cx="248" cy="470"/><circle cx="200" cy="463"/><circle cx="249" cy="450"/><circle cx="202" cy="436"/><circle cx="139" cy="415"/><circle cx="256" cy="408"/><circle cx="212" cy="402"/><circle cx="139" cy="402"/><circle cx="205" cy="395"/><circle cx="139" cy="395"/><circle cx="139" cy="381"/><circle cx="139" cy="375"/><circle cx="341" cy="368"/><circle cx="251" cy="362"/><circle cx="282" cy="349"/><circle cx="364" cy="343"/><circle cx="139" cy="337"/><circle cx="301" cy="331"/><circle cx="382" cy="309"/><circle cx="364" cy="304"/><circle cx="347" cy="299"/><circle cx="436" cy="285"/><circle cx="139" cy="285"/><circle cx="425" cy="280"/><circle cx="381" cy="276"/><circle cx="298" cy="269"/><circle cx="228" cy="262"/><circle cx="338" cy="260"/><circle cx="351" cy="255"/><circle cx="321" cy="253"/><circle cx="328" cy="251"/><circle cx="366" cy="250"/><circle cx="428" cy="249"/><circle cx="425" cy="248"/><circle cx="340" cy="248"/><circle cx="385" cy="248"/><circle cx="313" cy="249"/><circle cx="255" cy="250"/><circle cx="293" cy="252"/><circle cx="447" cy="261"/><circle cx="410" cy="267"/><circle cx="355" cy="270"/><circle cx="437" cy="282"/><circle cx="403" cy="291"/><circle cx="364" cy="296"/><circle cx="303" cy="301"/><circle cx="241" cy="306"/><circle cx="235" cy="311"/><circle cx="240" cy="317"/><circle cx="315" cy="328"/><circle cx="268" cy="359"/><circle cx="170" cy="365"/><circle cx="168" cy="378"/><circle cx="180" cy="385"/><circle cx="198" cy="412"/><circle cx="205" cy="419"/><circle cx="180" cy="426"/><circle cx="368" cy="467"/><circle cx="391" cy="474"/><circle cx="270" cy="527"/><circle cx="327" cy="556"/><circle cx="287" cy="566"/><circle cx="139" cy="566"/><circle cx="174" cy="579"/><circle cx="183" cy="583"/><circle cx="181" cy="586"/><circle cx="139" cy="589"/><circle cx="234" cy="593"/><circle cx="139" cy="595"/><circle cx="369" cy="594"/><circle cx="139" cy="593"/><circle cx="179" cy="581"/><circle cx="179" cy="577"/><circle cx="387" cy="559"/><circle cx="166" cy="542"/><circle cx="182" cy="530"/><circle cx="244" cy="524"/><circle cx="285" cy="518"/><circle cx="263" cy="511"/><circle cx="318" cy="478"/><circle cx="139" cy="478"/><circle cx="371" cy="464"/><circle cx="397" cy="444"/><circle cx="317" cy="437"/><circle cx="385" cy="416"/><circle cx="324" cy="389"/><circle cx="139" cy="369"/><circle cx="261" cy="363"/><circle cx="139" cy="344"/><circle cx="236" cy="338"/><circle cx="139" cy="338"/><circle cx="168" cy="326"/><circle cx="139" cy="326"/><circle cx="139" cy="321"/><circle cx="139" cy="305"/><circle cx="374" cy="300"/><circle cx="139" cy="300"/><circle cx="192" cy="286"/><circle cx="139" cy="286"/><circle cx="291" cy="277"/><circle cx="358" cy="264"/><circle cx="339" cy="261"/><circle cx="345" cy="256"/><circle cx="338" cy="254"/><circle cx="216" cy="251"/><circle cx="214" cy="249"/><circle cx="278" cy="249"/><circle cx="303" cy="250"/><circle cx="343" cy="250"/><circle cx="217" cy="252"/><circle cx="260" cy="253"/><circle cx="291" cy="255"/><circle cx="319" cy="257"/><circle cx="346" cy="259"/><circle cx="305" cy="265"/><circle cx="358" cy="268"/><circle cx="265" cy="283"/><circle cx="260" cy="288"/><circle cx="315" cy="297"/><circle cx="274" cy="302"/><circle cx="264" cy="307"/><circle cx="303" cy="312"/><circle cx="300" cy="341"/><circle cx="139" cy="353"/><circle cx="372" cy="413"/><circle cx="388" cy="426"/><circle cx="139" cy="454"/><circle cx="325" cy="502"/><circle cx="209" cy="521"/><circle cx="139" cy="521"/><circle cx="184" cy="528"/><circle cx="167" cy="562"/><circle cx="168" cy="567"/><circle cx="164" cy="576"/><circle cx="168" cy="590"/><circle cx="234" cy="596"/><circle cx="139" cy="596"/><circle cx="213" cy="596"/><circle cx="139" cy="596"/><circle cx="211" cy="595"/><circle cx="180" cy="594"/><circle cx="164" cy="592"/><circle cx="218" cy="570"/><circle cx="301" cy="565"/><circle cx="362" cy="560"/><circle cx="420" cy="555"/><circle cx="330" cy="537"/><circle cx="388" cy="525"/><circle cx="352" cy="519"/><circle cx="333" cy="512"/><circle cx="139" cy="512"/><circle cx="139" cy="479"/><circle cx="243" cy="472"/><circle cx="230" cy="465"/><circle cx="139" cy="465"/><circle cx="211" cy="451"/><circle cx="139" cy="451"/><circle cx="263" cy="445"/><circle cx="274" cy="403"/><circle cx="139" cy="403"/><circle cx="283" cy="397"/><circle cx="297" cy="383"/><circle cx="319" cy="358"/><circle cx="356" cy="351"/><circle cx="396" cy="345"/><circle cx="490" cy="339"/><circle cx="226" cy="316"/><circle cx="323" cy="301"/><circle cx="299" cy="291"/><circle cx="245" cy="271"/><circle cx="139" cy="268"/><circle cx="254" cy="265"/><circle cx="226" cy="259"/><circle cx="247" cy="255"/><circle cx="289" cy="252"/><circle cx="282" cy="251"/><circle cx="232" cy="251"/><circle cx="217" cy="250"/><circle cx="265" cy="251"/><circle cx="139" cy="251"/><circle cx="380" cy="252"/><circle cx="383" cy="253"/><circle cx="411" cy="254"/><circle cx="416" cy="256"/><circle cx="456" cy="260"/><circle cx="423" cy="263"/><circle cx="266" cy="273"/><circle cx="228" cy="324"/><circle cx="227" cy="348"/><circle cx="249" cy="367"/><circle cx="300" cy="400"/><circle cx="139" cy="400"/><circle cx="244" cy="420"/><circle cx="285" cy="434"/><circle cx="301" cy="448"/><circle cx="272" cy="475"/><circle cx="139" cy="475"/><circle cx="250" cy="482"/><circle cx="249" cy="489"/><circle cx="199" cy="509"/><circle cx="196" cy="529"/><circle cx="272" cy="541"/><circle cx="139" cy="552"/><circle cx="262" cy="558"/><circle cx="139" cy="568"/><circle cx="247" cy="573"/><circle cx="219" cy="585"/><circle cx="202" cy="588"/><circle cx="223" cy="591"/><circle cx="230" cy="594"/><circle cx="379" cy="595"/><circle cx="282" cy="597"/><circle cx="280" cy="596"/><circle cx="230" cy="595"/><circle cx="264" cy="589"/><circle cx="193" cy="579"/><circle cx="247" cy="550"/><circle cx="216" cy="538"/><circle cx="354" cy="520"/><circle cx="181" cy="513"/><circle cx="255" cy="507"/><circle cx="226" cy="500"/><circle cx="469" cy="493"/><circle cx="139" cy="493"/><circle cx="201" cy="487"/><circle cx="139" cy="480"/><circle cx="179" cy="473"/><circle cx="212" cy="466"/><circle cx="210" cy="459"/><circle cx="263" cy="452"/><circle cx="299" cy="425"/><circle cx="312" cy="418"/><circle cx="308" cy="391"/><circle cx="314" cy="384"/><circle cx="261" cy="378"/><circle cx="233" cy="365"/><circle cx="166" cy="352"/><circle cx="168" cy="312"/><circle cx="139" cy="297"/><circle cx="230" cy="284"/><circle cx="166" cy="280"/><circle cx="209" cy="276"/><circle cx="187" cy="269"/><circle cx="139" cy="266"/><circle cx="167" cy="258"/><circle cx="166" cy="256"/><circle cx="327" cy="251"/><circle cx="139" cy="251"/><circle cx="139" cy="253"/><circle cx="202" cy="254"/><circle cx="199" cy="255"/><circle cx="172" cy="257"/><circle cx="170" cy="259"/><circle cx="165" cy="264"/><circle cx="169" cy="267"/><circle cx="258" cy="274"/><circle cx="262" cy="285"/><circle cx="341" cy="299"/><circle cx="309" cy="304"/><circle cx="278" cy="325"/><circle cx="175" cy="343"/><circle cx="190" cy="349"/><circle cx="139" cy="355"/><circle cx="139" cy="361"/><circle cx="139" cy="394"/></g>
<g fill="#f1e51d" stroke="#f1e51d"><circle cx="166" cy="414"/><circle cx="139" cy="414"/><circle cx="168" cy="421"/><circle cx="239" cy="428"/><circle cx="139" cy="428"/><circle cx="210" cy="442"/><circle cx="222" cy="462"/><circle cx="327" cy="490"/><circle cx="375" cy="517"/><circle cx="436" cy="536"/><circle cx="338" cy="553"/><circle cx="300" cy="559"/><circle cx="275" cy="564"/><circle cx="286" cy="578"/><circle cx="291" cy="582"/><circle cx="139" cy="582"/><circle cx="316" cy="586"/><circle cx="247" cy="595"/><circle cx="296" cy="599"/><circle cx="283" cy="599"/><circle cx="174" cy="591"/><circle cx="139" cy="572"/><circle cx="165" cy="567"/><circle cx="139" cy="551"/><circle cx="139" cy="545"/><circle cx="287" cy="494"/><circle cx="239" cy="488"/><circle cx="139" cy="481"/><circle cx="226" cy="474"/><circle cx="139" cy="460"/><circle cx="214" cy="453"/><circle cx="263" cy="446"/><circle cx="139" cy="399"/><circle cx="195" cy="385"/><circle cx="165" cy="366"/><circle cx="195" cy="353"/><circle cx="139" cy="353"/><circle cx="169" cy="318"/><circle cx="181" cy="313"/><circle cx="165" cy="308"/><circle cx="170" cy="303"/><circle cx="168" cy="298"/><circle cx="139" cy="298"/><circle cx="139" cy="277"/><circle cx="323" cy="273"/><circle cx="139" cy="270"/><circle cx="281" cy="264"/><circle cx="343" cy="260"/><circle cx="320" cy="258"/><circle cx="282" cy="255"/><circle cx="275" cy="254"/><circle cx="243" cy="252"/><circle cx="217" cy="252"/><circle cx="277" cy="253"/><circle cx="299" cy="254"/><circle cx="175" cy="260"/><circle cx="193" cy="263"/><circle cx="255" cy="268"/><circle cx="283" cy="271"/><circle cx="349" cy="275"/><circle cx="340" cy="282"/><circle cx="285" cy="286"/><circle cx="215" cy="291"/><circle cx="257" cy="295"/><circle cx="333" cy="300"/><circle cx="139" cy="310"/><circle cx="432" cy="321"/><circle cx="382" cy="326"/><circle cx="419" cy="332"/><circle cx="409" cy="338"/><circle cx="383" cy="356"/><circle cx="304" cy="375"/><circle cx="258" cy="395"/><circle cx="257" cy="415"/><circle cx="139" cy="415"/><circle cx="344" cy="449"/><circle cx="139" cy="449"/><circle cx="346" cy="456"/><circle cx="139" cy="456"/><circle cx="139" cy="463"/><circle cx="263" cy="477"/><circle cx="254" cy="484"/><circle cx="240" cy="497"/><circle cx="239" cy="517"/><circle cx="309" cy="530"/><circle cx="336" cy="543"/><circle cx="332" cy="548"/><circle cx="206" cy="554"/><circle cx="139" cy="579"/><circle cx="204" cy="587"/><circle cx="218" cy="596"/><circle cx="212" cy="598"/><circle cx="139" cy="599"/><circle cx="292" cy="600"/><circle cx="269" cy="600"/><circle cx="265" cy="592"/><circle cx="212" cy="589"/><circle cx="235" cy="563"/><circle cx="228" cy="558"/><circle cx="139" cy="495"/><circle cx="227" cy="475"/><circle cx="276" cy="461"/><circle cx="279" cy="440"/><circle cx="391" cy="420"/><circle cx="381" cy="413"/><circle cx="293" cy="400"/><circle cx="194" cy="393"/><circle cx="187" cy="386"/><circle cx="263" cy="380"/><circle cx="191" cy="373"/><circle cx="246" cy="361"/><circle cx="139" cy="348"/><circle cx="228" cy="336"/><circle cx="139" cy="331"/><circle cx="139" cy="299"/><circle cx="346" cy="295"/><circle cx="139" cy="295"/><circle cx="399" cy="271"/><circle cx="434" cy="265"/><circle cx="344" cy="261"/><circle cx="310" cy="256"/><circle cx="139" cy="254"/><circle cx="139" cy="253"/><circle cx="139" cy="254"/><circle cx="405" cy="255"/><circle cx="139" cy="255"/><circle cx="268" cy="261"/><circle cx="227" cy="266"/><circle cx="230" cy="269"/><circle cx="198" cy="272"/><circle cx="217" cy="279"/><circle cx="139" cy="287"/><circle cx="266" cy="301"/><circle cx="139" cy="301"/><circle cx="295" cy="321"/><circle cx="330" cy="327"/><circle cx="139" cy="338"/><circle cx="385" cy="344"/><circle cx="388" cy="357"/><circle cx="312" cy="382"/><circle cx="139" cy="382"/><circle cx="272" cy="395"/><circle cx="180" cy="416"/><circle cx="248" cy="422"/><circle cx="263" cy="436"/><circle cx="139" cy="436"/><circle cx="275" cy="443"/><circle cx="139" cy="457"/><circle cx="313" cy="471"/><circle cx="318" cy="485"/><circle cx="294" cy="491"/><circle cx="350" cy="498"/><circle cx="139" cy="498"/><circle cx="311" cy="512"/><circle cx="308" cy="561"/><circle cx="358" cy="566"/><circle cx="323" cy="580"/><circle cx="305" cy="584"/><circle cx="323" cy="594"/><circle cx="262" cy="597"/><circle cx="293" cy="600"/><circle cx="139" cy="600"/><circle cx="331" cy="601"/><circle cx="377" cy="598"/><circle cx="304" cy="583"/><circle cx="354" cy="569"/><circle cx="139" cy="569"/><circle cx="350" cy="559"/><circle cx="335" cy="553"/><circle cx="315" cy="547"/><circle cx="278" cy="541"/><circle cx="283" cy="529"/><circle cx="329" cy="516"/><circle cx="314" cy="510"/><circle cx="213" cy="496"/><circle cx="139" cy="496"/><circle cx="178" cy="490"/><circle cx="198" cy="483"/><circle cx="139" cy="469"/><circle cx="233" cy="448"/><circle cx="139" cy="441"/><circle cx="213" cy="435"/><circle cx="194" cy="421"/><circle cx="293" cy="394"/><circle cx="139" cy="394"/><circle cx="253" cy="368"/><circle cx="361" cy="362"/><circle cx="284" cy="343"/><circle cx="274" cy="337"/><circle cx="223" cy="310"/><circle cx="213" cy="291"/><circle cx="139" cy="287"/><circle cx="307" cy="283"/><circle cx="172" cy="267"/><circle cx="185" cy="262"/><circle cx="212" cy="260"/><circle cx="196" cy="257"/><circle cx="139" cy="256"/><circle cx="168" cy="255"/><circle cx="209" cy="255"/><circle cx="202" cy="255"/><circle cx="380" cy="256"/><circle cx="139" cy="265"/><circle cx="168" cy="270"/><circle cx="244" cy="277"/><circle cx="274" cy="280"/><circle cx="381" cy="293"/><circle cx="139" cy="302"/><circle cx="183" cy="307"/><circle cx="250" cy="317"/><circle cx="206" cy="333"/><circle cx="283" cy="351"/><circle cx="290" cy="357"/><circle cx="306" cy="364"/><circle cx="221" cy="376"/><circle cx="337" cy="383"/><circle cx="210" cy="396"/><circle cx="211" cy="416"/><circle cx="139" cy="437"/><circle cx="251" cy="444"/><circle cx="139" cy="451"/><circle cx="168" cy="458"/><circle cx="178" cy="538"/><circle cx="186" cy="544"/><circle cx="196" cy="556"/><circle cx="225" cy="577"/><circle cx="139" cy="581"/><circle cx="169" cy="585"/><circle cx="191" cy="589"/><circle cx="233" cy="592"/><circle cx="139" cy="600"/><circle cx="233" cy="601"/><circle cx="139" cy="601"/><circle cx="139" cy="602"/><circle cx="284" cy="598"/><circle cx="275" cy="570"/><circle cx="242" cy="560"/><circle cx="300" cy="548"/><circle cx="317" cy="542"/><circle cx="351" cy="536"/><circle cx="229" cy="504"/><circle cx="360" cy="490"/><circle cx="264" cy="477"/><circle cx="139" cy="470"/><circle cx="166" cy="422"/><circle cx="139" cy="422"/><circle cx="213" cy="415"/><circle cx="178" cy="395"/><circle cx="139" cy="395"/><circle cx="241" cy="388"/><circle cx="139" cy="382"/><circle cx="248" cy="356"/><circle cx="285" cy="333"/><circle cx="276" cy="322"/><circle cx="139" cy="322"/><circle cx="259" cy="316"/><circle cx="295" cy="311"/><circle cx="280" cy="306"/><circle cx="278" cy="297"/><circle cx="280" cy="280"/><circle cx="165" cy="268"/><circle cx="139" cy="268"/><circle cx="198" cy="261"/><circle cx="216" cy="259"/><circle cx="256" cy="258"/><circle cx="293" cy="257"/><circle cx="314" cy="256"/><circle cx="344" cy="256"/><circle cx="323" cy="257"/><circle cx="382" cy="260"/><circle cx="392" cy="261"/><circle cx="437" cy="263"/><circle cx="290" cy="278"/><circle cx="336" cy="285"/><circle cx="264" cy="298"/><circle cx="170" cy="334"/><circle cx="193" cy="346"/><circle cx="272" cy="371"/><circle cx="201" cy="383"/></g>
<g fill="#fbe723" stroke="#fbe723"><circle cx="211" cy="465"/><circle cx="139" cy="472"/><circle cx="139" cy="499"/><circle cx="167" cy="506"/><circle cx="211" cy="513"/><circle cx="220" cy="526"/><circle cx="237" cy="532"/><circle cx="215" cy="551"/><circle cx="139" cy="551"/><circle cx="166" cy="557"/><circle cx="168" cy="568"/><circle cx="169" cy="573"/><circle cx="164" cy="586"/><circle cx="376" cy="590"/><circle cx="164" cy="593"/><circle cx="263" cy="602"/><circle cx="196" cy="585"/><circle cx="202" cy="576"/><circle cx="183" cy="571"/><circle cx="139" cy="561"/><circle cx="139" cy="549"/><circle cx="245" cy="543"/><circle cx="139" cy="531"/><circle cx="204" cy="525"/><circle cx="139" cy="518"/><circle cx="191" cy="512"/><circle cx="239" cy="498"/><circle cx="139" cy="485"/><circle cx="139" cy="478"/><circle cx="321" cy="457"/><circle cx="345" cy="443"/><circle cx="289" cy="416"/><circle cx="284" cy="389"/><circle cx="410" cy="376"/><circle cx="350" cy="363"/><circle cx="408" cy="351"/><circle cx="139" cy="345"/><circle cx="274" cy="328"/><circle cx="227" cy="307"/><circle cx="254" cy="302"/><circle cx="139" cy="298"/><circle cx="330" cy="289"/><circle cx="351" cy="285"/><circle cx="408" cy="278"/><circle cx="412" cy="275"/><circle cx="378" cy="271"/><circle cx="391" cy="262"/><circle cx="434" cy="260"/><circle cx="447" cy="259"/><circle cx="447" cy="258"/><circle cx="367" cy="257"/><circle cx="215" cy="257"/><circle cx="169" cy="259"/><circle cx="394" cy="261"/><circle cx="199" cy="262"/><circle cx="221" cy="267"/><circle cx="227" cy="279"/><circle cx="192" cy="282"/><circle cx="191" cy="290"/><circle cx="139" cy="290"/><circle cx="262" cy="308"/><circle cx="216" cy="324"/><circle cx="139" cy="359"/><circle cx="242" cy="365"/><circle cx="281" cy="371"/><circle cx="250" cy="391"/><circle cx="139" cy="404"/><circle cx="168" cy="445"/><circle cx="258" cy="452"/><circle cx="272" cy="473"/><circle cx="139" cy="473"/><circle cx="259" cy="480"/><circle cx="321" cy="486"/><circle cx="328" cy="493"/><circle cx="290" cy="507"/><circle cx="265" cy="520"/><circle cx="201" cy="527"/><circle cx="233" cy="533"/><circle cx="278" cy="539"/><circle cx="236" cy="552"/><circle cx="304" cy="557"/><circle cx="139" cy="557"/><circle cx="139" cy="563"/><circle cx="475" cy="568"/><circle cx="139" cy="578"/><circle cx="260" cy="583"/><circle cx="209" cy="587"/><circle cx="165" cy="600"/><circle cx="169" cy="603"/><circle cx="251" cy="604"/><circle cx="139" cy="604"/><circle cx="139" cy="596"/><circle cx="389" cy="593"/><circle cx="199" cy="590"/><circle cx="207" cy="577"/><circle cx="139" cy="572"/><circle cx="217" cy="556"/><circle cx="288" cy="519"/><circle cx="285" cy="512"/><circle cx="231" cy="485"/><circle cx="199" cy="479"/><circle cx="411" cy="465"/><circle cx="139" cy="465"/><circle cx="301" cy="451"/><circle cx="139" cy="451"/><circle cx="252" cy="424"/><circle cx="300" cy="417"/><circle cx="384" cy="410"/><circle cx="332" cy="377"/><circle cx="384" cy="329"/><circle cx="139" cy="318"/><circle cx="267" cy="313"/><circle cx="169" cy="294"/><circle cx="261" cy="282"/><circle cx="268" cy="279"/><circle cx="139" cy="276"/><circle cx="139" cy="273"/><circle cx="198" cy="260"/><circle cx="176" cy="259"/><circle cx="195" cy="258"/><circle cx="275" cy="258"/><circle cx="276" cy="260"/><circle cx="139" cy="260"/><circle cx="139" cy="262"/><circle cx="335" cy="263"/><circle cx="270" cy="265"/><circle cx="177" cy="268"/><circle cx="185" cy="270"/><circle cx="139" cy="270"/><circle cx="251" cy="279"/><circle cx="284" cy="283"/><circle cx="255" cy="291"/><circle cx="244" cy="295"/><circle cx="139" cy="295"/><circle cx="178" cy="314"/><circle cx="139" cy="314"/><circle cx="181" cy="325"/><circle cx="180" cy="330"/><circle cx="202" cy="336"/><circle cx="195" cy="341"/><circle cx="168" cy="347"/><circle cx="173" cy="353"/><circle cx="165" cy="372"/><circle cx="169" cy="398"/><circle cx="139" cy="398"/><circle cx="139" cy="459"/><circle cx="139" cy="487"/><circle cx="219" cy="494"/><circle cx="165" cy="514"/><circle cx="139" cy="514"/><circle cx="179" cy="521"/><circle cx="139" cy="527"/><circle cx="280" cy="534"/><circle cx="139" cy="546"/><circle cx="304" cy="558"/><circle cx="139" cy="569"/><circle cx="304" cy="574"/><circle cx="333" cy="584"/><circle cx="392" cy="588"/><circle cx="378" cy="603"/><circle cx="395" cy="604"/><circle cx="329" cy="605"/><circle cx="139" cy="605"/><circle cx="249" cy="604"/><circle cx="139" cy="603"/><circle cx="262" cy="601"/><circle cx="139" cy="597"/><circle cx="333" cy="573"/><circle cx="253" cy="563"/><circle cx="286" cy="545"/><circle cx="139" cy="539"/><circle cx="349" cy="533"/><circle cx="314" cy="526"/><circle cx="139" cy="526"/><circle cx="372" cy="520"/><circle cx="369" cy="493"/><circle cx="439" cy="486"/><circle cx="386" cy="473"/><circle cx="302" cy="431"/><circle cx="353" cy="424"/><circle cx="327" cy="418"/><circle cx="247" cy="411"/><circle cx="228" cy="404"/><circle cx="139" cy="398"/><circle cx="227" cy="384"/><circle cx="260" cy="378"/><circle cx="295" cy="372"/><circle cx="270" cy="365"/><circle cx="263" cy="341"/><circle cx="139" cy="341"/><circle cx="219" cy="336"/><circle cx="175" cy="325"/><circle cx="203" cy="314"/><circle cx="139" cy="314"/><circle cx="200" cy="309"/><circle cx="235" cy="291"/><circle cx="255" cy="277"/><circle cx="367" cy="274"/><circle cx="351" cy="268"/><circle cx="466" cy="264"/><circle cx="139" cy="263"/><circle cx="320" cy="260"/><circle cx="380" cy="259"/><circle cx="327" cy="259"/><circle cx="139" cy="261"/><circle cx="452" cy="269"/><circle cx="223" cy="271"/><circle cx="201" cy="274"/><circle cx="165" cy="280"/><circle cx="175" cy="284"/><circle cx="291" cy="288"/><circle cx="248" cy="310"/><circle cx="225" cy="315"/><circle cx="274" cy="336"/><circle cx="259" cy="342"/><circle cx="293" cy="379"/><circle cx="354" cy="385"/><circle cx="292" cy="392"/><circle cx="139" cy="392"/><circle cx="343" cy="399"/><circle cx="240" cy="412"/><circle cx="297" cy="419"/><circle cx="170" cy="432"/><circle cx="139" cy="432"/><circle cx="176" cy="467"/><circle cx="262" cy="474"/><circle cx="362" cy="481"/><circle cx="290" cy="488"/><circle cx="324" cy="501"/><circle cx="293" cy="508"/><circle cx="325" cy="521"/><circle cx="345" cy="528"/><circle cx="139" cy="528"/><circle cx="290" cy="559"/><circle cx="361" cy="575"/><circle cx="334" cy="606"/><circle cx="343" cy="606"/><circle cx="139" cy="604"/><circle cx="139" cy="602"/><circle cx="288" cy="595"/><circle cx="385" cy="584"/><circle cx="405" cy="574"/><circle cx="300" cy="552"/><circle cx="252" cy="534"/><circle cx="258" cy="527"/><circle cx="342" cy="508"/><circle cx="462" cy="480"/><circle cx="139" cy="473"/><circle cx="300" cy="467"/><circle cx="139" cy="439"/><circle cx="290" cy="425"/><circle cx="139" cy="419"/><circle cx="249" cy="412"/><circle cx="399" cy="392"/><circle cx="350" cy="379"/><circle cx="290" cy="373"/><circle cx="139" cy="366"/><circle cx="257" cy="360"/><circle cx="281" cy="354"/><circle cx="139" cy="336"/><circle cx="139" cy="325"/><circle cx="239" cy="320"/><circle cx="247" cy="315"/><circle cx="296" cy="310"/><circle cx="363" cy="301"/><circle cx="353" cy="296"/><circle cx="377" cy="292"/><circle cx="308" cy="272"/><circle cx="255" cy="269"/><circle cx="139" cy="269"/><circle cx="139" cy="265"/><circle cx="278" cy="261"/><circle cx="266" cy="260"/><circle cx="254" cy="261"/><circle cx="224" cy="262"/><circle cx="139" cy="262"/><circle cx="139" cy="264"/><circle cx="166" cy="265"/><circle cx="233" cy="270"/><circle cx="262" cy="272"/><circle cx="139" cy="272"/><circle cx="330" cy="278"/><circle cx="139" cy="278"/><circle cx="312" cy="289"/><circle cx="139" cy="293"/><circle cx="289" cy="297"/><circle cx="309" cy="306"/><circle cx="299" cy="311"/><circle cx="273" cy="321"/><circle cx="256" cy="326"/><circle cx="139" cy="331"/><circle cx="252" cy="337"/><circle cx="243" cy="343"/><circle cx="240" cy="349"/></g>
</g>
<rect x="112.0" y="53.9" width="591.90" height="579.00" fill="none" stroke="#000" stroke-width="1.67" stroke-linejoin="miter"/><path d="M138.90 632.90v7.3 M255.88 632.90v7.3 M372.86 632.90v7.3 M489.83 632.90v7.3 M606.81 632.90v7.3 M112.00 602.90h-7.3 M112.00 519.22h-7.3 M112.00 435.53h-7.3 M112.00 351.85h-7.3 M112.00 268.17h-7.3 M112.00 184.49h-7.3 M112.00 100.80h-7.3 M770.00 632.80h7.3 M770.00 488.30h7.3 M770.00 343.80h7.3 M770.00 199.30h7.3 M770.00 54.80h7.3" stroke="#000" stroke-width="1.67" fill="none"/>
<rect x="741.2" y="53.9" width="28.80" height="579.00" fill="url(#cbg)" stroke="#000" stroke-width="1.67"/>
<text x="110.1" y="41.8" font-size="25.0" textLength="596.6" lengthAdjust="spacingAndGlyphs">Élévation solaire en fonction de Vitesse du vent</text><text x="290.0" y="690.6" font-size="20.8" textLength="236.5" lengthAdjust="spacingAndGlyphs">Vitesse du vent (km/h)</text><text x="39.8" y="447.4" font-size="20.8" textLength="205" lengthAdjust="spacingAndGlyphs" transform="rotate(-90 39.8 447.4)">Élévation solaire (°)</text><text x="934.0" y="473.3" font-size="20.8" textLength="151.6" lengthAdjust="spacingAndGlyphs" transform="rotate(-90 934.0 473.3)">Temps (ancien</text><text x="934.0" y="289.9" font-size="20.8" textLength="72.0" lengthAdjust="spacingAndGlyphs" transform="rotate(-90 934.0 289.9)">récent)</text><path d="M926.9 314.4V300.2M923.2 303.6L926.9 299.9L930.6 303.6" fill="none" stroke="#000" stroke-width="1.5"/><text x="138.9" y="662.6" font-size="21.6" text-anchor="middle" textLength="12.2" lengthAdjust="spacingAndGlyphs">0</text><text x="255.88" y="662.6" font-size="21.6" text-anchor="middle" textLength="12.2" lengthAdjust="spacingAndGlyphs">5</text><text x="372.86" y="662.6" font-size="21.6" text-anchor="middle" textLength="24.4" lengthAdjust="spacingAndGlyphs">10</text><text x="489.83" y="662.6" font-size="21.6" text-anchor="middle" textLength="24.4" lengthAdjust="spacingAndGlyphs">15</text><text x="606.81" y="662.6" font-size="21.6" text-anchor="middle" textLength="24.4" lengthAdjust="spacingAndGlyphs">20</text><text x="96.3" y="610.7" font-size="21.6" text-anchor="end" textLength="42.6" lengthAdjust="spacingAndGlyphs">−60</text><text x="96.3" y="527.02" font-size="21.6" text-anchor="end" textLength="42.6" lengthAdjust="spacingAndGlyphs">−40</text><text x="96.3" y="443.33" font-size="21.6" text-anchor="end" textLength="42.6" lengthAdjust="spacingAndGlyphs">−20</text><text x="96.3" y="359.65" font-size="21.6" text-anchor="end" textLength="12.2" lengthAdjust="spacingAndGlyphs">0</text><text x="96.3" y="275.97" font-size="21.6" text-anchor="end" textLength="25.0" lengthAdjust="spacingAndGlyphs">20</text><text x="96.3" y="192.29" font-size="21.6" text-anchor="end" textLength="25.0" lengthAdjust="spacingAndGlyphs">40</text><text x="96.3" y="108.6" font-size="21.6" text-anchor="end" textLength="25.0" lengthAdjust="spacingAndGlyphs">60</text><text x="785.0" y="630.7" font-size="21.6" textLength="119.5" lengthAdjust="spacingAndGlyphs">2025-03-10</text><text x="785.0" y="653.9" font-size="21.6" textLength="124" lengthAdjust="spacingAndGlyphs">09:35 (UTC)</text><text x="785.0" y="486.2" font-size="21.6" textLength="119.5" lengthAdjust="spacingAndGlyphs">2025-05-12</text><text x="785.0" y="509.4" font-size="21.6" textLength="124" lengthAdjust="spacingAndGlyphs">23:13 (UTC)</text><text x="785.0" y="341.7" font-size="21.6" textLength="119.5" lengthAdjust="spacingAndGlyphs">2025-07-15</text><text x="785.0" y="364.9" font-size="21.6" textLength="124" lengthAdjust="spacingAndGlyphs">12:51 (UTC)</text><text x="785.0" y="197.2" font-size="21.6" textLength="119.5" lengthAdjust="spacingAndGlyphs">2025-09-17</text><text x="785.0" y="220.4" font-size="21.6" textLength="124" lengthAdjust="spacingAndGlyphs">02:29 (UTC)</text><text x="785.0" y="52.7" font-size="21.6" textLength="119.5" lengthAdjust="spacingAndGlyphs">2025-11-19</text><text x="785.0" y="75.9" font-size="21.6" textLength="124" lengthAdjust="spacingAndGlyphs">16:08 (UTC)</text>
</svg>
</body></html>
